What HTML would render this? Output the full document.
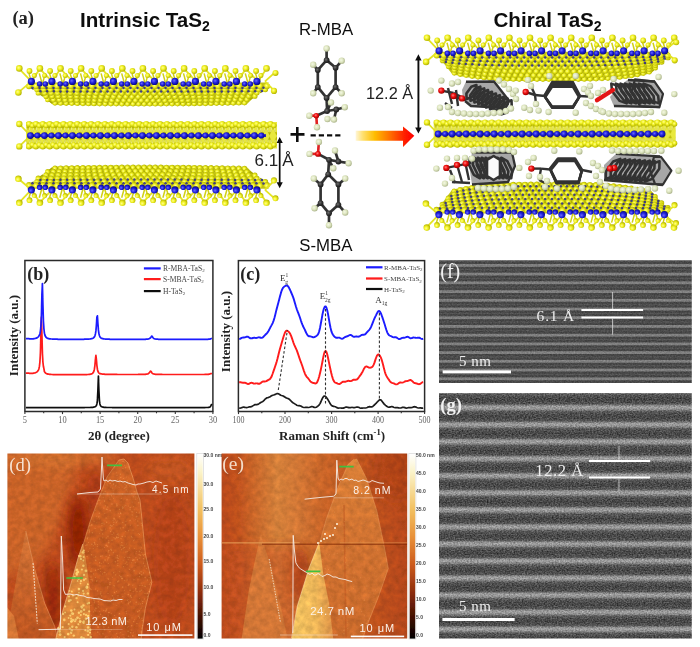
<!DOCTYPE html>
<html><head><meta charset="utf-8"><style>
html,body{margin:0;padding:0;background:#fff;width:700px;height:647px;overflow:hidden}
svg{display:block}
</style></head><body>
<svg width="700" height="647" viewBox="0 0 700 647">

<defs>
<radialGradient id="gy" cx="0.4" cy="0.4" r="0.6"><stop offset="0" stop-color="#ffff90"/><stop offset="0.45" stop-color="#f2f226"/><stop offset="1" stop-color="#b4b400"/></radialGradient>
<radialGradient id="gb" cx="0.4" cy="0.4" r="0.6"><stop offset="0" stop-color="#6a6aff"/><stop offset="0.5" stop-color="#2222dd"/><stop offset="1" stop-color="#0a0a8a"/></radialGradient>
<radialGradient id="gh" cx="0.4" cy="0.4" r="0.6"><stop offset="0" stop-color="#f4f8e4"/><stop offset="0.55" stop-color="#dde5bf"/><stop offset="1" stop-color="#b0b890"/></radialGradient>
<radialGradient id="gc" cx="0.4" cy="0.4" r="0.6"><stop offset="0" stop-color="#707070"/><stop offset="0.5" stop-color="#3a3a3a"/><stop offset="1" stop-color="#1a1a1a"/></radialGradient>
<radialGradient id="go" cx="0.4" cy="0.4" r="0.6"><stop offset="0" stop-color="#ff8080"/><stop offset="0.5" stop-color="#ee1010"/><stop offset="1" stop-color="#a00000"/></radialGradient>
<linearGradient id="arrowg" x1="0" y1="0" x2="1" y2="0">
 <stop offset="0" stop-color="#fff6d8"/><stop offset="0.12" stop-color="#ffe070"/><stop offset="0.32" stop-color="#ffbe00"/><stop offset="0.6" stop-color="#ff6a00"/><stop offset="0.85" stop-color="#ff1a00"/><stop offset="1" stop-color="#ff0000"/></linearGradient>
<linearGradient id="cbar" x1="0" y1="0" x2="0" y2="1">
 <stop offset="0" stop-color="#ffffff"/><stop offset="0.1" stop-color="#fbf3c8"/><stop offset="0.3" stop-color="#f2c060"/><stop offset="0.45" stop-color="#e89038"/><stop offset="0.6" stop-color="#cc5a1c"/><stop offset="0.75" stop-color="#8c2c0c"/><stop offset="0.9" stop-color="#3a0c02"/><stop offset="1" stop-color="#000000"/></linearGradient>

<pattern id="patUnder" patternUnits="userSpaceOnUse" width="4.3" height="3.6" patternTransform="skewX(28)">
 <rect width="4.3" height="3.6" fill="#bcbc08"/>
 <circle cx="2.15" cy="1.8" r="2.0" fill="url(#gy)"/>
</pattern>
<pattern id="patUpper" patternUnits="userSpaceOnUse" width="5.15" height="15">
 <rect width="5.15" height="15" fill="#e6e628"/>
 <path d="M0 0 L2.6 15 M5.15 0 L2.6 15" stroke="#c0c008" stroke-width="0.9"/>
</pattern>
<pattern id="patEdge" patternUnits="userSpaceOnUse" width="7" height="26.5">
 <rect width="7" height="26.5" fill="#e8e83c"/>
 <path d="M0 2.5 L3.5 10 L7 2.5 M0 21.5 L3.5 14 L7 21.5" stroke="#b8b800" stroke-width="1.2" fill="none"/>
 <path d="M1.2 4 L2.4 8 M4.6 8 L5.8 4 M1.2 20 L2.4 16 M4.6 16 L5.8 20" stroke="#f8f8a0" stroke-width="0.9" fill="none"/>
</pattern>

<filter id="afmNoise" x="0" y="0" width="1" height="1" color-interpolation-filters="sRGB">
 <feTurbulence type="fractalNoise" baseFrequency="0.16" numOctaves="3" seed="11" result="t"/>
 <feColorMatrix in="t" type="matrix" values="1 0 0 0 0  1 0 0 0 0  1 0 0 0 0  0 0 0 0 1" result="g"/>
 <feComposite in="SourceGraphic" in2="g" operator="arithmetic" k1="0.28" k2="0.86" k3="0" k4="0"/>
 <feGaussianBlur stdDeviation="0.45"/>
</filter>
<filter id="afmNoise2" x="0" y="0" width="1" height="1" color-interpolation-filters="sRGB">
 <feTurbulence type="fractalNoise" baseFrequency="0.16" numOctaves="3" seed="21" result="t"/>
 <feColorMatrix in="t" type="matrix" values="1 0 0 0 0  1 0 0 0 0  1 0 0 0 0  0 0 0 0 1" result="g"/>
 <feComposite in="SourceGraphic" in2="g" operator="arithmetic" k1="0.28" k2="0.86" k3="0" k4="0"/>
 <feGaussianBlur stdDeviation="0.45"/>
</filter>
<filter id="temgF" x="0" y="0" width="1" height="1" color-interpolation-filters="sRGB">
 <feTurbulence type="fractalNoise" baseFrequency="0.6 0.75" numOctaves="2" seed="5" result="t"/>
 <feColorMatrix in="t" type="matrix" values="1 0 0 0 0  1 0 0 0 0  1 0 0 0 0  0 0 0 0 1" result="g"/>
 <feComposite in="SourceGraphic" in2="g" operator="arithmetic" k1="0" k2="1" k3="0.42" k4="-0.21"/>
 <feGaussianBlur stdDeviation="0.6"/>
</filter>
<filter id="temfF" x="0" y="0" width="1" height="1" color-interpolation-filters="sRGB">
 <feTurbulence type="fractalNoise" baseFrequency="0.6 0.8" numOctaves="2" seed="3" result="t"/>
 <feColorMatrix in="t" type="matrix" values="1 0 0 0 0  1 0 0 0 0  1 0 0 0 0  0 0 0 0 1" result="g"/>
 <feComposite in="SourceGraphic" in2="g" operator="arithmetic" k1="0" k2="1" k3="0.2" k4="-0.1"/>
 <feGaussianBlur stdDeviation="0.75"/>
</filter>

<pattern id="bandG" patternUnits="userSpaceOnUse" x="0" y="0" width="20" height="17.05" patternTransform="translate(0,14.30)">
 <rect width="20" height="17.05" fill="url(#bandGrad)"/>
</pattern>
<linearGradient id="bandGrad" x1="0" y1="0" x2="0" y2="1">
 <stop offset="0" stop-color="#a2a2a2"/><stop offset="0.12" stop-color="#8e8e8e"/><stop offset="0.26" stop-color="#565656"/><stop offset="0.55" stop-color="#464646"/><stop offset="0.8" stop-color="#545454"/><stop offset="0.9" stop-color="#8c8c8c"/><stop offset="1" stop-color="#a2a2a2"/></linearGradient>
<filter id="noiseTEMf" x="0" y="0" width="1" height="1">
 <feTurbulence type="fractalNoise" baseFrequency="0.9 0.5" numOctaves="2" seed="3" result="n"/>
 <feColorMatrix type="matrix" values="0 0 0 0 0.5  0 0 0 0 0.5  0 0 0 0 0.5  0.6 0 0 0 -0.3" />
</filter>
<filter id="noiseTEMg" x="0" y="0" width="1" height="1">
 <feTurbulence type="fractalNoise" baseFrequency="0.7 0.45" numOctaves="2" seed="5" result="n"/>
 <feColorMatrix type="matrix" values="1.4 0 0 0 -0.2  1.4 0 0 0 -0.2  1.4 0 0 0 -0.2  0 0 0 0 0.55" />
</filter>
<filter id="noiseAFM" x="0" y="0" width="1" height="1">
 <feTurbulence type="fractalNoise" baseFrequency="0.06" numOctaves="3" seed="11"/>
 <feColorMatrix type="matrix" values="0 0 0 0 0.55  0 0 0 0 0.2  0 0 0 0 0.03  -2.2 0 0 0 1.35" />
</filter>
<filter id="noiseAFM2" x="0" y="0" width="1" height="1">
 <feTurbulence type="fractalNoise" baseFrequency="0.35" numOctaves="2" seed="2"/>
 <feColorMatrix type="matrix" values="0 0 0 0 1  0 0 0 0 0.75  0 0 0 0 0.45  2.5 0 0 0 -1.25" />
</filter>
<filter id="blur05"><feGaussianBlur stdDeviation="0.5"/></filter>
<filter id="blur03"><feGaussianBlur stdDeviation="0.35"/></filter>
<filter id="gblur" filterUnits="userSpaceOnUse" x="0" y="0" width="700" height="647"><feGaussianBlur stdDeviation="0.4"/></filter><filter id="blur6" x="-50%" y="-50%" width="200%" height="200%"><feGaussianBlur stdDeviation="6"/></filter><filter id="blurBig" x="-50%" y="-50%" width="200%" height="200%"><feGaussianBlur stdDeviation="10"/></filter></defs>
<rect width="700" height="647" fill="#fff"/>
<g filter="url(#gblur)">
<text x="12.4" y="24.2" font-family="Liberation Serif" font-weight="bold" font-size="18.5" fill="#222">(a)</text>
<text x="80" y="27.4" font-family="Liberation Sans" font-weight="bold" font-size="20.6" fill="#111">Intrinsic TaS<tspan font-size="14" dy="4">2</tspan></text>
<text x="493.5" y="27.2" font-family="Liberation Sans" font-weight="bold" font-size="20.6" fill="#111">Chiral TaS<tspan font-size="14" dy="4">2</tspan></text>
<text x="299" y="34.9" font-family="Liberation Sans" font-size="16.8" fill="#111">R-MBA</text>
<text x="299.3" y="250.7" font-family="Liberation Sans" font-size="16.8" fill="#111">S-MBA</text>
<g transform="translate(0,68.4)">
<polygon points="27,14 269,14 246.5,36.1 236.8,36.3 227.1,36.5 217.5,36.7 207.8,36.8 198.1,37 188.5,37.1 178.8,37.2 169.1,37.2 159.4,37.3 149.8,37.3 140.1,37.3 130.4,37.3 120.7,37.2 111.1,37.2 101.4,37.1 91.7,37 82.1,36.9 72.4,36.7 62.7,36.6 53,36.4" fill="#c4c418"/>
<path d="M29 17.8 L33.7 21.1 M36 17.8 L40.4 21.2 M43 17.8 L47.1 21.2 M50 17.8 L53.8 21.2 M57 17.8 L60.5 21.2 M64 17.8 L67.2 21.3 M71 17.8 L73.9 21.3 M78 17.8 L80.7 21.3 M85 17.8 L87.4 21.3 M92 17.8 L94.1 21.3 M99 17.8 L100.8 21.4 M106 17.8 L107.5 21.4 M113 17.8 L114.2 21.4 M120 17.8 L120.9 21.4 M127 17.8 L127.7 21.4 M134 17.8 L134.4 21.4 M141 17.8 L141.1 21.4 M148 17.8 L147.8 21.4 M155 17.8 L154.5 21.4 M162 17.8 L161.2 21.4 M169 17.8 L167.9 21.4 M176 17.8 L174.7 21.4 M183 17.8 L181.4 21.4 M190 17.8 L188.1 21.4 M197 17.8 L194.8 21.3 M204 17.8 L201.5 21.3 M211 17.8 L208.2 21.3 M218 17.8 L214.9 21.3 M225 17.8 L221.7 21.3 M232 17.8 L228.4 21.2 M239 17.8 L235.1 21.2 M246 17.8 L241.8 21.2 M253 17.8 L248.5 21.2 M260 17.8 L255.2 21.1 M267 17.8 L261.9 21.1 M37 21.1 L41.5 24.5 M43.7 21.2 L47.9 24.6 M50.4 21.2 L54.4 24.6 M57.2 21.2 L60.8 24.7 M63.9 21.3 L67.2 24.7 M70.6 21.3 L73.7 24.8 M77.3 21.3 L80.1 24.8 M84 21.3 L86.5 24.9 M90.7 21.3 L92.9 24.9 M97.4 21.4 L99.4 24.9 M104.2 21.4 L105.8 24.9 M110.9 21.4 L112.2 25 M117.6 21.4 L118.7 25 M124.3 21.4 L125.1 25 M131 21.4 L131.5 25 M137.7 21.4 L137.9 25 M144.4 21.4 L144.4 25 M151.2 21.4 L150.8 25 M157.9 21.4 L157.2 25 M164.6 21.4 L163.7 25 M171.3 21.4 L170.1 25 M178 21.4 L176.5 24.9 M184.7 21.4 L183 24.9 M191.4 21.3 L189.4 24.9 M198.2 21.3 L195.8 24.9 M204.9 21.3 L202.2 24.8 M211.6 21.3 L208.7 24.8 M218.3 21.3 L215.1 24.8 M225 21.2 L221.5 24.7 M231.7 21.2 L228 24.7 M238.4 21.2 L234.4 24.6 M245.2 21.2 L240.8 24.6 M251.9 21.1 L247.2 24.5 M258.6 21.1 L253.7 24.5 M265.3 21.1 L260.1 24.4 M38.3 24.5 L43 27.9 M44.7 24.6 L49.1 28 M51.2 24.6 L55.2 28.1 M57.6 24.7 L61.4 28.2 M64 24.7 L67.5 28.2 M70.4 24.8 L73.7 28.3 M76.9 24.8 L79.8 28.3 M83.3 24.8 L86 28.4 M89.7 24.9 L92.1 28.4 M96.2 24.9 L98.2 28.5 M102.6 24.9 L104.4 28.5 M109 24.9 L110.5 28.5 M115.4 25 L116.7 28.6 M121.9 25 L122.8 28.6 M128.3 25 L129 28.6 M134.7 25 L135.1 28.6 M141.2 25 L141.2 28.6 M147.6 25 L147.4 28.6 M154 25 L153.5 28.6 M160.4 25 L159.7 28.6 M166.9 25 L165.8 28.6 M173.3 25 L172 28.5 M179.7 24.9 L178.1 28.5 M186.2 24.9 L184.2 28.5 M192.6 24.9 L190.4 28.4 M199 24.9 L196.5 28.4 M205.5 24.8 L202.7 28.4 M211.9 24.8 L208.8 28.3 M218.3 24.7 L215 28.3 M224.7 24.7 L221.1 28.2 M231.2 24.7 L227.2 28.1 M237.6 24.6 L233.4 28.1 M244 24.5 L239.5 28 M250.5 24.5 L245.7 27.9 M256.9 24.4 L251.8 27.8 M46 28 L50.5 31.4 M52.2 28 L56.4 31.5 M58.3 28.1 L62.2 31.6 M64.5 28.2 L68.1 31.7 M70.6 28.2 L74 31.8 M76.7 28.3 L79.8 31.8 M82.9 28.4 L85.7 31.9 M89 28.4 L91.5 32 M95.2 28.4 L97.4 32 M101.3 28.5 L103.3 32.1 M107.5 28.5 L109.1 32.1 M113.6 28.5 L115 32.1 M119.7 28.6 L120.8 32.2 M125.9 28.6 L126.7 32.2 M132 28.6 L132.5 32.2 M138.2 28.6 L138.4 32.2 M144.3 28.6 L144.3 32.2 M150.5 28.6 L150.1 32.2 M156.6 28.6 L156 32.2 M162.7 28.6 L161.8 32.2 M168.9 28.6 L167.7 32.1 M175 28.5 L173.5 32.1 M181.2 28.5 L179.4 32.1 M187.3 28.5 L185.3 32 M193.5 28.4 L191.1 32 M199.6 28.4 L197 31.9 M205.7 28.3 L202.8 31.9 M211.9 28.3 L208.7 31.8 M218 28.2 L214.5 31.7 M224.2 28.2 L220.4 31.7 M230.3 28.1 L226.3 31.6 M236.5 28 L232.1 31.5 M242.6 27.9 L238 31.4 M248.8 27.9 L243.8 31.3 M254.9 27.8 L249.7 31.2 M47.6 31.4 L52.3 34.9 M53.5 31.5 L57.8 35 M59.3 31.6 L63.4 35.1 M65.2 31.7 L69 35.2 M71 31.7 L74.5 35.3 M76.9 31.8 L80.1 35.4 M82.8 31.9 L85.7 35.4 M88.6 31.9 L91.3 35.5 M94.5 32 L96.8 35.6 M100.3 32 L102.4 35.6 M106.2 32.1 L108 35.7 M112 32.1 L113.5 35.7 M117.9 32.1 L119.1 35.7 M123.8 32.2 L124.7 35.8 M129.6 32.2 L130.3 35.8 M135.5 32.2 L135.8 35.8 M141.3 32.2 L141.4 35.8 M147.2 32.2 L147 35.8 M153 32.2 L152.6 35.8 M158.9 32.2 L158.1 35.8 M164.8 32.2 L163.7 35.8 M170.6 32.1 L169.3 35.7 M176.5 32.1 L174.8 35.7 M182.3 32.1 L180.4 35.6 M188.2 32 L186 35.6 M194 32 L191.6 35.5 M199.9 31.9 L197.1 35.5 M205.8 31.8 L202.7 35.4 M211.6 31.8 L208.3 35.3 M217.5 31.7 L213.8 35.2 M223.3 31.6 L219.4 35.1 M229.2 31.5 L225 35 M235 31.4 L230.6 34.9 M240.9 31.3 L236.1 34.8 M246.8 31.2 L241.7 34.7" stroke="#a8a800" stroke-width="1.3" fill="none"/>
<circle cx="55" cy="34.9" r="2.4" fill="url(#gy)"/>
<circle cx="60.6" cy="35" r="2.4" fill="url(#gy)"/>
<circle cx="66.2" cy="35.1" r="2.4" fill="url(#gy)"/>
<circle cx="71.8" cy="35.2" r="2.4" fill="url(#gy)"/>
<circle cx="77.3" cy="35.3" r="2.4" fill="url(#gy)"/>
<circle cx="82.9" cy="35.4" r="2.4" fill="url(#gy)"/>
<circle cx="88.5" cy="35.5" r="2.4" fill="url(#gy)"/>
<circle cx="94" cy="35.5" r="2.4" fill="url(#gy)"/>
<circle cx="99.6" cy="35.6" r="2.4" fill="url(#gy)"/>
<circle cx="105.2" cy="35.6" r="2.4" fill="url(#gy)"/>
<circle cx="110.8" cy="35.7" r="2.4" fill="url(#gy)"/>
<circle cx="116.3" cy="35.7" r="2.4" fill="url(#gy)"/>
<circle cx="121.9" cy="35.8" r="2.4" fill="url(#gy)"/>
<circle cx="127.5" cy="35.8" r="2.4" fill="url(#gy)"/>
<circle cx="133.1" cy="35.8" r="2.4" fill="url(#gy)"/>
<circle cx="138.6" cy="35.8" r="2.4" fill="url(#gy)"/>
<circle cx="144.2" cy="35.8" r="2.4" fill="url(#gy)"/>
<circle cx="149.8" cy="35.8" r="2.4" fill="url(#gy)"/>
<circle cx="155.3" cy="35.8" r="2.4" fill="url(#gy)"/>
<circle cx="160.9" cy="35.8" r="2.4" fill="url(#gy)"/>
<circle cx="166.5" cy="35.7" r="2.4" fill="url(#gy)"/>
<circle cx="172.1" cy="35.7" r="2.4" fill="url(#gy)"/>
<circle cx="177.6" cy="35.7" r="2.4" fill="url(#gy)"/>
<circle cx="183.2" cy="35.6" r="2.4" fill="url(#gy)"/>
<circle cx="188.8" cy="35.6" r="2.4" fill="url(#gy)"/>
<circle cx="194.3" cy="35.5" r="2.4" fill="url(#gy)"/>
<circle cx="199.9" cy="35.4" r="2.4" fill="url(#gy)"/>
<circle cx="205.5" cy="35.4" r="2.4" fill="url(#gy)"/>
<circle cx="211.1" cy="35.3" r="2.4" fill="url(#gy)"/>
<circle cx="216.6" cy="35.2" r="2.4" fill="url(#gy)"/>
<circle cx="222.2" cy="35.1" r="2.4" fill="url(#gy)"/>
<circle cx="227.8" cy="35" r="2.4" fill="url(#gy)"/>
<circle cx="233.3" cy="34.9" r="2.4" fill="url(#gy)"/>
<circle cx="238.9" cy="34.8" r="2.4" fill="url(#gy)"/>
<circle cx="244.5" cy="34.7" r="2.4" fill="url(#gy)"/>
<circle cx="47.6" cy="31.4" r="2.5" fill="url(#gy)"/>
<circle cx="53.5" cy="31.5" r="2.5" fill="url(#gy)"/>
<circle cx="59.3" cy="31.6" r="2.5" fill="url(#gy)"/>
<circle cx="65.2" cy="31.7" r="2.5" fill="url(#gy)"/>
<circle cx="71" cy="31.7" r="2.5" fill="url(#gy)"/>
<circle cx="76.9" cy="31.8" r="2.5" fill="url(#gy)"/>
<circle cx="82.8" cy="31.9" r="2.5" fill="url(#gy)"/>
<circle cx="88.6" cy="31.9" r="2.5" fill="url(#gy)"/>
<circle cx="94.5" cy="32" r="2.5" fill="url(#gy)"/>
<circle cx="100.3" cy="32" r="2.5" fill="url(#gy)"/>
<circle cx="106.2" cy="32.1" r="2.5" fill="url(#gy)"/>
<circle cx="112" cy="32.1" r="2.5" fill="url(#gy)"/>
<circle cx="117.9" cy="32.1" r="2.5" fill="url(#gy)"/>
<circle cx="123.8" cy="32.2" r="2.5" fill="url(#gy)"/>
<circle cx="129.6" cy="32.2" r="2.5" fill="url(#gy)"/>
<circle cx="135.5" cy="32.2" r="2.5" fill="url(#gy)"/>
<circle cx="141.3" cy="32.2" r="2.5" fill="url(#gy)"/>
<circle cx="147.2" cy="32.2" r="2.5" fill="url(#gy)"/>
<circle cx="153" cy="32.2" r="2.5" fill="url(#gy)"/>
<circle cx="158.9" cy="32.2" r="2.5" fill="url(#gy)"/>
<circle cx="164.8" cy="32.2" r="2.5" fill="url(#gy)"/>
<circle cx="170.6" cy="32.1" r="2.5" fill="url(#gy)"/>
<circle cx="176.5" cy="32.1" r="2.5" fill="url(#gy)"/>
<circle cx="182.3" cy="32.1" r="2.5" fill="url(#gy)"/>
<circle cx="188.2" cy="32" r="2.5" fill="url(#gy)"/>
<circle cx="194" cy="32" r="2.5" fill="url(#gy)"/>
<circle cx="199.9" cy="31.9" r="2.5" fill="url(#gy)"/>
<circle cx="205.8" cy="31.8" r="2.5" fill="url(#gy)"/>
<circle cx="211.6" cy="31.8" r="2.5" fill="url(#gy)"/>
<circle cx="217.5" cy="31.7" r="2.5" fill="url(#gy)"/>
<circle cx="223.3" cy="31.6" r="2.5" fill="url(#gy)"/>
<circle cx="229.2" cy="31.5" r="2.5" fill="url(#gy)"/>
<circle cx="235" cy="31.4" r="2.5" fill="url(#gy)"/>
<circle cx="240.9" cy="31.3" r="2.5" fill="url(#gy)"/>
<circle cx="246.8" cy="31.2" r="2.5" fill="url(#gy)"/>
<circle cx="46" cy="28" r="2.6" fill="url(#gy)"/>
<circle cx="52.2" cy="28" r="2.6" fill="url(#gy)"/>
<circle cx="58.3" cy="28.1" r="2.6" fill="url(#gy)"/>
<circle cx="64.5" cy="28.2" r="2.6" fill="url(#gy)"/>
<circle cx="70.6" cy="28.2" r="2.6" fill="url(#gy)"/>
<circle cx="76.7" cy="28.3" r="2.6" fill="url(#gy)"/>
<circle cx="82.9" cy="28.4" r="2.6" fill="url(#gy)"/>
<circle cx="89" cy="28.4" r="2.6" fill="url(#gy)"/>
<circle cx="95.2" cy="28.4" r="2.6" fill="url(#gy)"/>
<circle cx="101.3" cy="28.5" r="2.6" fill="url(#gy)"/>
<circle cx="107.5" cy="28.5" r="2.6" fill="url(#gy)"/>
<circle cx="113.6" cy="28.5" r="2.6" fill="url(#gy)"/>
<circle cx="119.7" cy="28.6" r="2.6" fill="url(#gy)"/>
<circle cx="125.9" cy="28.6" r="2.6" fill="url(#gy)"/>
<circle cx="132" cy="28.6" r="2.6" fill="url(#gy)"/>
<circle cx="138.2" cy="28.6" r="2.6" fill="url(#gy)"/>
<circle cx="144.3" cy="28.6" r="2.6" fill="url(#gy)"/>
<circle cx="150.5" cy="28.6" r="2.6" fill="url(#gy)"/>
<circle cx="156.6" cy="28.6" r="2.6" fill="url(#gy)"/>
<circle cx="162.7" cy="28.6" r="2.6" fill="url(#gy)"/>
<circle cx="168.9" cy="28.6" r="2.6" fill="url(#gy)"/>
<circle cx="175" cy="28.5" r="2.6" fill="url(#gy)"/>
<circle cx="181.2" cy="28.5" r="2.6" fill="url(#gy)"/>
<circle cx="187.3" cy="28.5" r="2.6" fill="url(#gy)"/>
<circle cx="193.5" cy="28.4" r="2.6" fill="url(#gy)"/>
<circle cx="199.6" cy="28.4" r="2.6" fill="url(#gy)"/>
<circle cx="205.7" cy="28.3" r="2.6" fill="url(#gy)"/>
<circle cx="211.9" cy="28.3" r="2.6" fill="url(#gy)"/>
<circle cx="218" cy="28.2" r="2.6" fill="url(#gy)"/>
<circle cx="224.2" cy="28.2" r="2.6" fill="url(#gy)"/>
<circle cx="230.3" cy="28.1" r="2.6" fill="url(#gy)"/>
<circle cx="236.5" cy="28" r="2.6" fill="url(#gy)"/>
<circle cx="242.6" cy="27.9" r="2.6" fill="url(#gy)"/>
<circle cx="248.8" cy="27.9" r="2.6" fill="url(#gy)"/>
<circle cx="254.9" cy="27.8" r="2.6" fill="url(#gy)"/>
<circle cx="38.3" cy="24.5" r="2.7" fill="url(#gy)"/>
<circle cx="44.7" cy="24.6" r="2.7" fill="url(#gy)"/>
<circle cx="51.2" cy="24.6" r="2.7" fill="url(#gy)"/>
<circle cx="57.6" cy="24.7" r="2.7" fill="url(#gy)"/>
<circle cx="64" cy="24.7" r="2.7" fill="url(#gy)"/>
<circle cx="70.4" cy="24.8" r="2.7" fill="url(#gy)"/>
<circle cx="76.9" cy="24.8" r="2.7" fill="url(#gy)"/>
<circle cx="83.3" cy="24.8" r="2.7" fill="url(#gy)"/>
<circle cx="89.7" cy="24.9" r="2.7" fill="url(#gy)"/>
<circle cx="96.2" cy="24.9" r="2.7" fill="url(#gy)"/>
<circle cx="102.6" cy="24.9" r="2.7" fill="url(#gy)"/>
<circle cx="109" cy="24.9" r="2.7" fill="url(#gy)"/>
<circle cx="115.4" cy="25" r="2.7" fill="url(#gy)"/>
<circle cx="121.9" cy="25" r="2.7" fill="url(#gy)"/>
<circle cx="128.3" cy="25" r="2.7" fill="url(#gy)"/>
<circle cx="134.7" cy="25" r="2.7" fill="url(#gy)"/>
<circle cx="141.2" cy="25" r="2.7" fill="url(#gy)"/>
<circle cx="147.6" cy="25" r="2.7" fill="url(#gy)"/>
<circle cx="154" cy="25" r="2.7" fill="url(#gy)"/>
<circle cx="160.4" cy="25" r="2.7" fill="url(#gy)"/>
<circle cx="166.9" cy="25" r="2.7" fill="url(#gy)"/>
<circle cx="173.3" cy="25" r="2.7" fill="url(#gy)"/>
<circle cx="179.7" cy="24.9" r="2.7" fill="url(#gy)"/>
<circle cx="186.2" cy="24.9" r="2.7" fill="url(#gy)"/>
<circle cx="192.6" cy="24.9" r="2.7" fill="url(#gy)"/>
<circle cx="199" cy="24.9" r="2.7" fill="url(#gy)"/>
<circle cx="205.5" cy="24.8" r="2.7" fill="url(#gy)"/>
<circle cx="211.9" cy="24.8" r="2.7" fill="url(#gy)"/>
<circle cx="218.3" cy="24.7" r="2.7" fill="url(#gy)"/>
<circle cx="224.7" cy="24.7" r="2.7" fill="url(#gy)"/>
<circle cx="231.2" cy="24.7" r="2.7" fill="url(#gy)"/>
<circle cx="237.6" cy="24.6" r="2.7" fill="url(#gy)"/>
<circle cx="244" cy="24.5" r="2.7" fill="url(#gy)"/>
<circle cx="250.5" cy="24.5" r="2.7" fill="url(#gy)"/>
<circle cx="256.9" cy="24.4" r="2.7" fill="url(#gy)"/>
<circle cx="37" cy="21.1" r="2.8" fill="url(#gy)"/>
<circle cx="43.7" cy="21.2" r="2.8" fill="url(#gy)"/>
<circle cx="50.4" cy="21.2" r="2.8" fill="url(#gy)"/>
<circle cx="57.2" cy="21.2" r="2.8" fill="url(#gy)"/>
<circle cx="63.9" cy="21.3" r="2.8" fill="url(#gy)"/>
<circle cx="70.6" cy="21.3" r="2.8" fill="url(#gy)"/>
<circle cx="77.3" cy="21.3" r="2.8" fill="url(#gy)"/>
<circle cx="84" cy="21.3" r="2.8" fill="url(#gy)"/>
<circle cx="90.7" cy="21.3" r="2.8" fill="url(#gy)"/>
<circle cx="97.4" cy="21.4" r="2.8" fill="url(#gy)"/>
<circle cx="104.2" cy="21.4" r="2.8" fill="url(#gy)"/>
<circle cx="110.9" cy="21.4" r="2.8" fill="url(#gy)"/>
<circle cx="117.6" cy="21.4" r="2.8" fill="url(#gy)"/>
<circle cx="124.3" cy="21.4" r="2.8" fill="url(#gy)"/>
<circle cx="131" cy="21.4" r="2.8" fill="url(#gy)"/>
<circle cx="137.7" cy="21.4" r="2.8" fill="url(#gy)"/>
<circle cx="144.4" cy="21.4" r="2.8" fill="url(#gy)"/>
<circle cx="151.2" cy="21.4" r="2.8" fill="url(#gy)"/>
<circle cx="157.9" cy="21.4" r="2.8" fill="url(#gy)"/>
<circle cx="164.6" cy="21.4" r="2.8" fill="url(#gy)"/>
<circle cx="171.3" cy="21.4" r="2.8" fill="url(#gy)"/>
<circle cx="178" cy="21.4" r="2.8" fill="url(#gy)"/>
<circle cx="184.7" cy="21.4" r="2.8" fill="url(#gy)"/>
<circle cx="191.4" cy="21.3" r="2.8" fill="url(#gy)"/>
<circle cx="198.2" cy="21.3" r="2.8" fill="url(#gy)"/>
<circle cx="204.9" cy="21.3" r="2.8" fill="url(#gy)"/>
<circle cx="211.6" cy="21.3" r="2.8" fill="url(#gy)"/>
<circle cx="218.3" cy="21.3" r="2.8" fill="url(#gy)"/>
<circle cx="225" cy="21.2" r="2.8" fill="url(#gy)"/>
<circle cx="231.7" cy="21.2" r="2.8" fill="url(#gy)"/>
<circle cx="238.4" cy="21.2" r="2.8" fill="url(#gy)"/>
<circle cx="245.2" cy="21.2" r="2.8" fill="url(#gy)"/>
<circle cx="251.9" cy="21.1" r="2.8" fill="url(#gy)"/>
<circle cx="258.6" cy="21.1" r="2.8" fill="url(#gy)"/>
<circle cx="265.3" cy="21.1" r="2.8" fill="url(#gy)"/>
<circle cx="29" cy="17.8" r="3" fill="url(#gy)"/>
<circle cx="36" cy="17.8" r="3" fill="url(#gy)"/>
<circle cx="43" cy="17.8" r="3" fill="url(#gy)"/>
<circle cx="50" cy="17.8" r="3" fill="url(#gy)"/>
<circle cx="57" cy="17.8" r="3" fill="url(#gy)"/>
<circle cx="64" cy="17.8" r="3" fill="url(#gy)"/>
<circle cx="71" cy="17.8" r="3" fill="url(#gy)"/>
<circle cx="78" cy="17.8" r="3" fill="url(#gy)"/>
<circle cx="85" cy="17.8" r="3" fill="url(#gy)"/>
<circle cx="92" cy="17.8" r="3" fill="url(#gy)"/>
<circle cx="99" cy="17.8" r="3" fill="url(#gy)"/>
<circle cx="106" cy="17.8" r="3" fill="url(#gy)"/>
<circle cx="113" cy="17.8" r="3" fill="url(#gy)"/>
<circle cx="120" cy="17.8" r="3" fill="url(#gy)"/>
<circle cx="127" cy="17.8" r="3" fill="url(#gy)"/>
<circle cx="134" cy="17.8" r="3" fill="url(#gy)"/>
<circle cx="141" cy="17.8" r="3" fill="url(#gy)"/>
<circle cx="148" cy="17.8" r="3" fill="url(#gy)"/>
<circle cx="155" cy="17.8" r="3" fill="url(#gy)"/>
<circle cx="162" cy="17.8" r="3" fill="url(#gy)"/>
<circle cx="169" cy="17.8" r="3" fill="url(#gy)"/>
<circle cx="176" cy="17.8" r="3" fill="url(#gy)"/>
<circle cx="183" cy="17.8" r="3" fill="url(#gy)"/>
<circle cx="190" cy="17.8" r="3" fill="url(#gy)"/>
<circle cx="197" cy="17.8" r="3" fill="url(#gy)"/>
<circle cx="204" cy="17.8" r="3" fill="url(#gy)"/>
<circle cx="211" cy="17.8" r="3" fill="url(#gy)"/>
<circle cx="218" cy="17.8" r="3" fill="url(#gy)"/>
<circle cx="225" cy="17.8" r="3" fill="url(#gy)"/>
<circle cx="232" cy="17.8" r="3" fill="url(#gy)"/>
<circle cx="239" cy="17.8" r="3" fill="url(#gy)"/>
<circle cx="246" cy="17.8" r="3" fill="url(#gy)"/>
<circle cx="253" cy="17.8" r="3" fill="url(#gy)"/>
<circle cx="260" cy="17.8" r="3" fill="url(#gy)"/>
<circle cx="267" cy="17.8" r="3" fill="url(#gy)"/>
<g fill="#262690" opacity="0.85"><circle cx="32.5" cy="19.5" r="1.25"/><circle cx="39.5" cy="19.5" r="1.25"/><circle cx="46.5" cy="19.5" r="1.25"/><circle cx="53.5" cy="19.5" r="1.25"/><circle cx="60.5" cy="19.5" r="1.25"/><circle cx="67.5" cy="19.5" r="1.25"/><circle cx="74.5" cy="19.5" r="1.25"/><circle cx="81.5" cy="19.6" r="1.25"/><circle cx="88.5" cy="19.6" r="1.25"/><circle cx="95.5" cy="19.6" r="1.25"/><circle cx="102.5" cy="19.6" r="1.25"/><circle cx="109.5" cy="19.6" r="1.25"/><circle cx="116.5" cy="19.6" r="1.25"/><circle cx="123.5" cy="19.6" r="1.25"/><circle cx="130.5" cy="19.6" r="1.25"/><circle cx="137.5" cy="19.6" r="1.25"/><circle cx="144.5" cy="19.6" r="1.25"/><circle cx="151.5" cy="19.6" r="1.25"/><circle cx="158.5" cy="19.6" r="1.25"/><circle cx="165.5" cy="19.6" r="1.25"/><circle cx="172.5" cy="19.6" r="1.25"/><circle cx="179.5" cy="19.6" r="1.25"/><circle cx="186.5" cy="19.6" r="1.25"/><circle cx="193.5" cy="19.6" r="1.25"/><circle cx="200.5" cy="19.6" r="1.25"/><circle cx="207.5" cy="19.6" r="1.25"/><circle cx="214.5" cy="19.5" r="1.25"/><circle cx="221.5" cy="19.5" r="1.25"/><circle cx="228.5" cy="19.5" r="1.25"/><circle cx="235.5" cy="19.5" r="1.25"/><circle cx="242.5" cy="19.5" r="1.25"/><circle cx="249.5" cy="19.5" r="1.25"/><circle cx="256.5" cy="19.5" r="1.25"/><circle cx="263.5" cy="19.4" r="1.25"/><circle cx="40.4" cy="22.8" r="1.25"/><circle cx="47.1" cy="22.9" r="1.25"/><circle cx="53.8" cy="22.9" r="1.25"/><circle cx="60.5" cy="23" r="1.25"/><circle cx="67.2" cy="23" r="1.25"/><circle cx="73.9" cy="23" r="1.25"/><circle cx="80.7" cy="23.1" r="1.25"/><circle cx="87.4" cy="23.1" r="1.25"/><circle cx="94.1" cy="23.1" r="1.25"/><circle cx="100.8" cy="23.1" r="1.25"/><circle cx="107.5" cy="23.2" r="1.25"/><circle cx="114.2" cy="23.2" r="1.25"/><circle cx="120.9" cy="23.2" r="1.25"/><circle cx="127.7" cy="23.2" r="1.25"/><circle cx="134.4" cy="23.2" r="1.25"/><circle cx="141.1" cy="23.2" r="1.25"/><circle cx="147.8" cy="23.2" r="1.25"/><circle cx="154.5" cy="23.2" r="1.25"/><circle cx="161.2" cy="23.2" r="1.25"/><circle cx="167.9" cy="23.2" r="1.25"/><circle cx="174.7" cy="23.2" r="1.25"/><circle cx="181.4" cy="23.2" r="1.25"/><circle cx="188.1" cy="23.1" r="1.25"/><circle cx="194.8" cy="23.1" r="1.25"/><circle cx="201.5" cy="23.1" r="1.25"/><circle cx="208.2" cy="23.1" r="1.25"/><circle cx="214.9" cy="23" r="1.25"/><circle cx="221.7" cy="23" r="1.25"/><circle cx="228.4" cy="23" r="1.25"/><circle cx="235.1" cy="22.9" r="1.25"/><circle cx="241.8" cy="22.9" r="1.25"/><circle cx="248.5" cy="22.8" r="1.25"/><circle cx="255.2" cy="22.8" r="1.25"/><circle cx="261.9" cy="22.7" r="1.25"/></g>
<line x1="19.3" y1="0.4" x2="31.3" y2="13" stroke="#e4e424" stroke-width="1.8"/>
<line x1="39.9" y1="0.4" x2="51.9" y2="13" stroke="#e4e424" stroke-width="1.8"/>
<line x1="39.9" y1="0.4" x2="31.3" y2="13" stroke="#e4e424" stroke-width="1.8"/>
<line x1="60.5" y1="0.4" x2="72.5" y2="13" stroke="#e4e424" stroke-width="1.8"/>
<line x1="60.5" y1="0.4" x2="51.9" y2="13" stroke="#e4e424" stroke-width="1.8"/>
<line x1="81.1" y1="0.4" x2="93.1" y2="13" stroke="#e4e424" stroke-width="1.8"/>
<line x1="81.1" y1="0.4" x2="72.5" y2="13" stroke="#e4e424" stroke-width="1.8"/>
<line x1="101.7" y1="0.4" x2="113.7" y2="13" stroke="#e4e424" stroke-width="1.8"/>
<line x1="101.7" y1="0.4" x2="93.1" y2="13" stroke="#e4e424" stroke-width="1.8"/>
<line x1="122.3" y1="0.4" x2="134.3" y2="13" stroke="#e4e424" stroke-width="1.8"/>
<line x1="122.3" y1="0.4" x2="113.7" y2="13" stroke="#e4e424" stroke-width="1.8"/>
<line x1="142.9" y1="0.4" x2="154.9" y2="13" stroke="#e4e424" stroke-width="1.8"/>
<line x1="142.9" y1="0.4" x2="134.3" y2="13" stroke="#e4e424" stroke-width="1.8"/>
<line x1="163.5" y1="0.4" x2="175.5" y2="13" stroke="#e4e424" stroke-width="1.8"/>
<line x1="163.5" y1="0.4" x2="154.9" y2="13" stroke="#e4e424" stroke-width="1.8"/>
<line x1="184.1" y1="0.4" x2="196.1" y2="13" stroke="#e4e424" stroke-width="1.8"/>
<line x1="184.1" y1="0.4" x2="175.5" y2="13" stroke="#e4e424" stroke-width="1.8"/>
<line x1="204.7" y1="0.4" x2="216.7" y2="13" stroke="#e4e424" stroke-width="1.8"/>
<line x1="204.7" y1="0.4" x2="196.1" y2="13" stroke="#e4e424" stroke-width="1.8"/>
<line x1="225.3" y1="0.4" x2="237.3" y2="13" stroke="#e4e424" stroke-width="1.8"/>
<line x1="225.3" y1="0.4" x2="216.7" y2="13" stroke="#e4e424" stroke-width="1.8"/>
<line x1="245.9" y1="0.4" x2="257.9" y2="13" stroke="#e4e424" stroke-width="1.8"/>
<line x1="245.9" y1="0.4" x2="237.3" y2="13" stroke="#e4e424" stroke-width="1.8"/>
<line x1="266.5" y1="0.4" x2="257.9" y2="13" stroke="#e4e424" stroke-width="1.8"/>
<line x1="29" y1="5" x2="32" y2="16" stroke="#d0d014" stroke-width="1.5"/>
<line x1="35" y1="5" x2="32" y2="16" stroke="#d0d014" stroke-width="1.5"/>
<line x1="39.3" y1="5" x2="42.3" y2="16" stroke="#d0d014" stroke-width="1.5"/>
<line x1="45.3" y1="5" x2="42.3" y2="16" stroke="#d0d014" stroke-width="1.5"/>
<line x1="49.6" y1="5" x2="52.6" y2="16" stroke="#d0d014" stroke-width="1.5"/>
<line x1="55.6" y1="5" x2="52.6" y2="16" stroke="#d0d014" stroke-width="1.5"/>
<line x1="59.9" y1="5" x2="62.9" y2="16" stroke="#d0d014" stroke-width="1.5"/>
<line x1="65.9" y1="5" x2="62.9" y2="16" stroke="#d0d014" stroke-width="1.5"/>
<line x1="70.2" y1="5" x2="73.2" y2="16" stroke="#d0d014" stroke-width="1.5"/>
<line x1="76.2" y1="5" x2="73.2" y2="16" stroke="#d0d014" stroke-width="1.5"/>
<line x1="80.5" y1="5" x2="83.5" y2="16" stroke="#d0d014" stroke-width="1.5"/>
<line x1="86.5" y1="5" x2="83.5" y2="16" stroke="#d0d014" stroke-width="1.5"/>
<line x1="90.8" y1="5" x2="93.8" y2="16" stroke="#d0d014" stroke-width="1.5"/>
<line x1="96.8" y1="5" x2="93.8" y2="16" stroke="#d0d014" stroke-width="1.5"/>
<line x1="101.1" y1="5" x2="104.1" y2="16" stroke="#d0d014" stroke-width="1.5"/>
<line x1="107.1" y1="5" x2="104.1" y2="16" stroke="#d0d014" stroke-width="1.5"/>
<line x1="111.4" y1="5" x2="114.4" y2="16" stroke="#d0d014" stroke-width="1.5"/>
<line x1="117.4" y1="5" x2="114.4" y2="16" stroke="#d0d014" stroke-width="1.5"/>
<line x1="121.7" y1="5" x2="124.7" y2="16" stroke="#d0d014" stroke-width="1.5"/>
<line x1="127.7" y1="5" x2="124.7" y2="16" stroke="#d0d014" stroke-width="1.5"/>
<line x1="132" y1="5" x2="135" y2="16" stroke="#d0d014" stroke-width="1.5"/>
<line x1="138" y1="5" x2="135" y2="16" stroke="#d0d014" stroke-width="1.5"/>
<line x1="142.3" y1="5" x2="145.3" y2="16" stroke="#d0d014" stroke-width="1.5"/>
<line x1="148.3" y1="5" x2="145.3" y2="16" stroke="#d0d014" stroke-width="1.5"/>
<line x1="152.6" y1="5" x2="155.6" y2="16" stroke="#d0d014" stroke-width="1.5"/>
<line x1="158.6" y1="5" x2="155.6" y2="16" stroke="#d0d014" stroke-width="1.5"/>
<line x1="162.9" y1="5" x2="165.9" y2="16" stroke="#d0d014" stroke-width="1.5"/>
<line x1="168.9" y1="5" x2="165.9" y2="16" stroke="#d0d014" stroke-width="1.5"/>
<line x1="173.2" y1="5" x2="176.2" y2="16" stroke="#d0d014" stroke-width="1.5"/>
<line x1="179.2" y1="5" x2="176.2" y2="16" stroke="#d0d014" stroke-width="1.5"/>
<line x1="183.5" y1="5" x2="186.5" y2="16" stroke="#d0d014" stroke-width="1.5"/>
<line x1="189.5" y1="5" x2="186.5" y2="16" stroke="#d0d014" stroke-width="1.5"/>
<line x1="193.8" y1="5" x2="196.8" y2="16" stroke="#d0d014" stroke-width="1.5"/>
<line x1="199.8" y1="5" x2="196.8" y2="16" stroke="#d0d014" stroke-width="1.5"/>
<line x1="204.1" y1="5" x2="207.1" y2="16" stroke="#d0d014" stroke-width="1.5"/>
<line x1="210.1" y1="5" x2="207.1" y2="16" stroke="#d0d014" stroke-width="1.5"/>
<line x1="214.4" y1="5" x2="217.4" y2="16" stroke="#d0d014" stroke-width="1.5"/>
<line x1="220.4" y1="5" x2="217.4" y2="16" stroke="#d0d014" stroke-width="1.5"/>
<line x1="224.7" y1="5" x2="227.7" y2="16" stroke="#d0d014" stroke-width="1.5"/>
<line x1="230.7" y1="5" x2="227.7" y2="16" stroke="#d0d014" stroke-width="1.5"/>
<line x1="235" y1="5" x2="238" y2="16" stroke="#d0d014" stroke-width="1.5"/>
<line x1="241" y1="5" x2="238" y2="16" stroke="#d0d014" stroke-width="1.5"/>
<line x1="245.3" y1="5" x2="248.3" y2="16" stroke="#d0d014" stroke-width="1.5"/>
<line x1="251.3" y1="5" x2="248.3" y2="16" stroke="#d0d014" stroke-width="1.5"/>
<line x1="255.6" y1="5" x2="258.6" y2="16" stroke="#d0d014" stroke-width="1.5"/>
<line x1="261.6" y1="5" x2="258.6" y2="16" stroke="#d0d014" stroke-width="1.5"/>
<circle cx="29.5" cy="2.6" r="2.9" fill="url(#gy)"/>
<circle cx="50.1" cy="2.6" r="2.9" fill="url(#gy)"/>
<circle cx="70.7" cy="2.6" r="2.9" fill="url(#gy)"/>
<circle cx="91.3" cy="2.6" r="2.9" fill="url(#gy)"/>
<circle cx="111.9" cy="2.6" r="2.9" fill="url(#gy)"/>
<circle cx="132.5" cy="2.6" r="2.9" fill="url(#gy)"/>
<circle cx="153.1" cy="2.6" r="2.9" fill="url(#gy)"/>
<circle cx="173.7" cy="2.6" r="2.9" fill="url(#gy)"/>
<circle cx="194.3" cy="2.6" r="2.9" fill="url(#gy)"/>
<circle cx="214.9" cy="2.6" r="2.9" fill="url(#gy)"/>
<circle cx="235.5" cy="2.6" r="2.9" fill="url(#gy)"/>
<circle cx="256.1" cy="2.6" r="2.9" fill="url(#gy)"/>
<circle cx="34.3" cy="7.2" r="2.5" fill="url(#gy)"/>
<circle cx="44.6" cy="7.2" r="2.5" fill="url(#gy)"/>
<circle cx="54.9" cy="7.2" r="2.5" fill="url(#gy)"/>
<circle cx="65.2" cy="7.2" r="2.5" fill="url(#gy)"/>
<circle cx="75.5" cy="7.2" r="2.5" fill="url(#gy)"/>
<circle cx="85.8" cy="7.2" r="2.5" fill="url(#gy)"/>
<circle cx="96.1" cy="7.2" r="2.5" fill="url(#gy)"/>
<circle cx="106.4" cy="7.2" r="2.5" fill="url(#gy)"/>
<circle cx="116.7" cy="7.2" r="2.5" fill="url(#gy)"/>
<circle cx="127" cy="7.2" r="2.5" fill="url(#gy)"/>
<circle cx="137.3" cy="7.2" r="2.5" fill="url(#gy)"/>
<circle cx="147.6" cy="7.2" r="2.5" fill="url(#gy)"/>
<circle cx="157.9" cy="7.2" r="2.5" fill="url(#gy)"/>
<circle cx="168.2" cy="7.2" r="2.5" fill="url(#gy)"/>
<circle cx="178.5" cy="7.2" r="2.5" fill="url(#gy)"/>
<circle cx="188.8" cy="7.2" r="2.5" fill="url(#gy)"/>
<circle cx="199.1" cy="7.2" r="2.5" fill="url(#gy)"/>
<circle cx="209.4" cy="7.2" r="2.5" fill="url(#gy)"/>
<circle cx="219.7" cy="7.2" r="2.5" fill="url(#gy)"/>
<circle cx="230" cy="7.2" r="2.5" fill="url(#gy)"/>
<circle cx="240.3" cy="7.2" r="2.5" fill="url(#gy)"/>
<circle cx="250.6" cy="7.2" r="2.5" fill="url(#gy)"/>
<circle cx="260.9" cy="7.2" r="2.5" fill="url(#gy)"/>
<circle cx="19.3" cy="0" r="3.3" fill="url(#gy)"/>
<circle cx="39.9" cy="0" r="3.3" fill="url(#gy)"/>
<circle cx="60.5" cy="0" r="3.3" fill="url(#gy)"/>
<circle cx="81.1" cy="0" r="3.3" fill="url(#gy)"/>
<circle cx="101.7" cy="0" r="3.3" fill="url(#gy)"/>
<circle cx="122.3" cy="0" r="3.3" fill="url(#gy)"/>
<circle cx="142.9" cy="0" r="3.3" fill="url(#gy)"/>
<circle cx="163.5" cy="0" r="3.3" fill="url(#gy)"/>
<circle cx="184.1" cy="0" r="3.3" fill="url(#gy)"/>
<circle cx="204.7" cy="0" r="3.3" fill="url(#gy)"/>
<circle cx="225.3" cy="0" r="3.3" fill="url(#gy)"/>
<circle cx="245.9" cy="0" r="3.3" fill="url(#gy)"/>
<circle cx="266.5" cy="0" r="3.3" fill="url(#gy)"/>
<line x1="31.4" y1="13" x2="18.4" y2="24" stroke="#e4e424" stroke-width="1.8"/>
<circle cx="18.4" cy="24.1" r="3.3" fill="url(#gy)"/>
<line x1="265" y1="13" x2="274" y2="22" stroke="#e4e424" stroke-width="1.8"/>
<line x1="265" y1="13" x2="275" y2="4" stroke="#e4e424" stroke-width="1.8"/>
<circle cx="274" cy="22.5" r="3.1" fill="url(#gy)"/>
<circle cx="275.5" cy="4.5" r="3" fill="url(#gy)"/>
<circle cx="39.7" cy="15.6" r="2.8" fill="url(#gb)"/>
<circle cx="45.3" cy="15.6" r="2.8" fill="url(#gb)"/>
<circle cx="60.2" cy="15.6" r="2.8" fill="url(#gb)"/>
<circle cx="65.8" cy="15.6" r="2.8" fill="url(#gb)"/>
<circle cx="80.7" cy="15.6" r="2.8" fill="url(#gb)"/>
<circle cx="86.3" cy="15.6" r="2.8" fill="url(#gb)"/>
<circle cx="101.2" cy="15.6" r="2.8" fill="url(#gb)"/>
<circle cx="106.8" cy="15.6" r="2.8" fill="url(#gb)"/>
<circle cx="121.7" cy="15.6" r="2.8" fill="url(#gb)"/>
<circle cx="127.3" cy="15.6" r="2.8" fill="url(#gb)"/>
<circle cx="142.2" cy="15.6" r="2.8" fill="url(#gb)"/>
<circle cx="147.8" cy="15.6" r="2.8" fill="url(#gb)"/>
<circle cx="162.7" cy="15.6" r="2.8" fill="url(#gb)"/>
<circle cx="168.3" cy="15.6" r="2.8" fill="url(#gb)"/>
<circle cx="183.2" cy="15.6" r="2.8" fill="url(#gb)"/>
<circle cx="188.8" cy="15.6" r="2.8" fill="url(#gb)"/>
<circle cx="203.7" cy="15.6" r="2.8" fill="url(#gb)"/>
<circle cx="209.3" cy="15.6" r="2.8" fill="url(#gb)"/>
<circle cx="224.2" cy="15.6" r="2.8" fill="url(#gb)"/>
<circle cx="229.8" cy="15.6" r="2.8" fill="url(#gb)"/>
<circle cx="244.7" cy="15.6" r="2.8" fill="url(#gb)"/>
<circle cx="250.3" cy="15.6" r="2.8" fill="url(#gb)"/>
<circle cx="31.4" cy="13" r="3.6" fill="url(#gb)"/>
<circle cx="51.9" cy="13" r="3.6" fill="url(#gb)"/>
<circle cx="72.4" cy="13" r="3.6" fill="url(#gb)"/>
<circle cx="92.9" cy="13" r="3.6" fill="url(#gb)"/>
<circle cx="113.4" cy="13" r="3.6" fill="url(#gb)"/>
<circle cx="133.9" cy="13" r="3.6" fill="url(#gb)"/>
<circle cx="154.4" cy="13" r="3.6" fill="url(#gb)"/>
<circle cx="174.9" cy="13" r="3.6" fill="url(#gb)"/>
<circle cx="195.4" cy="13" r="3.6" fill="url(#gb)"/>
<circle cx="215.9" cy="13" r="3.6" fill="url(#gb)"/>
<circle cx="236.4" cy="13" r="3.6" fill="url(#gb)"/>
<circle cx="256.9" cy="13" r="3.6" fill="url(#gb)"/>
</g>
<g transform="translate(0,124)">
<rect x="26" y="-2" width="251" height="26.5" fill="url(#patEdge)"/>
<circle cx="29" cy="0" r="3" fill="url(#gy)"/>
<circle cx="29" cy="22.4" r="3" fill="url(#gy)"/>
<circle cx="32.4" cy="1.6" r="2.6" fill="url(#gy)"/>
<circle cx="32.4" cy="20.8" r="2.6" fill="url(#gy)"/>
<circle cx="35.9" cy="0" r="3" fill="url(#gy)"/>
<circle cx="35.9" cy="22.4" r="3" fill="url(#gy)"/>
<circle cx="39.3" cy="1.6" r="2.6" fill="url(#gy)"/>
<circle cx="39.3" cy="20.8" r="2.6" fill="url(#gy)"/>
<circle cx="42.8" cy="0" r="3" fill="url(#gy)"/>
<circle cx="42.8" cy="22.4" r="3" fill="url(#gy)"/>
<circle cx="46.2" cy="1.6" r="2.6" fill="url(#gy)"/>
<circle cx="46.2" cy="20.8" r="2.6" fill="url(#gy)"/>
<circle cx="49.7" cy="0" r="3" fill="url(#gy)"/>
<circle cx="49.7" cy="22.4" r="3" fill="url(#gy)"/>
<circle cx="53.1" cy="1.6" r="2.6" fill="url(#gy)"/>
<circle cx="53.1" cy="20.8" r="2.6" fill="url(#gy)"/>
<circle cx="56.6" cy="0" r="3" fill="url(#gy)"/>
<circle cx="56.6" cy="22.4" r="3" fill="url(#gy)"/>
<circle cx="60" cy="1.6" r="2.6" fill="url(#gy)"/>
<circle cx="60" cy="20.8" r="2.6" fill="url(#gy)"/>
<circle cx="63.5" cy="0" r="3" fill="url(#gy)"/>
<circle cx="63.5" cy="22.4" r="3" fill="url(#gy)"/>
<circle cx="66.9" cy="1.6" r="2.6" fill="url(#gy)"/>
<circle cx="66.9" cy="20.8" r="2.6" fill="url(#gy)"/>
<circle cx="70.4" cy="0" r="3" fill="url(#gy)"/>
<circle cx="70.4" cy="22.4" r="3" fill="url(#gy)"/>
<circle cx="73.8" cy="1.6" r="2.6" fill="url(#gy)"/>
<circle cx="73.8" cy="20.8" r="2.6" fill="url(#gy)"/>
<circle cx="77.3" cy="0" r="3" fill="url(#gy)"/>
<circle cx="77.3" cy="22.4" r="3" fill="url(#gy)"/>
<circle cx="80.7" cy="1.6" r="2.6" fill="url(#gy)"/>
<circle cx="80.7" cy="20.8" r="2.6" fill="url(#gy)"/>
<circle cx="84.2" cy="0" r="3" fill="url(#gy)"/>
<circle cx="84.2" cy="22.4" r="3" fill="url(#gy)"/>
<circle cx="87.6" cy="1.6" r="2.6" fill="url(#gy)"/>
<circle cx="87.6" cy="20.8" r="2.6" fill="url(#gy)"/>
<circle cx="91.1" cy="0" r="3" fill="url(#gy)"/>
<circle cx="91.1" cy="22.4" r="3" fill="url(#gy)"/>
<circle cx="94.5" cy="1.6" r="2.6" fill="url(#gy)"/>
<circle cx="94.5" cy="20.8" r="2.6" fill="url(#gy)"/>
<circle cx="98" cy="0" r="3" fill="url(#gy)"/>
<circle cx="98" cy="22.4" r="3" fill="url(#gy)"/>
<circle cx="101.4" cy="1.6" r="2.6" fill="url(#gy)"/>
<circle cx="101.4" cy="20.8" r="2.6" fill="url(#gy)"/>
<circle cx="104.9" cy="0" r="3" fill="url(#gy)"/>
<circle cx="104.9" cy="22.4" r="3" fill="url(#gy)"/>
<circle cx="108.3" cy="1.6" r="2.6" fill="url(#gy)"/>
<circle cx="108.3" cy="20.8" r="2.6" fill="url(#gy)"/>
<circle cx="111.8" cy="0" r="3" fill="url(#gy)"/>
<circle cx="111.8" cy="22.4" r="3" fill="url(#gy)"/>
<circle cx="115.2" cy="1.6" r="2.6" fill="url(#gy)"/>
<circle cx="115.2" cy="20.8" r="2.6" fill="url(#gy)"/>
<circle cx="118.7" cy="0" r="3" fill="url(#gy)"/>
<circle cx="118.7" cy="22.4" r="3" fill="url(#gy)"/>
<circle cx="122.1" cy="1.6" r="2.6" fill="url(#gy)"/>
<circle cx="122.1" cy="20.8" r="2.6" fill="url(#gy)"/>
<circle cx="125.6" cy="0" r="3" fill="url(#gy)"/>
<circle cx="125.6" cy="22.4" r="3" fill="url(#gy)"/>
<circle cx="129" cy="1.6" r="2.6" fill="url(#gy)"/>
<circle cx="129" cy="20.8" r="2.6" fill="url(#gy)"/>
<circle cx="132.5" cy="0" r="3" fill="url(#gy)"/>
<circle cx="132.5" cy="22.4" r="3" fill="url(#gy)"/>
<circle cx="135.9" cy="1.6" r="2.6" fill="url(#gy)"/>
<circle cx="135.9" cy="20.8" r="2.6" fill="url(#gy)"/>
<circle cx="139.4" cy="0" r="3" fill="url(#gy)"/>
<circle cx="139.4" cy="22.4" r="3" fill="url(#gy)"/>
<circle cx="142.8" cy="1.6" r="2.6" fill="url(#gy)"/>
<circle cx="142.8" cy="20.8" r="2.6" fill="url(#gy)"/>
<circle cx="146.3" cy="0" r="3" fill="url(#gy)"/>
<circle cx="146.3" cy="22.4" r="3" fill="url(#gy)"/>
<circle cx="149.7" cy="1.6" r="2.6" fill="url(#gy)"/>
<circle cx="149.7" cy="20.8" r="2.6" fill="url(#gy)"/>
<circle cx="153.2" cy="0" r="3" fill="url(#gy)"/>
<circle cx="153.2" cy="22.4" r="3" fill="url(#gy)"/>
<circle cx="156.6" cy="1.6" r="2.6" fill="url(#gy)"/>
<circle cx="156.6" cy="20.8" r="2.6" fill="url(#gy)"/>
<circle cx="160.1" cy="0" r="3" fill="url(#gy)"/>
<circle cx="160.1" cy="22.4" r="3" fill="url(#gy)"/>
<circle cx="163.5" cy="1.6" r="2.6" fill="url(#gy)"/>
<circle cx="163.5" cy="20.8" r="2.6" fill="url(#gy)"/>
<circle cx="167" cy="0" r="3" fill="url(#gy)"/>
<circle cx="167" cy="22.4" r="3" fill="url(#gy)"/>
<circle cx="170.4" cy="1.6" r="2.6" fill="url(#gy)"/>
<circle cx="170.4" cy="20.8" r="2.6" fill="url(#gy)"/>
<circle cx="173.9" cy="0" r="3" fill="url(#gy)"/>
<circle cx="173.9" cy="22.4" r="3" fill="url(#gy)"/>
<circle cx="177.3" cy="1.6" r="2.6" fill="url(#gy)"/>
<circle cx="177.3" cy="20.8" r="2.6" fill="url(#gy)"/>
<circle cx="180.8" cy="0" r="3" fill="url(#gy)"/>
<circle cx="180.8" cy="22.4" r="3" fill="url(#gy)"/>
<circle cx="184.2" cy="1.6" r="2.6" fill="url(#gy)"/>
<circle cx="184.2" cy="20.8" r="2.6" fill="url(#gy)"/>
<circle cx="187.7" cy="0" r="3" fill="url(#gy)"/>
<circle cx="187.7" cy="22.4" r="3" fill="url(#gy)"/>
<circle cx="191.1" cy="1.6" r="2.6" fill="url(#gy)"/>
<circle cx="191.1" cy="20.8" r="2.6" fill="url(#gy)"/>
<circle cx="194.6" cy="0" r="3" fill="url(#gy)"/>
<circle cx="194.6" cy="22.4" r="3" fill="url(#gy)"/>
<circle cx="198" cy="1.6" r="2.6" fill="url(#gy)"/>
<circle cx="198" cy="20.8" r="2.6" fill="url(#gy)"/>
<circle cx="201.5" cy="0" r="3" fill="url(#gy)"/>
<circle cx="201.5" cy="22.4" r="3" fill="url(#gy)"/>
<circle cx="204.9" cy="1.6" r="2.6" fill="url(#gy)"/>
<circle cx="204.9" cy="20.8" r="2.6" fill="url(#gy)"/>
<circle cx="208.4" cy="0" r="3" fill="url(#gy)"/>
<circle cx="208.4" cy="22.4" r="3" fill="url(#gy)"/>
<circle cx="211.8" cy="1.6" r="2.6" fill="url(#gy)"/>
<circle cx="211.8" cy="20.8" r="2.6" fill="url(#gy)"/>
<circle cx="215.3" cy="0" r="3" fill="url(#gy)"/>
<circle cx="215.3" cy="22.4" r="3" fill="url(#gy)"/>
<circle cx="218.7" cy="1.6" r="2.6" fill="url(#gy)"/>
<circle cx="218.7" cy="20.8" r="2.6" fill="url(#gy)"/>
<circle cx="222.2" cy="0" r="3" fill="url(#gy)"/>
<circle cx="222.2" cy="22.4" r="3" fill="url(#gy)"/>
<circle cx="225.6" cy="1.6" r="2.6" fill="url(#gy)"/>
<circle cx="225.6" cy="20.8" r="2.6" fill="url(#gy)"/>
<circle cx="229.1" cy="0" r="3" fill="url(#gy)"/>
<circle cx="229.1" cy="22.4" r="3" fill="url(#gy)"/>
<circle cx="232.5" cy="1.6" r="2.6" fill="url(#gy)"/>
<circle cx="232.5" cy="20.8" r="2.6" fill="url(#gy)"/>
<circle cx="236" cy="0" r="3" fill="url(#gy)"/>
<circle cx="236" cy="22.4" r="3" fill="url(#gy)"/>
<circle cx="239.4" cy="1.6" r="2.6" fill="url(#gy)"/>
<circle cx="239.4" cy="20.8" r="2.6" fill="url(#gy)"/>
<circle cx="242.9" cy="0" r="3" fill="url(#gy)"/>
<circle cx="242.9" cy="22.4" r="3" fill="url(#gy)"/>
<circle cx="246.3" cy="1.6" r="2.6" fill="url(#gy)"/>
<circle cx="246.3" cy="20.8" r="2.6" fill="url(#gy)"/>
<circle cx="249.8" cy="0" r="3" fill="url(#gy)"/>
<circle cx="249.8" cy="22.4" r="3" fill="url(#gy)"/>
<circle cx="253.2" cy="1.6" r="2.6" fill="url(#gy)"/>
<circle cx="253.2" cy="20.8" r="2.6" fill="url(#gy)"/>
<circle cx="256.7" cy="0" r="3" fill="url(#gy)"/>
<circle cx="256.7" cy="22.4" r="3" fill="url(#gy)"/>
<circle cx="260.1" cy="1.6" r="2.6" fill="url(#gy)"/>
<circle cx="260.1" cy="20.8" r="2.6" fill="url(#gy)"/>
<circle cx="263.6" cy="0" r="3" fill="url(#gy)"/>
<circle cx="263.6" cy="22.4" r="3" fill="url(#gy)"/>
<circle cx="267" cy="1.6" r="2.6" fill="url(#gy)"/>
<circle cx="267" cy="20.8" r="2.6" fill="url(#gy)"/>
<circle cx="270.5" cy="0" r="3" fill="url(#gy)"/>
<circle cx="270.5" cy="22.4" r="3" fill="url(#gy)"/>
<circle cx="273.9" cy="1.6" r="2.6" fill="url(#gy)"/>
<circle cx="273.9" cy="20.8" r="2.6" fill="url(#gy)"/>
<line x1="30.4" y1="11.6" x2="19.3" y2="0" stroke="#e0e020" stroke-width="1.7"/>
<line x1="30.4" y1="11.6" x2="19.3" y2="22.4" stroke="#e0e020" stroke-width="1.7"/>
<circle cx="19.3" cy="0" r="3.2" fill="url(#gy)"/>
<circle cx="19.3" cy="22.4" r="3.2" fill="url(#gy)"/>
<rect x="30" y="10.2" width="236" height="2.8" fill="#2020c8"/>
<circle cx="30.4" cy="11.6" r="3.4" fill="url(#gb)"/>
<circle cx="37.4" cy="11.6" r="3" fill="url(#gb)"/>
<circle cx="44.4" cy="11.6" r="3.4" fill="url(#gb)"/>
<circle cx="51.4" cy="11.6" r="3" fill="url(#gb)"/>
<circle cx="58.4" cy="11.6" r="3.4" fill="url(#gb)"/>
<circle cx="65.4" cy="11.6" r="3" fill="url(#gb)"/>
<circle cx="72.4" cy="11.6" r="3.4" fill="url(#gb)"/>
<circle cx="79.4" cy="11.6" r="3" fill="url(#gb)"/>
<circle cx="86.4" cy="11.6" r="3.4" fill="url(#gb)"/>
<circle cx="93.4" cy="11.6" r="3" fill="url(#gb)"/>
<circle cx="100.4" cy="11.6" r="3.4" fill="url(#gb)"/>
<circle cx="107.4" cy="11.6" r="3" fill="url(#gb)"/>
<circle cx="114.4" cy="11.6" r="3.4" fill="url(#gb)"/>
<circle cx="121.4" cy="11.6" r="3" fill="url(#gb)"/>
<circle cx="128.4" cy="11.6" r="3.4" fill="url(#gb)"/>
<circle cx="135.4" cy="11.6" r="3" fill="url(#gb)"/>
<circle cx="142.4" cy="11.6" r="3.4" fill="url(#gb)"/>
<circle cx="149.4" cy="11.6" r="3" fill="url(#gb)"/>
<circle cx="156.4" cy="11.6" r="3.4" fill="url(#gb)"/>
<circle cx="163.4" cy="11.6" r="3" fill="url(#gb)"/>
<circle cx="170.4" cy="11.6" r="3.4" fill="url(#gb)"/>
<circle cx="177.4" cy="11.6" r="3" fill="url(#gb)"/>
<circle cx="184.4" cy="11.6" r="3.4" fill="url(#gb)"/>
<circle cx="191.4" cy="11.6" r="3" fill="url(#gb)"/>
<circle cx="198.4" cy="11.6" r="3.4" fill="url(#gb)"/>
<circle cx="205.4" cy="11.6" r="3" fill="url(#gb)"/>
<circle cx="212.4" cy="11.6" r="3.4" fill="url(#gb)"/>
<circle cx="219.4" cy="11.6" r="3" fill="url(#gb)"/>
<circle cx="226.4" cy="11.6" r="3.4" fill="url(#gb)"/>
<circle cx="233.4" cy="11.6" r="3" fill="url(#gb)"/>
<circle cx="240.4" cy="11.6" r="3.4" fill="url(#gb)"/>
<circle cx="247.4" cy="11.6" r="3" fill="url(#gb)"/>
<circle cx="254.4" cy="11.6" r="3.4" fill="url(#gb)"/>
<circle cx="261.4" cy="11.6" r="3" fill="url(#gb)"/>
</g>
<g transform="translate(0,202.8) scale(1,-1)">
<polygon points="27,14 269,14 246.5,36.1 236.8,36.3 227.1,36.5 217.5,36.7 207.8,36.8 198.1,37 188.5,37.1 178.8,37.2 169.1,37.2 159.4,37.3 149.8,37.3 140.1,37.3 130.4,37.3 120.7,37.2 111.1,37.2 101.4,37.1 91.7,37 82.1,36.9 72.4,36.7 62.7,36.6 53,36.4" fill="#c4c418"/>
<path d="M29 17.8 L33.7 21.1 M36 17.8 L40.4 21.2 M43 17.8 L47.1 21.2 M50 17.8 L53.8 21.2 M57 17.8 L60.5 21.2 M64 17.8 L67.2 21.3 M71 17.8 L73.9 21.3 M78 17.8 L80.7 21.3 M85 17.8 L87.4 21.3 M92 17.8 L94.1 21.3 M99 17.8 L100.8 21.4 M106 17.8 L107.5 21.4 M113 17.8 L114.2 21.4 M120 17.8 L120.9 21.4 M127 17.8 L127.7 21.4 M134 17.8 L134.4 21.4 M141 17.8 L141.1 21.4 M148 17.8 L147.8 21.4 M155 17.8 L154.5 21.4 M162 17.8 L161.2 21.4 M169 17.8 L167.9 21.4 M176 17.8 L174.7 21.4 M183 17.8 L181.4 21.4 M190 17.8 L188.1 21.4 M197 17.8 L194.8 21.3 M204 17.8 L201.5 21.3 M211 17.8 L208.2 21.3 M218 17.8 L214.9 21.3 M225 17.8 L221.7 21.3 M232 17.8 L228.4 21.2 M239 17.8 L235.1 21.2 M246 17.8 L241.8 21.2 M253 17.8 L248.5 21.2 M260 17.8 L255.2 21.1 M267 17.8 L261.9 21.1 M37 21.1 L41.5 24.5 M43.7 21.2 L47.9 24.6 M50.4 21.2 L54.4 24.6 M57.2 21.2 L60.8 24.7 M63.9 21.3 L67.2 24.7 M70.6 21.3 L73.7 24.8 M77.3 21.3 L80.1 24.8 M84 21.3 L86.5 24.9 M90.7 21.3 L92.9 24.9 M97.4 21.4 L99.4 24.9 M104.2 21.4 L105.8 24.9 M110.9 21.4 L112.2 25 M117.6 21.4 L118.7 25 M124.3 21.4 L125.1 25 M131 21.4 L131.5 25 M137.7 21.4 L137.9 25 M144.4 21.4 L144.4 25 M151.2 21.4 L150.8 25 M157.9 21.4 L157.2 25 M164.6 21.4 L163.7 25 M171.3 21.4 L170.1 25 M178 21.4 L176.5 24.9 M184.7 21.4 L183 24.9 M191.4 21.3 L189.4 24.9 M198.2 21.3 L195.8 24.9 M204.9 21.3 L202.2 24.8 M211.6 21.3 L208.7 24.8 M218.3 21.3 L215.1 24.8 M225 21.2 L221.5 24.7 M231.7 21.2 L228 24.7 M238.4 21.2 L234.4 24.6 M245.2 21.2 L240.8 24.6 M251.9 21.1 L247.2 24.5 M258.6 21.1 L253.7 24.5 M265.3 21.1 L260.1 24.4 M38.3 24.5 L43 27.9 M44.7 24.6 L49.1 28 M51.2 24.6 L55.2 28.1 M57.6 24.7 L61.4 28.2 M64 24.7 L67.5 28.2 M70.4 24.8 L73.7 28.3 M76.9 24.8 L79.8 28.3 M83.3 24.8 L86 28.4 M89.7 24.9 L92.1 28.4 M96.2 24.9 L98.2 28.5 M102.6 24.9 L104.4 28.5 M109 24.9 L110.5 28.5 M115.4 25 L116.7 28.6 M121.9 25 L122.8 28.6 M128.3 25 L129 28.6 M134.7 25 L135.1 28.6 M141.2 25 L141.2 28.6 M147.6 25 L147.4 28.6 M154 25 L153.5 28.6 M160.4 25 L159.7 28.6 M166.9 25 L165.8 28.6 M173.3 25 L172 28.5 M179.7 24.9 L178.1 28.5 M186.2 24.9 L184.2 28.5 M192.6 24.9 L190.4 28.4 M199 24.9 L196.5 28.4 M205.5 24.8 L202.7 28.4 M211.9 24.8 L208.8 28.3 M218.3 24.7 L215 28.3 M224.7 24.7 L221.1 28.2 M231.2 24.7 L227.2 28.1 M237.6 24.6 L233.4 28.1 M244 24.5 L239.5 28 M250.5 24.5 L245.7 27.9 M256.9 24.4 L251.8 27.8 M46 28 L50.5 31.4 M52.2 28 L56.4 31.5 M58.3 28.1 L62.2 31.6 M64.5 28.2 L68.1 31.7 M70.6 28.2 L74 31.8 M76.7 28.3 L79.8 31.8 M82.9 28.4 L85.7 31.9 M89 28.4 L91.5 32 M95.2 28.4 L97.4 32 M101.3 28.5 L103.3 32.1 M107.5 28.5 L109.1 32.1 M113.6 28.5 L115 32.1 M119.7 28.6 L120.8 32.2 M125.9 28.6 L126.7 32.2 M132 28.6 L132.5 32.2 M138.2 28.6 L138.4 32.2 M144.3 28.6 L144.3 32.2 M150.5 28.6 L150.1 32.2 M156.6 28.6 L156 32.2 M162.7 28.6 L161.8 32.2 M168.9 28.6 L167.7 32.1 M175 28.5 L173.5 32.1 M181.2 28.5 L179.4 32.1 M187.3 28.5 L185.3 32 M193.5 28.4 L191.1 32 M199.6 28.4 L197 31.9 M205.7 28.3 L202.8 31.9 M211.9 28.3 L208.7 31.8 M218 28.2 L214.5 31.7 M224.2 28.2 L220.4 31.7 M230.3 28.1 L226.3 31.6 M236.5 28 L232.1 31.5 M242.6 27.9 L238 31.4 M248.8 27.9 L243.8 31.3 M254.9 27.8 L249.7 31.2 M47.6 31.4 L52.3 34.9 M53.5 31.5 L57.8 35 M59.3 31.6 L63.4 35.1 M65.2 31.7 L69 35.2 M71 31.7 L74.5 35.3 M76.9 31.8 L80.1 35.4 M82.8 31.9 L85.7 35.4 M88.6 31.9 L91.3 35.5 M94.5 32 L96.8 35.6 M100.3 32 L102.4 35.6 M106.2 32.1 L108 35.7 M112 32.1 L113.5 35.7 M117.9 32.1 L119.1 35.7 M123.8 32.2 L124.7 35.8 M129.6 32.2 L130.3 35.8 M135.5 32.2 L135.8 35.8 M141.3 32.2 L141.4 35.8 M147.2 32.2 L147 35.8 M153 32.2 L152.6 35.8 M158.9 32.2 L158.1 35.8 M164.8 32.2 L163.7 35.8 M170.6 32.1 L169.3 35.7 M176.5 32.1 L174.8 35.7 M182.3 32.1 L180.4 35.6 M188.2 32 L186 35.6 M194 32 L191.6 35.5 M199.9 31.9 L197.1 35.5 M205.8 31.8 L202.7 35.4 M211.6 31.8 L208.3 35.3 M217.5 31.7 L213.8 35.2 M223.3 31.6 L219.4 35.1 M229.2 31.5 L225 35 M235 31.4 L230.6 34.9 M240.9 31.3 L236.1 34.8 M246.8 31.2 L241.7 34.7" stroke="#a8a800" stroke-width="1.3" fill="none"/>
<circle cx="55" cy="34.9" r="2.4" fill="url(#gy)"/>
<circle cx="60.6" cy="35" r="2.4" fill="url(#gy)"/>
<circle cx="66.2" cy="35.1" r="2.4" fill="url(#gy)"/>
<circle cx="71.8" cy="35.2" r="2.4" fill="url(#gy)"/>
<circle cx="77.3" cy="35.3" r="2.4" fill="url(#gy)"/>
<circle cx="82.9" cy="35.4" r="2.4" fill="url(#gy)"/>
<circle cx="88.5" cy="35.5" r="2.4" fill="url(#gy)"/>
<circle cx="94" cy="35.5" r="2.4" fill="url(#gy)"/>
<circle cx="99.6" cy="35.6" r="2.4" fill="url(#gy)"/>
<circle cx="105.2" cy="35.6" r="2.4" fill="url(#gy)"/>
<circle cx="110.8" cy="35.7" r="2.4" fill="url(#gy)"/>
<circle cx="116.3" cy="35.7" r="2.4" fill="url(#gy)"/>
<circle cx="121.9" cy="35.8" r="2.4" fill="url(#gy)"/>
<circle cx="127.5" cy="35.8" r="2.4" fill="url(#gy)"/>
<circle cx="133.1" cy="35.8" r="2.4" fill="url(#gy)"/>
<circle cx="138.6" cy="35.8" r="2.4" fill="url(#gy)"/>
<circle cx="144.2" cy="35.8" r="2.4" fill="url(#gy)"/>
<circle cx="149.8" cy="35.8" r="2.4" fill="url(#gy)"/>
<circle cx="155.3" cy="35.8" r="2.4" fill="url(#gy)"/>
<circle cx="160.9" cy="35.8" r="2.4" fill="url(#gy)"/>
<circle cx="166.5" cy="35.7" r="2.4" fill="url(#gy)"/>
<circle cx="172.1" cy="35.7" r="2.4" fill="url(#gy)"/>
<circle cx="177.6" cy="35.7" r="2.4" fill="url(#gy)"/>
<circle cx="183.2" cy="35.6" r="2.4" fill="url(#gy)"/>
<circle cx="188.8" cy="35.6" r="2.4" fill="url(#gy)"/>
<circle cx="194.3" cy="35.5" r="2.4" fill="url(#gy)"/>
<circle cx="199.9" cy="35.4" r="2.4" fill="url(#gy)"/>
<circle cx="205.5" cy="35.4" r="2.4" fill="url(#gy)"/>
<circle cx="211.1" cy="35.3" r="2.4" fill="url(#gy)"/>
<circle cx="216.6" cy="35.2" r="2.4" fill="url(#gy)"/>
<circle cx="222.2" cy="35.1" r="2.4" fill="url(#gy)"/>
<circle cx="227.8" cy="35" r="2.4" fill="url(#gy)"/>
<circle cx="233.3" cy="34.9" r="2.4" fill="url(#gy)"/>
<circle cx="238.9" cy="34.8" r="2.4" fill="url(#gy)"/>
<circle cx="244.5" cy="34.7" r="2.4" fill="url(#gy)"/>
<circle cx="47.6" cy="31.4" r="2.5" fill="url(#gy)"/>
<circle cx="53.5" cy="31.5" r="2.5" fill="url(#gy)"/>
<circle cx="59.3" cy="31.6" r="2.5" fill="url(#gy)"/>
<circle cx="65.2" cy="31.7" r="2.5" fill="url(#gy)"/>
<circle cx="71" cy="31.7" r="2.5" fill="url(#gy)"/>
<circle cx="76.9" cy="31.8" r="2.5" fill="url(#gy)"/>
<circle cx="82.8" cy="31.9" r="2.5" fill="url(#gy)"/>
<circle cx="88.6" cy="31.9" r="2.5" fill="url(#gy)"/>
<circle cx="94.5" cy="32" r="2.5" fill="url(#gy)"/>
<circle cx="100.3" cy="32" r="2.5" fill="url(#gy)"/>
<circle cx="106.2" cy="32.1" r="2.5" fill="url(#gy)"/>
<circle cx="112" cy="32.1" r="2.5" fill="url(#gy)"/>
<circle cx="117.9" cy="32.1" r="2.5" fill="url(#gy)"/>
<circle cx="123.8" cy="32.2" r="2.5" fill="url(#gy)"/>
<circle cx="129.6" cy="32.2" r="2.5" fill="url(#gy)"/>
<circle cx="135.5" cy="32.2" r="2.5" fill="url(#gy)"/>
<circle cx="141.3" cy="32.2" r="2.5" fill="url(#gy)"/>
<circle cx="147.2" cy="32.2" r="2.5" fill="url(#gy)"/>
<circle cx="153" cy="32.2" r="2.5" fill="url(#gy)"/>
<circle cx="158.9" cy="32.2" r="2.5" fill="url(#gy)"/>
<circle cx="164.8" cy="32.2" r="2.5" fill="url(#gy)"/>
<circle cx="170.6" cy="32.1" r="2.5" fill="url(#gy)"/>
<circle cx="176.5" cy="32.1" r="2.5" fill="url(#gy)"/>
<circle cx="182.3" cy="32.1" r="2.5" fill="url(#gy)"/>
<circle cx="188.2" cy="32" r="2.5" fill="url(#gy)"/>
<circle cx="194" cy="32" r="2.5" fill="url(#gy)"/>
<circle cx="199.9" cy="31.9" r="2.5" fill="url(#gy)"/>
<circle cx="205.8" cy="31.8" r="2.5" fill="url(#gy)"/>
<circle cx="211.6" cy="31.8" r="2.5" fill="url(#gy)"/>
<circle cx="217.5" cy="31.7" r="2.5" fill="url(#gy)"/>
<circle cx="223.3" cy="31.6" r="2.5" fill="url(#gy)"/>
<circle cx="229.2" cy="31.5" r="2.5" fill="url(#gy)"/>
<circle cx="235" cy="31.4" r="2.5" fill="url(#gy)"/>
<circle cx="240.9" cy="31.3" r="2.5" fill="url(#gy)"/>
<circle cx="246.8" cy="31.2" r="2.5" fill="url(#gy)"/>
<circle cx="46" cy="28" r="2.6" fill="url(#gy)"/>
<circle cx="52.2" cy="28" r="2.6" fill="url(#gy)"/>
<circle cx="58.3" cy="28.1" r="2.6" fill="url(#gy)"/>
<circle cx="64.5" cy="28.2" r="2.6" fill="url(#gy)"/>
<circle cx="70.6" cy="28.2" r="2.6" fill="url(#gy)"/>
<circle cx="76.7" cy="28.3" r="2.6" fill="url(#gy)"/>
<circle cx="82.9" cy="28.4" r="2.6" fill="url(#gy)"/>
<circle cx="89" cy="28.4" r="2.6" fill="url(#gy)"/>
<circle cx="95.2" cy="28.4" r="2.6" fill="url(#gy)"/>
<circle cx="101.3" cy="28.5" r="2.6" fill="url(#gy)"/>
<circle cx="107.5" cy="28.5" r="2.6" fill="url(#gy)"/>
<circle cx="113.6" cy="28.5" r="2.6" fill="url(#gy)"/>
<circle cx="119.7" cy="28.6" r="2.6" fill="url(#gy)"/>
<circle cx="125.9" cy="28.6" r="2.6" fill="url(#gy)"/>
<circle cx="132" cy="28.6" r="2.6" fill="url(#gy)"/>
<circle cx="138.2" cy="28.6" r="2.6" fill="url(#gy)"/>
<circle cx="144.3" cy="28.6" r="2.6" fill="url(#gy)"/>
<circle cx="150.5" cy="28.6" r="2.6" fill="url(#gy)"/>
<circle cx="156.6" cy="28.6" r="2.6" fill="url(#gy)"/>
<circle cx="162.7" cy="28.6" r="2.6" fill="url(#gy)"/>
<circle cx="168.9" cy="28.6" r="2.6" fill="url(#gy)"/>
<circle cx="175" cy="28.5" r="2.6" fill="url(#gy)"/>
<circle cx="181.2" cy="28.5" r="2.6" fill="url(#gy)"/>
<circle cx="187.3" cy="28.5" r="2.6" fill="url(#gy)"/>
<circle cx="193.5" cy="28.4" r="2.6" fill="url(#gy)"/>
<circle cx="199.6" cy="28.4" r="2.6" fill="url(#gy)"/>
<circle cx="205.7" cy="28.3" r="2.6" fill="url(#gy)"/>
<circle cx="211.9" cy="28.3" r="2.6" fill="url(#gy)"/>
<circle cx="218" cy="28.2" r="2.6" fill="url(#gy)"/>
<circle cx="224.2" cy="28.2" r="2.6" fill="url(#gy)"/>
<circle cx="230.3" cy="28.1" r="2.6" fill="url(#gy)"/>
<circle cx="236.5" cy="28" r="2.6" fill="url(#gy)"/>
<circle cx="242.6" cy="27.9" r="2.6" fill="url(#gy)"/>
<circle cx="248.8" cy="27.9" r="2.6" fill="url(#gy)"/>
<circle cx="254.9" cy="27.8" r="2.6" fill="url(#gy)"/>
<circle cx="38.3" cy="24.5" r="2.7" fill="url(#gy)"/>
<circle cx="44.7" cy="24.6" r="2.7" fill="url(#gy)"/>
<circle cx="51.2" cy="24.6" r="2.7" fill="url(#gy)"/>
<circle cx="57.6" cy="24.7" r="2.7" fill="url(#gy)"/>
<circle cx="64" cy="24.7" r="2.7" fill="url(#gy)"/>
<circle cx="70.4" cy="24.8" r="2.7" fill="url(#gy)"/>
<circle cx="76.9" cy="24.8" r="2.7" fill="url(#gy)"/>
<circle cx="83.3" cy="24.8" r="2.7" fill="url(#gy)"/>
<circle cx="89.7" cy="24.9" r="2.7" fill="url(#gy)"/>
<circle cx="96.2" cy="24.9" r="2.7" fill="url(#gy)"/>
<circle cx="102.6" cy="24.9" r="2.7" fill="url(#gy)"/>
<circle cx="109" cy="24.9" r="2.7" fill="url(#gy)"/>
<circle cx="115.4" cy="25" r="2.7" fill="url(#gy)"/>
<circle cx="121.9" cy="25" r="2.7" fill="url(#gy)"/>
<circle cx="128.3" cy="25" r="2.7" fill="url(#gy)"/>
<circle cx="134.7" cy="25" r="2.7" fill="url(#gy)"/>
<circle cx="141.2" cy="25" r="2.7" fill="url(#gy)"/>
<circle cx="147.6" cy="25" r="2.7" fill="url(#gy)"/>
<circle cx="154" cy="25" r="2.7" fill="url(#gy)"/>
<circle cx="160.4" cy="25" r="2.7" fill="url(#gy)"/>
<circle cx="166.9" cy="25" r="2.7" fill="url(#gy)"/>
<circle cx="173.3" cy="25" r="2.7" fill="url(#gy)"/>
<circle cx="179.7" cy="24.9" r="2.7" fill="url(#gy)"/>
<circle cx="186.2" cy="24.9" r="2.7" fill="url(#gy)"/>
<circle cx="192.6" cy="24.9" r="2.7" fill="url(#gy)"/>
<circle cx="199" cy="24.9" r="2.7" fill="url(#gy)"/>
<circle cx="205.5" cy="24.8" r="2.7" fill="url(#gy)"/>
<circle cx="211.9" cy="24.8" r="2.7" fill="url(#gy)"/>
<circle cx="218.3" cy="24.7" r="2.7" fill="url(#gy)"/>
<circle cx="224.7" cy="24.7" r="2.7" fill="url(#gy)"/>
<circle cx="231.2" cy="24.7" r="2.7" fill="url(#gy)"/>
<circle cx="237.6" cy="24.6" r="2.7" fill="url(#gy)"/>
<circle cx="244" cy="24.5" r="2.7" fill="url(#gy)"/>
<circle cx="250.5" cy="24.5" r="2.7" fill="url(#gy)"/>
<circle cx="256.9" cy="24.4" r="2.7" fill="url(#gy)"/>
<circle cx="37" cy="21.1" r="2.8" fill="url(#gy)"/>
<circle cx="43.7" cy="21.2" r="2.8" fill="url(#gy)"/>
<circle cx="50.4" cy="21.2" r="2.8" fill="url(#gy)"/>
<circle cx="57.2" cy="21.2" r="2.8" fill="url(#gy)"/>
<circle cx="63.9" cy="21.3" r="2.8" fill="url(#gy)"/>
<circle cx="70.6" cy="21.3" r="2.8" fill="url(#gy)"/>
<circle cx="77.3" cy="21.3" r="2.8" fill="url(#gy)"/>
<circle cx="84" cy="21.3" r="2.8" fill="url(#gy)"/>
<circle cx="90.7" cy="21.3" r="2.8" fill="url(#gy)"/>
<circle cx="97.4" cy="21.4" r="2.8" fill="url(#gy)"/>
<circle cx="104.2" cy="21.4" r="2.8" fill="url(#gy)"/>
<circle cx="110.9" cy="21.4" r="2.8" fill="url(#gy)"/>
<circle cx="117.6" cy="21.4" r="2.8" fill="url(#gy)"/>
<circle cx="124.3" cy="21.4" r="2.8" fill="url(#gy)"/>
<circle cx="131" cy="21.4" r="2.8" fill="url(#gy)"/>
<circle cx="137.7" cy="21.4" r="2.8" fill="url(#gy)"/>
<circle cx="144.4" cy="21.4" r="2.8" fill="url(#gy)"/>
<circle cx="151.2" cy="21.4" r="2.8" fill="url(#gy)"/>
<circle cx="157.9" cy="21.4" r="2.8" fill="url(#gy)"/>
<circle cx="164.6" cy="21.4" r="2.8" fill="url(#gy)"/>
<circle cx="171.3" cy="21.4" r="2.8" fill="url(#gy)"/>
<circle cx="178" cy="21.4" r="2.8" fill="url(#gy)"/>
<circle cx="184.7" cy="21.4" r="2.8" fill="url(#gy)"/>
<circle cx="191.4" cy="21.3" r="2.8" fill="url(#gy)"/>
<circle cx="198.2" cy="21.3" r="2.8" fill="url(#gy)"/>
<circle cx="204.9" cy="21.3" r="2.8" fill="url(#gy)"/>
<circle cx="211.6" cy="21.3" r="2.8" fill="url(#gy)"/>
<circle cx="218.3" cy="21.3" r="2.8" fill="url(#gy)"/>
<circle cx="225" cy="21.2" r="2.8" fill="url(#gy)"/>
<circle cx="231.7" cy="21.2" r="2.8" fill="url(#gy)"/>
<circle cx="238.4" cy="21.2" r="2.8" fill="url(#gy)"/>
<circle cx="245.2" cy="21.2" r="2.8" fill="url(#gy)"/>
<circle cx="251.9" cy="21.1" r="2.8" fill="url(#gy)"/>
<circle cx="258.6" cy="21.1" r="2.8" fill="url(#gy)"/>
<circle cx="265.3" cy="21.1" r="2.8" fill="url(#gy)"/>
<circle cx="29" cy="17.8" r="3" fill="url(#gy)"/>
<circle cx="36" cy="17.8" r="3" fill="url(#gy)"/>
<circle cx="43" cy="17.8" r="3" fill="url(#gy)"/>
<circle cx="50" cy="17.8" r="3" fill="url(#gy)"/>
<circle cx="57" cy="17.8" r="3" fill="url(#gy)"/>
<circle cx="64" cy="17.8" r="3" fill="url(#gy)"/>
<circle cx="71" cy="17.8" r="3" fill="url(#gy)"/>
<circle cx="78" cy="17.8" r="3" fill="url(#gy)"/>
<circle cx="85" cy="17.8" r="3" fill="url(#gy)"/>
<circle cx="92" cy="17.8" r="3" fill="url(#gy)"/>
<circle cx="99" cy="17.8" r="3" fill="url(#gy)"/>
<circle cx="106" cy="17.8" r="3" fill="url(#gy)"/>
<circle cx="113" cy="17.8" r="3" fill="url(#gy)"/>
<circle cx="120" cy="17.8" r="3" fill="url(#gy)"/>
<circle cx="127" cy="17.8" r="3" fill="url(#gy)"/>
<circle cx="134" cy="17.8" r="3" fill="url(#gy)"/>
<circle cx="141" cy="17.8" r="3" fill="url(#gy)"/>
<circle cx="148" cy="17.8" r="3" fill="url(#gy)"/>
<circle cx="155" cy="17.8" r="3" fill="url(#gy)"/>
<circle cx="162" cy="17.8" r="3" fill="url(#gy)"/>
<circle cx="169" cy="17.8" r="3" fill="url(#gy)"/>
<circle cx="176" cy="17.8" r="3" fill="url(#gy)"/>
<circle cx="183" cy="17.8" r="3" fill="url(#gy)"/>
<circle cx="190" cy="17.8" r="3" fill="url(#gy)"/>
<circle cx="197" cy="17.8" r="3" fill="url(#gy)"/>
<circle cx="204" cy="17.8" r="3" fill="url(#gy)"/>
<circle cx="211" cy="17.8" r="3" fill="url(#gy)"/>
<circle cx="218" cy="17.8" r="3" fill="url(#gy)"/>
<circle cx="225" cy="17.8" r="3" fill="url(#gy)"/>
<circle cx="232" cy="17.8" r="3" fill="url(#gy)"/>
<circle cx="239" cy="17.8" r="3" fill="url(#gy)"/>
<circle cx="246" cy="17.8" r="3" fill="url(#gy)"/>
<circle cx="253" cy="17.8" r="3" fill="url(#gy)"/>
<circle cx="260" cy="17.8" r="3" fill="url(#gy)"/>
<circle cx="267" cy="17.8" r="3" fill="url(#gy)"/>
<g fill="#262690" opacity="0.85"><circle cx="32.5" cy="19.5" r="1.25"/><circle cx="39.5" cy="19.5" r="1.25"/><circle cx="46.5" cy="19.5" r="1.25"/><circle cx="53.5" cy="19.5" r="1.25"/><circle cx="60.5" cy="19.5" r="1.25"/><circle cx="67.5" cy="19.5" r="1.25"/><circle cx="74.5" cy="19.5" r="1.25"/><circle cx="81.5" cy="19.6" r="1.25"/><circle cx="88.5" cy="19.6" r="1.25"/><circle cx="95.5" cy="19.6" r="1.25"/><circle cx="102.5" cy="19.6" r="1.25"/><circle cx="109.5" cy="19.6" r="1.25"/><circle cx="116.5" cy="19.6" r="1.25"/><circle cx="123.5" cy="19.6" r="1.25"/><circle cx="130.5" cy="19.6" r="1.25"/><circle cx="137.5" cy="19.6" r="1.25"/><circle cx="144.5" cy="19.6" r="1.25"/><circle cx="151.5" cy="19.6" r="1.25"/><circle cx="158.5" cy="19.6" r="1.25"/><circle cx="165.5" cy="19.6" r="1.25"/><circle cx="172.5" cy="19.6" r="1.25"/><circle cx="179.5" cy="19.6" r="1.25"/><circle cx="186.5" cy="19.6" r="1.25"/><circle cx="193.5" cy="19.6" r="1.25"/><circle cx="200.5" cy="19.6" r="1.25"/><circle cx="207.5" cy="19.6" r="1.25"/><circle cx="214.5" cy="19.5" r="1.25"/><circle cx="221.5" cy="19.5" r="1.25"/><circle cx="228.5" cy="19.5" r="1.25"/><circle cx="235.5" cy="19.5" r="1.25"/><circle cx="242.5" cy="19.5" r="1.25"/><circle cx="249.5" cy="19.5" r="1.25"/><circle cx="256.5" cy="19.5" r="1.25"/><circle cx="263.5" cy="19.4" r="1.25"/><circle cx="40.4" cy="22.8" r="1.25"/><circle cx="47.1" cy="22.9" r="1.25"/><circle cx="53.8" cy="22.9" r="1.25"/><circle cx="60.5" cy="23" r="1.25"/><circle cx="67.2" cy="23" r="1.25"/><circle cx="73.9" cy="23" r="1.25"/><circle cx="80.7" cy="23.1" r="1.25"/><circle cx="87.4" cy="23.1" r="1.25"/><circle cx="94.1" cy="23.1" r="1.25"/><circle cx="100.8" cy="23.1" r="1.25"/><circle cx="107.5" cy="23.2" r="1.25"/><circle cx="114.2" cy="23.2" r="1.25"/><circle cx="120.9" cy="23.2" r="1.25"/><circle cx="127.7" cy="23.2" r="1.25"/><circle cx="134.4" cy="23.2" r="1.25"/><circle cx="141.1" cy="23.2" r="1.25"/><circle cx="147.8" cy="23.2" r="1.25"/><circle cx="154.5" cy="23.2" r="1.25"/><circle cx="161.2" cy="23.2" r="1.25"/><circle cx="167.9" cy="23.2" r="1.25"/><circle cx="174.7" cy="23.2" r="1.25"/><circle cx="181.4" cy="23.2" r="1.25"/><circle cx="188.1" cy="23.1" r="1.25"/><circle cx="194.8" cy="23.1" r="1.25"/><circle cx="201.5" cy="23.1" r="1.25"/><circle cx="208.2" cy="23.1" r="1.25"/><circle cx="214.9" cy="23" r="1.25"/><circle cx="221.7" cy="23" r="1.25"/><circle cx="228.4" cy="23" r="1.25"/><circle cx="235.1" cy="22.9" r="1.25"/><circle cx="241.8" cy="22.9" r="1.25"/><circle cx="248.5" cy="22.8" r="1.25"/><circle cx="255.2" cy="22.8" r="1.25"/><circle cx="261.9" cy="22.7" r="1.25"/></g>
<line x1="19.3" y1="0.4" x2="31.3" y2="13" stroke="#e4e424" stroke-width="1.8"/>
<line x1="39.9" y1="0.4" x2="51.9" y2="13" stroke="#e4e424" stroke-width="1.8"/>
<line x1="39.9" y1="0.4" x2="31.3" y2="13" stroke="#e4e424" stroke-width="1.8"/>
<line x1="60.5" y1="0.4" x2="72.5" y2="13" stroke="#e4e424" stroke-width="1.8"/>
<line x1="60.5" y1="0.4" x2="51.9" y2="13" stroke="#e4e424" stroke-width="1.8"/>
<line x1="81.1" y1="0.4" x2="93.1" y2="13" stroke="#e4e424" stroke-width="1.8"/>
<line x1="81.1" y1="0.4" x2="72.5" y2="13" stroke="#e4e424" stroke-width="1.8"/>
<line x1="101.7" y1="0.4" x2="113.7" y2="13" stroke="#e4e424" stroke-width="1.8"/>
<line x1="101.7" y1="0.4" x2="93.1" y2="13" stroke="#e4e424" stroke-width="1.8"/>
<line x1="122.3" y1="0.4" x2="134.3" y2="13" stroke="#e4e424" stroke-width="1.8"/>
<line x1="122.3" y1="0.4" x2="113.7" y2="13" stroke="#e4e424" stroke-width="1.8"/>
<line x1="142.9" y1="0.4" x2="154.9" y2="13" stroke="#e4e424" stroke-width="1.8"/>
<line x1="142.9" y1="0.4" x2="134.3" y2="13" stroke="#e4e424" stroke-width="1.8"/>
<line x1="163.5" y1="0.4" x2="175.5" y2="13" stroke="#e4e424" stroke-width="1.8"/>
<line x1="163.5" y1="0.4" x2="154.9" y2="13" stroke="#e4e424" stroke-width="1.8"/>
<line x1="184.1" y1="0.4" x2="196.1" y2="13" stroke="#e4e424" stroke-width="1.8"/>
<line x1="184.1" y1="0.4" x2="175.5" y2="13" stroke="#e4e424" stroke-width="1.8"/>
<line x1="204.7" y1="0.4" x2="216.7" y2="13" stroke="#e4e424" stroke-width="1.8"/>
<line x1="204.7" y1="0.4" x2="196.1" y2="13" stroke="#e4e424" stroke-width="1.8"/>
<line x1="225.3" y1="0.4" x2="237.3" y2="13" stroke="#e4e424" stroke-width="1.8"/>
<line x1="225.3" y1="0.4" x2="216.7" y2="13" stroke="#e4e424" stroke-width="1.8"/>
<line x1="245.9" y1="0.4" x2="257.9" y2="13" stroke="#e4e424" stroke-width="1.8"/>
<line x1="245.9" y1="0.4" x2="237.3" y2="13" stroke="#e4e424" stroke-width="1.8"/>
<line x1="266.5" y1="0.4" x2="257.9" y2="13" stroke="#e4e424" stroke-width="1.8"/>
<line x1="29" y1="5" x2="32" y2="16" stroke="#d0d014" stroke-width="1.5"/>
<line x1="35" y1="5" x2="32" y2="16" stroke="#d0d014" stroke-width="1.5"/>
<line x1="39.3" y1="5" x2="42.3" y2="16" stroke="#d0d014" stroke-width="1.5"/>
<line x1="45.3" y1="5" x2="42.3" y2="16" stroke="#d0d014" stroke-width="1.5"/>
<line x1="49.6" y1="5" x2="52.6" y2="16" stroke="#d0d014" stroke-width="1.5"/>
<line x1="55.6" y1="5" x2="52.6" y2="16" stroke="#d0d014" stroke-width="1.5"/>
<line x1="59.9" y1="5" x2="62.9" y2="16" stroke="#d0d014" stroke-width="1.5"/>
<line x1="65.9" y1="5" x2="62.9" y2="16" stroke="#d0d014" stroke-width="1.5"/>
<line x1="70.2" y1="5" x2="73.2" y2="16" stroke="#d0d014" stroke-width="1.5"/>
<line x1="76.2" y1="5" x2="73.2" y2="16" stroke="#d0d014" stroke-width="1.5"/>
<line x1="80.5" y1="5" x2="83.5" y2="16" stroke="#d0d014" stroke-width="1.5"/>
<line x1="86.5" y1="5" x2="83.5" y2="16" stroke="#d0d014" stroke-width="1.5"/>
<line x1="90.8" y1="5" x2="93.8" y2="16" stroke="#d0d014" stroke-width="1.5"/>
<line x1="96.8" y1="5" x2="93.8" y2="16" stroke="#d0d014" stroke-width="1.5"/>
<line x1="101.1" y1="5" x2="104.1" y2="16" stroke="#d0d014" stroke-width="1.5"/>
<line x1="107.1" y1="5" x2="104.1" y2="16" stroke="#d0d014" stroke-width="1.5"/>
<line x1="111.4" y1="5" x2="114.4" y2="16" stroke="#d0d014" stroke-width="1.5"/>
<line x1="117.4" y1="5" x2="114.4" y2="16" stroke="#d0d014" stroke-width="1.5"/>
<line x1="121.7" y1="5" x2="124.7" y2="16" stroke="#d0d014" stroke-width="1.5"/>
<line x1="127.7" y1="5" x2="124.7" y2="16" stroke="#d0d014" stroke-width="1.5"/>
<line x1="132" y1="5" x2="135" y2="16" stroke="#d0d014" stroke-width="1.5"/>
<line x1="138" y1="5" x2="135" y2="16" stroke="#d0d014" stroke-width="1.5"/>
<line x1="142.3" y1="5" x2="145.3" y2="16" stroke="#d0d014" stroke-width="1.5"/>
<line x1="148.3" y1="5" x2="145.3" y2="16" stroke="#d0d014" stroke-width="1.5"/>
<line x1="152.6" y1="5" x2="155.6" y2="16" stroke="#d0d014" stroke-width="1.5"/>
<line x1="158.6" y1="5" x2="155.6" y2="16" stroke="#d0d014" stroke-width="1.5"/>
<line x1="162.9" y1="5" x2="165.9" y2="16" stroke="#d0d014" stroke-width="1.5"/>
<line x1="168.9" y1="5" x2="165.9" y2="16" stroke="#d0d014" stroke-width="1.5"/>
<line x1="173.2" y1="5" x2="176.2" y2="16" stroke="#d0d014" stroke-width="1.5"/>
<line x1="179.2" y1="5" x2="176.2" y2="16" stroke="#d0d014" stroke-width="1.5"/>
<line x1="183.5" y1="5" x2="186.5" y2="16" stroke="#d0d014" stroke-width="1.5"/>
<line x1="189.5" y1="5" x2="186.5" y2="16" stroke="#d0d014" stroke-width="1.5"/>
<line x1="193.8" y1="5" x2="196.8" y2="16" stroke="#d0d014" stroke-width="1.5"/>
<line x1="199.8" y1="5" x2="196.8" y2="16" stroke="#d0d014" stroke-width="1.5"/>
<line x1="204.1" y1="5" x2="207.1" y2="16" stroke="#d0d014" stroke-width="1.5"/>
<line x1="210.1" y1="5" x2="207.1" y2="16" stroke="#d0d014" stroke-width="1.5"/>
<line x1="214.4" y1="5" x2="217.4" y2="16" stroke="#d0d014" stroke-width="1.5"/>
<line x1="220.4" y1="5" x2="217.4" y2="16" stroke="#d0d014" stroke-width="1.5"/>
<line x1="224.7" y1="5" x2="227.7" y2="16" stroke="#d0d014" stroke-width="1.5"/>
<line x1="230.7" y1="5" x2="227.7" y2="16" stroke="#d0d014" stroke-width="1.5"/>
<line x1="235" y1="5" x2="238" y2="16" stroke="#d0d014" stroke-width="1.5"/>
<line x1="241" y1="5" x2="238" y2="16" stroke="#d0d014" stroke-width="1.5"/>
<line x1="245.3" y1="5" x2="248.3" y2="16" stroke="#d0d014" stroke-width="1.5"/>
<line x1="251.3" y1="5" x2="248.3" y2="16" stroke="#d0d014" stroke-width="1.5"/>
<line x1="255.6" y1="5" x2="258.6" y2="16" stroke="#d0d014" stroke-width="1.5"/>
<line x1="261.6" y1="5" x2="258.6" y2="16" stroke="#d0d014" stroke-width="1.5"/>
<circle cx="29.5" cy="2.6" r="2.9" fill="url(#gy)"/>
<circle cx="50.1" cy="2.6" r="2.9" fill="url(#gy)"/>
<circle cx="70.7" cy="2.6" r="2.9" fill="url(#gy)"/>
<circle cx="91.3" cy="2.6" r="2.9" fill="url(#gy)"/>
<circle cx="111.9" cy="2.6" r="2.9" fill="url(#gy)"/>
<circle cx="132.5" cy="2.6" r="2.9" fill="url(#gy)"/>
<circle cx="153.1" cy="2.6" r="2.9" fill="url(#gy)"/>
<circle cx="173.7" cy="2.6" r="2.9" fill="url(#gy)"/>
<circle cx="194.3" cy="2.6" r="2.9" fill="url(#gy)"/>
<circle cx="214.9" cy="2.6" r="2.9" fill="url(#gy)"/>
<circle cx="235.5" cy="2.6" r="2.9" fill="url(#gy)"/>
<circle cx="256.1" cy="2.6" r="2.9" fill="url(#gy)"/>
<circle cx="34.3" cy="7.2" r="2.5" fill="url(#gy)"/>
<circle cx="44.6" cy="7.2" r="2.5" fill="url(#gy)"/>
<circle cx="54.9" cy="7.2" r="2.5" fill="url(#gy)"/>
<circle cx="65.2" cy="7.2" r="2.5" fill="url(#gy)"/>
<circle cx="75.5" cy="7.2" r="2.5" fill="url(#gy)"/>
<circle cx="85.8" cy="7.2" r="2.5" fill="url(#gy)"/>
<circle cx="96.1" cy="7.2" r="2.5" fill="url(#gy)"/>
<circle cx="106.4" cy="7.2" r="2.5" fill="url(#gy)"/>
<circle cx="116.7" cy="7.2" r="2.5" fill="url(#gy)"/>
<circle cx="127" cy="7.2" r="2.5" fill="url(#gy)"/>
<circle cx="137.3" cy="7.2" r="2.5" fill="url(#gy)"/>
<circle cx="147.6" cy="7.2" r="2.5" fill="url(#gy)"/>
<circle cx="157.9" cy="7.2" r="2.5" fill="url(#gy)"/>
<circle cx="168.2" cy="7.2" r="2.5" fill="url(#gy)"/>
<circle cx="178.5" cy="7.2" r="2.5" fill="url(#gy)"/>
<circle cx="188.8" cy="7.2" r="2.5" fill="url(#gy)"/>
<circle cx="199.1" cy="7.2" r="2.5" fill="url(#gy)"/>
<circle cx="209.4" cy="7.2" r="2.5" fill="url(#gy)"/>
<circle cx="219.7" cy="7.2" r="2.5" fill="url(#gy)"/>
<circle cx="230" cy="7.2" r="2.5" fill="url(#gy)"/>
<circle cx="240.3" cy="7.2" r="2.5" fill="url(#gy)"/>
<circle cx="250.6" cy="7.2" r="2.5" fill="url(#gy)"/>
<circle cx="260.9" cy="7.2" r="2.5" fill="url(#gy)"/>
<circle cx="19.3" cy="0" r="3.3" fill="url(#gy)"/>
<circle cx="39.9" cy="0" r="3.3" fill="url(#gy)"/>
<circle cx="60.5" cy="0" r="3.3" fill="url(#gy)"/>
<circle cx="81.1" cy="0" r="3.3" fill="url(#gy)"/>
<circle cx="101.7" cy="0" r="3.3" fill="url(#gy)"/>
<circle cx="122.3" cy="0" r="3.3" fill="url(#gy)"/>
<circle cx="142.9" cy="0" r="3.3" fill="url(#gy)"/>
<circle cx="163.5" cy="0" r="3.3" fill="url(#gy)"/>
<circle cx="184.1" cy="0" r="3.3" fill="url(#gy)"/>
<circle cx="204.7" cy="0" r="3.3" fill="url(#gy)"/>
<circle cx="225.3" cy="0" r="3.3" fill="url(#gy)"/>
<circle cx="245.9" cy="0" r="3.3" fill="url(#gy)"/>
<circle cx="266.5" cy="0" r="3.3" fill="url(#gy)"/>
<line x1="31.4" y1="13" x2="18.4" y2="24" stroke="#e4e424" stroke-width="1.8"/>
<circle cx="18.4" cy="24.1" r="3.3" fill="url(#gy)"/>
<line x1="265" y1="13" x2="274" y2="22" stroke="#e4e424" stroke-width="1.8"/>
<line x1="265" y1="13" x2="275" y2="4" stroke="#e4e424" stroke-width="1.8"/>
<circle cx="274" cy="22.5" r="3.1" fill="url(#gy)"/>
<circle cx="275.5" cy="4.5" r="3" fill="url(#gy)"/>
<circle cx="39.7" cy="15.6" r="2.8" fill="url(#gb)"/>
<circle cx="45.3" cy="15.6" r="2.8" fill="url(#gb)"/>
<circle cx="60.2" cy="15.6" r="2.8" fill="url(#gb)"/>
<circle cx="65.8" cy="15.6" r="2.8" fill="url(#gb)"/>
<circle cx="80.7" cy="15.6" r="2.8" fill="url(#gb)"/>
<circle cx="86.3" cy="15.6" r="2.8" fill="url(#gb)"/>
<circle cx="101.2" cy="15.6" r="2.8" fill="url(#gb)"/>
<circle cx="106.8" cy="15.6" r="2.8" fill="url(#gb)"/>
<circle cx="121.7" cy="15.6" r="2.8" fill="url(#gb)"/>
<circle cx="127.3" cy="15.6" r="2.8" fill="url(#gb)"/>
<circle cx="142.2" cy="15.6" r="2.8" fill="url(#gb)"/>
<circle cx="147.8" cy="15.6" r="2.8" fill="url(#gb)"/>
<circle cx="162.7" cy="15.6" r="2.8" fill="url(#gb)"/>
<circle cx="168.3" cy="15.6" r="2.8" fill="url(#gb)"/>
<circle cx="183.2" cy="15.6" r="2.8" fill="url(#gb)"/>
<circle cx="188.8" cy="15.6" r="2.8" fill="url(#gb)"/>
<circle cx="203.7" cy="15.6" r="2.8" fill="url(#gb)"/>
<circle cx="209.3" cy="15.6" r="2.8" fill="url(#gb)"/>
<circle cx="224.2" cy="15.6" r="2.8" fill="url(#gb)"/>
<circle cx="229.8" cy="15.6" r="2.8" fill="url(#gb)"/>
<circle cx="244.7" cy="15.6" r="2.8" fill="url(#gb)"/>
<circle cx="250.3" cy="15.6" r="2.8" fill="url(#gb)"/>
<circle cx="31.4" cy="13" r="3.6" fill="url(#gb)"/>
<circle cx="51.9" cy="13" r="3.6" fill="url(#gb)"/>
<circle cx="72.4" cy="13" r="3.6" fill="url(#gb)"/>
<circle cx="92.9" cy="13" r="3.6" fill="url(#gb)"/>
<circle cx="113.4" cy="13" r="3.6" fill="url(#gb)"/>
<circle cx="133.9" cy="13" r="3.6" fill="url(#gb)"/>
<circle cx="154.4" cy="13" r="3.6" fill="url(#gb)"/>
<circle cx="174.9" cy="13" r="3.6" fill="url(#gb)"/>
<circle cx="195.4" cy="13" r="3.6" fill="url(#gb)"/>
<circle cx="215.9" cy="13" r="3.6" fill="url(#gb)"/>
<circle cx="236.4" cy="13" r="3.6" fill="url(#gb)"/>
<circle cx="256.9" cy="13" r="3.6" fill="url(#gb)"/>
</g>
<g transform="translate(407.7,37.8)">
<polygon points="27,14 262,14 243.6,35.4 233.6,37.8 223.7,39.6 213.7,41 203.8,41.9 193.9,42.5 183.9,42.9 174,43.2 164,43.3 154.1,43.3 144.1,43.3 134.2,43.3 124.2,43.3 114.3,43.2 104.3,43.1 94.4,42.7 84.4,42.2 74.5,41.4 64.5,40.2 54.6,38.6 44.6,36.5" fill="#c4c418"/>
<path d="M29 17.8 L31.9 20.1 M36 17.8 L38.8 20.4 M43 17.8 L45.6 20.7 M50 17.8 L52.4 21 M57 17.8 L59.2 21.2 M64 17.8 L66 21.3 M71 17.8 L72.8 21.5 M78 17.8 L79.7 21.6 M85 17.8 L86.5 21.6 M92 17.8 L93.3 21.7 M99 17.8 L100.1 21.7 M106 17.8 L106.9 21.8 M113 17.8 L113.8 21.8 M120 17.8 L120.6 21.8 M127 17.8 L127.4 21.8 M134 17.8 L134.2 21.8 M141 17.8 L141 21.8 M148 17.8 L147.8 21.8 M155 17.8 L154.7 21.8 M162 17.8 L161.5 21.8 M169 17.8 L168.3 21.8 M176 17.8 L175.1 21.8 M183 17.8 L181.9 21.7 M190 17.8 L188.8 21.7 M197 17.8 L195.6 21.7 M204 17.8 L202.4 21.6 M211 17.8 L209.2 21.5 M218 17.8 L216 21.4 M225 17.8 L222.8 21.2 M232 17.8 L229.7 21 M239 17.8 L236.5 20.8 M246 17.8 L243.3 20.5 M253 17.8 L250.1 20.2 M260 17.8 L256.9 19.8 M35.3 20.2 L38.2 23 M42.2 20.6 L44.8 23.5 M49 20.8 L51.5 24 M55.8 21.1 L58.1 24.5 M62.6 21.2 L64.7 24.8 M69.4 21.4 L71.4 25.1 M76.3 21.5 L78 25.3 M83.1 21.6 L84.6 25.4 M89.9 21.7 L91.3 25.6 M96.7 21.7 L97.9 25.7 M103.5 21.8 L104.6 25.7 M110.3 21.8 L111.2 25.8 M117.2 21.8 L117.8 25.8 M124 21.8 L124.5 25.8 M130.8 21.8 L131.1 25.8 M137.6 21.8 L137.7 25.8 M144.4 21.8 L144.4 25.8 M151.3 21.8 L151 25.8 M158.1 21.8 L157.6 25.8 M164.9 21.8 L164.3 25.8 M171.7 21.8 L170.9 25.8 M178.5 21.8 L177.6 25.7 M185.3 21.7 L184.2 25.7 M192.2 21.7 L190.8 25.6 M199 21.6 L197.5 25.5 M205.8 21.5 L204.1 25.3 M212.6 21.4 L210.7 25.1 M219.4 21.3 L217.4 24.9 M226.3 21.1 L224 24.6 M233.1 20.9 L230.6 24.2 M239.9 20.6 L237.3 23.7 M246.7 20.3 L243.9 23.1 M253.5 20 L250.5 22.5 M260.3 19.6 L257.2 21.7 M34.9 22.6 L37.8 25.5 M41.5 23.3 L44.3 26.3 M48.1 23.8 L50.7 27.1 M54.8 24.3 L57.2 27.7 M61.4 24.6 L63.6 28.2 M68.1 24.9 L70.1 28.6 M74.7 25.2 L76.5 29 M81.3 25.4 L83 29.2 M88 25.5 L89.4 29.4 M94.6 25.6 L95.9 29.6 M101.2 25.7 L102.4 29.7 M107.9 25.7 L108.8 29.7 M114.5 25.8 L115.3 29.8 M121.1 25.8 L121.7 29.8 M127.8 25.8 L128.2 29.8 M134.4 25.8 L134.6 29.8 M141.1 25.8 L141.1 29.8 M147.7 25.8 L147.5 29.8 M154.3 25.8 L154 29.8 M161 25.8 L160.4 29.8 M167.6 25.8 L166.9 29.8 M174.2 25.8 L173.3 29.7 M180.9 25.7 L179.8 29.7 M187.5 25.6 L186.3 29.6 M194.1 25.5 L192.7 29.5 M200.8 25.4 L199.2 29.3 M207.4 25.2 L205.6 29 M214 25 L212.1 28.7 M220.7 24.7 L218.5 28.3 M227.3 24.4 L225 27.9 M234 23.9 L231.4 27.3 M240.6 23.4 L237.9 26.6 M247.2 22.8 L244.3 25.7 M253.9 22.1 L250.8 24.8 M41 25.9 L43.9 29.1 M47.5 26.7 L50.2 30.1 M53.9 27.4 L56.4 30.9 M60.4 28 L62.7 31.6 M66.9 28.4 L69 32.1 M73.3 28.8 L75.2 32.6 M79.8 29.1 L81.5 32.9 M86.2 29.3 L87.8 33.2 M92.7 29.5 L94.1 33.4 M99.1 29.6 L100.3 33.6 M105.6 29.7 L106.6 33.7 M112 29.7 L112.9 33.7 M118.5 29.8 L119.2 33.8 M124.9 29.8 L125.4 33.8 M131.4 29.8 L131.7 33.8 M137.9 29.8 L138 33.8 M144.3 29.8 L144.2 33.8 M150.8 29.8 L150.5 33.8 M157.2 29.8 L156.8 33.8 M163.7 29.8 L163.1 33.8 M170.1 29.8 L169.3 33.7 M176.6 29.7 L175.6 33.7 M183 29.6 L181.9 33.6 M189.5 29.5 L188.1 33.5 M195.9 29.4 L194.4 33.3 M202.4 29.2 L200.7 33 M208.8 28.9 L207 32.7 M215.3 28.5 L213.2 32.3 M221.8 28.1 L219.5 31.8 M228.2 27.6 L225.8 31.1 M234.7 26.9 L232 30.3 M241.1 26.2 L238.3 29.4 M247.6 25.3 L244.6 28.3 M254 24.2 L250.9 27.1 M40.8 28.6 L43.7 31.9 M47 29.6 L49.8 33.1 M53.3 30.5 L55.9 34.1 M59.6 31.3 L62 34.9 M65.8 31.9 L68 35.6 M72.1 32.4 L74.1 36.2 M78.4 32.8 L80.2 36.6 M84.7 33.1 L86.3 37 M90.9 33.3 L92.4 37.3 M97.2 33.5 L98.5 37.5 M103.5 33.6 L104.6 37.6 M109.7 33.7 L110.7 37.7 M116 33.8 L116.8 37.7 M122.3 33.8 L122.9 37.8 M128.6 33.8 L129 37.8 M134.8 33.8 L135 37.8 M141.1 33.8 L141.1 37.8 M147.4 33.8 L147.2 37.8 M153.6 33.8 L153.3 37.8 M159.9 33.8 L159.4 37.8 M166.2 33.8 L165.5 37.8 M172.5 33.7 L171.6 37.7 M178.7 33.7 L177.7 37.6 M185 33.5 L183.8 37.5 M191.3 33.4 L189.9 37.3 M197.6 33.2 L195.9 37.1 M203.8 32.9 L202 36.8 M210.1 32.5 L208.1 36.3 M216.4 32 L214.2 35.8 M222.6 31.5 L220.3 35.2 M228.9 30.7 L226.4 34.4 M235.2 29.9 L232.5 33.4 M241.5 28.9 L238.6 32.3 M247.7 27.7 L244.7 31 M46.7 32.5 L49.6 36.1 M52.8 33.6 L55.5 37.3 M58.9 34.5 L61.4 38.3 M65 35.3 L67.3 39.1 M71.1 35.9 L73.2 39.8 M77.2 36.4 L79.1 40.3 M83.3 36.8 L85 40.8 M89.4 37.1 L90.9 41.1 M95.5 37.4 L96.8 41.3 M101.5 37.5 L102.8 41.5 M107.6 37.7 L108.7 41.6 M113.7 37.7 L114.6 41.7 M119.8 37.8 L120.5 41.8 M125.9 37.8 L126.4 41.8 M132 37.8 L132.3 41.8 M138.1 37.8 L138.2 41.8 M144.2 37.8 L144.1 41.8 M150.3 37.8 L150 41.8 M156.4 37.8 L155.9 41.8 M162.4 37.8 L161.8 41.8 M168.5 37.7 L167.7 41.7 M174.6 37.7 L173.7 41.7 M180.7 37.6 L179.6 41.6 M186.8 37.4 L185.5 41.4 M192.9 37.2 L191.4 41.2 M199 36.9 L197.3 40.9 M205.1 36.6 L203.2 40.5 M211.2 36.1 L209.1 39.9 M217.3 35.5 L215 39.3 M223.3 34.8 L220.9 38.5 M229.4 33.9 L226.8 37.6 M235.5 32.9 L232.7 36.5 M241.6 31.6 L238.6 35.2 M247.7 30.2 L244.5 33.6" stroke="#a8a800" stroke-width="1.3" fill="none"/>
<circle cx="46.6" cy="35.5" r="2.4" fill="url(#gy)"/>
<circle cx="52.5" cy="36.7" r="2.4" fill="url(#gy)"/>
<circle cx="58.4" cy="37.8" r="2.4" fill="url(#gy)"/>
<circle cx="64.4" cy="38.7" r="2.4" fill="url(#gy)"/>
<circle cx="70.3" cy="39.5" r="2.4" fill="url(#gy)"/>
<circle cx="76.2" cy="40.1" r="2.4" fill="url(#gy)"/>
<circle cx="82.1" cy="40.6" r="2.4" fill="url(#gy)"/>
<circle cx="88" cy="40.9" r="2.4" fill="url(#gy)"/>
<circle cx="93.9" cy="41.2" r="2.4" fill="url(#gy)"/>
<circle cx="99.8" cy="41.4" r="2.4" fill="url(#gy)"/>
<circle cx="105.7" cy="41.6" r="2.4" fill="url(#gy)"/>
<circle cx="111.6" cy="41.7" r="2.4" fill="url(#gy)"/>
<circle cx="117.5" cy="41.7" r="2.4" fill="url(#gy)"/>
<circle cx="123.4" cy="41.8" r="2.4" fill="url(#gy)"/>
<circle cx="129.3" cy="41.8" r="2.4" fill="url(#gy)"/>
<circle cx="135.2" cy="41.8" r="2.4" fill="url(#gy)"/>
<circle cx="141.2" cy="41.8" r="2.4" fill="url(#gy)"/>
<circle cx="147.1" cy="41.8" r="2.4" fill="url(#gy)"/>
<circle cx="153" cy="41.8" r="2.4" fill="url(#gy)"/>
<circle cx="158.9" cy="41.8" r="2.4" fill="url(#gy)"/>
<circle cx="164.8" cy="41.8" r="2.4" fill="url(#gy)"/>
<circle cx="170.7" cy="41.7" r="2.4" fill="url(#gy)"/>
<circle cx="176.6" cy="41.6" r="2.4" fill="url(#gy)"/>
<circle cx="182.5" cy="41.5" r="2.4" fill="url(#gy)"/>
<circle cx="188.4" cy="41.3" r="2.4" fill="url(#gy)"/>
<circle cx="194.3" cy="41" r="2.4" fill="url(#gy)"/>
<circle cx="200.2" cy="40.7" r="2.4" fill="url(#gy)"/>
<circle cx="206.1" cy="40.2" r="2.4" fill="url(#gy)"/>
<circle cx="212.1" cy="39.6" r="2.4" fill="url(#gy)"/>
<circle cx="218" cy="38.9" r="2.4" fill="url(#gy)"/>
<circle cx="223.9" cy="38.1" r="2.4" fill="url(#gy)"/>
<circle cx="229.8" cy="37.1" r="2.4" fill="url(#gy)"/>
<circle cx="235.7" cy="35.8" r="2.4" fill="url(#gy)"/>
<circle cx="241.6" cy="34.4" r="2.4" fill="url(#gy)"/>
<circle cx="46.7" cy="32.5" r="2.5" fill="url(#gy)"/>
<circle cx="52.8" cy="33.6" r="2.5" fill="url(#gy)"/>
<circle cx="58.9" cy="34.5" r="2.5" fill="url(#gy)"/>
<circle cx="65" cy="35.3" r="2.5" fill="url(#gy)"/>
<circle cx="71.1" cy="35.9" r="2.5" fill="url(#gy)"/>
<circle cx="77.2" cy="36.4" r="2.5" fill="url(#gy)"/>
<circle cx="83.3" cy="36.8" r="2.5" fill="url(#gy)"/>
<circle cx="89.4" cy="37.1" r="2.5" fill="url(#gy)"/>
<circle cx="95.5" cy="37.4" r="2.5" fill="url(#gy)"/>
<circle cx="101.5" cy="37.5" r="2.5" fill="url(#gy)"/>
<circle cx="107.6" cy="37.7" r="2.5" fill="url(#gy)"/>
<circle cx="113.7" cy="37.7" r="2.5" fill="url(#gy)"/>
<circle cx="119.8" cy="37.8" r="2.5" fill="url(#gy)"/>
<circle cx="125.9" cy="37.8" r="2.5" fill="url(#gy)"/>
<circle cx="132" cy="37.8" r="2.5" fill="url(#gy)"/>
<circle cx="138.1" cy="37.8" r="2.5" fill="url(#gy)"/>
<circle cx="144.2" cy="37.8" r="2.5" fill="url(#gy)"/>
<circle cx="150.3" cy="37.8" r="2.5" fill="url(#gy)"/>
<circle cx="156.4" cy="37.8" r="2.5" fill="url(#gy)"/>
<circle cx="162.4" cy="37.8" r="2.5" fill="url(#gy)"/>
<circle cx="168.5" cy="37.7" r="2.5" fill="url(#gy)"/>
<circle cx="174.6" cy="37.7" r="2.5" fill="url(#gy)"/>
<circle cx="180.7" cy="37.6" r="2.5" fill="url(#gy)"/>
<circle cx="186.8" cy="37.4" r="2.5" fill="url(#gy)"/>
<circle cx="192.9" cy="37.2" r="2.5" fill="url(#gy)"/>
<circle cx="199" cy="36.9" r="2.5" fill="url(#gy)"/>
<circle cx="205.1" cy="36.6" r="2.5" fill="url(#gy)"/>
<circle cx="211.2" cy="36.1" r="2.5" fill="url(#gy)"/>
<circle cx="217.3" cy="35.5" r="2.5" fill="url(#gy)"/>
<circle cx="223.3" cy="34.8" r="2.5" fill="url(#gy)"/>
<circle cx="229.4" cy="33.9" r="2.5" fill="url(#gy)"/>
<circle cx="235.5" cy="32.9" r="2.5" fill="url(#gy)"/>
<circle cx="241.6" cy="31.6" r="2.5" fill="url(#gy)"/>
<circle cx="247.7" cy="30.2" r="2.5" fill="url(#gy)"/>
<circle cx="40.8" cy="28.6" r="2.6" fill="url(#gy)"/>
<circle cx="47" cy="29.6" r="2.6" fill="url(#gy)"/>
<circle cx="53.3" cy="30.5" r="2.6" fill="url(#gy)"/>
<circle cx="59.6" cy="31.3" r="2.6" fill="url(#gy)"/>
<circle cx="65.8" cy="31.9" r="2.6" fill="url(#gy)"/>
<circle cx="72.1" cy="32.4" r="2.6" fill="url(#gy)"/>
<circle cx="78.4" cy="32.8" r="2.6" fill="url(#gy)"/>
<circle cx="84.7" cy="33.1" r="2.6" fill="url(#gy)"/>
<circle cx="90.9" cy="33.3" r="2.6" fill="url(#gy)"/>
<circle cx="97.2" cy="33.5" r="2.6" fill="url(#gy)"/>
<circle cx="103.5" cy="33.6" r="2.6" fill="url(#gy)"/>
<circle cx="109.7" cy="33.7" r="2.6" fill="url(#gy)"/>
<circle cx="116" cy="33.8" r="2.6" fill="url(#gy)"/>
<circle cx="122.3" cy="33.8" r="2.6" fill="url(#gy)"/>
<circle cx="128.6" cy="33.8" r="2.6" fill="url(#gy)"/>
<circle cx="134.8" cy="33.8" r="2.6" fill="url(#gy)"/>
<circle cx="141.1" cy="33.8" r="2.6" fill="url(#gy)"/>
<circle cx="147.4" cy="33.8" r="2.6" fill="url(#gy)"/>
<circle cx="153.6" cy="33.8" r="2.6" fill="url(#gy)"/>
<circle cx="159.9" cy="33.8" r="2.6" fill="url(#gy)"/>
<circle cx="166.2" cy="33.8" r="2.6" fill="url(#gy)"/>
<circle cx="172.5" cy="33.7" r="2.6" fill="url(#gy)"/>
<circle cx="178.7" cy="33.7" r="2.6" fill="url(#gy)"/>
<circle cx="185" cy="33.5" r="2.6" fill="url(#gy)"/>
<circle cx="191.3" cy="33.4" r="2.6" fill="url(#gy)"/>
<circle cx="197.6" cy="33.2" r="2.6" fill="url(#gy)"/>
<circle cx="203.8" cy="32.9" r="2.6" fill="url(#gy)"/>
<circle cx="210.1" cy="32.5" r="2.6" fill="url(#gy)"/>
<circle cx="216.4" cy="32" r="2.6" fill="url(#gy)"/>
<circle cx="222.6" cy="31.5" r="2.6" fill="url(#gy)"/>
<circle cx="228.9" cy="30.7" r="2.6" fill="url(#gy)"/>
<circle cx="235.2" cy="29.9" r="2.6" fill="url(#gy)"/>
<circle cx="241.5" cy="28.9" r="2.6" fill="url(#gy)"/>
<circle cx="247.7" cy="27.7" r="2.6" fill="url(#gy)"/>
<circle cx="41" cy="25.9" r="2.7" fill="url(#gy)"/>
<circle cx="47.5" cy="26.7" r="2.7" fill="url(#gy)"/>
<circle cx="53.9" cy="27.4" r="2.7" fill="url(#gy)"/>
<circle cx="60.4" cy="28" r="2.7" fill="url(#gy)"/>
<circle cx="66.9" cy="28.4" r="2.7" fill="url(#gy)"/>
<circle cx="73.3" cy="28.8" r="2.7" fill="url(#gy)"/>
<circle cx="79.8" cy="29.1" r="2.7" fill="url(#gy)"/>
<circle cx="86.2" cy="29.3" r="2.7" fill="url(#gy)"/>
<circle cx="92.7" cy="29.5" r="2.7" fill="url(#gy)"/>
<circle cx="99.1" cy="29.6" r="2.7" fill="url(#gy)"/>
<circle cx="105.6" cy="29.7" r="2.7" fill="url(#gy)"/>
<circle cx="112" cy="29.7" r="2.7" fill="url(#gy)"/>
<circle cx="118.5" cy="29.8" r="2.7" fill="url(#gy)"/>
<circle cx="124.9" cy="29.8" r="2.7" fill="url(#gy)"/>
<circle cx="131.4" cy="29.8" r="2.7" fill="url(#gy)"/>
<circle cx="137.9" cy="29.8" r="2.7" fill="url(#gy)"/>
<circle cx="144.3" cy="29.8" r="2.7" fill="url(#gy)"/>
<circle cx="150.8" cy="29.8" r="2.7" fill="url(#gy)"/>
<circle cx="157.2" cy="29.8" r="2.7" fill="url(#gy)"/>
<circle cx="163.7" cy="29.8" r="2.7" fill="url(#gy)"/>
<circle cx="170.1" cy="29.8" r="2.7" fill="url(#gy)"/>
<circle cx="176.6" cy="29.7" r="2.7" fill="url(#gy)"/>
<circle cx="183" cy="29.6" r="2.7" fill="url(#gy)"/>
<circle cx="189.5" cy="29.5" r="2.7" fill="url(#gy)"/>
<circle cx="195.9" cy="29.4" r="2.7" fill="url(#gy)"/>
<circle cx="202.4" cy="29.2" r="2.7" fill="url(#gy)"/>
<circle cx="208.8" cy="28.9" r="2.7" fill="url(#gy)"/>
<circle cx="215.3" cy="28.5" r="2.7" fill="url(#gy)"/>
<circle cx="221.8" cy="28.1" r="2.7" fill="url(#gy)"/>
<circle cx="228.2" cy="27.6" r="2.7" fill="url(#gy)"/>
<circle cx="234.7" cy="26.9" r="2.7" fill="url(#gy)"/>
<circle cx="241.1" cy="26.2" r="2.7" fill="url(#gy)"/>
<circle cx="247.6" cy="25.3" r="2.7" fill="url(#gy)"/>
<circle cx="254" cy="24.2" r="2.7" fill="url(#gy)"/>
<circle cx="34.9" cy="22.6" r="2.8" fill="url(#gy)"/>
<circle cx="41.5" cy="23.3" r="2.8" fill="url(#gy)"/>
<circle cx="48.1" cy="23.8" r="2.8" fill="url(#gy)"/>
<circle cx="54.8" cy="24.3" r="2.8" fill="url(#gy)"/>
<circle cx="61.4" cy="24.6" r="2.8" fill="url(#gy)"/>
<circle cx="68.1" cy="24.9" r="2.8" fill="url(#gy)"/>
<circle cx="74.7" cy="25.2" r="2.8" fill="url(#gy)"/>
<circle cx="81.3" cy="25.4" r="2.8" fill="url(#gy)"/>
<circle cx="88" cy="25.5" r="2.8" fill="url(#gy)"/>
<circle cx="94.6" cy="25.6" r="2.8" fill="url(#gy)"/>
<circle cx="101.2" cy="25.7" r="2.8" fill="url(#gy)"/>
<circle cx="107.9" cy="25.7" r="2.8" fill="url(#gy)"/>
<circle cx="114.5" cy="25.8" r="2.8" fill="url(#gy)"/>
<circle cx="121.1" cy="25.8" r="2.8" fill="url(#gy)"/>
<circle cx="127.8" cy="25.8" r="2.8" fill="url(#gy)"/>
<circle cx="134.4" cy="25.8" r="2.8" fill="url(#gy)"/>
<circle cx="141.1" cy="25.8" r="2.8" fill="url(#gy)"/>
<circle cx="147.7" cy="25.8" r="2.8" fill="url(#gy)"/>
<circle cx="154.3" cy="25.8" r="2.8" fill="url(#gy)"/>
<circle cx="161" cy="25.8" r="2.8" fill="url(#gy)"/>
<circle cx="167.6" cy="25.8" r="2.8" fill="url(#gy)"/>
<circle cx="174.2" cy="25.8" r="2.8" fill="url(#gy)"/>
<circle cx="180.9" cy="25.7" r="2.8" fill="url(#gy)"/>
<circle cx="187.5" cy="25.6" r="2.8" fill="url(#gy)"/>
<circle cx="194.1" cy="25.5" r="2.8" fill="url(#gy)"/>
<circle cx="200.8" cy="25.4" r="2.8" fill="url(#gy)"/>
<circle cx="207.4" cy="25.2" r="2.8" fill="url(#gy)"/>
<circle cx="214" cy="25" r="2.8" fill="url(#gy)"/>
<circle cx="220.7" cy="24.7" r="2.8" fill="url(#gy)"/>
<circle cx="227.3" cy="24.4" r="2.8" fill="url(#gy)"/>
<circle cx="234" cy="23.9" r="2.8" fill="url(#gy)"/>
<circle cx="240.6" cy="23.4" r="2.8" fill="url(#gy)"/>
<circle cx="247.2" cy="22.8" r="2.8" fill="url(#gy)"/>
<circle cx="253.9" cy="22.1" r="2.8" fill="url(#gy)"/>
<circle cx="35.3" cy="20.2" r="2.9" fill="url(#gy)"/>
<circle cx="42.2" cy="20.6" r="2.9" fill="url(#gy)"/>
<circle cx="49" cy="20.8" r="2.9" fill="url(#gy)"/>
<circle cx="55.8" cy="21.1" r="2.9" fill="url(#gy)"/>
<circle cx="62.6" cy="21.2" r="2.9" fill="url(#gy)"/>
<circle cx="69.4" cy="21.4" r="2.9" fill="url(#gy)"/>
<circle cx="76.3" cy="21.5" r="2.9" fill="url(#gy)"/>
<circle cx="83.1" cy="21.6" r="2.9" fill="url(#gy)"/>
<circle cx="89.9" cy="21.7" r="2.9" fill="url(#gy)"/>
<circle cx="96.7" cy="21.7" r="2.9" fill="url(#gy)"/>
<circle cx="103.5" cy="21.8" r="2.9" fill="url(#gy)"/>
<circle cx="110.3" cy="21.8" r="2.9" fill="url(#gy)"/>
<circle cx="117.2" cy="21.8" r="2.9" fill="url(#gy)"/>
<circle cx="124" cy="21.8" r="2.9" fill="url(#gy)"/>
<circle cx="130.8" cy="21.8" r="2.9" fill="url(#gy)"/>
<circle cx="137.6" cy="21.8" r="2.9" fill="url(#gy)"/>
<circle cx="144.4" cy="21.8" r="2.9" fill="url(#gy)"/>
<circle cx="151.3" cy="21.8" r="2.9" fill="url(#gy)"/>
<circle cx="158.1" cy="21.8" r="2.9" fill="url(#gy)"/>
<circle cx="164.9" cy="21.8" r="2.9" fill="url(#gy)"/>
<circle cx="171.7" cy="21.8" r="2.9" fill="url(#gy)"/>
<circle cx="178.5" cy="21.8" r="2.9" fill="url(#gy)"/>
<circle cx="185.3" cy="21.7" r="2.9" fill="url(#gy)"/>
<circle cx="192.2" cy="21.7" r="2.9" fill="url(#gy)"/>
<circle cx="199" cy="21.6" r="2.9" fill="url(#gy)"/>
<circle cx="205.8" cy="21.5" r="2.9" fill="url(#gy)"/>
<circle cx="212.6" cy="21.4" r="2.9" fill="url(#gy)"/>
<circle cx="219.4" cy="21.3" r="2.9" fill="url(#gy)"/>
<circle cx="226.3" cy="21.1" r="2.9" fill="url(#gy)"/>
<circle cx="233.1" cy="20.9" r="2.9" fill="url(#gy)"/>
<circle cx="239.9" cy="20.6" r="2.9" fill="url(#gy)"/>
<circle cx="246.7" cy="20.3" r="2.9" fill="url(#gy)"/>
<circle cx="253.5" cy="20" r="2.9" fill="url(#gy)"/>
<circle cx="260.3" cy="19.6" r="2.9" fill="url(#gy)"/>
<circle cx="29" cy="17.8" r="3" fill="url(#gy)"/>
<circle cx="36" cy="17.8" r="3" fill="url(#gy)"/>
<circle cx="43" cy="17.8" r="3" fill="url(#gy)"/>
<circle cx="50" cy="17.8" r="3" fill="url(#gy)"/>
<circle cx="57" cy="17.8" r="3" fill="url(#gy)"/>
<circle cx="64" cy="17.8" r="3" fill="url(#gy)"/>
<circle cx="71" cy="17.8" r="3" fill="url(#gy)"/>
<circle cx="78" cy="17.8" r="3" fill="url(#gy)"/>
<circle cx="85" cy="17.8" r="3" fill="url(#gy)"/>
<circle cx="92" cy="17.8" r="3" fill="url(#gy)"/>
<circle cx="99" cy="17.8" r="3" fill="url(#gy)"/>
<circle cx="106" cy="17.8" r="3" fill="url(#gy)"/>
<circle cx="113" cy="17.8" r="3" fill="url(#gy)"/>
<circle cx="120" cy="17.8" r="3" fill="url(#gy)"/>
<circle cx="127" cy="17.8" r="3" fill="url(#gy)"/>
<circle cx="134" cy="17.8" r="3" fill="url(#gy)"/>
<circle cx="141" cy="17.8" r="3" fill="url(#gy)"/>
<circle cx="148" cy="17.8" r="3" fill="url(#gy)"/>
<circle cx="155" cy="17.8" r="3" fill="url(#gy)"/>
<circle cx="162" cy="17.8" r="3" fill="url(#gy)"/>
<circle cx="169" cy="17.8" r="3" fill="url(#gy)"/>
<circle cx="176" cy="17.8" r="3" fill="url(#gy)"/>
<circle cx="183" cy="17.8" r="3" fill="url(#gy)"/>
<circle cx="190" cy="17.8" r="3" fill="url(#gy)"/>
<circle cx="197" cy="17.8" r="3" fill="url(#gy)"/>
<circle cx="204" cy="17.8" r="3" fill="url(#gy)"/>
<circle cx="211" cy="17.8" r="3" fill="url(#gy)"/>
<circle cx="218" cy="17.8" r="3" fill="url(#gy)"/>
<circle cx="225" cy="17.8" r="3" fill="url(#gy)"/>
<circle cx="232" cy="17.8" r="3" fill="url(#gy)"/>
<circle cx="239" cy="17.8" r="3" fill="url(#gy)"/>
<circle cx="246" cy="17.8" r="3" fill="url(#gy)"/>
<circle cx="253" cy="17.8" r="3" fill="url(#gy)"/>
<circle cx="260" cy="17.8" r="3" fill="url(#gy)"/>
<g fill="#262690" opacity="0.85"><circle cx="32.5" cy="18.9" r="1.25"/><circle cx="39.5" cy="19.1" r="1.25"/><circle cx="46.5" cy="19.3" r="1.25"/><circle cx="53.5" cy="19.4" r="1.25"/><circle cx="60.5" cy="19.5" r="1.25"/><circle cx="67.5" cy="19.6" r="1.25"/><circle cx="74.5" cy="19.6" r="1.25"/><circle cx="81.5" cy="19.7" r="1.25"/><circle cx="88.5" cy="19.7" r="1.25"/><circle cx="95.5" cy="19.8" r="1.25"/><circle cx="102.5" cy="19.8" r="1.25"/><circle cx="109.5" cy="19.8" r="1.25"/><circle cx="116.5" cy="19.8" r="1.25"/><circle cx="123.5" cy="19.8" r="1.25"/><circle cx="130.5" cy="19.8" r="1.25"/><circle cx="137.5" cy="19.8" r="1.25"/><circle cx="144.5" cy="19.8" r="1.25"/><circle cx="151.5" cy="19.8" r="1.25"/><circle cx="158.5" cy="19.8" r="1.25"/><circle cx="165.5" cy="19.8" r="1.25"/><circle cx="172.5" cy="19.8" r="1.25"/><circle cx="179.5" cy="19.8" r="1.25"/><circle cx="186.5" cy="19.8" r="1.25"/><circle cx="193.5" cy="19.7" r="1.25"/><circle cx="200.5" cy="19.7" r="1.25"/><circle cx="207.5" cy="19.7" r="1.25"/><circle cx="214.5" cy="19.6" r="1.25"/><circle cx="221.5" cy="19.5" r="1.25"/><circle cx="228.5" cy="19.4" r="1.25"/><circle cx="235.5" cy="19.3" r="1.25"/><circle cx="242.5" cy="19.2" r="1.25"/><circle cx="249.5" cy="19" r="1.25"/><circle cx="256.5" cy="18.8" r="1.25"/><circle cx="38.8" cy="21.7" r="1.25"/><circle cx="45.6" cy="22.2" r="1.25"/><circle cx="52.4" cy="22.5" r="1.25"/><circle cx="59.2" cy="22.8" r="1.25"/><circle cx="66" cy="23.1" r="1.25"/><circle cx="72.8" cy="23.3" r="1.25"/><circle cx="79.7" cy="23.4" r="1.25"/><circle cx="86.5" cy="23.6" r="1.25"/><circle cx="93.3" cy="23.6" r="1.25"/><circle cx="100.1" cy="23.7" r="1.25"/><circle cx="106.9" cy="23.8" r="1.25"/><circle cx="113.8" cy="23.8" r="1.25"/><circle cx="120.6" cy="23.8" r="1.25"/><circle cx="127.4" cy="23.8" r="1.25"/><circle cx="134.2" cy="23.8" r="1.25"/><circle cx="141" cy="23.8" r="1.25"/><circle cx="147.8" cy="23.8" r="1.25"/><circle cx="154.7" cy="23.8" r="1.25"/><circle cx="161.5" cy="23.8" r="1.25"/><circle cx="168.3" cy="23.8" r="1.25"/><circle cx="175.1" cy="23.8" r="1.25"/><circle cx="181.9" cy="23.7" r="1.25"/><circle cx="188.8" cy="23.7" r="1.25"/><circle cx="195.6" cy="23.6" r="1.25"/><circle cx="202.4" cy="23.5" r="1.25"/><circle cx="209.2" cy="23.3" r="1.25"/><circle cx="216" cy="23.1" r="1.25"/><circle cx="222.8" cy="22.9" r="1.25"/><circle cx="229.7" cy="22.6" r="1.25"/><circle cx="236.5" cy="22.3" r="1.25"/><circle cx="243.3" cy="21.8" r="1.25"/><circle cx="250.1" cy="21.3" r="1.25"/><circle cx="256.9" cy="20.8" r="1.25"/><circle cx="38.2" cy="24.2" r="1.25"/><circle cx="44.8" cy="25" r="1.25"/><circle cx="51.5" cy="25.6" r="1.25"/><circle cx="58.1" cy="26.1" r="1.25"/><circle cx="64.7" cy="26.5" r="1.25"/><circle cx="71.4" cy="26.9" r="1.25"/><circle cx="78" cy="27.1" r="1.25"/><circle cx="84.6" cy="27.4" r="1.25"/><circle cx="91.3" cy="27.5" r="1.25"/><circle cx="97.9" cy="27.6" r="1.25"/><circle cx="104.6" cy="27.7" r="1.25"/><circle cx="111.2" cy="27.7" r="1.25"/><circle cx="117.8" cy="27.8" r="1.25"/><circle cx="124.5" cy="27.8" r="1.25"/><circle cx="131.1" cy="27.8" r="1.25"/><circle cx="137.7" cy="27.8" r="1.25"/><circle cx="144.4" cy="27.8" r="1.25"/><circle cx="151" cy="27.8" r="1.25"/><circle cx="157.6" cy="27.8" r="1.25"/><circle cx="164.3" cy="27.8" r="1.25"/><circle cx="170.9" cy="27.8" r="1.25"/><circle cx="177.6" cy="27.7" r="1.25"/><circle cx="184.2" cy="27.6" r="1.25"/><circle cx="190.8" cy="27.5" r="1.25"/><circle cx="197.5" cy="27.4" r="1.25"/><circle cx="204.1" cy="27.2" r="1.25"/><circle cx="210.7" cy="27" r="1.25"/><circle cx="217.4" cy="26.6" r="1.25"/><circle cx="224" cy="26.2" r="1.25"/><circle cx="230.6" cy="25.8" r="1.25"/><circle cx="237.3" cy="25.2" r="1.25"/><circle cx="243.9" cy="24.5" r="1.25"/><circle cx="250.5" cy="23.6" r="1.25"/></g>
<line x1="19.3" y1="0.4" x2="31.3" y2="13" stroke="#e4e424" stroke-width="1.8"/>
<line x1="39.9" y1="0.4" x2="51.9" y2="13" stroke="#e4e424" stroke-width="1.8"/>
<line x1="39.9" y1="0.4" x2="31.3" y2="13" stroke="#e4e424" stroke-width="1.8"/>
<line x1="60.5" y1="0.4" x2="72.5" y2="13" stroke="#e4e424" stroke-width="1.8"/>
<line x1="60.5" y1="0.4" x2="51.9" y2="13" stroke="#e4e424" stroke-width="1.8"/>
<line x1="81.1" y1="0.4" x2="93.1" y2="13" stroke="#e4e424" stroke-width="1.8"/>
<line x1="81.1" y1="0.4" x2="72.5" y2="13" stroke="#e4e424" stroke-width="1.8"/>
<line x1="101.7" y1="0.4" x2="113.7" y2="13" stroke="#e4e424" stroke-width="1.8"/>
<line x1="101.7" y1="0.4" x2="93.1" y2="13" stroke="#e4e424" stroke-width="1.8"/>
<line x1="122.3" y1="0.4" x2="134.3" y2="13" stroke="#e4e424" stroke-width="1.8"/>
<line x1="122.3" y1="0.4" x2="113.7" y2="13" stroke="#e4e424" stroke-width="1.8"/>
<line x1="142.9" y1="0.4" x2="154.9" y2="13" stroke="#e4e424" stroke-width="1.8"/>
<line x1="142.9" y1="0.4" x2="134.3" y2="13" stroke="#e4e424" stroke-width="1.8"/>
<line x1="163.5" y1="0.4" x2="175.5" y2="13" stroke="#e4e424" stroke-width="1.8"/>
<line x1="163.5" y1="0.4" x2="154.9" y2="13" stroke="#e4e424" stroke-width="1.8"/>
<line x1="184.1" y1="0.4" x2="196.1" y2="13" stroke="#e4e424" stroke-width="1.8"/>
<line x1="184.1" y1="0.4" x2="175.5" y2="13" stroke="#e4e424" stroke-width="1.8"/>
<line x1="204.7" y1="0.4" x2="216.7" y2="13" stroke="#e4e424" stroke-width="1.8"/>
<line x1="204.7" y1="0.4" x2="196.1" y2="13" stroke="#e4e424" stroke-width="1.8"/>
<line x1="225.3" y1="0.4" x2="237.3" y2="13" stroke="#e4e424" stroke-width="1.8"/>
<line x1="225.3" y1="0.4" x2="216.7" y2="13" stroke="#e4e424" stroke-width="1.8"/>
<line x1="245.9" y1="0.4" x2="257.9" y2="13" stroke="#e4e424" stroke-width="1.8"/>
<line x1="245.9" y1="0.4" x2="237.3" y2="13" stroke="#e4e424" stroke-width="1.8"/>
<line x1="266.5" y1="0.4" x2="257.9" y2="13" stroke="#e4e424" stroke-width="1.8"/>
<line x1="29" y1="5" x2="32" y2="16" stroke="#d0d014" stroke-width="1.5"/>
<line x1="35" y1="5" x2="32" y2="16" stroke="#d0d014" stroke-width="1.5"/>
<line x1="39.3" y1="5" x2="42.3" y2="16" stroke="#d0d014" stroke-width="1.5"/>
<line x1="45.3" y1="5" x2="42.3" y2="16" stroke="#d0d014" stroke-width="1.5"/>
<line x1="49.6" y1="5" x2="52.6" y2="16" stroke="#d0d014" stroke-width="1.5"/>
<line x1="55.6" y1="5" x2="52.6" y2="16" stroke="#d0d014" stroke-width="1.5"/>
<line x1="59.9" y1="5" x2="62.9" y2="16" stroke="#d0d014" stroke-width="1.5"/>
<line x1="65.9" y1="5" x2="62.9" y2="16" stroke="#d0d014" stroke-width="1.5"/>
<line x1="70.2" y1="5" x2="73.2" y2="16" stroke="#d0d014" stroke-width="1.5"/>
<line x1="76.2" y1="5" x2="73.2" y2="16" stroke="#d0d014" stroke-width="1.5"/>
<line x1="80.5" y1="5" x2="83.5" y2="16" stroke="#d0d014" stroke-width="1.5"/>
<line x1="86.5" y1="5" x2="83.5" y2="16" stroke="#d0d014" stroke-width="1.5"/>
<line x1="90.8" y1="5" x2="93.8" y2="16" stroke="#d0d014" stroke-width="1.5"/>
<line x1="96.8" y1="5" x2="93.8" y2="16" stroke="#d0d014" stroke-width="1.5"/>
<line x1="101.1" y1="5" x2="104.1" y2="16" stroke="#d0d014" stroke-width="1.5"/>
<line x1="107.1" y1="5" x2="104.1" y2="16" stroke="#d0d014" stroke-width="1.5"/>
<line x1="111.4" y1="5" x2="114.4" y2="16" stroke="#d0d014" stroke-width="1.5"/>
<line x1="117.4" y1="5" x2="114.4" y2="16" stroke="#d0d014" stroke-width="1.5"/>
<line x1="121.7" y1="5" x2="124.7" y2="16" stroke="#d0d014" stroke-width="1.5"/>
<line x1="127.7" y1="5" x2="124.7" y2="16" stroke="#d0d014" stroke-width="1.5"/>
<line x1="132" y1="5" x2="135" y2="16" stroke="#d0d014" stroke-width="1.5"/>
<line x1="138" y1="5" x2="135" y2="16" stroke="#d0d014" stroke-width="1.5"/>
<line x1="142.3" y1="5" x2="145.3" y2="16" stroke="#d0d014" stroke-width="1.5"/>
<line x1="148.3" y1="5" x2="145.3" y2="16" stroke="#d0d014" stroke-width="1.5"/>
<line x1="152.6" y1="5" x2="155.6" y2="16" stroke="#d0d014" stroke-width="1.5"/>
<line x1="158.6" y1="5" x2="155.6" y2="16" stroke="#d0d014" stroke-width="1.5"/>
<line x1="162.9" y1="5" x2="165.9" y2="16" stroke="#d0d014" stroke-width="1.5"/>
<line x1="168.9" y1="5" x2="165.9" y2="16" stroke="#d0d014" stroke-width="1.5"/>
<line x1="173.2" y1="5" x2="176.2" y2="16" stroke="#d0d014" stroke-width="1.5"/>
<line x1="179.2" y1="5" x2="176.2" y2="16" stroke="#d0d014" stroke-width="1.5"/>
<line x1="183.5" y1="5" x2="186.5" y2="16" stroke="#d0d014" stroke-width="1.5"/>
<line x1="189.5" y1="5" x2="186.5" y2="16" stroke="#d0d014" stroke-width="1.5"/>
<line x1="193.8" y1="5" x2="196.8" y2="16" stroke="#d0d014" stroke-width="1.5"/>
<line x1="199.8" y1="5" x2="196.8" y2="16" stroke="#d0d014" stroke-width="1.5"/>
<line x1="204.1" y1="5" x2="207.1" y2="16" stroke="#d0d014" stroke-width="1.5"/>
<line x1="210.1" y1="5" x2="207.1" y2="16" stroke="#d0d014" stroke-width="1.5"/>
<line x1="214.4" y1="5" x2="217.4" y2="16" stroke="#d0d014" stroke-width="1.5"/>
<line x1="220.4" y1="5" x2="217.4" y2="16" stroke="#d0d014" stroke-width="1.5"/>
<line x1="224.7" y1="5" x2="227.7" y2="16" stroke="#d0d014" stroke-width="1.5"/>
<line x1="230.7" y1="5" x2="227.7" y2="16" stroke="#d0d014" stroke-width="1.5"/>
<line x1="235" y1="5" x2="238" y2="16" stroke="#d0d014" stroke-width="1.5"/>
<line x1="241" y1="5" x2="238" y2="16" stroke="#d0d014" stroke-width="1.5"/>
<line x1="245.3" y1="5" x2="248.3" y2="16" stroke="#d0d014" stroke-width="1.5"/>
<line x1="251.3" y1="5" x2="248.3" y2="16" stroke="#d0d014" stroke-width="1.5"/>
<line x1="255.6" y1="5" x2="258.6" y2="16" stroke="#d0d014" stroke-width="1.5"/>
<line x1="261.6" y1="5" x2="258.6" y2="16" stroke="#d0d014" stroke-width="1.5"/>
<circle cx="29.5" cy="2.6" r="2.9" fill="url(#gy)"/>
<circle cx="50.1" cy="2.6" r="2.9" fill="url(#gy)"/>
<circle cx="70.7" cy="2.6" r="2.9" fill="url(#gy)"/>
<circle cx="91.3" cy="2.6" r="2.9" fill="url(#gy)"/>
<circle cx="111.9" cy="2.6" r="2.9" fill="url(#gy)"/>
<circle cx="132.5" cy="2.6" r="2.9" fill="url(#gy)"/>
<circle cx="153.1" cy="2.6" r="2.9" fill="url(#gy)"/>
<circle cx="173.7" cy="2.6" r="2.9" fill="url(#gy)"/>
<circle cx="194.3" cy="2.6" r="2.9" fill="url(#gy)"/>
<circle cx="214.9" cy="2.6" r="2.9" fill="url(#gy)"/>
<circle cx="235.5" cy="2.6" r="2.9" fill="url(#gy)"/>
<circle cx="256.1" cy="2.6" r="2.9" fill="url(#gy)"/>
<circle cx="34.3" cy="7.2" r="2.5" fill="url(#gy)"/>
<circle cx="44.6" cy="7.2" r="2.5" fill="url(#gy)"/>
<circle cx="54.9" cy="7.2" r="2.5" fill="url(#gy)"/>
<circle cx="65.2" cy="7.2" r="2.5" fill="url(#gy)"/>
<circle cx="75.5" cy="7.2" r="2.5" fill="url(#gy)"/>
<circle cx="85.8" cy="7.2" r="2.5" fill="url(#gy)"/>
<circle cx="96.1" cy="7.2" r="2.5" fill="url(#gy)"/>
<circle cx="106.4" cy="7.2" r="2.5" fill="url(#gy)"/>
<circle cx="116.7" cy="7.2" r="2.5" fill="url(#gy)"/>
<circle cx="127" cy="7.2" r="2.5" fill="url(#gy)"/>
<circle cx="137.3" cy="7.2" r="2.5" fill="url(#gy)"/>
<circle cx="147.6" cy="7.2" r="2.5" fill="url(#gy)"/>
<circle cx="157.9" cy="7.2" r="2.5" fill="url(#gy)"/>
<circle cx="168.2" cy="7.2" r="2.5" fill="url(#gy)"/>
<circle cx="178.5" cy="7.2" r="2.5" fill="url(#gy)"/>
<circle cx="188.8" cy="7.2" r="2.5" fill="url(#gy)"/>
<circle cx="199.1" cy="7.2" r="2.5" fill="url(#gy)"/>
<circle cx="209.4" cy="7.2" r="2.5" fill="url(#gy)"/>
<circle cx="219.7" cy="7.2" r="2.5" fill="url(#gy)"/>
<circle cx="230" cy="7.2" r="2.5" fill="url(#gy)"/>
<circle cx="240.3" cy="7.2" r="2.5" fill="url(#gy)"/>
<circle cx="250.6" cy="7.2" r="2.5" fill="url(#gy)"/>
<circle cx="260.9" cy="7.2" r="2.5" fill="url(#gy)"/>
<circle cx="19.3" cy="0" r="3.3" fill="url(#gy)"/>
<circle cx="39.9" cy="0" r="3.3" fill="url(#gy)"/>
<circle cx="60.5" cy="0" r="3.3" fill="url(#gy)"/>
<circle cx="81.1" cy="0" r="3.3" fill="url(#gy)"/>
<circle cx="101.7" cy="0" r="3.3" fill="url(#gy)"/>
<circle cx="122.3" cy="0" r="3.3" fill="url(#gy)"/>
<circle cx="142.9" cy="0" r="3.3" fill="url(#gy)"/>
<circle cx="163.5" cy="0" r="3.3" fill="url(#gy)"/>
<circle cx="184.1" cy="0" r="3.3" fill="url(#gy)"/>
<circle cx="204.7" cy="0" r="3.3" fill="url(#gy)"/>
<circle cx="225.3" cy="0" r="3.3" fill="url(#gy)"/>
<circle cx="245.9" cy="0" r="3.3" fill="url(#gy)"/>
<circle cx="266.5" cy="0" r="3.3" fill="url(#gy)"/>
<line x1="31.4" y1="13" x2="18.4" y2="24" stroke="#e4e424" stroke-width="1.8"/>
<circle cx="18.4" cy="24.1" r="3.3" fill="url(#gy)"/>
<line x1="256" y1="13" x2="267" y2="22" stroke="#e4e424" stroke-width="1.8"/>
<line x1="256" y1="13" x2="268" y2="4" stroke="#e4e424" stroke-width="1.8"/>
<circle cx="267" cy="22.5" r="3.1" fill="url(#gy)"/>
<circle cx="268.5" cy="4.5" r="3" fill="url(#gy)"/>
<circle cx="39.7" cy="15.6" r="2.8" fill="url(#gb)"/>
<circle cx="45.3" cy="15.6" r="2.8" fill="url(#gb)"/>
<circle cx="60.2" cy="15.6" r="2.8" fill="url(#gb)"/>
<circle cx="65.8" cy="15.6" r="2.8" fill="url(#gb)"/>
<circle cx="80.7" cy="15.6" r="2.8" fill="url(#gb)"/>
<circle cx="86.3" cy="15.6" r="2.8" fill="url(#gb)"/>
<circle cx="101.2" cy="15.6" r="2.8" fill="url(#gb)"/>
<circle cx="106.8" cy="15.6" r="2.8" fill="url(#gb)"/>
<circle cx="121.7" cy="15.6" r="2.8" fill="url(#gb)"/>
<circle cx="127.3" cy="15.6" r="2.8" fill="url(#gb)"/>
<circle cx="142.2" cy="15.6" r="2.8" fill="url(#gb)"/>
<circle cx="147.8" cy="15.6" r="2.8" fill="url(#gb)"/>
<circle cx="162.7" cy="15.6" r="2.8" fill="url(#gb)"/>
<circle cx="168.3" cy="15.6" r="2.8" fill="url(#gb)"/>
<circle cx="183.2" cy="15.6" r="2.8" fill="url(#gb)"/>
<circle cx="188.8" cy="15.6" r="2.8" fill="url(#gb)"/>
<circle cx="203.7" cy="15.6" r="2.8" fill="url(#gb)"/>
<circle cx="209.3" cy="15.6" r="2.8" fill="url(#gb)"/>
<circle cx="224.2" cy="15.6" r="2.8" fill="url(#gb)"/>
<circle cx="229.8" cy="15.6" r="2.8" fill="url(#gb)"/>
<circle cx="244.7" cy="15.6" r="2.8" fill="url(#gb)"/>
<circle cx="250.3" cy="15.6" r="2.8" fill="url(#gb)"/>
<circle cx="31.4" cy="13" r="3.6" fill="url(#gb)"/>
<circle cx="51.9" cy="13" r="3.6" fill="url(#gb)"/>
<circle cx="72.4" cy="13" r="3.6" fill="url(#gb)"/>
<circle cx="92.9" cy="13" r="3.6" fill="url(#gb)"/>
<circle cx="113.4" cy="13" r="3.6" fill="url(#gb)"/>
<circle cx="133.9" cy="13" r="3.6" fill="url(#gb)"/>
<circle cx="154.4" cy="13" r="3.6" fill="url(#gb)"/>
<circle cx="174.9" cy="13" r="3.6" fill="url(#gb)"/>
<circle cx="195.4" cy="13" r="3.6" fill="url(#gb)"/>
<circle cx="215.9" cy="13" r="3.6" fill="url(#gb)"/>
<circle cx="236.4" cy="13" r="3.6" fill="url(#gb)"/>
<circle cx="256.9" cy="13" r="3.6" fill="url(#gb)"/>
</g>
<g transform="translate(407.7,122.4)">
<rect x="26" y="-2" width="242" height="26.5" fill="url(#patEdge)"/>
<circle cx="29" cy="0" r="3" fill="url(#gy)"/>
<circle cx="29" cy="22.4" r="3" fill="url(#gy)"/>
<circle cx="32.4" cy="1.6" r="2.6" fill="url(#gy)"/>
<circle cx="32.4" cy="20.8" r="2.6" fill="url(#gy)"/>
<circle cx="35.9" cy="0" r="3" fill="url(#gy)"/>
<circle cx="35.9" cy="22.4" r="3" fill="url(#gy)"/>
<circle cx="39.3" cy="1.6" r="2.6" fill="url(#gy)"/>
<circle cx="39.3" cy="20.8" r="2.6" fill="url(#gy)"/>
<circle cx="42.8" cy="0" r="3" fill="url(#gy)"/>
<circle cx="42.8" cy="22.4" r="3" fill="url(#gy)"/>
<circle cx="46.2" cy="1.6" r="2.6" fill="url(#gy)"/>
<circle cx="46.2" cy="20.8" r="2.6" fill="url(#gy)"/>
<circle cx="49.7" cy="0" r="3" fill="url(#gy)"/>
<circle cx="49.7" cy="22.4" r="3" fill="url(#gy)"/>
<circle cx="53.1" cy="1.6" r="2.6" fill="url(#gy)"/>
<circle cx="53.1" cy="20.8" r="2.6" fill="url(#gy)"/>
<circle cx="56.6" cy="0" r="3" fill="url(#gy)"/>
<circle cx="56.6" cy="22.4" r="3" fill="url(#gy)"/>
<circle cx="60" cy="1.6" r="2.6" fill="url(#gy)"/>
<circle cx="60" cy="20.8" r="2.6" fill="url(#gy)"/>
<circle cx="63.5" cy="0" r="3" fill="url(#gy)"/>
<circle cx="63.5" cy="22.4" r="3" fill="url(#gy)"/>
<circle cx="66.9" cy="1.6" r="2.6" fill="url(#gy)"/>
<circle cx="66.9" cy="20.8" r="2.6" fill="url(#gy)"/>
<circle cx="70.4" cy="0" r="3" fill="url(#gy)"/>
<circle cx="70.4" cy="22.4" r="3" fill="url(#gy)"/>
<circle cx="73.8" cy="1.6" r="2.6" fill="url(#gy)"/>
<circle cx="73.8" cy="20.8" r="2.6" fill="url(#gy)"/>
<circle cx="77.3" cy="0" r="3" fill="url(#gy)"/>
<circle cx="77.3" cy="22.4" r="3" fill="url(#gy)"/>
<circle cx="80.7" cy="1.6" r="2.6" fill="url(#gy)"/>
<circle cx="80.7" cy="20.8" r="2.6" fill="url(#gy)"/>
<circle cx="84.2" cy="0" r="3" fill="url(#gy)"/>
<circle cx="84.2" cy="22.4" r="3" fill="url(#gy)"/>
<circle cx="87.6" cy="1.6" r="2.6" fill="url(#gy)"/>
<circle cx="87.6" cy="20.8" r="2.6" fill="url(#gy)"/>
<circle cx="91.1" cy="0" r="3" fill="url(#gy)"/>
<circle cx="91.1" cy="22.4" r="3" fill="url(#gy)"/>
<circle cx="94.5" cy="1.6" r="2.6" fill="url(#gy)"/>
<circle cx="94.5" cy="20.8" r="2.6" fill="url(#gy)"/>
<circle cx="98" cy="0" r="3" fill="url(#gy)"/>
<circle cx="98" cy="22.4" r="3" fill="url(#gy)"/>
<circle cx="101.4" cy="1.6" r="2.6" fill="url(#gy)"/>
<circle cx="101.4" cy="20.8" r="2.6" fill="url(#gy)"/>
<circle cx="104.9" cy="0" r="3" fill="url(#gy)"/>
<circle cx="104.9" cy="22.4" r="3" fill="url(#gy)"/>
<circle cx="108.3" cy="1.6" r="2.6" fill="url(#gy)"/>
<circle cx="108.3" cy="20.8" r="2.6" fill="url(#gy)"/>
<circle cx="111.8" cy="0" r="3" fill="url(#gy)"/>
<circle cx="111.8" cy="22.4" r="3" fill="url(#gy)"/>
<circle cx="115.2" cy="1.6" r="2.6" fill="url(#gy)"/>
<circle cx="115.2" cy="20.8" r="2.6" fill="url(#gy)"/>
<circle cx="118.7" cy="0" r="3" fill="url(#gy)"/>
<circle cx="118.7" cy="22.4" r="3" fill="url(#gy)"/>
<circle cx="122.1" cy="1.6" r="2.6" fill="url(#gy)"/>
<circle cx="122.1" cy="20.8" r="2.6" fill="url(#gy)"/>
<circle cx="125.6" cy="0" r="3" fill="url(#gy)"/>
<circle cx="125.6" cy="22.4" r="3" fill="url(#gy)"/>
<circle cx="129" cy="1.6" r="2.6" fill="url(#gy)"/>
<circle cx="129" cy="20.8" r="2.6" fill="url(#gy)"/>
<circle cx="132.5" cy="0" r="3" fill="url(#gy)"/>
<circle cx="132.5" cy="22.4" r="3" fill="url(#gy)"/>
<circle cx="135.9" cy="1.6" r="2.6" fill="url(#gy)"/>
<circle cx="135.9" cy="20.8" r="2.6" fill="url(#gy)"/>
<circle cx="139.4" cy="0" r="3" fill="url(#gy)"/>
<circle cx="139.4" cy="22.4" r="3" fill="url(#gy)"/>
<circle cx="142.8" cy="1.6" r="2.6" fill="url(#gy)"/>
<circle cx="142.8" cy="20.8" r="2.6" fill="url(#gy)"/>
<circle cx="146.3" cy="0" r="3" fill="url(#gy)"/>
<circle cx="146.3" cy="22.4" r="3" fill="url(#gy)"/>
<circle cx="149.7" cy="1.6" r="2.6" fill="url(#gy)"/>
<circle cx="149.7" cy="20.8" r="2.6" fill="url(#gy)"/>
<circle cx="153.2" cy="0" r="3" fill="url(#gy)"/>
<circle cx="153.2" cy="22.4" r="3" fill="url(#gy)"/>
<circle cx="156.6" cy="1.6" r="2.6" fill="url(#gy)"/>
<circle cx="156.6" cy="20.8" r="2.6" fill="url(#gy)"/>
<circle cx="160.1" cy="0" r="3" fill="url(#gy)"/>
<circle cx="160.1" cy="22.4" r="3" fill="url(#gy)"/>
<circle cx="163.5" cy="1.6" r="2.6" fill="url(#gy)"/>
<circle cx="163.5" cy="20.8" r="2.6" fill="url(#gy)"/>
<circle cx="167" cy="0" r="3" fill="url(#gy)"/>
<circle cx="167" cy="22.4" r="3" fill="url(#gy)"/>
<circle cx="170.4" cy="1.6" r="2.6" fill="url(#gy)"/>
<circle cx="170.4" cy="20.8" r="2.6" fill="url(#gy)"/>
<circle cx="173.9" cy="0" r="3" fill="url(#gy)"/>
<circle cx="173.9" cy="22.4" r="3" fill="url(#gy)"/>
<circle cx="177.3" cy="1.6" r="2.6" fill="url(#gy)"/>
<circle cx="177.3" cy="20.8" r="2.6" fill="url(#gy)"/>
<circle cx="180.8" cy="0" r="3" fill="url(#gy)"/>
<circle cx="180.8" cy="22.4" r="3" fill="url(#gy)"/>
<circle cx="184.2" cy="1.6" r="2.6" fill="url(#gy)"/>
<circle cx="184.2" cy="20.8" r="2.6" fill="url(#gy)"/>
<circle cx="187.7" cy="0" r="3" fill="url(#gy)"/>
<circle cx="187.7" cy="22.4" r="3" fill="url(#gy)"/>
<circle cx="191.1" cy="1.6" r="2.6" fill="url(#gy)"/>
<circle cx="191.1" cy="20.8" r="2.6" fill="url(#gy)"/>
<circle cx="194.6" cy="0" r="3" fill="url(#gy)"/>
<circle cx="194.6" cy="22.4" r="3" fill="url(#gy)"/>
<circle cx="198" cy="1.6" r="2.6" fill="url(#gy)"/>
<circle cx="198" cy="20.8" r="2.6" fill="url(#gy)"/>
<circle cx="201.5" cy="0" r="3" fill="url(#gy)"/>
<circle cx="201.5" cy="22.4" r="3" fill="url(#gy)"/>
<circle cx="204.9" cy="1.6" r="2.6" fill="url(#gy)"/>
<circle cx="204.9" cy="20.8" r="2.6" fill="url(#gy)"/>
<circle cx="208.4" cy="0" r="3" fill="url(#gy)"/>
<circle cx="208.4" cy="22.4" r="3" fill="url(#gy)"/>
<circle cx="211.8" cy="1.6" r="2.6" fill="url(#gy)"/>
<circle cx="211.8" cy="20.8" r="2.6" fill="url(#gy)"/>
<circle cx="215.3" cy="0" r="3" fill="url(#gy)"/>
<circle cx="215.3" cy="22.4" r="3" fill="url(#gy)"/>
<circle cx="218.7" cy="1.6" r="2.6" fill="url(#gy)"/>
<circle cx="218.7" cy="20.8" r="2.6" fill="url(#gy)"/>
<circle cx="222.2" cy="0" r="3" fill="url(#gy)"/>
<circle cx="222.2" cy="22.4" r="3" fill="url(#gy)"/>
<circle cx="225.6" cy="1.6" r="2.6" fill="url(#gy)"/>
<circle cx="225.6" cy="20.8" r="2.6" fill="url(#gy)"/>
<circle cx="229.1" cy="0" r="3" fill="url(#gy)"/>
<circle cx="229.1" cy="22.4" r="3" fill="url(#gy)"/>
<circle cx="232.5" cy="1.6" r="2.6" fill="url(#gy)"/>
<circle cx="232.5" cy="20.8" r="2.6" fill="url(#gy)"/>
<circle cx="236" cy="0" r="3" fill="url(#gy)"/>
<circle cx="236" cy="22.4" r="3" fill="url(#gy)"/>
<circle cx="239.4" cy="1.6" r="2.6" fill="url(#gy)"/>
<circle cx="239.4" cy="20.8" r="2.6" fill="url(#gy)"/>
<circle cx="242.9" cy="0" r="3" fill="url(#gy)"/>
<circle cx="242.9" cy="22.4" r="3" fill="url(#gy)"/>
<circle cx="246.3" cy="1.6" r="2.6" fill="url(#gy)"/>
<circle cx="246.3" cy="20.8" r="2.6" fill="url(#gy)"/>
<circle cx="249.8" cy="0" r="3" fill="url(#gy)"/>
<circle cx="249.8" cy="22.4" r="3" fill="url(#gy)"/>
<circle cx="253.2" cy="1.6" r="2.6" fill="url(#gy)"/>
<circle cx="253.2" cy="20.8" r="2.6" fill="url(#gy)"/>
<circle cx="256.7" cy="0" r="3" fill="url(#gy)"/>
<circle cx="256.7" cy="22.4" r="3" fill="url(#gy)"/>
<circle cx="260.1" cy="1.6" r="2.6" fill="url(#gy)"/>
<circle cx="260.1" cy="20.8" r="2.6" fill="url(#gy)"/>
<circle cx="263.6" cy="0" r="3" fill="url(#gy)"/>
<circle cx="263.6" cy="22.4" r="3" fill="url(#gy)"/>
<circle cx="267" cy="1.6" r="2.6" fill="url(#gy)"/>
<circle cx="267" cy="20.8" r="2.6" fill="url(#gy)"/>
<line x1="30.4" y1="11.6" x2="19.3" y2="0" stroke="#e0e020" stroke-width="1.7"/>
<line x1="30.4" y1="11.6" x2="19.3" y2="22.4" stroke="#e0e020" stroke-width="1.7"/>
<circle cx="19.3" cy="0" r="3.2" fill="url(#gy)"/>
<circle cx="19.3" cy="22.4" r="3.2" fill="url(#gy)"/>
<rect x="30" y="10.2" width="227" height="2.8" fill="#2020c8"/>
<circle cx="30.4" cy="11.6" r="3.4" fill="url(#gb)"/>
<circle cx="37.4" cy="11.6" r="3" fill="url(#gb)"/>
<circle cx="44.4" cy="11.6" r="3.4" fill="url(#gb)"/>
<circle cx="51.4" cy="11.6" r="3" fill="url(#gb)"/>
<circle cx="58.4" cy="11.6" r="3.4" fill="url(#gb)"/>
<circle cx="65.4" cy="11.6" r="3" fill="url(#gb)"/>
<circle cx="72.4" cy="11.6" r="3.4" fill="url(#gb)"/>
<circle cx="79.4" cy="11.6" r="3" fill="url(#gb)"/>
<circle cx="86.4" cy="11.6" r="3.4" fill="url(#gb)"/>
<circle cx="93.4" cy="11.6" r="3" fill="url(#gb)"/>
<circle cx="100.4" cy="11.6" r="3.4" fill="url(#gb)"/>
<circle cx="107.4" cy="11.6" r="3" fill="url(#gb)"/>
<circle cx="114.4" cy="11.6" r="3.4" fill="url(#gb)"/>
<circle cx="121.4" cy="11.6" r="3" fill="url(#gb)"/>
<circle cx="128.4" cy="11.6" r="3.4" fill="url(#gb)"/>
<circle cx="135.4" cy="11.6" r="3" fill="url(#gb)"/>
<circle cx="142.4" cy="11.6" r="3.4" fill="url(#gb)"/>
<circle cx="149.4" cy="11.6" r="3" fill="url(#gb)"/>
<circle cx="156.4" cy="11.6" r="3.4" fill="url(#gb)"/>
<circle cx="163.4" cy="11.6" r="3" fill="url(#gb)"/>
<circle cx="170.4" cy="11.6" r="3.4" fill="url(#gb)"/>
<circle cx="177.4" cy="11.6" r="3" fill="url(#gb)"/>
<circle cx="184.4" cy="11.6" r="3.4" fill="url(#gb)"/>
<circle cx="191.4" cy="11.6" r="3" fill="url(#gb)"/>
<circle cx="198.4" cy="11.6" r="3.4" fill="url(#gb)"/>
<circle cx="205.4" cy="11.6" r="3" fill="url(#gb)"/>
<circle cx="212.4" cy="11.6" r="3.4" fill="url(#gb)"/>
<circle cx="219.4" cy="11.6" r="3" fill="url(#gb)"/>
<circle cx="226.4" cy="11.6" r="3.4" fill="url(#gb)"/>
<circle cx="233.4" cy="11.6" r="3" fill="url(#gb)"/>
<circle cx="240.4" cy="11.6" r="3.4" fill="url(#gb)"/>
<circle cx="247.4" cy="11.6" r="3" fill="url(#gb)"/>
<circle cx="254.4" cy="11.6" r="3.4" fill="url(#gb)"/>
</g>
<g transform="translate(407.5,227.6) scale(1,-1)">
<polygon points="27,14 262,14 243.6,36.6 233.6,39.2 223.7,41.1 213.7,42.6 203.8,43.6 193.9,44.3 183.9,44.7 174,45 164,45.1 154.1,45.1 144.1,45.1 134.2,45.1 124.2,45.1 114.3,45 104.3,44.8 94.4,44.5 84.4,43.9 74.5,43.1 64.5,41.8 54.6,40.1 44.6,37.8" fill="#c4c418"/>
<path d="M29 17.8 L31.9 20.2 M36 17.8 L38.8 20.6 M43 17.8 L45.6 20.9 M50 17.8 L52.4 21.2 M57 17.8 L59.2 21.4 M64 17.8 L66 21.6 M71 17.8 L72.8 21.7 M78 17.8 L79.7 21.8 M85 17.8 L86.5 21.9 M92 17.8 L93.3 22 M99 17.8 L100.1 22 M106 17.8 L106.9 22.1 M113 17.8 L113.8 22.1 M120 17.8 L120.6 22.1 M127 17.8 L127.4 22.1 M134 17.8 L134.2 22.1 M141 17.8 L141 22.1 M148 17.8 L147.8 22.1 M155 17.8 L154.7 22.1 M162 17.8 L161.5 22.1 M169 17.8 L168.3 22.1 M176 17.8 L175.1 22.1 M183 17.8 L181.9 22 M190 17.8 L188.8 22 M197 17.8 L195.6 21.9 M204 17.8 L202.4 21.9 M211 17.8 L209.2 21.8 M218 17.8 L216 21.6 M225 17.8 L222.8 21.5 M232 17.8 L229.7 21.3 M239 17.8 L236.5 21 M246 17.8 L243.3 20.7 M253 17.8 L250.1 20.3 M260 17.8 L256.9 19.9 M35.3 20.4 L38.2 23.3 M42.2 20.8 L44.8 24 M49 21.1 L51.5 24.5 M55.8 21.3 L58.1 24.9 M62.6 21.5 L64.7 25.3 M69.4 21.7 L71.4 25.6 M76.3 21.8 L78 25.8 M83.1 21.9 L84.6 26 M89.9 22 L91.3 26.2 M96.7 22 L97.9 26.2 M103.5 22.1 L104.6 26.3 M110.3 22.1 L111.2 26.4 M117.2 22.1 L117.8 26.4 M124 22.1 L124.5 26.4 M130.8 22.1 L131.1 26.4 M137.6 22.1 L137.7 26.4 M144.4 22.1 L144.4 26.4 M151.3 22.1 L151 26.4 M158.1 22.1 L157.6 26.4 M164.9 22.1 L164.3 26.4 M171.7 22.1 L170.9 26.4 M178.5 22.1 L177.6 26.3 M185.3 22 L184.2 26.3 M192.2 22 L190.8 26.2 M199 21.9 L197.5 26.1 M205.8 21.8 L204.1 25.9 M212.6 21.7 L210.7 25.7 M219.4 21.6 L217.4 25.4 M226.3 21.4 L224 25.1 M233.1 21.1 L230.6 24.6 M239.9 20.9 L237.3 24.1 M246.7 20.5 L243.9 23.5 M253.5 20.1 L250.5 22.8 M260.3 19.7 L257.2 22 M34.9 23 L37.8 26.1 M41.5 23.7 L44.3 27 M48.1 24.3 L50.7 27.8 M54.8 24.7 L57.2 28.4 M61.4 25.1 L63.6 29 M68.1 25.5 L70.1 29.4 M74.7 25.7 L76.5 29.8 M81.3 25.9 L83 30.1 M88 26.1 L89.4 30.3 M94.6 26.2 L95.9 30.4 M101.2 26.3 L102.4 30.5 M107.9 26.3 L108.8 30.6 M114.5 26.4 L115.3 30.7 M121.1 26.4 L121.7 30.7 M127.8 26.4 L128.2 30.7 M134.4 26.4 L134.6 30.7 M141.1 26.4 L141.1 30.7 M147.7 26.4 L147.5 30.7 M154.3 26.4 L154 30.7 M161 26.4 L160.4 30.7 M167.6 26.4 L166.9 30.7 M174.2 26.3 L173.3 30.6 M180.9 26.3 L179.8 30.6 M187.5 26.2 L186.3 30.5 M194.1 26.1 L192.7 30.3 M200.8 26 L199.2 30.1 M207.4 25.8 L205.6 29.9 M214 25.5 L212.1 29.5 M220.7 25.2 L218.5 29.1 M227.3 24.9 L225 28.6 M234 24.4 L231.4 28 M240.6 23.8 L237.9 27.2 M247.2 23.2 L244.3 26.3 M253.9 22.4 L250.8 25.3 M41 26.5 L43.9 30 M47.5 27.4 L50.2 31 M53.9 28.1 L56.4 31.9 M60.4 28.7 L62.7 32.6 M66.9 29.2 L69 33.2 M73.3 29.6 L75.2 33.7 M79.8 29.9 L81.5 34.1 M86.2 30.2 L87.8 34.4 M92.7 30.4 L94.1 34.6 M99.1 30.5 L100.3 34.7 M105.6 30.6 L106.6 34.9 M112 30.6 L112.9 34.9 M118.5 30.7 L119.2 35 M124.9 30.7 L125.4 35 M131.4 30.7 L131.7 35 M137.9 30.7 L138 35 M144.3 30.7 L144.2 35 M150.8 30.7 L150.5 35 M157.2 30.7 L156.8 35 M163.7 30.7 L163.1 35 M170.1 30.7 L169.3 34.9 M176.6 30.6 L175.6 34.9 M183 30.5 L181.9 34.8 M189.5 30.4 L188.1 34.6 M195.9 30.2 L194.4 34.4 M202.4 30 L200.7 34.2 M208.8 29.7 L207 33.8 M215.3 29.3 L213.2 33.4 M221.8 28.9 L219.5 32.8 M228.2 28.3 L225.8 32.1 M234.7 27.6 L232 31.3 M241.1 26.8 L238.3 30.3 M247.6 25.8 L244.6 29.1 M254 24.7 L250.9 27.8 M40.8 29.4 L43.7 33 M47 30.5 L49.8 34.3 M53.3 31.5 L55.9 35.3 M59.6 32.3 L62 36.2 M65.8 32.9 L68 37 M72.1 33.5 L74.1 37.6 M78.4 33.9 L80.2 38.1 M84.7 34.2 L86.3 38.4 M90.9 34.5 L92.4 38.7 M97.2 34.7 L98.5 38.9 M103.5 34.8 L104.6 39.1 M109.7 34.9 L110.7 39.2 M116 35 L116.8 39.2 M122.3 35 L122.9 39.3 M128.6 35 L129 39.3 M134.8 35 L135 39.3 M141.1 35 L141.1 39.3 M147.4 35 L147.2 39.3 M153.6 35 L153.3 39.3 M159.9 35 L159.4 39.3 M166.2 35 L165.5 39.3 M172.5 34.9 L171.6 39.2 M178.7 34.8 L177.7 39.1 M185 34.7 L183.8 39 M191.3 34.5 L189.9 38.8 M197.6 34.3 L195.9 38.5 M203.8 34 L202 38.2 M210.1 33.6 L208.1 37.7 M216.4 33.1 L214.2 37.2 M222.6 32.5 L220.3 36.5 M228.9 31.7 L226.4 35.6 M235.2 30.8 L232.5 34.6 M241.5 29.7 L238.6 33.4 M247.7 28.5 L244.7 32 M46.7 33.6 L49.6 37.5 M52.8 34.8 L55.5 38.8 M58.9 35.8 L61.4 39.8 M65 36.6 L67.3 40.7 M71.1 37.3 L73.2 41.4 M77.2 37.8 L79.1 42 M83.3 38.3 L85 42.5 M89.4 38.6 L90.9 42.8 M95.5 38.8 L96.8 43.1 M101.5 39 L102.8 43.3 M107.6 39.1 L108.7 43.4 M113.7 39.2 L114.6 43.5 M119.8 39.3 L120.5 43.6 M125.9 39.3 L126.4 43.6 M132 39.3 L132.3 43.6 M138.1 39.3 L138.2 43.6 M144.2 39.3 L144.1 43.6 M150.3 39.3 L150 43.6 M156.4 39.3 L155.9 43.6 M162.4 39.3 L161.8 43.6 M168.5 39.2 L167.7 43.5 M174.6 39.2 L173.7 43.5 M180.7 39.1 L179.6 43.3 M186.8 38.9 L185.5 43.2 M192.9 38.7 L191.4 42.9 M199 38.4 L197.3 42.6 M205.1 38 L203.2 42.2 M211.2 37.5 L209.1 41.6 M217.3 36.8 L215 40.9 M223.3 36 L220.9 40.1 M229.4 35.1 L226.8 39.1 M235.5 34 L232.7 37.9 M241.6 32.7 L238.6 36.5 M247.7 31.2 L244.5 34.8" stroke="#a8a800" stroke-width="1.3" fill="none"/>
<circle cx="46.6" cy="36.8" r="2.4" fill="url(#gy)"/>
<circle cx="52.5" cy="38.2" r="2.4" fill="url(#gy)"/>
<circle cx="58.4" cy="39.3" r="2.4" fill="url(#gy)"/>
<circle cx="64.4" cy="40.3" r="2.4" fill="url(#gy)"/>
<circle cx="70.3" cy="41.1" r="2.4" fill="url(#gy)"/>
<circle cx="76.2" cy="41.7" r="2.4" fill="url(#gy)"/>
<circle cx="82.1" cy="42.3" r="2.4" fill="url(#gy)"/>
<circle cx="88" cy="42.7" r="2.4" fill="url(#gy)"/>
<circle cx="93.9" cy="43" r="2.4" fill="url(#gy)"/>
<circle cx="99.8" cy="43.2" r="2.4" fill="url(#gy)"/>
<circle cx="105.7" cy="43.4" r="2.4" fill="url(#gy)"/>
<circle cx="111.6" cy="43.5" r="2.4" fill="url(#gy)"/>
<circle cx="117.5" cy="43.5" r="2.4" fill="url(#gy)"/>
<circle cx="123.4" cy="43.6" r="2.4" fill="url(#gy)"/>
<circle cx="129.3" cy="43.6" r="2.4" fill="url(#gy)"/>
<circle cx="135.2" cy="43.6" r="2.4" fill="url(#gy)"/>
<circle cx="141.2" cy="43.6" r="2.4" fill="url(#gy)"/>
<circle cx="147.1" cy="43.6" r="2.4" fill="url(#gy)"/>
<circle cx="153" cy="43.6" r="2.4" fill="url(#gy)"/>
<circle cx="158.9" cy="43.6" r="2.4" fill="url(#gy)"/>
<circle cx="164.8" cy="43.6" r="2.4" fill="url(#gy)"/>
<circle cx="170.7" cy="43.5" r="2.4" fill="url(#gy)"/>
<circle cx="176.6" cy="43.4" r="2.4" fill="url(#gy)"/>
<circle cx="182.5" cy="43.3" r="2.4" fill="url(#gy)"/>
<circle cx="188.4" cy="43.1" r="2.4" fill="url(#gy)"/>
<circle cx="194.3" cy="42.8" r="2.4" fill="url(#gy)"/>
<circle cx="200.2" cy="42.4" r="2.4" fill="url(#gy)"/>
<circle cx="206.1" cy="41.9" r="2.4" fill="url(#gy)"/>
<circle cx="212.1" cy="41.3" r="2.4" fill="url(#gy)"/>
<circle cx="218" cy="40.5" r="2.4" fill="url(#gy)"/>
<circle cx="223.9" cy="39.6" r="2.4" fill="url(#gy)"/>
<circle cx="229.8" cy="38.5" r="2.4" fill="url(#gy)"/>
<circle cx="235.7" cy="37.2" r="2.4" fill="url(#gy)"/>
<circle cx="241.6" cy="35.7" r="2.4" fill="url(#gy)"/>
<circle cx="46.7" cy="33.6" r="2.5" fill="url(#gy)"/>
<circle cx="52.8" cy="34.8" r="2.5" fill="url(#gy)"/>
<circle cx="58.9" cy="35.8" r="2.5" fill="url(#gy)"/>
<circle cx="65" cy="36.6" r="2.5" fill="url(#gy)"/>
<circle cx="71.1" cy="37.3" r="2.5" fill="url(#gy)"/>
<circle cx="77.2" cy="37.8" r="2.5" fill="url(#gy)"/>
<circle cx="83.3" cy="38.3" r="2.5" fill="url(#gy)"/>
<circle cx="89.4" cy="38.6" r="2.5" fill="url(#gy)"/>
<circle cx="95.5" cy="38.8" r="2.5" fill="url(#gy)"/>
<circle cx="101.5" cy="39" r="2.5" fill="url(#gy)"/>
<circle cx="107.6" cy="39.1" r="2.5" fill="url(#gy)"/>
<circle cx="113.7" cy="39.2" r="2.5" fill="url(#gy)"/>
<circle cx="119.8" cy="39.3" r="2.5" fill="url(#gy)"/>
<circle cx="125.9" cy="39.3" r="2.5" fill="url(#gy)"/>
<circle cx="132" cy="39.3" r="2.5" fill="url(#gy)"/>
<circle cx="138.1" cy="39.3" r="2.5" fill="url(#gy)"/>
<circle cx="144.2" cy="39.3" r="2.5" fill="url(#gy)"/>
<circle cx="150.3" cy="39.3" r="2.5" fill="url(#gy)"/>
<circle cx="156.4" cy="39.3" r="2.5" fill="url(#gy)"/>
<circle cx="162.4" cy="39.3" r="2.5" fill="url(#gy)"/>
<circle cx="168.5" cy="39.2" r="2.5" fill="url(#gy)"/>
<circle cx="174.6" cy="39.2" r="2.5" fill="url(#gy)"/>
<circle cx="180.7" cy="39.1" r="2.5" fill="url(#gy)"/>
<circle cx="186.8" cy="38.9" r="2.5" fill="url(#gy)"/>
<circle cx="192.9" cy="38.7" r="2.5" fill="url(#gy)"/>
<circle cx="199" cy="38.4" r="2.5" fill="url(#gy)"/>
<circle cx="205.1" cy="38" r="2.5" fill="url(#gy)"/>
<circle cx="211.2" cy="37.5" r="2.5" fill="url(#gy)"/>
<circle cx="217.3" cy="36.8" r="2.5" fill="url(#gy)"/>
<circle cx="223.3" cy="36" r="2.5" fill="url(#gy)"/>
<circle cx="229.4" cy="35.1" r="2.5" fill="url(#gy)"/>
<circle cx="235.5" cy="34" r="2.5" fill="url(#gy)"/>
<circle cx="241.6" cy="32.7" r="2.5" fill="url(#gy)"/>
<circle cx="247.7" cy="31.2" r="2.5" fill="url(#gy)"/>
<circle cx="40.8" cy="29.4" r="2.6" fill="url(#gy)"/>
<circle cx="47" cy="30.5" r="2.6" fill="url(#gy)"/>
<circle cx="53.3" cy="31.5" r="2.6" fill="url(#gy)"/>
<circle cx="59.6" cy="32.3" r="2.6" fill="url(#gy)"/>
<circle cx="65.8" cy="32.9" r="2.6" fill="url(#gy)"/>
<circle cx="72.1" cy="33.5" r="2.6" fill="url(#gy)"/>
<circle cx="78.4" cy="33.9" r="2.6" fill="url(#gy)"/>
<circle cx="84.7" cy="34.2" r="2.6" fill="url(#gy)"/>
<circle cx="90.9" cy="34.5" r="2.6" fill="url(#gy)"/>
<circle cx="97.2" cy="34.7" r="2.6" fill="url(#gy)"/>
<circle cx="103.5" cy="34.8" r="2.6" fill="url(#gy)"/>
<circle cx="109.7" cy="34.9" r="2.6" fill="url(#gy)"/>
<circle cx="116" cy="35" r="2.6" fill="url(#gy)"/>
<circle cx="122.3" cy="35" r="2.6" fill="url(#gy)"/>
<circle cx="128.6" cy="35" r="2.6" fill="url(#gy)"/>
<circle cx="134.8" cy="35" r="2.6" fill="url(#gy)"/>
<circle cx="141.1" cy="35" r="2.6" fill="url(#gy)"/>
<circle cx="147.4" cy="35" r="2.6" fill="url(#gy)"/>
<circle cx="153.6" cy="35" r="2.6" fill="url(#gy)"/>
<circle cx="159.9" cy="35" r="2.6" fill="url(#gy)"/>
<circle cx="166.2" cy="35" r="2.6" fill="url(#gy)"/>
<circle cx="172.5" cy="34.9" r="2.6" fill="url(#gy)"/>
<circle cx="178.7" cy="34.8" r="2.6" fill="url(#gy)"/>
<circle cx="185" cy="34.7" r="2.6" fill="url(#gy)"/>
<circle cx="191.3" cy="34.5" r="2.6" fill="url(#gy)"/>
<circle cx="197.6" cy="34.3" r="2.6" fill="url(#gy)"/>
<circle cx="203.8" cy="34" r="2.6" fill="url(#gy)"/>
<circle cx="210.1" cy="33.6" r="2.6" fill="url(#gy)"/>
<circle cx="216.4" cy="33.1" r="2.6" fill="url(#gy)"/>
<circle cx="222.6" cy="32.5" r="2.6" fill="url(#gy)"/>
<circle cx="228.9" cy="31.7" r="2.6" fill="url(#gy)"/>
<circle cx="235.2" cy="30.8" r="2.6" fill="url(#gy)"/>
<circle cx="241.5" cy="29.7" r="2.6" fill="url(#gy)"/>
<circle cx="247.7" cy="28.5" r="2.6" fill="url(#gy)"/>
<circle cx="41" cy="26.5" r="2.7" fill="url(#gy)"/>
<circle cx="47.5" cy="27.4" r="2.7" fill="url(#gy)"/>
<circle cx="53.9" cy="28.1" r="2.7" fill="url(#gy)"/>
<circle cx="60.4" cy="28.7" r="2.7" fill="url(#gy)"/>
<circle cx="66.9" cy="29.2" r="2.7" fill="url(#gy)"/>
<circle cx="73.3" cy="29.6" r="2.7" fill="url(#gy)"/>
<circle cx="79.8" cy="29.9" r="2.7" fill="url(#gy)"/>
<circle cx="86.2" cy="30.2" r="2.7" fill="url(#gy)"/>
<circle cx="92.7" cy="30.4" r="2.7" fill="url(#gy)"/>
<circle cx="99.1" cy="30.5" r="2.7" fill="url(#gy)"/>
<circle cx="105.6" cy="30.6" r="2.7" fill="url(#gy)"/>
<circle cx="112" cy="30.6" r="2.7" fill="url(#gy)"/>
<circle cx="118.5" cy="30.7" r="2.7" fill="url(#gy)"/>
<circle cx="124.9" cy="30.7" r="2.7" fill="url(#gy)"/>
<circle cx="131.4" cy="30.7" r="2.7" fill="url(#gy)"/>
<circle cx="137.9" cy="30.7" r="2.7" fill="url(#gy)"/>
<circle cx="144.3" cy="30.7" r="2.7" fill="url(#gy)"/>
<circle cx="150.8" cy="30.7" r="2.7" fill="url(#gy)"/>
<circle cx="157.2" cy="30.7" r="2.7" fill="url(#gy)"/>
<circle cx="163.7" cy="30.7" r="2.7" fill="url(#gy)"/>
<circle cx="170.1" cy="30.7" r="2.7" fill="url(#gy)"/>
<circle cx="176.6" cy="30.6" r="2.7" fill="url(#gy)"/>
<circle cx="183" cy="30.5" r="2.7" fill="url(#gy)"/>
<circle cx="189.5" cy="30.4" r="2.7" fill="url(#gy)"/>
<circle cx="195.9" cy="30.2" r="2.7" fill="url(#gy)"/>
<circle cx="202.4" cy="30" r="2.7" fill="url(#gy)"/>
<circle cx="208.8" cy="29.7" r="2.7" fill="url(#gy)"/>
<circle cx="215.3" cy="29.3" r="2.7" fill="url(#gy)"/>
<circle cx="221.8" cy="28.9" r="2.7" fill="url(#gy)"/>
<circle cx="228.2" cy="28.3" r="2.7" fill="url(#gy)"/>
<circle cx="234.7" cy="27.6" r="2.7" fill="url(#gy)"/>
<circle cx="241.1" cy="26.8" r="2.7" fill="url(#gy)"/>
<circle cx="247.6" cy="25.8" r="2.7" fill="url(#gy)"/>
<circle cx="254" cy="24.7" r="2.7" fill="url(#gy)"/>
<circle cx="34.9" cy="23" r="2.8" fill="url(#gy)"/>
<circle cx="41.5" cy="23.7" r="2.8" fill="url(#gy)"/>
<circle cx="48.1" cy="24.3" r="2.8" fill="url(#gy)"/>
<circle cx="54.8" cy="24.7" r="2.8" fill="url(#gy)"/>
<circle cx="61.4" cy="25.1" r="2.8" fill="url(#gy)"/>
<circle cx="68.1" cy="25.5" r="2.8" fill="url(#gy)"/>
<circle cx="74.7" cy="25.7" r="2.8" fill="url(#gy)"/>
<circle cx="81.3" cy="25.9" r="2.8" fill="url(#gy)"/>
<circle cx="88" cy="26.1" r="2.8" fill="url(#gy)"/>
<circle cx="94.6" cy="26.2" r="2.8" fill="url(#gy)"/>
<circle cx="101.2" cy="26.3" r="2.8" fill="url(#gy)"/>
<circle cx="107.9" cy="26.3" r="2.8" fill="url(#gy)"/>
<circle cx="114.5" cy="26.4" r="2.8" fill="url(#gy)"/>
<circle cx="121.1" cy="26.4" r="2.8" fill="url(#gy)"/>
<circle cx="127.8" cy="26.4" r="2.8" fill="url(#gy)"/>
<circle cx="134.4" cy="26.4" r="2.8" fill="url(#gy)"/>
<circle cx="141.1" cy="26.4" r="2.8" fill="url(#gy)"/>
<circle cx="147.7" cy="26.4" r="2.8" fill="url(#gy)"/>
<circle cx="154.3" cy="26.4" r="2.8" fill="url(#gy)"/>
<circle cx="161" cy="26.4" r="2.8" fill="url(#gy)"/>
<circle cx="167.6" cy="26.4" r="2.8" fill="url(#gy)"/>
<circle cx="174.2" cy="26.3" r="2.8" fill="url(#gy)"/>
<circle cx="180.9" cy="26.3" r="2.8" fill="url(#gy)"/>
<circle cx="187.5" cy="26.2" r="2.8" fill="url(#gy)"/>
<circle cx="194.1" cy="26.1" r="2.8" fill="url(#gy)"/>
<circle cx="200.8" cy="26" r="2.8" fill="url(#gy)"/>
<circle cx="207.4" cy="25.8" r="2.8" fill="url(#gy)"/>
<circle cx="214" cy="25.5" r="2.8" fill="url(#gy)"/>
<circle cx="220.7" cy="25.2" r="2.8" fill="url(#gy)"/>
<circle cx="227.3" cy="24.9" r="2.8" fill="url(#gy)"/>
<circle cx="234" cy="24.4" r="2.8" fill="url(#gy)"/>
<circle cx="240.6" cy="23.8" r="2.8" fill="url(#gy)"/>
<circle cx="247.2" cy="23.2" r="2.8" fill="url(#gy)"/>
<circle cx="253.9" cy="22.4" r="2.8" fill="url(#gy)"/>
<circle cx="35.3" cy="20.4" r="2.9" fill="url(#gy)"/>
<circle cx="42.2" cy="20.8" r="2.9" fill="url(#gy)"/>
<circle cx="49" cy="21.1" r="2.9" fill="url(#gy)"/>
<circle cx="55.8" cy="21.3" r="2.9" fill="url(#gy)"/>
<circle cx="62.6" cy="21.5" r="2.9" fill="url(#gy)"/>
<circle cx="69.4" cy="21.7" r="2.9" fill="url(#gy)"/>
<circle cx="76.3" cy="21.8" r="2.9" fill="url(#gy)"/>
<circle cx="83.1" cy="21.9" r="2.9" fill="url(#gy)"/>
<circle cx="89.9" cy="22" r="2.9" fill="url(#gy)"/>
<circle cx="96.7" cy="22" r="2.9" fill="url(#gy)"/>
<circle cx="103.5" cy="22.1" r="2.9" fill="url(#gy)"/>
<circle cx="110.3" cy="22.1" r="2.9" fill="url(#gy)"/>
<circle cx="117.2" cy="22.1" r="2.9" fill="url(#gy)"/>
<circle cx="124" cy="22.1" r="2.9" fill="url(#gy)"/>
<circle cx="130.8" cy="22.1" r="2.9" fill="url(#gy)"/>
<circle cx="137.6" cy="22.1" r="2.9" fill="url(#gy)"/>
<circle cx="144.4" cy="22.1" r="2.9" fill="url(#gy)"/>
<circle cx="151.3" cy="22.1" r="2.9" fill="url(#gy)"/>
<circle cx="158.1" cy="22.1" r="2.9" fill="url(#gy)"/>
<circle cx="164.9" cy="22.1" r="2.9" fill="url(#gy)"/>
<circle cx="171.7" cy="22.1" r="2.9" fill="url(#gy)"/>
<circle cx="178.5" cy="22.1" r="2.9" fill="url(#gy)"/>
<circle cx="185.3" cy="22" r="2.9" fill="url(#gy)"/>
<circle cx="192.2" cy="22" r="2.9" fill="url(#gy)"/>
<circle cx="199" cy="21.9" r="2.9" fill="url(#gy)"/>
<circle cx="205.8" cy="21.8" r="2.9" fill="url(#gy)"/>
<circle cx="212.6" cy="21.7" r="2.9" fill="url(#gy)"/>
<circle cx="219.4" cy="21.6" r="2.9" fill="url(#gy)"/>
<circle cx="226.3" cy="21.4" r="2.9" fill="url(#gy)"/>
<circle cx="233.1" cy="21.1" r="2.9" fill="url(#gy)"/>
<circle cx="239.9" cy="20.9" r="2.9" fill="url(#gy)"/>
<circle cx="246.7" cy="20.5" r="2.9" fill="url(#gy)"/>
<circle cx="253.5" cy="20.1" r="2.9" fill="url(#gy)"/>
<circle cx="260.3" cy="19.7" r="2.9" fill="url(#gy)"/>
<circle cx="29" cy="17.8" r="3" fill="url(#gy)"/>
<circle cx="36" cy="17.8" r="3" fill="url(#gy)"/>
<circle cx="43" cy="17.8" r="3" fill="url(#gy)"/>
<circle cx="50" cy="17.8" r="3" fill="url(#gy)"/>
<circle cx="57" cy="17.8" r="3" fill="url(#gy)"/>
<circle cx="64" cy="17.8" r="3" fill="url(#gy)"/>
<circle cx="71" cy="17.8" r="3" fill="url(#gy)"/>
<circle cx="78" cy="17.8" r="3" fill="url(#gy)"/>
<circle cx="85" cy="17.8" r="3" fill="url(#gy)"/>
<circle cx="92" cy="17.8" r="3" fill="url(#gy)"/>
<circle cx="99" cy="17.8" r="3" fill="url(#gy)"/>
<circle cx="106" cy="17.8" r="3" fill="url(#gy)"/>
<circle cx="113" cy="17.8" r="3" fill="url(#gy)"/>
<circle cx="120" cy="17.8" r="3" fill="url(#gy)"/>
<circle cx="127" cy="17.8" r="3" fill="url(#gy)"/>
<circle cx="134" cy="17.8" r="3" fill="url(#gy)"/>
<circle cx="141" cy="17.8" r="3" fill="url(#gy)"/>
<circle cx="148" cy="17.8" r="3" fill="url(#gy)"/>
<circle cx="155" cy="17.8" r="3" fill="url(#gy)"/>
<circle cx="162" cy="17.8" r="3" fill="url(#gy)"/>
<circle cx="169" cy="17.8" r="3" fill="url(#gy)"/>
<circle cx="176" cy="17.8" r="3" fill="url(#gy)"/>
<circle cx="183" cy="17.8" r="3" fill="url(#gy)"/>
<circle cx="190" cy="17.8" r="3" fill="url(#gy)"/>
<circle cx="197" cy="17.8" r="3" fill="url(#gy)"/>
<circle cx="204" cy="17.8" r="3" fill="url(#gy)"/>
<circle cx="211" cy="17.8" r="3" fill="url(#gy)"/>
<circle cx="218" cy="17.8" r="3" fill="url(#gy)"/>
<circle cx="225" cy="17.8" r="3" fill="url(#gy)"/>
<circle cx="232" cy="17.8" r="3" fill="url(#gy)"/>
<circle cx="239" cy="17.8" r="3" fill="url(#gy)"/>
<circle cx="246" cy="17.8" r="3" fill="url(#gy)"/>
<circle cx="253" cy="17.8" r="3" fill="url(#gy)"/>
<circle cx="260" cy="17.8" r="3" fill="url(#gy)"/>
<g fill="#262690" opacity="0.85"><circle cx="32.5" cy="19" r="1.25"/><circle cx="39.5" cy="19.2" r="1.25"/><circle cx="46.5" cy="19.4" r="1.25"/><circle cx="53.5" cy="19.5" r="1.25"/><circle cx="60.5" cy="19.6" r="1.25"/><circle cx="67.5" cy="19.7" r="1.25"/><circle cx="74.5" cy="19.8" r="1.25"/><circle cx="81.5" cy="19.8" r="1.25"/><circle cx="88.5" cy="19.9" r="1.25"/><circle cx="95.5" cy="19.9" r="1.25"/><circle cx="102.5" cy="19.9" r="1.25"/><circle cx="109.5" cy="19.9" r="1.25"/><circle cx="116.5" cy="19.9" r="1.25"/><circle cx="123.5" cy="19.9" r="1.25"/><circle cx="130.5" cy="19.9" r="1.25"/><circle cx="137.5" cy="19.9" r="1.25"/><circle cx="144.5" cy="19.9" r="1.25"/><circle cx="151.5" cy="19.9" r="1.25"/><circle cx="158.5" cy="19.9" r="1.25"/><circle cx="165.5" cy="19.9" r="1.25"/><circle cx="172.5" cy="19.9" r="1.25"/><circle cx="179.5" cy="19.9" r="1.25"/><circle cx="186.5" cy="19.9" r="1.25"/><circle cx="193.5" cy="19.9" r="1.25"/><circle cx="200.5" cy="19.8" r="1.25"/><circle cx="207.5" cy="19.8" r="1.25"/><circle cx="214.5" cy="19.7" r="1.25"/><circle cx="221.5" cy="19.6" r="1.25"/><circle cx="228.5" cy="19.5" r="1.25"/><circle cx="235.5" cy="19.4" r="1.25"/><circle cx="242.5" cy="19.3" r="1.25"/><circle cx="249.5" cy="19.1" r="1.25"/><circle cx="256.5" cy="18.9" r="1.25"/><circle cx="38.8" cy="22" r="1.25"/><circle cx="45.6" cy="22.5" r="1.25"/><circle cx="52.4" cy="22.9" r="1.25"/><circle cx="59.2" cy="23.2" r="1.25"/><circle cx="66" cy="23.5" r="1.25"/><circle cx="72.8" cy="23.7" r="1.25"/><circle cx="79.7" cy="23.9" r="1.25"/><circle cx="86.5" cy="24" r="1.25"/><circle cx="93.3" cy="24.1" r="1.25"/><circle cx="100.1" cy="24.2" r="1.25"/><circle cx="106.9" cy="24.2" r="1.25"/><circle cx="113.8" cy="24.2" r="1.25"/><circle cx="120.6" cy="24.2" r="1.25"/><circle cx="127.4" cy="24.2" r="1.25"/><circle cx="134.2" cy="24.2" r="1.25"/><circle cx="141" cy="24.2" r="1.25"/><circle cx="147.8" cy="24.2" r="1.25"/><circle cx="154.7" cy="24.2" r="1.25"/><circle cx="161.5" cy="24.2" r="1.25"/><circle cx="168.3" cy="24.2" r="1.25"/><circle cx="175.1" cy="24.2" r="1.25"/><circle cx="181.9" cy="24.2" r="1.25"/><circle cx="188.8" cy="24.1" r="1.25"/><circle cx="195.6" cy="24" r="1.25"/><circle cx="202.4" cy="23.9" r="1.25"/><circle cx="209.2" cy="23.7" r="1.25"/><circle cx="216" cy="23.5" r="1.25"/><circle cx="222.8" cy="23.3" r="1.25"/><circle cx="229.7" cy="23" r="1.25"/><circle cx="236.5" cy="22.6" r="1.25"/><circle cx="243.3" cy="22.1" r="1.25"/><circle cx="250.1" cy="21.6" r="1.25"/><circle cx="256.9" cy="21" r="1.25"/><circle cx="38.2" cy="24.7" r="1.25"/><circle cx="44.8" cy="25.5" r="1.25"/><circle cx="51.5" cy="26.2" r="1.25"/><circle cx="58.1" cy="26.7" r="1.25"/><circle cx="64.7" cy="27.2" r="1.25"/><circle cx="71.4" cy="27.6" r="1.25"/><circle cx="78" cy="27.8" r="1.25"/><circle cx="84.6" cy="28.1" r="1.25"/><circle cx="91.3" cy="28.2" r="1.25"/><circle cx="97.9" cy="28.4" r="1.25"/><circle cx="104.6" cy="28.4" r="1.25"/><circle cx="111.2" cy="28.5" r="1.25"/><circle cx="117.8" cy="28.5" r="1.25"/><circle cx="124.5" cy="28.5" r="1.25"/><circle cx="131.1" cy="28.5" r="1.25"/><circle cx="137.7" cy="28.5" r="1.25"/><circle cx="144.4" cy="28.5" r="1.25"/><circle cx="151" cy="28.5" r="1.25"/><circle cx="157.6" cy="28.5" r="1.25"/><circle cx="164.3" cy="28.5" r="1.25"/><circle cx="170.9" cy="28.5" r="1.25"/><circle cx="177.6" cy="28.5" r="1.25"/><circle cx="184.2" cy="28.4" r="1.25"/><circle cx="190.8" cy="28.3" r="1.25"/><circle cx="197.5" cy="28.1" r="1.25"/><circle cx="204.1" cy="27.9" r="1.25"/><circle cx="210.7" cy="27.6" r="1.25"/><circle cx="217.4" cy="27.3" r="1.25"/><circle cx="224" cy="26.9" r="1.25"/><circle cx="230.6" cy="26.4" r="1.25"/><circle cx="237.3" cy="25.7" r="1.25"/><circle cx="243.9" cy="25" r="1.25"/><circle cx="250.5" cy="24.1" r="1.25"/><circle cx="44.3" cy="28.5" r="1.25"/><circle cx="50.7" cy="29.4" r="1.25"/><circle cx="57.2" cy="30.2" r="1.25"/><circle cx="63.6" cy="30.9" r="1.25"/><circle cx="70.1" cy="31.4" r="1.25"/><circle cx="76.5" cy="31.8" r="1.25"/><circle cx="83" cy="32.1" r="1.25"/><circle cx="89.4" cy="32.4" r="1.25"/><circle cx="95.9" cy="32.5" r="1.25"/><circle cx="102.4" cy="32.7" r="1.25"/><circle cx="108.8" cy="32.8" r="1.25"/><circle cx="115.3" cy="32.8" r="1.25"/><circle cx="121.7" cy="32.8" r="1.25"/><circle cx="128.2" cy="32.8" r="1.25"/><circle cx="134.6" cy="32.8" r="1.25"/><circle cx="141.1" cy="32.8" r="1.25"/><circle cx="147.5" cy="32.8" r="1.25"/><circle cx="154" cy="32.8" r="1.25"/><circle cx="160.4" cy="32.8" r="1.25"/><circle cx="166.9" cy="32.8" r="1.25"/><circle cx="173.3" cy="32.8" r="1.25"/><circle cx="179.8" cy="32.7" r="1.25"/><circle cx="186.3" cy="32.6" r="1.25"/><circle cx="192.7" cy="32.4" r="1.25"/><circle cx="199.2" cy="32.2" r="1.25"/><circle cx="205.6" cy="31.9" r="1.25"/><circle cx="212.1" cy="31.5" r="1.25"/><circle cx="218.5" cy="31" r="1.25"/><circle cx="225" cy="30.4" r="1.25"/><circle cx="231.4" cy="29.7" r="1.25"/><circle cx="237.9" cy="28.8" r="1.25"/><circle cx="244.3" cy="27.8" r="1.25"/><circle cx="250.8" cy="26.5" r="1.25"/><circle cx="43.9" cy="31.5" r="1.25"/><circle cx="50.2" cy="32.7" r="1.25"/><circle cx="56.4" cy="33.7" r="1.25"/><circle cx="62.7" cy="34.5" r="1.25"/><circle cx="69" cy="35.1" r="1.25"/><circle cx="75.2" cy="35.7" r="1.25"/><circle cx="81.5" cy="36.1" r="1.25"/><circle cx="87.8" cy="36.4" r="1.25"/><circle cx="94.1" cy="36.7" r="1.25"/><circle cx="100.3" cy="36.9" r="1.25"/><circle cx="106.6" cy="37" r="1.25"/><circle cx="112.9" cy="37.1" r="1.25"/><circle cx="119.2" cy="37.1" r="1.25"/><circle cx="125.4" cy="37.1" r="1.25"/><circle cx="131.7" cy="37.1" r="1.25"/><circle cx="138" cy="37.1" r="1.25"/><circle cx="144.2" cy="37.1" r="1.25"/><circle cx="150.5" cy="37.1" r="1.25"/><circle cx="156.8" cy="37.1" r="1.25"/><circle cx="163.1" cy="37.1" r="1.25"/><circle cx="169.3" cy="37.1" r="1.25"/><circle cx="175.6" cy="37" r="1.25"/><circle cx="181.9" cy="36.9" r="1.25"/><circle cx="188.1" cy="36.7" r="1.25"/><circle cx="194.4" cy="36.5" r="1.25"/><circle cx="200.7" cy="36.2" r="1.25"/><circle cx="207" cy="35.8" r="1.25"/><circle cx="213.2" cy="35.3" r="1.25"/><circle cx="219.5" cy="34.7" r="1.25"/><circle cx="225.8" cy="33.9" r="1.25"/><circle cx="232" cy="33" r="1.25"/><circle cx="238.3" cy="31.9" r="1.25"/><circle cx="244.6" cy="30.6" r="1.25"/><circle cx="49.8" cy="35.9" r="1.25"/><circle cx="55.9" cy="37.1" r="1.25"/><circle cx="62" cy="38.1" r="1.25"/><circle cx="68" cy="38.9" r="1.25"/><circle cx="74.1" cy="39.6" r="1.25"/><circle cx="80.2" cy="40.1" r="1.25"/><circle cx="86.3" cy="40.5" r="1.25"/><circle cx="92.4" cy="40.8" r="1.25"/><circle cx="98.5" cy="41" r="1.25"/><circle cx="104.6" cy="41.2" r="1.25"/><circle cx="110.7" cy="41.3" r="1.25"/><circle cx="116.8" cy="41.4" r="1.25"/><circle cx="122.9" cy="41.4" r="1.25"/><circle cx="128.9" cy="41.4" r="1.25"/><circle cx="135" cy="41.4" r="1.25"/><circle cx="141.1" cy="41.4" r="1.25"/><circle cx="147.2" cy="41.4" r="1.25"/><circle cx="153.3" cy="41.4" r="1.25"/><circle cx="159.4" cy="41.4" r="1.25"/><circle cx="165.5" cy="41.4" r="1.25"/><circle cx="171.6" cy="41.3" r="1.25"/><circle cx="177.7" cy="41.3" r="1.25"/><circle cx="183.8" cy="41.1" r="1.25"/><circle cx="189.8" cy="40.9" r="1.25"/><circle cx="195.9" cy="40.6" r="1.25"/><circle cx="202" cy="40.2" r="1.25"/><circle cx="208.1" cy="39.7" r="1.25"/><circle cx="214.2" cy="39.1" r="1.25"/><circle cx="220.3" cy="38.3" r="1.25"/><circle cx="226.4" cy="37.4" r="1.25"/><circle cx="232.5" cy="36.3" r="1.25"/><circle cx="238.6" cy="34.9" r="1.25"/><circle cx="244.7" cy="33.4" r="1.25"/></g>
<line x1="19.3" y1="0.4" x2="31.3" y2="13" stroke="#e4e424" stroke-width="1.8"/>
<line x1="39.9" y1="0.4" x2="51.9" y2="13" stroke="#e4e424" stroke-width="1.8"/>
<line x1="39.9" y1="0.4" x2="31.3" y2="13" stroke="#e4e424" stroke-width="1.8"/>
<line x1="60.5" y1="0.4" x2="72.5" y2="13" stroke="#e4e424" stroke-width="1.8"/>
<line x1="60.5" y1="0.4" x2="51.9" y2="13" stroke="#e4e424" stroke-width="1.8"/>
<line x1="81.1" y1="0.4" x2="93.1" y2="13" stroke="#e4e424" stroke-width="1.8"/>
<line x1="81.1" y1="0.4" x2="72.5" y2="13" stroke="#e4e424" stroke-width="1.8"/>
<line x1="101.7" y1="0.4" x2="113.7" y2="13" stroke="#e4e424" stroke-width="1.8"/>
<line x1="101.7" y1="0.4" x2="93.1" y2="13" stroke="#e4e424" stroke-width="1.8"/>
<line x1="122.3" y1="0.4" x2="134.3" y2="13" stroke="#e4e424" stroke-width="1.8"/>
<line x1="122.3" y1="0.4" x2="113.7" y2="13" stroke="#e4e424" stroke-width="1.8"/>
<line x1="142.9" y1="0.4" x2="154.9" y2="13" stroke="#e4e424" stroke-width="1.8"/>
<line x1="142.9" y1="0.4" x2="134.3" y2="13" stroke="#e4e424" stroke-width="1.8"/>
<line x1="163.5" y1="0.4" x2="175.5" y2="13" stroke="#e4e424" stroke-width="1.8"/>
<line x1="163.5" y1="0.4" x2="154.9" y2="13" stroke="#e4e424" stroke-width="1.8"/>
<line x1="184.1" y1="0.4" x2="196.1" y2="13" stroke="#e4e424" stroke-width="1.8"/>
<line x1="184.1" y1="0.4" x2="175.5" y2="13" stroke="#e4e424" stroke-width="1.8"/>
<line x1="204.7" y1="0.4" x2="216.7" y2="13" stroke="#e4e424" stroke-width="1.8"/>
<line x1="204.7" y1="0.4" x2="196.1" y2="13" stroke="#e4e424" stroke-width="1.8"/>
<line x1="225.3" y1="0.4" x2="237.3" y2="13" stroke="#e4e424" stroke-width="1.8"/>
<line x1="225.3" y1="0.4" x2="216.7" y2="13" stroke="#e4e424" stroke-width="1.8"/>
<line x1="245.9" y1="0.4" x2="257.9" y2="13" stroke="#e4e424" stroke-width="1.8"/>
<line x1="245.9" y1="0.4" x2="237.3" y2="13" stroke="#e4e424" stroke-width="1.8"/>
<line x1="266.5" y1="0.4" x2="257.9" y2="13" stroke="#e4e424" stroke-width="1.8"/>
<line x1="29" y1="5" x2="32" y2="16" stroke="#d0d014" stroke-width="1.5"/>
<line x1="35" y1="5" x2="32" y2="16" stroke="#d0d014" stroke-width="1.5"/>
<line x1="39.3" y1="5" x2="42.3" y2="16" stroke="#d0d014" stroke-width="1.5"/>
<line x1="45.3" y1="5" x2="42.3" y2="16" stroke="#d0d014" stroke-width="1.5"/>
<line x1="49.6" y1="5" x2="52.6" y2="16" stroke="#d0d014" stroke-width="1.5"/>
<line x1="55.6" y1="5" x2="52.6" y2="16" stroke="#d0d014" stroke-width="1.5"/>
<line x1="59.9" y1="5" x2="62.9" y2="16" stroke="#d0d014" stroke-width="1.5"/>
<line x1="65.9" y1="5" x2="62.9" y2="16" stroke="#d0d014" stroke-width="1.5"/>
<line x1="70.2" y1="5" x2="73.2" y2="16" stroke="#d0d014" stroke-width="1.5"/>
<line x1="76.2" y1="5" x2="73.2" y2="16" stroke="#d0d014" stroke-width="1.5"/>
<line x1="80.5" y1="5" x2="83.5" y2="16" stroke="#d0d014" stroke-width="1.5"/>
<line x1="86.5" y1="5" x2="83.5" y2="16" stroke="#d0d014" stroke-width="1.5"/>
<line x1="90.8" y1="5" x2="93.8" y2="16" stroke="#d0d014" stroke-width="1.5"/>
<line x1="96.8" y1="5" x2="93.8" y2="16" stroke="#d0d014" stroke-width="1.5"/>
<line x1="101.1" y1="5" x2="104.1" y2="16" stroke="#d0d014" stroke-width="1.5"/>
<line x1="107.1" y1="5" x2="104.1" y2="16" stroke="#d0d014" stroke-width="1.5"/>
<line x1="111.4" y1="5" x2="114.4" y2="16" stroke="#d0d014" stroke-width="1.5"/>
<line x1="117.4" y1="5" x2="114.4" y2="16" stroke="#d0d014" stroke-width="1.5"/>
<line x1="121.7" y1="5" x2="124.7" y2="16" stroke="#d0d014" stroke-width="1.5"/>
<line x1="127.7" y1="5" x2="124.7" y2="16" stroke="#d0d014" stroke-width="1.5"/>
<line x1="132" y1="5" x2="135" y2="16" stroke="#d0d014" stroke-width="1.5"/>
<line x1="138" y1="5" x2="135" y2="16" stroke="#d0d014" stroke-width="1.5"/>
<line x1="142.3" y1="5" x2="145.3" y2="16" stroke="#d0d014" stroke-width="1.5"/>
<line x1="148.3" y1="5" x2="145.3" y2="16" stroke="#d0d014" stroke-width="1.5"/>
<line x1="152.6" y1="5" x2="155.6" y2="16" stroke="#d0d014" stroke-width="1.5"/>
<line x1="158.6" y1="5" x2="155.6" y2="16" stroke="#d0d014" stroke-width="1.5"/>
<line x1="162.9" y1="5" x2="165.9" y2="16" stroke="#d0d014" stroke-width="1.5"/>
<line x1="168.9" y1="5" x2="165.9" y2="16" stroke="#d0d014" stroke-width="1.5"/>
<line x1="173.2" y1="5" x2="176.2" y2="16" stroke="#d0d014" stroke-width="1.5"/>
<line x1="179.2" y1="5" x2="176.2" y2="16" stroke="#d0d014" stroke-width="1.5"/>
<line x1="183.5" y1="5" x2="186.5" y2="16" stroke="#d0d014" stroke-width="1.5"/>
<line x1="189.5" y1="5" x2="186.5" y2="16" stroke="#d0d014" stroke-width="1.5"/>
<line x1="193.8" y1="5" x2="196.8" y2="16" stroke="#d0d014" stroke-width="1.5"/>
<line x1="199.8" y1="5" x2="196.8" y2="16" stroke="#d0d014" stroke-width="1.5"/>
<line x1="204.1" y1="5" x2="207.1" y2="16" stroke="#d0d014" stroke-width="1.5"/>
<line x1="210.1" y1="5" x2="207.1" y2="16" stroke="#d0d014" stroke-width="1.5"/>
<line x1="214.4" y1="5" x2="217.4" y2="16" stroke="#d0d014" stroke-width="1.5"/>
<line x1="220.4" y1="5" x2="217.4" y2="16" stroke="#d0d014" stroke-width="1.5"/>
<line x1="224.7" y1="5" x2="227.7" y2="16" stroke="#d0d014" stroke-width="1.5"/>
<line x1="230.7" y1="5" x2="227.7" y2="16" stroke="#d0d014" stroke-width="1.5"/>
<line x1="235" y1="5" x2="238" y2="16" stroke="#d0d014" stroke-width="1.5"/>
<line x1="241" y1="5" x2="238" y2="16" stroke="#d0d014" stroke-width="1.5"/>
<line x1="245.3" y1="5" x2="248.3" y2="16" stroke="#d0d014" stroke-width="1.5"/>
<line x1="251.3" y1="5" x2="248.3" y2="16" stroke="#d0d014" stroke-width="1.5"/>
<line x1="255.6" y1="5" x2="258.6" y2="16" stroke="#d0d014" stroke-width="1.5"/>
<line x1="261.6" y1="5" x2="258.6" y2="16" stroke="#d0d014" stroke-width="1.5"/>
<circle cx="29.5" cy="2.6" r="2.9" fill="url(#gy)"/>
<circle cx="50.1" cy="2.6" r="2.9" fill="url(#gy)"/>
<circle cx="70.7" cy="2.6" r="2.9" fill="url(#gy)"/>
<circle cx="91.3" cy="2.6" r="2.9" fill="url(#gy)"/>
<circle cx="111.9" cy="2.6" r="2.9" fill="url(#gy)"/>
<circle cx="132.5" cy="2.6" r="2.9" fill="url(#gy)"/>
<circle cx="153.1" cy="2.6" r="2.9" fill="url(#gy)"/>
<circle cx="173.7" cy="2.6" r="2.9" fill="url(#gy)"/>
<circle cx="194.3" cy="2.6" r="2.9" fill="url(#gy)"/>
<circle cx="214.9" cy="2.6" r="2.9" fill="url(#gy)"/>
<circle cx="235.5" cy="2.6" r="2.9" fill="url(#gy)"/>
<circle cx="256.1" cy="2.6" r="2.9" fill="url(#gy)"/>
<circle cx="34.3" cy="7.2" r="2.5" fill="url(#gy)"/>
<circle cx="44.6" cy="7.2" r="2.5" fill="url(#gy)"/>
<circle cx="54.9" cy="7.2" r="2.5" fill="url(#gy)"/>
<circle cx="65.2" cy="7.2" r="2.5" fill="url(#gy)"/>
<circle cx="75.5" cy="7.2" r="2.5" fill="url(#gy)"/>
<circle cx="85.8" cy="7.2" r="2.5" fill="url(#gy)"/>
<circle cx="96.1" cy="7.2" r="2.5" fill="url(#gy)"/>
<circle cx="106.4" cy="7.2" r="2.5" fill="url(#gy)"/>
<circle cx="116.7" cy="7.2" r="2.5" fill="url(#gy)"/>
<circle cx="127" cy="7.2" r="2.5" fill="url(#gy)"/>
<circle cx="137.3" cy="7.2" r="2.5" fill="url(#gy)"/>
<circle cx="147.6" cy="7.2" r="2.5" fill="url(#gy)"/>
<circle cx="157.9" cy="7.2" r="2.5" fill="url(#gy)"/>
<circle cx="168.2" cy="7.2" r="2.5" fill="url(#gy)"/>
<circle cx="178.5" cy="7.2" r="2.5" fill="url(#gy)"/>
<circle cx="188.8" cy="7.2" r="2.5" fill="url(#gy)"/>
<circle cx="199.1" cy="7.2" r="2.5" fill="url(#gy)"/>
<circle cx="209.4" cy="7.2" r="2.5" fill="url(#gy)"/>
<circle cx="219.7" cy="7.2" r="2.5" fill="url(#gy)"/>
<circle cx="230" cy="7.2" r="2.5" fill="url(#gy)"/>
<circle cx="240.3" cy="7.2" r="2.5" fill="url(#gy)"/>
<circle cx="250.6" cy="7.2" r="2.5" fill="url(#gy)"/>
<circle cx="260.9" cy="7.2" r="2.5" fill="url(#gy)"/>
<circle cx="19.3" cy="0" r="3.3" fill="url(#gy)"/>
<circle cx="39.9" cy="0" r="3.3" fill="url(#gy)"/>
<circle cx="60.5" cy="0" r="3.3" fill="url(#gy)"/>
<circle cx="81.1" cy="0" r="3.3" fill="url(#gy)"/>
<circle cx="101.7" cy="0" r="3.3" fill="url(#gy)"/>
<circle cx="122.3" cy="0" r="3.3" fill="url(#gy)"/>
<circle cx="142.9" cy="0" r="3.3" fill="url(#gy)"/>
<circle cx="163.5" cy="0" r="3.3" fill="url(#gy)"/>
<circle cx="184.1" cy="0" r="3.3" fill="url(#gy)"/>
<circle cx="204.7" cy="0" r="3.3" fill="url(#gy)"/>
<circle cx="225.3" cy="0" r="3.3" fill="url(#gy)"/>
<circle cx="245.9" cy="0" r="3.3" fill="url(#gy)"/>
<circle cx="266.5" cy="0" r="3.3" fill="url(#gy)"/>
<line x1="31.4" y1="13" x2="18.4" y2="24" stroke="#e4e424" stroke-width="1.8"/>
<circle cx="18.4" cy="24.1" r="3.3" fill="url(#gy)"/>
<line x1="256" y1="13" x2="267" y2="22" stroke="#e4e424" stroke-width="1.8"/>
<line x1="256" y1="13" x2="268" y2="4" stroke="#e4e424" stroke-width="1.8"/>
<circle cx="267" cy="22.5" r="3.1" fill="url(#gy)"/>
<circle cx="268.5" cy="4.5" r="3" fill="url(#gy)"/>
<circle cx="39.7" cy="15.6" r="2.8" fill="url(#gb)"/>
<circle cx="45.3" cy="15.6" r="2.8" fill="url(#gb)"/>
<circle cx="60.2" cy="15.6" r="2.8" fill="url(#gb)"/>
<circle cx="65.8" cy="15.6" r="2.8" fill="url(#gb)"/>
<circle cx="80.7" cy="15.6" r="2.8" fill="url(#gb)"/>
<circle cx="86.3" cy="15.6" r="2.8" fill="url(#gb)"/>
<circle cx="101.2" cy="15.6" r="2.8" fill="url(#gb)"/>
<circle cx="106.8" cy="15.6" r="2.8" fill="url(#gb)"/>
<circle cx="121.7" cy="15.6" r="2.8" fill="url(#gb)"/>
<circle cx="127.3" cy="15.6" r="2.8" fill="url(#gb)"/>
<circle cx="142.2" cy="15.6" r="2.8" fill="url(#gb)"/>
<circle cx="147.8" cy="15.6" r="2.8" fill="url(#gb)"/>
<circle cx="162.7" cy="15.6" r="2.8" fill="url(#gb)"/>
<circle cx="168.3" cy="15.6" r="2.8" fill="url(#gb)"/>
<circle cx="183.2" cy="15.6" r="2.8" fill="url(#gb)"/>
<circle cx="188.8" cy="15.6" r="2.8" fill="url(#gb)"/>
<circle cx="203.7" cy="15.6" r="2.8" fill="url(#gb)"/>
<circle cx="209.3" cy="15.6" r="2.8" fill="url(#gb)"/>
<circle cx="224.2" cy="15.6" r="2.8" fill="url(#gb)"/>
<circle cx="229.8" cy="15.6" r="2.8" fill="url(#gb)"/>
<circle cx="244.7" cy="15.6" r="2.8" fill="url(#gb)"/>
<circle cx="250.3" cy="15.6" r="2.8" fill="url(#gb)"/>
<circle cx="31.4" cy="13" r="3.6" fill="url(#gb)"/>
<circle cx="51.9" cy="13" r="3.6" fill="url(#gb)"/>
<circle cx="72.4" cy="13" r="3.6" fill="url(#gb)"/>
<circle cx="92.9" cy="13" r="3.6" fill="url(#gb)"/>
<circle cx="113.4" cy="13" r="3.6" fill="url(#gb)"/>
<circle cx="133.9" cy="13" r="3.6" fill="url(#gb)"/>
<circle cx="154.4" cy="13" r="3.6" fill="url(#gb)"/>
<circle cx="174.9" cy="13" r="3.6" fill="url(#gb)"/>
<circle cx="195.4" cy="13" r="3.6" fill="url(#gb)"/>
<circle cx="215.9" cy="13" r="3.6" fill="url(#gb)"/>
<circle cx="236.4" cy="13" r="3.6" fill="url(#gb)"/>
<circle cx="256.9" cy="13" r="3.6" fill="url(#gb)"/>
</g>
<line x1="326.6" y1="60.1" x2="335.6" y2="67.8" stroke="#333" stroke-width="2.7"/>
<line x1="335.6" y1="67.8" x2="335.6" y2="87.1" stroke="#333" stroke-width="2.7"/>
<line x1="335.6" y1="87.1" x2="326.6" y2="97.9" stroke="#333" stroke-width="2.7"/>
<line x1="326.6" y1="97.9" x2="317.8" y2="87.1" stroke="#333" stroke-width="2.7"/>
<line x1="317.8" y1="87.1" x2="317.8" y2="70.1" stroke="#333" stroke-width="2.7"/>
<line x1="317.8" y1="70.1" x2="326.6" y2="60.1" stroke="#333" stroke-width="2.7"/>
<line x1="326.6" y1="60.1" x2="326.6" y2="48.5" stroke="#333" stroke-width="2.7"/>
<line x1="335.6" y1="67.8" x2="341.7" y2="60.8" stroke="#333" stroke-width="2.7"/>
<line x1="317.8" y1="70.1" x2="313.2" y2="64.7" stroke="#333" stroke-width="2.7"/>
<line x1="335.6" y1="87.1" x2="341.7" y2="93.3" stroke="#333" stroke-width="2.7"/>
<line x1="317.8" y1="87.1" x2="313.2" y2="93.3" stroke="#333" stroke-width="2.7"/>
<line x1="326.6" y1="97.9" x2="327.1" y2="111" stroke="#333" stroke-width="2.7"/>
<line x1="327.1" y1="111" x2="336.3" y2="109.5" stroke="#333" stroke-width="2.7"/>
<line x1="327.1" y1="111" x2="316.3" y2="115.7" stroke="#333" stroke-width="2.7"/>
<line x1="336.3" y1="109.5" x2="344.8" y2="107.2" stroke="#333" stroke-width="2.7"/>
<line x1="336.3" y1="109.5" x2="334" y2="119.5" stroke="#333" stroke-width="2.7"/>
<line x1="327.1" y1="111" x2="331" y2="102.5" stroke="#333" stroke-width="2.7"/>
<line x1="316.3" y1="115.7" x2="309.3" y2="115.7" stroke="#e02020" stroke-width="2.6"/>
<line x1="316.3" y1="115.7" x2="317" y2="127.3" stroke="#e02020" stroke-width="2.6"/>
<circle cx="326.6" cy="48.5" r="3.2" fill="url(#gh)"/>
<circle cx="341.7" cy="60.8" r="3.2" fill="url(#gh)"/>
<circle cx="313.2" cy="64.7" r="3.2" fill="url(#gh)"/>
<circle cx="341.7" cy="93.3" r="3.2" fill="url(#gh)"/>
<circle cx="313.2" cy="93.3" r="3.2" fill="url(#gh)"/>
<circle cx="331" cy="102.5" r="3.2" fill="url(#gh)"/>
<circle cx="344.8" cy="107.2" r="3.2" fill="url(#gh)"/>
<circle cx="334" cy="119.5" r="3.2" fill="url(#gh)"/>
<circle cx="309.3" cy="115.7" r="3.2" fill="url(#gh)"/>
<circle cx="317" cy="127.3" r="3.2" fill="url(#gh)"/>
<circle cx="327.5" cy="119" r="3.2" fill="url(#gh)"/>
<circle cx="326.6" cy="60.1" r="2.9" fill="url(#gc)"/>
<circle cx="335.6" cy="67.8" r="2.9" fill="url(#gc)"/>
<circle cx="335.6" cy="87.1" r="2.9" fill="url(#gc)"/>
<circle cx="326.6" cy="97.9" r="2.9" fill="url(#gc)"/>
<circle cx="317.8" cy="87.1" r="2.9" fill="url(#gc)"/>
<circle cx="317.8" cy="70.1" r="2.9" fill="url(#gc)"/>
<circle cx="327.1" cy="111" r="2.9" fill="url(#gc)"/>
<circle cx="336.3" cy="109.5" r="2.9" fill="url(#gc)"/>
<circle cx="316.3" cy="115.7" r="2.8" fill="url(#go)"/>
<line x1="328.2" y1="174.3" x2="338.4" y2="184.4" stroke="#333" stroke-width="2.7"/>
<line x1="338.4" y1="184.4" x2="338.4" y2="204.8" stroke="#333" stroke-width="2.7"/>
<line x1="338.4" y1="204.8" x2="329" y2="213.3" stroke="#333" stroke-width="2.7"/>
<line x1="329" y1="213.3" x2="320.6" y2="203.1" stroke="#333" stroke-width="2.7"/>
<line x1="320.6" y1="203.1" x2="320.6" y2="184.4" stroke="#333" stroke-width="2.7"/>
<line x1="320.6" y1="184.4" x2="328.2" y2="174.3" stroke="#333" stroke-width="2.7"/>
<line x1="328.2" y1="174.3" x2="329" y2="159.8" stroke="#333" stroke-width="2.7"/>
<line x1="329" y1="159.8" x2="338.4" y2="161.5" stroke="#333" stroke-width="2.7"/>
<line x1="329" y1="159.8" x2="318" y2="153.9" stroke="#333" stroke-width="2.7"/>
<line x1="338.4" y1="161.5" x2="348.6" y2="163.2" stroke="#333" stroke-width="2.7"/>
<line x1="338.4" y1="161.5" x2="335" y2="150.5" stroke="#333" stroke-width="2.7"/>
<line x1="329" y1="159.8" x2="333.3" y2="168.3" stroke="#333" stroke-width="2.7"/>
<line x1="320.6" y1="184.4" x2="313.8" y2="178.5" stroke="#333" stroke-width="2.7"/>
<line x1="338.4" y1="184.4" x2="345.2" y2="178.5" stroke="#333" stroke-width="2.7"/>
<line x1="320.6" y1="203.1" x2="314.6" y2="208.2" stroke="#333" stroke-width="2.7"/>
<line x1="338.4" y1="204.8" x2="345.2" y2="212.5" stroke="#333" stroke-width="2.7"/>
<line x1="329" y1="213.3" x2="329" y2="225.2" stroke="#333" stroke-width="2.7"/>
<line x1="318" y1="153.9" x2="318.9" y2="142" stroke="#e02020" stroke-width="2.6"/>
<line x1="318" y1="153.9" x2="309.5" y2="153.9" stroke="#e02020" stroke-width="2.6"/>
<circle cx="318.9" cy="142" r="3.2" fill="url(#gh)"/>
<circle cx="309.5" cy="153.9" r="3.2" fill="url(#gh)"/>
<circle cx="335" cy="150.5" r="3.2" fill="url(#gh)"/>
<circle cx="348.6" cy="163.2" r="3.2" fill="url(#gh)"/>
<circle cx="333.3" cy="168.3" r="3.2" fill="url(#gh)"/>
<circle cx="313.8" cy="178.5" r="3.2" fill="url(#gh)"/>
<circle cx="345.2" cy="178.5" r="3.2" fill="url(#gh)"/>
<circle cx="314.6" cy="208.2" r="3.2" fill="url(#gh)"/>
<circle cx="345.2" cy="212.5" r="3.2" fill="url(#gh)"/>
<circle cx="329" cy="225.2" r="3.2" fill="url(#gh)"/>
<circle cx="328.2" cy="174.3" r="2.9" fill="url(#gc)"/>
<circle cx="338.4" cy="184.4" r="2.9" fill="url(#gc)"/>
<circle cx="338.4" cy="204.8" r="2.9" fill="url(#gc)"/>
<circle cx="329" cy="213.3" r="2.9" fill="url(#gc)"/>
<circle cx="320.6" cy="203.1" r="2.9" fill="url(#gc)"/>
<circle cx="320.6" cy="184.4" r="2.9" fill="url(#gc)"/>
<circle cx="329" cy="159.8" r="2.9" fill="url(#gc)"/>
<circle cx="338.4" cy="161.5" r="2.9" fill="url(#gc)"/>
<circle cx="318" cy="153.9" r="2.9" fill="url(#go)"/>
<line x1="441.4" y1="90.6" x2="453.6" y2="93" stroke="#333" stroke-width="2.4"/>
<line x1="453.6" y1="93" x2="464" y2="98.4" stroke="#333" stroke-width="2.4"/>
<line x1="448" y1="88" x2="452" y2="104" stroke="#333" stroke-width="2.4"/>
<line x1="456" y1="90" x2="458" y2="106" stroke="#333" stroke-width="2.4"/>
<line x1="450" y1="96" x2="466" y2="100" stroke="#333" stroke-width="2.4"/>
<line x1="445" y1="103" x2="452" y2="108" stroke="#333" stroke-width="2.4"/>
<polygon points="466,81.5 494,81.5 510,102 507,108 471,106.5 463,99 462,90" fill="#3a3a3a" opacity="0.45"/>
<polygon points="476.4,85 476.6,90.4 471.7,97.3 466.6,99 466.4,93.6 471.3,86.7" fill="none" stroke="#333" stroke-width="2.6" stroke-linejoin="round"/><polygon points="480.3,86.7 480.5,92.1 475.6,99 470.5,100.7 470.3,95.3 475.2,88.4" fill="none" stroke="#333" stroke-width="2.6" stroke-linejoin="round"/><polygon points="484.2,88.4 484.4,93.8 479.5,100.7 474.4,102.4 474.2,97 479.1,90.1" fill="none" stroke="#333" stroke-width="2.6" stroke-linejoin="round"/><polygon points="488.1,90.1 488.3,95.5 483.4,102.4 478.3,104.1 478.1,98.7 483,91.8" fill="none" stroke="#333" stroke-width="2.6" stroke-linejoin="round"/><polygon points="492,91.8 492.2,97.2 487.3,104.1 482.2,105.8 482,100.4 486.9,93.5" fill="none" stroke="#333" stroke-width="2.6" stroke-linejoin="round"/><polygon points="495.9,93.5 496.1,98.9 491.2,105.8 486.1,107.5 485.9,102.1 490.8,95.2" fill="none" stroke="#333" stroke-width="2.6" stroke-linejoin="round"/><polygon points="499.8,95.2 500,100.6 495.1,107.5 490,109.2 489.8,103.8 494.7,96.9" fill="none" stroke="#333" stroke-width="2.6" stroke-linejoin="round"/><polygon points="503.7,96.9 503.9,102.3 499,109.2 493.9,110.9 493.7,105.5 498.6,98.6" fill="none" stroke="#333" stroke-width="2.6" stroke-linejoin="round"/><polygon points="507.6,98.6 507.8,104 502.9,110.9 497.8,112.6 497.6,107.2 502.5,100.3" fill="none" stroke="#333" stroke-width="2.6" stroke-linejoin="round"/><polygon points="511.5,100.3 511.7,105.7 506.8,112.6 501.7,114.3 501.5,108.9 506.4,102" fill="none" stroke="#333" stroke-width="2.6" stroke-linejoin="round"/>
<path d="M466 81.8 L494 81.5 L510 102 M465 101 L471 106 L507 108" fill="none" stroke="#333" stroke-width="2.4" stroke-linejoin="round"/>
<polygon points="544.3,95.6 552.1,82 572.9,82 580,95.6 572.9,106.4 552.1,106.4" fill="none" stroke="#333" stroke-width="2.3" stroke-linejoin="round"/>
<polygon points="544.6,96.2 552.1,83.6 572.9,83.6 579.7,96.2 572.9,106.9 552.1,106.9" fill="none" stroke="#333" stroke-width="2.3" stroke-linejoin="round"/>
<polygon points="544.9,96.8 552.1,85.2 572.9,85.2 579.4,96.8 572.9,107.4 552.1,107.4" fill="none" stroke="#333" stroke-width="2.3" stroke-linejoin="round"/>
<polygon points="545.2,97.4 552.1,86.8 572.9,86.8 579.1,97.4 572.9,107.9 552.1,107.9" fill="none" stroke="#333" stroke-width="2.3" stroke-linejoin="round"/>
<line x1="525.7" y1="92" x2="535" y2="95" stroke="#333" stroke-width="2.4"/>
<line x1="535" y1="95" x2="545" y2="96" stroke="#333" stroke-width="2.4"/>
<line x1="535" y1="95" x2="536" y2="104" stroke="#333" stroke-width="2.4"/>
<line x1="535" y1="95" x2="531" y2="86" stroke="#333" stroke-width="2.4"/>
<line x1="579.5" y1="96" x2="588" y2="96.5" stroke="#333" stroke-width="2.4"/>
<polygon points="628,79.5 655,81 663,94 659.4,107.2 614,106.5 610,97 617,88" fill="#3a3a3a" opacity="0.45"/>
<polygon points="626.7,103.4 619.7,100.9 612,91 611.3,83.6 618.3,86.1 626,96" fill="none" stroke="#333" stroke-width="2.6" stroke-linejoin="round"/><polygon points="631.3,103.4 624.3,100.9 616.6,91 615.9,83.6 622.9,86.1 630.6,96" fill="none" stroke="#333" stroke-width="2.6" stroke-linejoin="round"/><polygon points="635.9,103.4 628.9,100.9 621.2,91 620.5,83.6 627.5,86.1 635.2,96" fill="none" stroke="#333" stroke-width="2.6" stroke-linejoin="round"/><polygon points="640.5,103.4 633.5,100.9 625.8,91 625.1,83.6 632.1,86.1 639.8,96" fill="none" stroke="#333" stroke-width="2.6" stroke-linejoin="round"/><polygon points="645.1,103.4 638.1,100.9 630.4,91 629.7,83.6 636.7,86.1 644.4,96" fill="none" stroke="#333" stroke-width="2.6" stroke-linejoin="round"/><polygon points="649.7,103.4 642.7,100.9 635,91 634.3,83.6 641.3,86.1 649,96" fill="none" stroke="#333" stroke-width="2.6" stroke-linejoin="round"/><polygon points="654.3,103.4 647.3,100.9 639.6,91 638.9,83.6 645.9,86.1 653.6,96" fill="none" stroke="#333" stroke-width="2.6" stroke-linejoin="round"/><polygon points="658.9,103.4 651.9,100.9 644.2,91 643.5,83.6 650.5,86.1 658.2,96" fill="none" stroke="#333" stroke-width="2.6" stroke-linejoin="round"/>
<polygon points="631.4,92.6 635,79.3 654.5,81.7 663,93.9 659.4,107.2 640,106" fill="none" stroke="#333" stroke-width="2.2" stroke-linejoin="round"/>
<path d="M628 80 L655 81.5 M614 106 L660 107.2" fill="none" stroke="#333" stroke-width="2.3"/>
<line x1="597" y1="100.2" x2="613" y2="90" stroke="#e41414" stroke-width="4.4" stroke-linecap="round"/>
<line x1="446.4" y1="167.9" x2="471.4" y2="162.9" stroke="#333" stroke-width="2.4"/>
<line x1="450" y1="170" x2="455" y2="183" stroke="#333" stroke-width="2.4"/>
<line x1="458" y1="168" x2="462" y2="182" stroke="#333" stroke-width="2.4"/>
<line x1="466" y1="166" x2="469" y2="180" stroke="#333" stroke-width="2.4"/>
<line x1="452" y1="182" x2="470" y2="183" stroke="#333" stroke-width="2.4"/>
<polygon points="472,152.5 512,152.5 515,166 508,182 472,184.5 469.5,168" fill="#3a3a3a" opacity="0.45"/>
<polygon points="480,178.3 473.9,174.9 468.9,164.6 470,157.7 476.1,161.1 481.1,171.4" fill="none" stroke="#333" stroke-width="2.6" stroke-linejoin="round"/><polygon points="483.9,178.3 477.8,174.9 472.8,164.6 473.9,157.7 480,161.1 485,171.4" fill="none" stroke="#333" stroke-width="2.6" stroke-linejoin="round"/><polygon points="487.8,178.3 481.7,174.9 476.7,164.6 477.8,157.7 483.9,161.1 488.9,171.4" fill="none" stroke="#333" stroke-width="2.6" stroke-linejoin="round"/><polygon points="491.7,178.3 485.6,174.9 480.6,164.6 481.7,157.7 487.8,161.1 492.8,171.4" fill="none" stroke="#333" stroke-width="2.6" stroke-linejoin="round"/><polygon points="495.6,178.3 489.5,174.9 484.5,164.6 485.6,157.7 491.7,161.1 496.7,171.4" fill="none" stroke="#333" stroke-width="2.6" stroke-linejoin="round"/><polygon points="499.5,178.3 493.4,174.9 488.4,164.6 489.5,157.7 495.6,161.1 500.6,171.4" fill="none" stroke="#333" stroke-width="2.6" stroke-linejoin="round"/><polygon points="503.4,178.3 497.3,174.9 492.3,164.6 493.4,157.7 499.5,161.1 504.5,171.4" fill="none" stroke="#333" stroke-width="2.6" stroke-linejoin="round"/><polygon points="507.3,178.3 501.2,174.9 496.2,164.6 497.3,157.7 503.4,161.1 508.4,171.4" fill="none" stroke="#333" stroke-width="2.6" stroke-linejoin="round"/><polygon points="511.2,178.3 505.1,174.9 500.1,164.6 501.2,157.7 507.3,161.1 512.3,171.4" fill="none" stroke="#333" stroke-width="2.6" stroke-linejoin="round"/>
<polygon points="487,160 493.6,156 500,160 500,176 493.6,180 487,176" fill="#fafafa" stroke="#333" stroke-width="2.6" stroke-linejoin="round"/>
<path d="M472 152.5 L512 152.5 L515 166 L508 182 L472 184.5" fill="none" stroke="#333" stroke-width="2.3" stroke-linejoin="round"/>
<polygon points="550,168.6 557.9,158.5 575,158.5 582.1,170 578.6,181.6 556.4,181.6" fill="none" stroke="#333" stroke-width="2.5" stroke-linejoin="round"/>
<polygon points="550.3,169.4 557.9,159.8 575,159.8 581.8,170.8 578.6,182.4 556.4,182.4" fill="none" stroke="#333" stroke-width="2.5" stroke-linejoin="round"/>
<polygon points="550.6,170.2 557.9,161.1 575,161.1 581.5,171.6 578.6,183.2 556.4,183.2" fill="none" stroke="#333" stroke-width="2.5" stroke-linejoin="round"/>
<line x1="531.4" y1="168.6" x2="541" y2="168.6" stroke="#333" stroke-width="2.4"/>
<line x1="541" y1="168.6" x2="550" y2="169.5" stroke="#333" stroke-width="2.4"/>
<line x1="541" y1="168.6" x2="539" y2="180" stroke="#333" stroke-width="2.4"/>
<line x1="539" y1="180" x2="545" y2="183" stroke="#333" stroke-width="2.4"/>
<line x1="582" y1="170" x2="592" y2="172" stroke="#333" stroke-width="2.4"/>
<polygon points="616,153.8 660,156.4 671.4,170.7 663,185 604,180 604,165" fill="#3a3a3a" opacity="0.45"/>
<polygon points="620.3,158.9 620.1,166.4 612.8,176.6 605.7,179.1 605.9,171.6 613.2,161.4" fill="none" stroke="#333" stroke-width="2.6" stroke-linejoin="round"/><polygon points="625.2,159.2 625,166.7 617.7,176.9 610.6,179.4 610.8,171.9 618.1,161.7" fill="none" stroke="#333" stroke-width="2.6" stroke-linejoin="round"/><polygon points="630.1,159.5 629.9,167 622.6,177.2 615.5,179.7 615.7,172.2 623,162" fill="none" stroke="#333" stroke-width="2.6" stroke-linejoin="round"/><polygon points="635,159.8 634.8,167.3 627.5,177.5 620.4,180 620.6,172.5 627.9,162.3" fill="none" stroke="#333" stroke-width="2.6" stroke-linejoin="round"/><polygon points="639.9,160.1 639.7,167.6 632.4,177.8 625.3,180.3 625.5,172.8 632.8,162.6" fill="none" stroke="#333" stroke-width="2.6" stroke-linejoin="round"/><polygon points="644.8,160.4 644.6,167.9 637.3,178.1 630.2,180.6 630.4,173.1 637.7,162.9" fill="none" stroke="#333" stroke-width="2.6" stroke-linejoin="round"/><polygon points="649.7,160.7 649.5,168.2 642.2,178.4 635.1,180.9 635.3,173.4 642.6,163.2" fill="none" stroke="#333" stroke-width="2.6" stroke-linejoin="round"/><polygon points="654.6,161 654.4,168.5 647.1,178.7 640,181.2 640.2,173.7 647.5,163.5" fill="none" stroke="#333" stroke-width="2.6" stroke-linejoin="round"/><polygon points="659.5,161.3 659.3,168.8 652,179 644.9,181.5 645.1,174 652.4,163.8" fill="none" stroke="#333" stroke-width="2.6" stroke-linejoin="round"/>
<polygon points="650,170.5 654,157 661,156.8 671.4,170.7 663,184.5 655,184" fill="none" stroke="#333" stroke-width="2.2" stroke-linejoin="round"/>
<path d="M616 153.8 L660 156.4 M604 180 L663 185" fill="none" stroke="#333" stroke-width="2.3"/>
<circle cx="441.4" cy="80.6" r="3.2" fill="url(#gh)"/>
<circle cx="430.7" cy="90.6" r="3.2" fill="url(#gh)"/>
<circle cx="440" cy="107.7" r="3.2" fill="url(#gh)"/>
<circle cx="452" cy="83.5" r="3.2" fill="url(#gh)"/>
<circle cx="458" cy="82" r="3.2" fill="url(#gh)"/>
<circle cx="448" cy="107" r="3.2" fill="url(#gh)"/>
<circle cx="452" cy="112" r="3.2" fill="url(#gh)"/>
<circle cx="458" cy="113" r="3.2" fill="url(#gh)"/>
<circle cx="464" cy="113.5" r="3.2" fill="url(#gh)"/>
<circle cx="470" cy="114" r="3.2" fill="url(#gh)"/>
<circle cx="476" cy="114" r="3.2" fill="url(#gh)"/>
<circle cx="482" cy="114" r="3.2" fill="url(#gh)"/>
<circle cx="488" cy="113.5" r="3.2" fill="url(#gh)"/>
<circle cx="494" cy="113" r="3.2" fill="url(#gh)"/>
<circle cx="500" cy="112.5" r="3.2" fill="url(#gh)"/>
<circle cx="506" cy="111" r="3.2" fill="url(#gh)"/>
<circle cx="511" cy="108.5" r="3.2" fill="url(#gh)"/>
<circle cx="499" cy="80.5" r="3.2" fill="url(#gh)"/>
<circle cx="504" cy="84.5" r="3.2" fill="url(#gh)"/>
<circle cx="509" cy="89" r="3.2" fill="url(#gh)"/>
<circle cx="513" cy="94" r="3.2" fill="url(#gh)"/>
<circle cx="516" cy="99" r="3.2" fill="url(#gh)"/>
<circle cx="527.9" cy="79.9" r="3.2" fill="url(#gh)"/>
<circle cx="549.3" cy="76" r="3.2" fill="url(#gh)"/>
<circle cx="575.7" cy="76" r="3.2" fill="url(#gh)"/>
<circle cx="515.7" cy="90.6" r="3.2" fill="url(#gh)"/>
<circle cx="524.3" cy="107.7" r="3.2" fill="url(#gh)"/>
<circle cx="530" cy="110" r="3.2" fill="url(#gh)"/>
<circle cx="538.6" cy="110.6" r="3.2" fill="url(#gh)"/>
<circle cx="548.6" cy="112" r="3.2" fill="url(#gh)"/>
<circle cx="575.7" cy="112.7" r="3.2" fill="url(#gh)"/>
<circle cx="536" cy="104" r="3.2" fill="url(#gh)"/>
<circle cx="531" cy="86" r="3.2" fill="url(#gh)"/>
<circle cx="584" cy="89" r="3.2" fill="url(#gh)"/>
<circle cx="588" cy="92.5" r="3.2" fill="url(#gh)"/>
<circle cx="591" cy="96" r="3.2" fill="url(#gh)"/>
<circle cx="586" cy="103" r="3.2" fill="url(#gh)"/>
<circle cx="591" cy="106" r="3.2" fill="url(#gh)"/>
<circle cx="596" cy="109" r="3.2" fill="url(#gh)"/>
<circle cx="601" cy="111" r="3.2" fill="url(#gh)"/>
<circle cx="590" cy="86" r="3.2" fill="url(#gh)"/>
<circle cx="613.6" cy="79" r="3.2" fill="url(#gh)"/>
<circle cx="658.6" cy="77" r="3.2" fill="url(#gh)"/>
<circle cx="674.3" cy="94.1" r="3.2" fill="url(#gh)"/>
<circle cx="664.3" cy="112.7" r="3.2" fill="url(#gh)"/>
<circle cx="603" cy="112" r="3.2" fill="url(#gh)"/>
<circle cx="609" cy="113.5" r="3.2" fill="url(#gh)"/>
<circle cx="615" cy="114" r="3.2" fill="url(#gh)"/>
<circle cx="621" cy="114" r="3.2" fill="url(#gh)"/>
<circle cx="627" cy="114" r="3.2" fill="url(#gh)"/>
<circle cx="633" cy="114" r="3.2" fill="url(#gh)"/>
<circle cx="639" cy="113.5" r="3.2" fill="url(#gh)"/>
<circle cx="645" cy="113" r="3.2" fill="url(#gh)"/>
<circle cx="651" cy="112" r="3.2" fill="url(#gh)"/>
<circle cx="603" cy="90" r="3.2" fill="url(#gh)"/>
<circle cx="598" cy="93" r="3.2" fill="url(#gh)"/>
<circle cx="447" cy="158.6" r="3.2" fill="url(#gh)"/>
<circle cx="457" cy="157.9" r="3.2" fill="url(#gh)"/>
<circle cx="465" cy="157.9" r="3.2" fill="url(#gh)"/>
<circle cx="472" cy="158.6" r="3.2" fill="url(#gh)"/>
<circle cx="473.6" cy="150.7" r="3.2" fill="url(#gh)"/>
<circle cx="436.4" cy="168.6" r="3.2" fill="url(#gh)"/>
<circle cx="445" cy="183.6" r="3.2" fill="url(#gh)"/>
<circle cx="452" cy="178" r="3.2" fill="url(#gh)"/>
<circle cx="479" cy="149.5" r="3.2" fill="url(#gh)"/>
<circle cx="485" cy="149.5" r="3.2" fill="url(#gh)"/>
<circle cx="491" cy="149.5" r="3.2" fill="url(#gh)"/>
<circle cx="497" cy="149.5" r="3.2" fill="url(#gh)"/>
<circle cx="503" cy="149.5" r="3.2" fill="url(#gh)"/>
<circle cx="509" cy="150" r="3.2" fill="url(#gh)"/>
<circle cx="514" cy="152" r="3.2" fill="url(#gh)"/>
<circle cx="519.3" cy="167.9" r="3.2" fill="url(#gh)"/>
<circle cx="478" cy="188" r="3.2" fill="url(#gh)"/>
<circle cx="484" cy="188.5" r="3.2" fill="url(#gh)"/>
<circle cx="490" cy="189" r="3.2" fill="url(#gh)"/>
<circle cx="496" cy="189" r="3.2" fill="url(#gh)"/>
<circle cx="502" cy="189" r="3.2" fill="url(#gh)"/>
<circle cx="508" cy="188.5" r="3.2" fill="url(#gh)"/>
<circle cx="514" cy="187" r="3.2" fill="url(#gh)"/>
<circle cx="554.3" cy="150.7" r="3.2" fill="url(#gh)"/>
<circle cx="579.3" cy="151.4" r="3.2" fill="url(#gh)"/>
<circle cx="533.6" cy="157.9" r="3.2" fill="url(#gh)"/>
<circle cx="528" cy="162" r="3.2" fill="url(#gh)"/>
<circle cx="540" cy="177" r="3.2" fill="url(#gh)"/>
<circle cx="529" cy="176" r="3.2" fill="url(#gh)"/>
<circle cx="547" cy="181" r="3.2" fill="url(#gh)"/>
<circle cx="545" cy="187" r="3.2" fill="url(#gh)"/>
<circle cx="557" cy="188.5" r="3.2" fill="url(#gh)"/>
<circle cx="582" cy="188" r="3.2" fill="url(#gh)"/>
<circle cx="593" cy="163" r="3.2" fill="url(#gh)"/>
<circle cx="598" cy="166" r="3.2" fill="url(#gh)"/>
<circle cx="602" cy="170" r="3.2" fill="url(#gh)"/>
<circle cx="596" cy="176" r="3.2" fill="url(#gh)"/>
<circle cx="600" cy="182" r="3.2" fill="url(#gh)"/>
<circle cx="606" cy="186" r="3.2" fill="url(#gh)"/>
<circle cx="612" cy="150.5" r="3.2" fill="url(#gh)"/>
<circle cx="618" cy="151" r="3.2" fill="url(#gh)"/>
<circle cx="624" cy="151" r="3.2" fill="url(#gh)"/>
<circle cx="630" cy="151" r="3.2" fill="url(#gh)"/>
<circle cx="636" cy="151" r="3.2" fill="url(#gh)"/>
<circle cx="642" cy="151" r="3.2" fill="url(#gh)"/>
<circle cx="648" cy="151" r="3.2" fill="url(#gh)"/>
<circle cx="654" cy="151" r="3.2" fill="url(#gh)"/>
<circle cx="661.4" cy="150.7" r="3.2" fill="url(#gh)"/>
<circle cx="678.6" cy="170.7" r="3.2" fill="url(#gh)"/>
<circle cx="669.3" cy="190.7" r="3.2" fill="url(#gh)"/>
<circle cx="611" cy="188.5" r="3.2" fill="url(#gh)"/>
<circle cx="617" cy="189.5" r="3.2" fill="url(#gh)"/>
<circle cx="623" cy="190" r="3.2" fill="url(#gh)"/>
<circle cx="629" cy="190" r="3.2" fill="url(#gh)"/>
<circle cx="635" cy="190" r="3.2" fill="url(#gh)"/>
<circle cx="641" cy="189.5" r="3.2" fill="url(#gh)"/>
<circle cx="648" cy="189" r="3.2" fill="url(#gh)"/>
<circle cx="655" cy="188.5" r="3.2" fill="url(#gh)"/>
<circle cx="441.4" cy="90.6" r="3.2" fill="url(#go)"/>
<circle cx="453.6" cy="96" r="3.2" fill="url(#go)"/>
<circle cx="462" cy="98.4" r="3.2" fill="url(#go)"/>
<circle cx="525.7" cy="92" r="3.2" fill="url(#go)"/>
<circle cx="446.4" cy="167.9" r="3.2" fill="url(#go)"/>
<circle cx="457" cy="165" r="3.2" fill="url(#go)"/>
<circle cx="465.7" cy="163.6" r="3.2" fill="url(#go)"/>
<circle cx="531.4" cy="168.6" r="3.2" fill="url(#go)"/>
<circle cx="614.3" cy="167.9" r="3.2" fill="url(#go)"/>
<circle cx="610" cy="168.5" r="3.2" fill="url(#go)"/>
<path d="M290.5 134.4 H304.5 M297.3 127 V142" stroke="#111" stroke-width="2.6"/>
<path d="M310.6 135.3 H342" stroke="#111" stroke-width="2.2" stroke-dasharray="5.2 3"/>
<line x1="279.7" y1="140" x2="279.7" y2="185" stroke="#111" stroke-width="1.7"/>
<path d="M279.7 137 L276.6 143 L282.8 143Z M279.7 188.2 L276.6 182.2 L282.8 182.2Z" fill="#111"/>
<text x="254.5" y="165.8" font-family="Liberation Sans" font-size="17" fill="#222">6.1</text>
<text x="282.3" y="165.8" font-family="Liberation Sans" font-size="17" fill="#222">Å</text>
<line x1="418.4" y1="57" x2="418.4" y2="131" stroke="#111" stroke-width="1.9"/>
<path d="M418.4 54.2 L415.2 60.4 L421.6 60.4Z M418.4 133.6 L415.2 127.4 L421.6 127.4Z" fill="#111"/>
<text x="366" y="99.4" font-family="Liberation Sans" font-size="16.3" fill="#222">12.2 Å</text>
<path d="M355.7 130.7 H403 V126.4 L414.3 135.7 L403 147.1 V140.7 H355.7Z" fill="url(#arrowg)"/>
<rect x="24.9" y="260.5" width="188" height="151" fill="none" stroke="#2a2a2a" stroke-width="1.5"/>
<line x1="24.9" y1="411.5" x2="24.9" y2="414.1" stroke="#333" stroke-width="1.1"/>
<line x1="43.7" y1="411.5" x2="43.7" y2="413.3" stroke="#333" stroke-width="1.1"/>
<line x1="62.5" y1="411.5" x2="62.5" y2="414.1" stroke="#333" stroke-width="1.1"/>
<line x1="81.3" y1="411.5" x2="81.3" y2="413.3" stroke="#333" stroke-width="1.1"/>
<line x1="100.1" y1="411.5" x2="100.1" y2="414.1" stroke="#333" stroke-width="1.1"/>
<line x1="118.9" y1="411.5" x2="118.9" y2="413.3" stroke="#333" stroke-width="1.1"/>
<line x1="137.7" y1="411.5" x2="137.7" y2="414.1" stroke="#333" stroke-width="1.1"/>
<line x1="156.5" y1="411.5" x2="156.5" y2="413.3" stroke="#333" stroke-width="1.1"/>
<line x1="175.3" y1="411.5" x2="175.3" y2="414.1" stroke="#333" stroke-width="1.1"/>
<line x1="194.1" y1="411.5" x2="194.1" y2="413.3" stroke="#333" stroke-width="1.1"/>
<line x1="212.9" y1="411.5" x2="212.9" y2="414.1" stroke="#333" stroke-width="1.1"/>
<text x="24.9" y="423.4" text-anchor="middle" font-family="Liberation Serif" font-size="9.6" fill="#666" textLength="4.2" lengthAdjust="spacingAndGlyphs">5</text>
<text x="62.5" y="423.4" text-anchor="middle" font-family="Liberation Serif" font-size="9.6" fill="#666" textLength="8.4" lengthAdjust="spacingAndGlyphs">10</text>
<text x="100.1" y="423.4" text-anchor="middle" font-family="Liberation Serif" font-size="9.6" fill="#666" textLength="8.4" lengthAdjust="spacingAndGlyphs">15</text>
<text x="137.7" y="423.4" text-anchor="middle" font-family="Liberation Serif" font-size="9.6" fill="#666" textLength="8.4" lengthAdjust="spacingAndGlyphs">20</text>
<text x="175.3" y="423.4" text-anchor="middle" font-family="Liberation Serif" font-size="9.6" fill="#666" textLength="8.4" lengthAdjust="spacingAndGlyphs">25</text>
<text x="212.9" y="423.4" text-anchor="middle" font-family="Liberation Serif" font-size="9.6" fill="#666" textLength="8.4" lengthAdjust="spacingAndGlyphs">30</text>
<text x="88" y="440" font-family="Liberation Serif" font-weight="bold" font-size="13" fill="#222">2θ (degree)</text>
<text transform="translate(17.8,335.5) rotate(-90)" text-anchor="middle" font-family="Liberation Serif" font-weight="bold" font-size="13" fill="#222">Intensity (a.u.)</text>
<text x="27.2" y="280" font-family="Liberation Serif" font-weight="bold" font-size="18" fill="#222">(b)</text>
<polyline points="25.9,407.6 26.4,407.6 26.9,407.6 27.4,407.6 27.9,407.6 28.4,407.6 28.9,407.6 29.4,407.6 29.9,407.6 30.4,407.6 30.9,407.6 31.4,407.6 31.9,407.6 32.4,407.6 32.9,407.6 33.4,407.6 33.9,407.6 34.4,407.6 34.9,407.6 35.4,407.6 35.9,407.6 36.4,407.6 36.9,407.6 37.4,407.6 37.9,407.6 38.4,407.6 38.9,407.6 39.4,407.6 39.9,407.6 40.4,407.6 40.9,407.6 41.4,407.6 41.9,407.6 42.4,407.6 42.9,407.6 43.4,407.6 43.9,407.6 44.4,407.6 44.9,407.6 45.4,407.6 45.9,407.6 46.4,407.6 46.9,407.6 47.4,407.6 47.9,407.6 48.4,407.6 48.9,407.6 49.4,407.6 49.9,407.6 50.4,407.6 50.9,407.6 51.4,407.6 51.9,407.6 52.4,407.6 52.9,407.6 53.4,407.6 53.9,407.6 54.4,407.6 54.9,407.6 55.4,407.6 55.9,407.6 56.4,407.6 56.9,407.6 57.4,407.6 57.9,407.6 58.4,407.6 58.9,407.6 59.4,407.6 59.9,407.6 60.4,407.6 60.9,407.6 61.4,407.6 61.9,407.6 62.4,407.6 62.9,407.6 63.4,407.6 63.9,407.6 64.4,407.6 64.9,407.6 65.4,407.6 65.9,407.6 66.4,407.6 66.9,407.6 67.4,407.6 67.9,407.6 68.4,407.6 68.9,407.6 69.4,407.6 69.9,407.6 70.4,407.6 70.9,407.6 71.4,407.6 71.9,407.6 72.4,407.6 72.9,407.6 73.4,407.6 73.9,407.6 74.4,407.6 74.9,407.6 75.4,407.6 75.9,407.6 76.4,407.6 76.9,407.6 77.4,407.6 77.9,407.6 78.4,407.6 78.9,407.6 79.4,407.6 79.9,407.6 80.4,407.6 80.9,407.6 81.4,407.6 81.9,407.6 82.4,407.6 82.9,407.6 83.4,407.6 83.9,407.6 84.4,407.6 84.9,407.5 85.4,407.5 85.9,407.5 86.4,407.5 86.9,407.5 87.4,407.5 87.9,407.5 88.4,407.5 88.9,407.5 89.4,407.5 89.9,407.5 90.4,407.5 90.9,407.4 91.4,407.4 91.9,407.4 92.4,407.3 92.9,407.3 93.4,407.2 93.9,407.1 94.4,407 94.9,406.8 95.4,406.6 95.9,406.1 96.4,405.4 96.9,403.9 97.4,400.3 97.9,390.4 98.4,376.1 98.9,390.4 99.4,400.3 99.9,403.9 100.4,405.4 100.9,406.1 101.4,406.6 101.9,406.8 102.4,407 102.9,407.1 103.4,407.2 103.9,407.3 104.4,407.3 104.9,407.4 105.4,407.4 105.9,407.4 106.4,407.5 106.9,407.5 107.4,407.5 107.9,407.5 108.4,407.5 108.9,407.5 109.4,407.5 109.9,407.5 110.4,407.5 110.9,407.5 111.4,407.5 111.9,407.5 112.4,407.6 112.9,407.6 113.4,407.6 113.9,407.6 114.4,407.6 114.9,407.6 115.4,407.6 115.9,407.6 116.4,407.6 116.9,407.6 117.4,407.6 117.9,407.6 118.4,407.6 118.9,407.6 119.4,407.6 119.9,407.6 120.4,407.6 120.9,407.6 121.4,407.6 121.9,407.6 122.4,407.6 122.9,407.6 123.4,407.6 123.9,407.6 124.4,407.6 124.9,407.6 125.4,407.6 125.9,407.6 126.4,407.6 126.9,407.6 127.4,407.6 127.9,407.6 128.4,407.6 128.9,407.6 129.4,407.6 129.9,407.6 130.4,407.6 130.9,407.6 131.4,407.6 131.9,407.6 132.4,407.6 132.9,407.6 133.4,407.6 133.9,407.6 134.4,407.6 134.9,407.6 135.4,407.6 135.9,407.6 136.4,407.6 136.9,407.6 137.4,407.6 137.9,407.6 138.4,407.6 138.9,407.6 139.4,407.6 139.9,407.6 140.4,407.6 140.9,407.6 141.4,407.6 141.9,407.6 142.4,407.6 142.9,407.6 143.4,407.6 143.9,407.6 144.4,407.6 144.9,407.6 145.4,407.6 145.9,407.6 146.4,407.6 146.9,407.6 147.4,407.6 147.9,407.6 148.4,407.6 148.9,407.6 149.4,407.6 149.9,407.6 150.4,407.6 150.9,407.6 151.4,407.6 151.9,407.6 152.4,407.6 152.9,407.6 153.4,407.6 153.9,407.6 154.4,407.6 154.9,407.6 155.4,407.6 155.9,407.6 156.4,407.6 156.9,407.6 157.4,407.6 157.9,407.6 158.4,407.6 158.9,407.6 159.4,407.6 159.9,407.6 160.4,407.6 160.9,407.6 161.4,407.6 161.9,407.6 162.4,407.6 162.9,407.6 163.4,407.6 163.9,407.6 164.4,407.6 164.9,407.6 165.4,407.6 165.9,407.6 166.4,407.6 166.9,407.6 167.4,407.6 167.9,407.6 168.4,407.6 168.9,407.6 169.4,407.6 169.9,407.6 170.4,407.6 170.9,407.6 171.4,407.6 171.9,407.6 172.4,407.6 172.9,407.6 173.4,407.6 173.9,407.6 174.4,407.6 174.9,407.6 175.4,407.6 175.9,407.6 176.4,407.6 176.9,407.6 177.4,407.6 177.9,407.6 178.4,407.6 178.9,407.6 179.4,407.6 179.9,407.6 180.4,407.6 180.9,407.6 181.4,407.6 181.9,407.6 182.4,407.6 182.9,407.6 183.4,407.6 183.9,407.6 184.4,407.6 184.9,407.6 185.4,407.6 185.9,407.6 186.4,407.6 186.9,407.6 187.4,407.6 187.9,407.6 188.4,407.6 188.9,407.6 189.4,407.6 189.9,407.6 190.4,407.6 190.9,407.6 191.4,407.6 191.9,407.6 192.4,407.6 192.9,407.6 193.4,407.6 193.9,407.6 194.4,407.6 194.9,407.6 195.4,407.6 195.9,407.6 196.4,407.6 196.9,407.6 197.4,407.6 197.9,407.6 198.4,407.6 198.9,407.6 199.4,407.6 199.9,407.6 200.4,407.6 200.9,407.6 201.4,407.6 201.9,407.6 202.4,407.6 202.9,407.6 203.4,407.6 203.9,407.6 204.4,407.6 204.9,407.6 205.4,407.5 205.9,407.5 206.4,407.5 206.9,407.5 207.4,407.5 207.9,407.5 208.4,407.4 208.9,407.3 209.4,407.2 209.9,407 210.4,406.6 210.9,405.7 211.4,404.6 211.9,405.2" fill="none" stroke="#111" stroke-width="1.7" stroke-linejoin="round" />
<polyline points="25.9,373.1 26.4,373.1 26.9,373.2 27.4,373.2 27.9,373.2 28.4,373.2 28.9,373.2 29.4,373.3 29.9,373.3 30.4,373.3 30.9,373.3 31.4,373.3 31.9,373.3 32.4,373.3 32.9,373.3 33.4,373.2 33.9,373.1 34.4,373 34.9,372.9 35.4,372.7 35.9,372.5 36.4,372.3 36.9,372 37.4,371.5 37.9,370.9 38.4,370.1 38.9,368.7 39.4,366.4 39.9,362.1 40.4,353.1 40.9,334.5 41.4,317.2 41.9,334.4 42.4,353 42.9,362 43.4,366.3 43.9,368.6 44.4,371.5 44.9,372.3 45.4,372.9 45.9,373.3 46.4,373.6 46.9,373.8 47.4,373.9 47.9,374.1 48.4,374.2 48.9,374.2 49.4,374.3 49.9,374.4 50.4,374.4 50.9,374.4 51.4,374.5 51.9,374.5 52.4,374.5 52.9,374.6 53.4,374.6 53.9,374.6 54.4,374.6 54.9,374.6 55.4,374.6 55.9,374.6 56.4,374.6 56.9,374.7 57.4,374.7 57.9,374.7 58.4,374.7 58.9,374.7 59.4,374.7 59.9,374.7 60.4,374.7 60.9,374.7 61.4,374.7 61.9,374.7 62.4,374.7 62.9,374.7 63.4,374.7 63.9,374.7 64.4,374.7 64.9,374.7 65.4,374.7 65.9,374.7 66.4,374.7 66.9,374.7 67.4,374.7 67.9,374.7 68.4,374.7 68.9,374.7 69.4,374.7 69.9,374.7 70.4,374.7 70.9,374.7 71.4,374.7 71.9,374.7 72.4,374.7 72.9,374.7 73.4,374.7 73.9,374.7 74.4,374.7 74.9,374.7 75.4,374.7 75.9,374.7 76.4,374.7 76.9,374.7 77.4,374.7 77.9,374.7 78.4,374.7 78.9,374.7 79.4,374.7 79.9,374.7 80.4,374.7 80.9,374.7 81.4,374.7 81.9,374.7 82.4,374.7 82.9,374.7 83.4,374.7 83.9,374.7 84.4,374.6 84.9,374.6 85.4,374.6 85.9,374.6 86.4,374.6 86.9,374.6 87.4,374.5 87.9,374.5 88.4,374.5 88.9,374.4 89.4,374.4 89.9,374.3 90.4,374.2 90.9,374.1 91.4,374 91.9,373.7 92.4,373.4 92.9,373 93.4,372.3 93.9,371.2 94.4,369.2 94.9,365.5 95.4,359.5 95.9,355.3 96.4,359.5 96.9,365.5 97.4,369.2 97.9,371.2 98.4,372.3 98.9,373 99.4,373.5 99.9,373.7 100.4,373.7 100.9,373.8 101.4,373.9 101.9,374 102.4,374.1 102.9,374.1 103.4,374.2 103.9,374.2 104.4,374.2 104.9,374.3 105.4,374.3 105.9,374.3 106.4,374.3 106.9,374.3 107.4,374.4 107.9,374.4 108.4,374.4 108.9,374.4 109.4,374.4 109.9,374.4 110.4,374.4 110.9,374.4 111.4,374.4 111.9,374.4 112.4,374.4 112.9,374.4 113.4,374.4 113.9,374.4 114.4,374.4 114.9,374.4 115.4,374.4 115.9,374.4 116.4,374.4 116.9,374.4 117.4,374.5 117.9,374.5 118.4,374.5 118.9,374.5 119.4,374.5 119.9,374.5 120.4,374.5 120.9,374.5 121.4,374.5 121.9,374.5 122.4,374.5 122.9,374.5 123.4,374.5 123.9,374.5 124.4,374.5 124.9,374.5 125.4,374.5 125.9,374.5 126.4,374.5 126.9,374.5 127.4,374.5 127.9,374.5 128.4,374.5 128.9,374.5 129.4,374.5 129.9,374.5 130.4,374.5 130.9,374.5 131.4,374.5 131.9,374.5 132.4,374.5 132.9,374.5 133.4,374.5 133.9,374.5 134.4,374.5 134.9,374.5 135.4,374.5 135.9,374.5 136.4,374.5 136.9,374.5 137.4,374.5 137.9,374.5 138.4,374.4 138.9,374.4 139.4,374.4 139.9,374.4 140.4,374.4 140.9,374.4 141.4,374.4 141.9,374.4 142.4,374.4 142.9,374.4 143.4,374.4 143.9,374.4 144.4,374.3 144.9,374.3 145.4,374.3 145.9,374.2 146.4,374.2 146.9,374.1 147.4,374 147.9,373.9 148.4,373.6 148.9,373.2 149.4,372.7 149.9,371.9 150.4,371.2 150.9,371.3 151.4,372 151.9,372.8 152.4,373.3 152.9,373.7 153.4,373.9 153.9,374 154.4,374.1 154.9,374.2 155.4,374.3 155.9,374.3 156.4,374.3 156.9,374.4 157.4,374.4 157.9,374.4 158.4,374.4 158.9,374.4 159.4,374.4 159.9,374.4 160.4,374.4 160.9,374.4 161.4,374.4 161.9,374.4 162.4,374.5 162.9,374.5 163.4,374.5 163.9,374.5 164.4,374.5 164.9,374.5 165.4,374.5 165.9,374.5 166.4,374.5 166.9,374.5 167.4,374.5 167.9,374.5 168.4,374.5 168.9,374.5 169.4,374.5 169.9,374.5 170.4,374.5 170.9,374.5 171.4,374.5 171.9,374.5 172.4,374.5 172.9,374.5 173.4,374.5 173.9,374.5 174.4,374.5 174.9,374.5 175.4,374.5 175.9,374.5 176.4,374.5 176.9,374.5 177.4,374.5 177.9,374.5 178.4,374.5 178.9,374.5 179.4,374.5 179.9,374.5 180.4,374.5 180.9,374.5 181.4,374.5 181.9,374.5 182.4,374.5 182.9,374.5 183.4,374.5 183.9,374.5 184.4,374.5 184.9,374.5 185.4,374.5 185.9,374.5 186.4,374.5 186.9,374.5 187.4,374.5 187.9,374.5 188.4,374.5 188.9,374.5 189.4,374.5 189.9,374.5 190.4,374.5 190.9,374.5 191.4,374.5 191.9,374.5 192.4,374.5 192.9,374.5 193.4,374.5 193.9,374.5 194.4,374.5 194.9,374.5 195.4,374.5 195.9,374.5 196.4,374.5 196.9,374.5 197.4,374.5 197.9,374.5 198.4,374.5 198.9,374.5 199.4,374.5 199.9,374.5 200.4,374.5 200.9,374.5 201.4,374.5 201.9,374.5 202.4,374.5 202.9,374.5 203.4,374.5 203.9,374.5 204.4,374.5 204.9,374.4 205.4,374.4 205.9,374.4 206.4,374.4 206.9,374.4 207.4,374.4 207.9,374.3 208.4,374.3 208.9,374.2 209.4,374.2 209.9,374 210.4,373.8 210.9,373.6 211.4,373.5 211.9,373.6" fill="none" stroke="#ff1a1a" stroke-width="1.7" stroke-linejoin="round" />
<polyline points="25.9,338.6 26.4,338.6 26.9,338.6 27.4,338.6 27.9,338.7 28.4,338.7 28.9,338.7 29.4,338.8 29.9,338.8 30.4,338.8 30.9,338.9 31.4,338.9 31.9,338.9 32.4,338.9 32.9,338.8 33.4,338.8 33.9,338.7 34.4,338.6 34.9,338.5 35.4,338.4 35.9,338.3 36.4,338.1 36.9,337.9 37.4,337.6 37.9,337.2 38.4,336.8 38.9,336.1 39.4,335.2 39.9,333.7 40.4,331.1 40.9,326.2 41.4,315.7 41.9,295 42.4,283.6 42.9,304.5 43.4,320.8 43.9,328.5 44.4,333.1 44.9,335.1 45.4,336.3 45.9,337.1 46.4,337.6 46.9,337.9 47.4,338.2 47.9,338.4 48.4,338.6 48.9,338.7 49.4,338.8 49.9,338.8 50.4,338.9 50.9,339 51.4,339 51.9,339 52.4,339.1 52.9,339.1 53.4,339.1 53.9,339.2 54.4,339.2 54.9,339.2 55.4,339.2 55.9,339.2 56.4,339.2 56.9,339.2 57.4,339.2 57.9,339.3 58.4,339.3 58.9,339.3 59.4,339.3 59.9,339.3 60.4,339.3 60.9,339.3 61.4,339.3 61.9,339.3 62.4,339.3 62.9,339.3 63.4,339.3 63.9,339.3 64.4,339.3 64.9,339.3 65.4,339.3 65.9,339.3 66.4,339.3 66.9,339.3 67.4,339.3 67.9,339.3 68.4,339.3 68.9,339.3 69.4,339.3 69.9,339.3 70.4,339.3 70.9,339.3 71.4,339.3 71.9,339.3 72.4,339.3 72.9,339.3 73.4,339.3 73.9,339.3 74.4,339.3 74.9,339.3 75.4,339.3 75.9,339.3 76.4,339.3 76.9,339.3 77.4,339.3 77.9,339.3 78.4,339.3 78.9,339.3 79.4,339.3 79.9,339.3 80.4,339.3 80.9,339.3 81.4,339.3 81.9,339.3 82.4,339.3 82.9,339.3 83.4,339.3 83.9,339.3 84.4,339.2 84.9,339.2 85.4,339.2 85.9,339.2 86.4,339.2 86.9,339.2 87.4,339.2 87.9,339.1 88.4,339.1 88.9,339.1 89.4,339 89.9,339 90.4,338.9 90.9,338.8 91.4,338.7 91.9,338.6 92.4,338.5 92.9,338.2 93.4,337.9 93.9,337.5 94.4,336.9 94.9,335.8 95.4,334 95.9,330.9 96.4,325.1 96.9,317.1 97.4,315.9 97.9,323.5 98.4,329.9 98.9,333.6 99.4,335.5 99.9,336.7 100.4,337.4 100.9,337.9 101.4,338.2 101.9,338.4 102.4,338.6 102.9,338.7 103.4,338.8 103.9,338.9 104.4,339 104.9,339 105.4,339.1 105.9,339.1 106.4,339.1 106.9,339.2 107.4,339.2 107.9,339.2 108.4,339.2 108.9,339.2 109.4,339.2 109.9,339.3 110.4,339.3 110.9,339.3 111.4,339.3 111.9,339.3 112.4,339.3 112.9,339.3 113.4,339.3 113.9,339.3 114.4,339.3 114.9,339.3 115.4,339.3 115.9,339.3 116.4,339.3 116.9,339.3 117.4,339.3 117.9,339.3 118.4,339.3 118.9,339.3 119.4,339.3 119.9,339.3 120.4,339.3 120.9,339.3 121.4,339.4 121.9,339.4 122.4,339.4 122.9,339.4 123.4,339.4 123.9,339.4 124.4,339.4 124.9,339.4 125.4,339.4 125.9,339.4 126.4,339.4 126.9,339.4 127.4,339.4 127.9,339.4 128.4,339.4 128.9,339.4 129.4,339.4 129.9,339.4 130.4,339.4 130.9,339.4 131.4,339.4 131.9,339.4 132.4,339.4 132.9,339.4 133.4,339.4 133.9,339.4 134.4,339.4 134.9,339.4 135.4,339.4 135.9,339.4 136.4,339.4 136.9,339.4 137.4,339.4 137.9,339.4 138.4,339.4 138.9,339.4 139.4,339.3 139.9,339.3 140.4,339.3 140.9,339.3 141.4,339.3 141.9,339.3 142.4,339.3 142.9,339.3 143.4,339.3 143.9,339.3 144.4,339.3 144.9,339.3 145.4,339.3 145.9,339.2 146.4,339.2 146.9,339.2 147.4,339.1 147.9,339.1 148.4,339 148.9,338.8 149.4,338.6 149.9,338.3 150.4,337.9 150.9,337.2 151.4,336.4 151.9,336.1 152.4,336.7 152.9,337.5 153.4,338.1 153.9,338.5 154.4,338.7 154.9,338.9 155.4,339 155.9,339.1 156.4,339.1 156.9,339.2 157.4,339.2 157.9,339.2 158.4,339.3 158.9,339.3 159.4,339.3 159.9,339.3 160.4,339.3 160.9,339.3 161.4,339.3 161.9,339.3 162.4,339.3 162.9,339.3 163.4,339.4 163.9,339.4 164.4,339.4 164.9,339.4 165.4,339.4 165.9,339.4 166.4,339.4 166.9,339.4 167.4,339.4 167.9,339.4 168.4,339.4 168.9,339.4 169.4,339.4 169.9,339.4 170.4,339.4 170.9,339.4 171.4,339.4 171.9,339.4 172.4,339.4 172.9,339.4 173.4,339.4 173.9,339.4 174.4,339.4 174.9,339.4 175.4,339.4 175.9,339.4 176.4,339.4 176.9,339.4 177.4,339.4 177.9,339.4 178.4,339.4 178.9,339.4 179.4,339.4 179.9,339.4 180.4,339.4 180.9,339.4 181.4,339.4 181.9,339.4 182.4,339.4 182.9,339.4 183.4,339.4 183.9,339.4 184.4,339.4 184.9,339.4 185.4,339.4 185.9,339.4 186.4,339.4 186.9,339.4 187.4,339.4 187.9,339.4 188.4,339.4 188.9,339.4 189.4,339.4 189.9,339.4 190.4,339.4 190.9,339.4 191.4,339.4 191.9,339.4 192.4,339.4 192.9,339.4 193.4,339.4 193.9,339.4 194.4,339.4 194.9,339.4 195.4,339.4 195.9,339.4 196.4,339.4 196.9,339.4 197.4,339.4 197.9,339.4 198.4,339.4 198.9,339.4 199.4,339.4 199.9,339.4 200.4,339.4 200.9,339.4 201.4,339.4 201.9,339.4 202.4,339.4 202.9,339.4 203.4,339.4 203.9,339.4 204.4,339.4 204.9,339.4 205.4,339.3 205.9,339.3 206.4,339.3 206.9,339.3 207.4,339.3 207.9,339.3 208.4,339.2 208.9,339.2 209.4,339.1 209.9,339.1 210.4,338.9 210.9,338.7 211.4,338.5 211.9,338.4" fill="none" stroke="#1a1aff" stroke-width="1.7" stroke-linejoin="round" />
<line x1="143.9" y1="268.4" x2="160.7" y2="268.4" stroke="#1a1aff" stroke-width="2.2"/>
<text x="163" y="270.9" font-family="Liberation Serif" font-size="7.6" fill="#444">R-MBA-TaS<tspan font-size="5" dy="1.5">2</tspan></text>
<line x1="143.9" y1="279.1" x2="160.7" y2="279.1" stroke="#ff1a1a" stroke-width="2.2"/>
<text x="163" y="281.6" font-family="Liberation Serif" font-size="7.6" fill="#444">S-MBA-TaS<tspan font-size="5" dy="1.5">2</tspan></text>
<line x1="143.9" y1="291.1" x2="160.7" y2="291.1" stroke="#111" stroke-width="2.2"/>
<text x="163" y="293.6" font-family="Liberation Serif" font-size="7.6" fill="#444">H-TaS<tspan font-size="5" dy="1.5">2</tspan></text>
<rect x="238.4" y="260.6" width="186.2" height="150.9" fill="none" stroke="#2a2a2a" stroke-width="1.5"/>
<line x1="238.5" y1="411.5" x2="238.5" y2="414.1" stroke="#333" stroke-width="1.1"/>
<line x1="261.8" y1="411.5" x2="261.8" y2="413.3" stroke="#333" stroke-width="1.1"/>
<line x1="285" y1="411.5" x2="285" y2="414.1" stroke="#333" stroke-width="1.1"/>
<line x1="308.3" y1="411.5" x2="308.3" y2="413.3" stroke="#333" stroke-width="1.1"/>
<line x1="331.6" y1="411.5" x2="331.6" y2="414.1" stroke="#333" stroke-width="1.1"/>
<line x1="354.8" y1="411.5" x2="354.8" y2="413.3" stroke="#333" stroke-width="1.1"/>
<line x1="378.1" y1="411.5" x2="378.1" y2="414.1" stroke="#333" stroke-width="1.1"/>
<line x1="401.3" y1="411.5" x2="401.3" y2="413.3" stroke="#333" stroke-width="1.1"/>
<line x1="424.6" y1="411.5" x2="424.6" y2="414.1" stroke="#333" stroke-width="1.1"/>
<text x="238.5" y="423.4" text-anchor="middle" font-family="Liberation Serif" font-size="9.6" fill="#666" textLength="12" lengthAdjust="spacingAndGlyphs">100</text>
<text x="285" y="423.4" text-anchor="middle" font-family="Liberation Serif" font-size="9.6" fill="#666" textLength="12" lengthAdjust="spacingAndGlyphs">200</text>
<text x="331.6" y="423.4" text-anchor="middle" font-family="Liberation Serif" font-size="9.6" fill="#666" textLength="12" lengthAdjust="spacingAndGlyphs">300</text>
<text x="378.1" y="423.4" text-anchor="middle" font-family="Liberation Serif" font-size="9.6" fill="#666" textLength="12" lengthAdjust="spacingAndGlyphs">400</text>
<text x="424.6" y="423.4" text-anchor="middle" font-family="Liberation Serif" font-size="9.6" fill="#666" textLength="12" lengthAdjust="spacingAndGlyphs">500</text>
<text x="279" y="440" font-family="Liberation Serif" font-weight="bold" font-size="13" fill="#222">Raman Shift (cm<tspan font-size="8.5" dy="-5">-1</tspan><tspan dy="5">)</tspan></text>
<text transform="translate(230.2,331.5) rotate(-90)" text-anchor="middle" font-family="Liberation Serif" font-weight="bold" font-size="13" fill="#222">Intensity (a.u.)</text>
<text x="240.3" y="280" font-family="Liberation Serif" font-weight="bold" font-size="18" fill="#222">(c)</text>
<polyline points="239.2,408.1 240,408.1 240.8,408 241.6,407.7 242.4,407.4 243.2,407.2 244,407.2 244.8,407.3 245.6,407.5 246.4,407.6 247.2,407.5 248,407.3 248.8,407 249.6,406.9 250.4,406.8 251.2,406.7 252,406.4 252.8,405.9 253.6,405.4 254.4,404.9 255.2,404.6 256,404.6 256.8,404.6 257.6,404.4 258.4,404.1 259.2,403.6 260,403 260.8,402.5 261.6,402.1 262.4,401.7 263.2,401.1 264,400.4 264.8,399.5 265.6,398.7 266.4,398.1 267.2,397.8 268,397.6 268.8,397.3 269.6,397 270.4,396.5 271.2,395.9 272,395.5 272.8,395.2 273.6,395 274.4,394.7 275.2,394.4 276,394 276.8,393.7 277.6,393.6 278.4,393.8 279.2,394.2 280,394.7 280.8,395.2 281.6,395.5 282.4,395.7 283.2,396 284,396.5 284.8,397 285.6,397.5 286.4,398 287.2,398.2 288,398.5 288.8,398.9 289.6,399.5 290.4,400.3 291.2,401.2 292,402 292.8,402.7 293.6,403.1 294.4,403.6 295.2,404.1 296,404.6 296.8,405.2 297.6,405.5 298.4,405.7 299.2,405.7 300,405.8 300.8,406 301.6,406.5 302.4,407 303.2,407.3 304,407.5 304.8,407.5 305.6,407.4 306.4,407.4 307.2,407.4 308,407.5 308.8,407.5 309.6,407.3 310.4,407 311.2,406.7 312,406.6 312.8,406.8 313.6,407.1 314.4,407.4 315.2,407.5 316,407.3 316.8,406.9 317.6,406.3 318.4,405.6 319.2,404.8 320,403.6 320.8,402 321.6,400.2 322.4,398.4 323.2,397 324,396.2 324.8,396.1 325.6,396.5 326.4,397.4 327.2,398.5 328,399.8 328.8,401.2 329.6,402.6 330.4,404 331.2,405.1 332,405.8 332.8,406.2 333.6,406.3 334.4,406.5 335.2,406.7 336,407.1 336.8,407.6 337.6,407.9 338.4,408.1 339.2,408 340,408 340.8,408 341.6,408.1 342.4,408.2 343.2,408.1 344,407.9 344.8,407.5 345.6,407.2 346.4,407.1 347.2,407.2 348,407.4 348.8,407.7 349.6,407.7 350.4,407.6 351.2,407.5 352,407.4 352.8,407.5 353.6,407.6 354.4,407.6 355.2,407.5 356,407.3 356.8,407.1 357.6,407 358.4,407.2 359.2,407.6 360,408 360.8,408.2 361.6,408.2 362.4,408.1 363.2,408 364,408 364.8,408 365.6,408 366.4,407.8 367.2,407.5 368,407.1 368.8,406.8 369.6,406.7 370.4,406.8 371.2,406.9 372,406.8 372.8,406.4 373.6,405.7 374.4,405 375.2,404.1 376,403.4 376.8,402.5 377.6,401.7 378.4,400.8 379.2,400.1 380,399.7 380.8,399.9 381.6,400.7 382.4,401.7 383.2,402.9 384,403.9 384.8,404.7 385.6,405.4 386.4,406 387.2,406.6 388,407 388.8,407.2 389.6,407.2 390.4,406.9 391.2,406.7 392,406.7 392.8,406.8 393.6,407.2 394.4,407.5 395.2,407.7 396,407.7 396.8,407.7 397.6,407.7 398.4,407.8 399.2,408 400,408 400.8,408 401.6,407.7 402.4,407.4 403.2,407.3 404,407.4 404.8,407.6 405.6,407.9 406.4,408.1 407.2,408 408,407.8 408.8,407.6 409.6,407.6 410.4,407.6 411.2,407.6 412,407.5 412.8,407.2 413.6,406.9 414.4,406.7 415.2,406.8 416,407.1 416.8,407.5 417.6,407.8 418.4,408 419.2,408 420,407.9 420.8,407.9 421.6,408.1 422.4,408.2 423.2,408.1" fill="none" stroke="#1a1a1a" stroke-width="1.7" stroke-linejoin="round" />
<polyline points="239.2,382.6 240,382.2 240.8,382.3 241.6,382.5 242.4,382.7 243.2,382.7 244,382.7 244.8,382.7 245.6,382.9 246.4,383.3 247.2,383.7 248,384 248.8,383.8 249.6,383.5 250.4,383 251.2,382.8 252,382.9 252.8,383.2 253.6,383.5 254.4,383.6 255.2,383.5 256,383.4 256.8,383.4 257.6,383.5 258.4,383.8 259.2,383.8 260,383.5 260.8,383 261.6,382.3 262.4,381.7 263.2,381.5 264,381.5 264.8,381.5 265.6,381.4 266.4,381.1 267.2,380.6 268,380.1 268.8,379.7 269.6,379.3 270.4,378.5 271.2,377.3 272,375.5 272.8,373.3 273.6,370.9 274.4,368.6 275.2,366.3 276,363.9 276.8,361.3 277.6,358.3 278.4,355 279.2,351.8 280,348.8 280.8,346 281.6,343.3 282.4,340.6 283.2,337.8 284,335.2 284.8,333 285.6,331.5 286.4,330.8 287.2,330.7 288,331.2 288.8,331.9 289.6,332.9 290.4,334.3 291.2,336.1 292,338.4 292.8,340.8 293.6,343.1 294.4,345.1 295.2,346.9 296,348.6 296.8,350.4 297.6,352.6 298.4,355 299.2,357.4 300,359.7 300.8,361.9 301.6,364 302.4,366.3 303.2,368.7 304,371.1 304.8,373.3 305.6,375.1 306.4,376.3 307.2,377.3 308,378.1 308.8,379.2 309.6,380.3 310.4,381.3 311.2,382.1 312,382.5 312.8,382.8 313.6,383 314.4,383.2 315.2,383.5 316,383.4 316.8,382.7 317.6,381.3 318.4,379.1 319.2,376.4 320,373.2 320.8,369.7 321.6,365.9 322.4,361.7 323.2,357.6 324,354 324.8,351.6 325.6,350.8 326.4,351.8 327.2,354.3 328,357.7 328.8,361.6 329.6,365.5 330.4,369.2 331.2,372.8 332,375.9 332.8,378.6 333.6,380.6 334.4,381.9 335.2,382.6 336,382.9 336.8,383.2 337.6,383.6 338.4,383.9 339.2,384 340,383.8 340.8,383.2 341.6,382.5 342.4,382 343.2,381.7 344,381.7 344.8,381.8 345.6,381.7 346.4,381.4 347.2,381.1 348,380.8 348.8,380.8 349.6,381 350.4,381.1 351.2,381 352,380.6 352.8,380.1 353.6,379.7 354.4,379.6 355.2,379.7 356,379.7 356.8,379.5 357.6,378.9 358.4,377.9 359.2,376.8 360,375.6 360.8,374.6 361.6,373.4 362.4,372 363.2,370.4 364,368.7 364.8,367.4 365.6,366.6 366.4,366.5 367.2,366.7 368,367.2 368.8,367.5 369.6,367.7 370.4,367.7 371.2,367.5 372,367.1 372.8,366.3 373.6,364.9 374.4,362.9 375.2,360.4 376,358 376.8,356 377.6,354.8 378.4,354.4 379.2,354.8 380,355.8 380.8,357.4 381.6,359.5 382.4,362.2 383.2,365.3 384,368.6 384.8,371.6 385.6,374.1 386.4,375.9 387.2,377.3 388,378.5 388.8,379.6 389.6,380.8 390.4,381.8 391.2,382.5 392,382.9 392.8,383.1 393.6,383.3 394.4,383.7 395.2,384.1 396,384.4 396.8,384.4 397.6,384 398.4,383.4 399.2,382.8 400,382.5 400.8,382.5 401.6,382.6 402.4,382.6 403.2,382.4 404,382 404.8,381.5 405.6,381.2 406.4,381.1 407.2,381 408,380.9 408.8,380.5 409.6,380.2 410.4,380 411.2,380.3 412,380.9 412.8,381.7 413.6,382.5 414.4,383 415.2,383.2 416,383.3 416.8,383.5 417.6,383.8 418.4,384.1 419.2,384.2 420,384 420.8,383.4 421.6,382.8 422.4,382.3 423.2,382.2" fill="none" stroke="#ff1a1a" stroke-width="1.9" stroke-linejoin="round" />
<polyline points="239.2,339 240,338.9 240.8,338.4 241.6,337.9 242.4,337.6 243.2,337.5 244,337.5 244.8,337.4 245.6,337.1 246.4,336.8 247.2,336.7 248,336.8 248.8,337.3 249.6,337.9 250.4,338.3 251.2,338.4 252,338.3 252.8,338 253.6,337.8 254.4,337.8 255.2,337.9 256,338 256.8,337.9 257.6,337.6 258.4,337.4 259.2,337.3 260,337.5 260.8,337.8 261.6,337.9 262.4,337.7 263.2,337.1 264,336.2 264.8,335.3 265.6,334.5 266.4,333.8 267.2,332.9 268,331.9 268.8,330.5 269.6,328.9 270.4,327.3 271.2,325.9 272,324.4 272.8,322.8 273.6,320.6 274.4,318 275.2,314.9 276,311.6 276.8,308.4 277.6,305.4 278.4,302.4 279.2,299.4 280,296.3 280.8,293.4 281.6,290.8 282.4,288.9 283.2,287.6 284,286.8 284.8,286.3 285.6,285.8 286.4,285.5 287.2,285.6 288,286.2 288.8,287.4 289.6,289 290.4,290.7 291.2,292.5 292,294.3 292.8,296.3 293.6,298.6 294.4,301.3 295.2,304.1 296,306.8 296.8,309.2 297.6,311.4 298.4,313.4 299.2,315.5 300,317.8 300.8,320.3 301.6,322.6 302.4,324.7 303.2,326.5 304,328.1 304.8,329.7 305.6,331.5 306.4,333.2 307.2,334.6 308,335.7 308.8,336.2 309.6,336.3 310.4,336.4 311.2,336.6 312,336.9 312.8,337.2 313.6,337.3 314.4,337.1 315.2,336.7 316,336.2 316.8,335.7 317.6,334.9 318.4,333.6 319.2,331.3 320,328 320.8,323.8 321.6,319.3 322.4,314.8 323.2,311.1 324,308.3 324.8,306.7 325.6,306.4 326.4,307.6 327.2,310.2 328,313.9 328.8,318.5 329.6,323.1 330.4,327.3 331.2,330.6 332,332.9 332.8,334.5 333.6,335.6 334.4,336.5 335.2,337.2 336,337.7 336.8,337.8 337.6,337.7 338.4,337.6 339.2,337.6 340,338 340.8,338.4 341.6,338.7 342.4,338.7 343.2,338.3 344,337.7 344.8,337.2 345.6,336.8 346.4,336.5 347.2,336.3 348,336 348.8,335.5 349.6,335.1 350.4,334.9 351.2,335.1 352,335.7 352.8,336.3 353.6,336.7 354.4,336.8 355.2,336.6 356,336.5 356.8,336.5 357.6,336.6 358.4,336.7 359.2,336.5 360,336.1 360.8,335.5 361.6,335 362.4,334.8 363.2,334.7 364,334.7 364.8,334.5 365.6,333.9 366.4,333 367.2,332 368,331.1 368.8,330.3 369.6,329.4 370.4,328.3 371.2,326.7 372,324.7 372.8,322.6 373.6,320.5 374.4,318.6 375.2,316.9 376,315.3 376.8,313.6 377.6,312.2 378.4,311.2 379.2,311 380,311.7 380.8,313.2 381.6,315.2 382.4,317.4 383.2,319.7 384,322.2 384.8,324.7 385.6,327.4 386.4,330 387.2,332.3 388,333.9 388.8,334.9 389.6,335.5 390.4,335.9 391.2,336.2 392,336.7 392.8,337.1 393.6,337.3 394.4,337.3 395.2,337.2 396,337.3 396.8,337.7 397.6,338.3 398.4,338.8 399.2,339.1 400,339 400.8,338.6 401.6,338.2 402.4,337.9 403.2,337.8 404,337.8 404.8,337.6 405.6,337.4 406.4,337 407.2,336.8 408,336.9 408.8,337.3 409.6,337.8 410.4,338.2 411.2,338.2 412,338 412.8,337.7 413.6,337.5 414.4,337.6 415.2,337.7 416,337.9 416.8,337.9 417.6,337.7 418.4,337.6 419.2,337.7 420,338 420.8,338.5 421.6,338.9 422.4,339 423.2,338.6" fill="none" stroke="#1a1aff" stroke-width="1.9" stroke-linejoin="round" />
<path d="M278.3 390 L287.4 330 M325.5 309 V404 M379.4 313 V401" stroke="#333" stroke-width="1.1" stroke-dasharray="2.6 2"/>
<text x="280" y="280.5" font-family="Liberation Serif" font-size="9" fill="#333">E<tspan font-size="5.5" dx="0" dy="-4">1</tspan><tspan font-size="5.5" dx="-3" dy="7">g</tspan></text>
<text x="319.8" y="299" font-family="Liberation Serif" font-size="9" fill="#333">E<tspan font-size="5.5" dy="-4">1</tspan><tspan font-size="5.5" dx="-3" dy="7">2g</tspan></text>
<text x="375.3" y="303" font-family="Liberation Serif" font-size="9" fill="#333">A<tspan font-size="5.5" dy="2">1g</tspan></text>
<line x1="366" y1="267.3" x2="382.5" y2="267.3" stroke="#1a1aff" stroke-width="2.2"/>
<text x="384" y="269.8" font-family="Liberation Serif" font-size="7" fill="#444">R-MBA-TaS<tspan font-size="5" dy="1.5">2</tspan></text>
<line x1="366" y1="278.5" x2="382.5" y2="278.5" stroke="#ff1a1a" stroke-width="2.2"/>
<text x="384" y="281" font-family="Liberation Serif" font-size="7" fill="#444">S-MBA-TaS<tspan font-size="5" dy="1.5">2</tspan></text>
<line x1="366" y1="289" x2="382.5" y2="289" stroke="#111" stroke-width="2.2"/>
<text x="384" y="291.5" font-family="Liberation Serif" font-size="7" fill="#444">H-TaS<tspan font-size="5" dy="1.5">2</tspan></text>
<svg x="439" y="260.3" width="252.8" height="122.7" overflow="hidden"><g filter="url(#temfF)">
<rect x="-2" y="-2" width="256.8" height="126.7" fill="#474747"/>
<rect x="-2" y="-5" width="256.8" height="2.8" fill="#808080"/>
<rect x="-2" y="0.2" width="256.8" height="1.2" fill="#545454"/>
<rect x="-2" y="3.7" width="256.8" height="2.8" fill="#808080"/>
<rect x="-2" y="8.9" width="256.8" height="1.2" fill="#545454"/>
<rect x="-2" y="12.4" width="256.8" height="2.8" fill="#808080"/>
<rect x="-2" y="17.6" width="256.8" height="1.2" fill="#545454"/>
<rect x="-2" y="21.1" width="256.8" height="2.8" fill="#808080"/>
<rect x="-2" y="26.3" width="256.8" height="1.2" fill="#545454"/>
<rect x="-2" y="29.9" width="256.8" height="2.8" fill="#808080"/>
<rect x="-2" y="35.1" width="256.8" height="1.2" fill="#545454"/>
<rect x="-2" y="38.6" width="256.8" height="2.8" fill="#808080"/>
<rect x="-2" y="43.8" width="256.8" height="1.2" fill="#545454"/>
<rect x="-2" y="47.3" width="256.8" height="2.8" fill="#808080"/>
<rect x="-2" y="52.5" width="256.8" height="1.2" fill="#545454"/>
<rect x="-2" y="56" width="256.8" height="2.8" fill="#808080"/>
<rect x="-2" y="61.2" width="256.8" height="1.2" fill="#545454"/>
<rect x="-2" y="64.7" width="256.8" height="2.8" fill="#808080"/>
<rect x="-2" y="69.9" width="256.8" height="1.2" fill="#545454"/>
<rect x="-2" y="73.5" width="256.8" height="2.8" fill="#808080"/>
<rect x="-2" y="78.7" width="256.8" height="1.2" fill="#545454"/>
<rect x="-2" y="82.2" width="256.8" height="2.8" fill="#808080"/>
<rect x="-2" y="87.4" width="256.8" height="1.2" fill="#545454"/>
<rect x="-2" y="90.9" width="256.8" height="2.8" fill="#808080"/>
<rect x="-2" y="96.1" width="256.8" height="1.2" fill="#545454"/>
<rect x="-2" y="99.6" width="256.8" height="2.8" fill="#808080"/>
<rect x="-2" y="104.8" width="256.8" height="1.2" fill="#545454"/>
<rect x="-2" y="108.3" width="256.8" height="2.8" fill="#808080"/>
<rect x="-2" y="113.5" width="256.8" height="1.2" fill="#545454"/>
<rect x="-2" y="117.1" width="256.8" height="2.8" fill="#808080"/>
<rect x="-2" y="122.3" width="256.8" height="1.2" fill="#545454"/>
<rect x="-2" y="125.8" width="256.8" height="2.8" fill="#808080"/>
<rect x="-2" y="131" width="256.8" height="1.2" fill="#545454"/>
</g></svg>
<text x="440.3" y="278.2" font-family="Liberation Serif" font-size="20" fill="#f2f2f2">(f)</text>
<text x="536.6" y="321.2" font-family="Liberation Serif" font-size="15.5" letter-spacing="0.8" fill="#eee">6.1 Å</text>
<path d="M581.4 309.9 H643.1 M581.4 317.6 H643.1" stroke="#fff" stroke-width="2"/>
<path d="M612.6 291.9 V309 M612.6 318.5 V334.7" stroke="#ddd" stroke-width="0.8"/>
<text x="459" y="365.5" font-family="Liberation Serif" font-size="15" letter-spacing="0.5" fill="#eee">5 nm</text>
<rect x="442.7" y="370.4" width="68.3" height="3" fill="#fff"/>
<svg x="439" y="393" width="252.8" height="245.6" overflow="hidden"><g filter="url(#temgF)">
<rect x="-2" y="-2" width="256.8" height="249.6" fill="url(#bandG)"/>
</g></svg>
<text x="440.3" y="410.8" font-family="Liberation Serif" font-weight="bold" font-size="18.5" fill="#f2f2f2">(g)</text>
<text x="535.3" y="475.5" font-family="Liberation Serif" font-size="16.5" letter-spacing="0.6" fill="#eee">12.2 Å</text>
<path d="M589 460.9 H650 M589 477.4 H650" stroke="#fff" stroke-width="2"/>
<path d="M619 446 V460 M619 478 V491.5" stroke="#ddd" stroke-width="0.8"/>
<text x="459" y="611" font-family="Liberation Serif" font-size="15" letter-spacing="0.5" fill="#eee">5 nm</text>
<rect x="442.4" y="618" width="72.2" height="3" fill="#fff"/>
<clipPath id="clipd"><rect x="7.4" y="453.4" width="187" height="185.2"/></clipPath>
<g clip-path="url(#clipd)"><g filter="url(#afmNoise)">
<rect x="5.4" y="451.4" width="191" height="189.2" fill="#bc4c1e"/>
<polygon points="0,450 80,450 62,520 40,560 0,580" fill="#cc682c" opacity="0.85" filter="url(#blur6)"/>
<ellipse cx="60" cy="458" rx="60" ry="8" fill="#d27432" opacity="0.7" filter="url(#blur6)"/>
<ellipse cx="78" cy="532" rx="11" ry="36" fill="#8a1c06" opacity="0.9" filter="url(#blur6)"/>
<ellipse cx="95" cy="490" rx="8" ry="18" fill="#9a2808" opacity="0.6" filter="url(#blur6)"/>
<ellipse cx="53" cy="598" rx="7" ry="36" fill="#8a1e06" opacity="0.9" filter="url(#blur6)"/>
<ellipse cx="172" cy="560" rx="22" ry="70" fill="#b03c14" opacity="0.6" filter="url(#blur6)"/>
<ellipse cx="170" cy="470" rx="25" ry="14" fill="#c65a24" opacity="0.6" filter="url(#blur6)"/>
<linearGradient id="dlf" x1="0" y1="0" x2="0" y2="1"><stop offset="0" stop-color="#d27436"/><stop offset="1" stop-color="#bc5420"/></linearGradient>
<polygon points="25.8,531 30,549 34.5,568.6 44.6,603 54.7,626.4 58,640 6,640 9.9,615 17,575" fill="url(#dlf)"/>
<polyline points="25.8,531 30,549 34.5,568.6 44.6,603 54.7,626.4 58,640" fill="none" stroke="#e89a60" stroke-width="0.9" opacity="0.6"/>
<polygon points="6,606 14,616 19,640 6,640" fill="#d27434"/>
<linearGradient id="dbf" x1="0" y1="0" x2="0" y2="1"><stop offset="0" stop-color="#cc6428"/><stop offset="0.4" stop-color="#c65c22"/><stop offset="1" stop-color="#c25820"/></linearGradient>
<polygon points="119,460 124,459 128,463 133,478 137,492 140,500 142.2,521.6 145.4,554 151.9,582.2 149.7,590.8 145.4,608 142.2,629.7 141,640 91,640 89.7,589 83,545 90,522 98,500 107,477" fill="url(#dbf)"/>
<circle cx="110.3" cy="487" r="0.5" fill="#dc7e3c" fill-opacity="0.8"/><circle cx="110.7" cy="625.1" r="0.7" fill="#dc7e3c" fill-opacity="0.8"/><circle cx="135.7" cy="499.2" r="0.6" fill="#dc7e3c" fill-opacity="0.8"/><circle cx="102.1" cy="490.3" r="0.5" fill="#dc7e3c" fill-opacity="0.8"/><circle cx="97.8" cy="626.9" r="0.7" fill="#dc7e3c" fill-opacity="0.8"/><circle cx="138.6" cy="603.9" r="0.5" fill="#dc7e3c" fill-opacity="0.8"/><circle cx="104.3" cy="572.5" r="0.7" fill="#dc7e3c" fill-opacity="0.8"/><circle cx="141.9" cy="618.3" r="0.5" fill="#dc7e3c" fill-opacity="0.8"/><circle cx="124.7" cy="580.6" r="0.6" fill="#dc7e3c" fill-opacity="0.8"/><circle cx="95.2" cy="544.7" r="0.5" fill="#dc7e3c" fill-opacity="0.8"/><circle cx="120.7" cy="513.3" r="0.8" fill="#dc7e3c" fill-opacity="0.8"/><circle cx="122.4" cy="618.7" r="0.7" fill="#dc7e3c" fill-opacity="0.8"/><circle cx="118" cy="533.9" r="0.7" fill="#dc7e3c" fill-opacity="0.8"/><circle cx="112.7" cy="488.2" r="0.6" fill="#dc7e3c" fill-opacity="0.8"/><circle cx="102.3" cy="555.8" r="0.6" fill="#dc7e3c" fill-opacity="0.8"/><circle cx="106.6" cy="639.5" r="0.5" fill="#dc7e3c" fill-opacity="0.8"/><circle cx="111.4" cy="495.7" r="0.7" fill="#dc7e3c" fill-opacity="0.8"/><circle cx="102" cy="523.4" r="0.7" fill="#dc7e3c" fill-opacity="0.8"/><circle cx="105.1" cy="560.1" r="0.8" fill="#dc7e3c" fill-opacity="0.8"/><circle cx="98.8" cy="597.5" r="0.7" fill="#dc7e3c" fill-opacity="0.8"/><circle cx="99.4" cy="518.9" r="0.5" fill="#dc7e3c" fill-opacity="0.8"/><circle cx="114.6" cy="466.7" r="0.7" fill="#dc7e3c" fill-opacity="0.8"/><circle cx="133.6" cy="632.7" r="0.5" fill="#dc7e3c" fill-opacity="0.8"/><circle cx="102.9" cy="633.8" r="0.7" fill="#dc7e3c" fill-opacity="0.8"/><circle cx="111.3" cy="629.7" r="0.7" fill="#dc7e3c" fill-opacity="0.8"/><circle cx="139.4" cy="512.1" r="0.5" fill="#dc7e3c" fill-opacity="0.8"/><circle cx="113.6" cy="483.7" r="0.6" fill="#dc7e3c" fill-opacity="0.8"/><circle cx="94.7" cy="600.9" r="0.6" fill="#dc7e3c" fill-opacity="0.8"/><circle cx="129.6" cy="486.1" r="0.5" fill="#dc7e3c" fill-opacity="0.8"/><circle cx="116.8" cy="504.1" r="0.8" fill="#dc7e3c" fill-opacity="0.8"/><circle cx="91.4" cy="554.8" r="0.7" fill="#dc7e3c" fill-opacity="0.8"/><circle cx="111.2" cy="637.8" r="0.6" fill="#dc7e3c" fill-opacity="0.8"/><circle cx="99.7" cy="533.3" r="0.5" fill="#dc7e3c" fill-opacity="0.8"/><circle cx="112" cy="504" r="0.8" fill="#dc7e3c" fill-opacity="0.8"/><circle cx="140.3" cy="549.2" r="0.5" fill="#dc7e3c" fill-opacity="0.8"/><circle cx="100.5" cy="502.9" r="0.5" fill="#dc7e3c" fill-opacity="0.8"/><circle cx="98.9" cy="616.4" r="0.5" fill="#dc7e3c" fill-opacity="0.8"/><circle cx="122" cy="638.3" r="0.6" fill="#dc7e3c" fill-opacity="0.8"/><circle cx="145.1" cy="577.4" r="0.7" fill="#dc7e3c" fill-opacity="0.8"/><circle cx="134.3" cy="548.5" r="0.5" fill="#dc7e3c" fill-opacity="0.8"/><circle cx="97.5" cy="617.2" r="0.8" fill="#dc7e3c" fill-opacity="0.8"/><circle cx="128.3" cy="603.7" r="0.7" fill="#dc7e3c" fill-opacity="0.8"/><circle cx="139.1" cy="554.6" r="0.7" fill="#dc7e3c" fill-opacity="0.8"/><circle cx="130.3" cy="507.6" r="0.8" fill="#dc7e3c" fill-opacity="0.8"/><circle cx="129" cy="467.1" r="0.8" fill="#dc7e3c" fill-opacity="0.8"/><circle cx="91.8" cy="634.3" r="0.7" fill="#dc7e3c" fill-opacity="0.8"/><circle cx="126.8" cy="562" r="0.7" fill="#dc7e3c" fill-opacity="0.8"/><circle cx="91" cy="605.6" r="0.7" fill="#dc7e3c" fill-opacity="0.8"/><circle cx="143.5" cy="558.7" r="0.8" fill="#dc7e3c" fill-opacity="0.8"/><circle cx="96.9" cy="580.5" r="0.6" fill="#dc7e3c" fill-opacity="0.8"/><circle cx="144.4" cy="599" r="0.6" fill="#dc7e3c" fill-opacity="0.8"/><circle cx="119.3" cy="463.8" r="0.5" fill="#dc7e3c" fill-opacity="0.8"/><circle cx="124" cy="547.5" r="0.8" fill="#dc7e3c" fill-opacity="0.8"/><circle cx="124.9" cy="484.1" r="0.6" fill="#dc7e3c" fill-opacity="0.8"/><circle cx="135.9" cy="553.7" r="0.5" fill="#dc7e3c" fill-opacity="0.8"/><circle cx="140.7" cy="608.8" r="0.5" fill="#dc7e3c" fill-opacity="0.8"/><circle cx="120.4" cy="528" r="0.7" fill="#dc7e3c" fill-opacity="0.8"/><circle cx="104.4" cy="501.3" r="0.6" fill="#dc7e3c" fill-opacity="0.8"/><circle cx="90.9" cy="571.4" r="0.8" fill="#dc7e3c" fill-opacity="0.8"/><circle cx="118.3" cy="537.5" r="0.8" fill="#dc7e3c" fill-opacity="0.8"/><circle cx="103.8" cy="610.4" r="0.6" fill="#dc7e3c" fill-opacity="0.8"/><circle cx="93.3" cy="548.5" r="0.6" fill="#dc7e3c" fill-opacity="0.8"/><circle cx="120.3" cy="622.6" r="0.7" fill="#dc7e3c" fill-opacity="0.8"/><circle cx="120.5" cy="547.1" r="0.7" fill="#dc7e3c" fill-opacity="0.8"/><circle cx="116.4" cy="472.7" r="0.5" fill="#dc7e3c" fill-opacity="0.8"/><circle cx="141.4" cy="523.6" r="0.7" fill="#dc7e3c" fill-opacity="0.8"/><circle cx="129.6" cy="569.3" r="0.6" fill="#dc7e3c" fill-opacity="0.8"/><circle cx="142.8" cy="601.4" r="0.7" fill="#dc7e3c" fill-opacity="0.8"/><circle cx="113.5" cy="484.5" r="0.7" fill="#dc7e3c" fill-opacity="0.8"/><circle cx="108" cy="578.8" r="0.5" fill="#dc7e3c" fill-opacity="0.8"/><circle cx="122.7" cy="522.4" r="0.7" fill="#dc7e3c" fill-opacity="0.8"/><circle cx="89.4" cy="531.9" r="0.8" fill="#dc7e3c" fill-opacity="0.8"/><circle cx="95.4" cy="577.4" r="0.6" fill="#dc7e3c" fill-opacity="0.8"/><circle cx="140.2" cy="604" r="0.7" fill="#dc7e3c" fill-opacity="0.8"/><circle cx="123.2" cy="548.6" r="0.7" fill="#dc7e3c" fill-opacity="0.8"/><circle cx="147.6" cy="596.6" r="0.8" fill="#dc7e3c" fill-opacity="0.8"/><circle cx="91" cy="576.9" r="0.7" fill="#dc7e3c" fill-opacity="0.8"/><circle cx="134.3" cy="570.8" r="0.7" fill="#dc7e3c" fill-opacity="0.8"/><circle cx="103.9" cy="626.9" r="0.6" fill="#dc7e3c" fill-opacity="0.8"/><circle cx="124.3" cy="621.3" r="0.7" fill="#dc7e3c" fill-opacity="0.8"/><circle cx="104.3" cy="500.7" r="0.6" fill="#dc7e3c" fill-opacity="0.8"/><circle cx="126.2" cy="639.4" r="0.8" fill="#dc7e3c" fill-opacity="0.8"/><circle cx="110.6" cy="531.5" r="0.7" fill="#dc7e3c" fill-opacity="0.8"/><circle cx="102.6" cy="533.5" r="0.5" fill="#dc7e3c" fill-opacity="0.8"/><circle cx="95.7" cy="556.8" r="0.7" fill="#dc7e3c" fill-opacity="0.8"/><circle cx="125.4" cy="524.9" r="0.8" fill="#dc7e3c" fill-opacity="0.8"/><circle cx="125.9" cy="487.2" r="0.5" fill="#dc7e3c" fill-opacity="0.8"/><circle cx="146.4" cy="568.3" r="0.6" fill="#dc7e3c" fill-opacity="0.8"/><circle cx="98.3" cy="627" r="0.8" fill="#dc7e3c" fill-opacity="0.8"/><circle cx="99.4" cy="513.2" r="0.8" fill="#dc7e3c" fill-opacity="0.8"/><circle cx="94.3" cy="602.1" r="0.7" fill="#dc7e3c" fill-opacity="0.8"/><circle cx="120.7" cy="632.6" r="0.5" fill="#dc7e3c" fill-opacity="0.8"/><circle cx="119.1" cy="487.5" r="0.5" fill="#dc7e3c" fill-opacity="0.8"/><circle cx="144.3" cy="586.1" r="0.7" fill="#dc7e3c" fill-opacity="0.8"/><circle cx="128.1" cy="631.4" r="0.8" fill="#dc7e3c" fill-opacity="0.8"/><circle cx="132.6" cy="560.4" r="0.7" fill="#dc7e3c" fill-opacity="0.8"/><circle cx="132.9" cy="559" r="0.6" fill="#dc7e3c" fill-opacity="0.8"/><circle cx="93.6" cy="611.8" r="0.6" fill="#dc7e3c" fill-opacity="0.8"/><circle cx="110" cy="582.5" r="0.8" fill="#dc7e3c" fill-opacity="0.8"/><circle cx="105.6" cy="529" r="0.6" fill="#dc7e3c" fill-opacity="0.8"/><circle cx="141.5" cy="608" r="0.5" fill="#dc7e3c" fill-opacity="0.8"/><circle cx="121.1" cy="545.3" r="0.7" fill="#dc7e3c" fill-opacity="0.8"/><circle cx="95.8" cy="608.4" r="0.8" fill="#dc7e3c" fill-opacity="0.8"/><circle cx="131.7" cy="625.7" r="0.8" fill="#dc7e3c" fill-opacity="0.8"/><circle cx="109.1" cy="612.4" r="0.7" fill="#dc7e3c" fill-opacity="0.8"/><circle cx="123.5" cy="478.4" r="0.7" fill="#dc7e3c" fill-opacity="0.8"/><circle cx="127.6" cy="621.4" r="0.7" fill="#dc7e3c" fill-opacity="0.8"/><circle cx="100.6" cy="614.3" r="0.7" fill="#dc7e3c" fill-opacity="0.8"/><circle cx="104.2" cy="621.1" r="0.7" fill="#dc7e3c" fill-opacity="0.8"/><circle cx="106.4" cy="610" r="0.8" fill="#dc7e3c" fill-opacity="0.8"/><circle cx="128.4" cy="585.5" r="0.7" fill="#dc7e3c" fill-opacity="0.8"/><circle cx="119.3" cy="637.7" r="0.6" fill="#dc7e3c" fill-opacity="0.8"/><circle cx="117.3" cy="557.8" r="0.7" fill="#dc7e3c" fill-opacity="0.8"/><circle cx="100.2" cy="495.4" r="0.5" fill="#dc7e3c" fill-opacity="0.8"/><circle cx="136.9" cy="623.4" r="0.7" fill="#dc7e3c" fill-opacity="0.8"/><circle cx="91" cy="636.1" r="0.7" fill="#dc7e3c" fill-opacity="0.8"/><circle cx="141.1" cy="571.8" r="0.7" fill="#dc7e3c" fill-opacity="0.8"/><circle cx="85.4" cy="545.5" r="0.5" fill="#dc7e3c" fill-opacity="0.8"/><circle cx="107.8" cy="620.1" r="0.7" fill="#dc7e3c" fill-opacity="0.8"/><circle cx="139.2" cy="513" r="0.6" fill="#dc7e3c" fill-opacity="0.8"/><circle cx="124.7" cy="465.2" r="0.6" fill="#dc7e3c" fill-opacity="0.8"/><circle cx="130.6" cy="601.8" r="0.7" fill="#dc7e3c" fill-opacity="0.8"/><circle cx="113.1" cy="490.7" r="0.5" fill="#dc7e3c" fill-opacity="0.8"/><circle cx="102" cy="595.8" r="0.6" fill="#dc7e3c" fill-opacity="0.8"/><circle cx="126.2" cy="611.4" r="0.6" fill="#dc7e3c" fill-opacity="0.8"/><circle cx="125.7" cy="505.3" r="0.6" fill="#dc7e3c" fill-opacity="0.8"/><circle cx="102.8" cy="624.5" r="0.5" fill="#dc7e3c" fill-opacity="0.8"/><circle cx="147.3" cy="580" r="0.8" fill="#dc7e3c" fill-opacity="0.8"/><circle cx="117.4" cy="479.6" r="0.6" fill="#dc7e3c" fill-opacity="0.8"/><circle cx="114.4" cy="638.2" r="0.5" fill="#dc7e3c" fill-opacity="0.8"/><circle cx="99.8" cy="611.6" r="0.5" fill="#dc7e3c" fill-opacity="0.8"/><circle cx="122.1" cy="578.6" r="0.8" fill="#dc7e3c" fill-opacity="0.8"/><circle cx="95.4" cy="589" r="0.5" fill="#dc7e3c" fill-opacity="0.8"/><circle cx="135.8" cy="491.8" r="0.5" fill="#dc7e3c" fill-opacity="0.8"/><circle cx="105.6" cy="636.9" r="0.7" fill="#dc7e3c" fill-opacity="0.8"/><circle cx="108.1" cy="638.2" r="0.5" fill="#dc7e3c" fill-opacity="0.8"/><circle cx="97.8" cy="632.1" r="0.8" fill="#dc7e3c" fill-opacity="0.8"/><circle cx="130.1" cy="636.1" r="0.5" fill="#dc7e3c" fill-opacity="0.8"/><circle cx="145.3" cy="586.5" r="0.7" fill="#dc7e3c" fill-opacity="0.8"/><circle cx="116" cy="557.9" r="0.6" fill="#dc7e3c" fill-opacity="0.8"/><circle cx="108" cy="593.6" r="0.7" fill="#dc7e3c" fill-opacity="0.8"/><circle cx="99.4" cy="562.9" r="0.5" fill="#dc7e3c" fill-opacity="0.8"/><circle cx="126" cy="521.3" r="0.6" fill="#dc7e3c" fill-opacity="0.8"/><circle cx="131.8" cy="629.9" r="0.5" fill="#dc7e3c" fill-opacity="0.8"/><circle cx="107" cy="636.7" r="0.5" fill="#dc7e3c" fill-opacity="0.8"/><circle cx="139.9" cy="591.4" r="0.8" fill="#dc7e3c" fill-opacity="0.8"/><circle cx="117.3" cy="466.5" r="0.6" fill="#dc7e3c" fill-opacity="0.8"/><circle cx="132.6" cy="530.1" r="0.5" fill="#dc7e3c" fill-opacity="0.8"/><circle cx="108.9" cy="542.9" r="0.6" fill="#dc7e3c" fill-opacity="0.8"/><circle cx="113.8" cy="483.7" r="0.5" fill="#dc7e3c" fill-opacity="0.8"/><circle cx="137" cy="591.5" r="0.6" fill="#dc7e3c" fill-opacity="0.8"/><circle cx="121.5" cy="620.9" r="0.6" fill="#dc7e3c" fill-opacity="0.8"/><circle cx="95.5" cy="570.3" r="0.7" fill="#dc7e3c" fill-opacity="0.8"/><circle cx="124.3" cy="590.2" r="0.5" fill="#dc7e3c" fill-opacity="0.8"/><circle cx="113.1" cy="603.9" r="0.5" fill="#dc7e3c" fill-opacity="0.8"/><circle cx="102.7" cy="537.8" r="0.6" fill="#dc7e3c" fill-opacity="0.8"/><circle cx="126.7" cy="489.8" r="0.6" fill="#dc7e3c" fill-opacity="0.8"/><circle cx="129.6" cy="557.5" r="0.8" fill="#dc7e3c" fill-opacity="0.8"/><circle cx="106.1" cy="556.3" r="0.6" fill="#dc7e3c" fill-opacity="0.8"/><circle cx="108.2" cy="615.1" r="0.5" fill="#dc7e3c" fill-opacity="0.8"/><circle cx="115.5" cy="480.6" r="0.8" fill="#dc7e3c" fill-opacity="0.8"/><circle cx="124" cy="637.8" r="0.5" fill="#dc7e3c" fill-opacity="0.8"/><circle cx="132" cy="567" r="0.5" fill="#dc7e3c" fill-opacity="0.8"/><circle cx="139.5" cy="617.2" r="0.5" fill="#dc7e3c" fill-opacity="0.8"/><circle cx="124.7" cy="557.4" r="0.5" fill="#dc7e3c" fill-opacity="0.8"/><circle cx="86.9" cy="545.1" r="0.8" fill="#dc7e3c" fill-opacity="0.8"/><circle cx="97.4" cy="544.5" r="0.5" fill="#dc7e3c" fill-opacity="0.8"/><circle cx="130.6" cy="632.7" r="0.8" fill="#dc7e3c" fill-opacity="0.8"/><circle cx="102.8" cy="534.5" r="0.5" fill="#dc7e3c" fill-opacity="0.8"/><circle cx="119.5" cy="613.5" r="0.7" fill="#dc7e3c" fill-opacity="0.8"/><circle cx="88" cy="537.4" r="0.5" fill="#dc7e3c" fill-opacity="0.8"/><circle cx="112.2" cy="624.2" r="0.5" fill="#dc7e3c" fill-opacity="0.8"/><circle cx="141.3" cy="631.9" r="0.7" fill="#dc7e3c" fill-opacity="0.8"/><circle cx="96.9" cy="625.2" r="0.8" fill="#dc7e3c" fill-opacity="0.8"/><circle cx="118.7" cy="535.8" r="0.5" fill="#dc7e3c" fill-opacity="0.8"/><circle cx="127.1" cy="579.9" r="0.7" fill="#dc7e3c" fill-opacity="0.8"/><circle cx="118.2" cy="558.4" r="0.7" fill="#dc7e3c" fill-opacity="0.8"/><circle cx="87.4" cy="538" r="0.5" fill="#dc7e3c" fill-opacity="0.8"/><circle cx="90.2" cy="596.9" r="0.6" fill="#dc7e3c" fill-opacity="0.8"/><circle cx="106.4" cy="509.2" r="0.7" fill="#dc7e3c" fill-opacity="0.8"/><circle cx="91.1" cy="575" r="0.5" fill="#dc7e3c" fill-opacity="0.8"/><circle cx="135.9" cy="557.7" r="0.6" fill="#dc7e3c" fill-opacity="0.8"/><circle cx="104" cy="524" r="0.7" fill="#dc7e3c" fill-opacity="0.8"/><circle cx="119.2" cy="556.1" r="0.5" fill="#dc7e3c" fill-opacity="0.8"/><circle cx="126.1" cy="489.9" r="0.6" fill="#dc7e3c" fill-opacity="0.8"/><circle cx="127.9" cy="557.5" r="0.7" fill="#dc7e3c" fill-opacity="0.8"/><circle cx="122.3" cy="494.1" r="0.8" fill="#dc7e3c" fill-opacity="0.8"/><circle cx="130.1" cy="590.3" r="0.8" fill="#dc7e3c" fill-opacity="0.8"/><circle cx="114.1" cy="519.2" r="0.6" fill="#dc7e3c" fill-opacity="0.8"/><circle cx="104.8" cy="513.3" r="0.6" fill="#dc7e3c" fill-opacity="0.8"/><circle cx="97.4" cy="546.6" r="0.6" fill="#dc7e3c" fill-opacity="0.8"/><circle cx="108.4" cy="579.1" r="0.6" fill="#dc7e3c" fill-opacity="0.8"/><circle cx="142.5" cy="603.3" r="0.6" fill="#dc7e3c" fill-opacity="0.8"/><circle cx="128.1" cy="559.6" r="0.5" fill="#dc7e3c" fill-opacity="0.8"/><circle cx="99.9" cy="634.1" r="0.6" fill="#dc7e3c" fill-opacity="0.8"/><circle cx="99.7" cy="538.9" r="0.7" fill="#dc7e3c" fill-opacity="0.8"/><circle cx="133.8" cy="559.9" r="0.8" fill="#dc7e3c" fill-opacity="0.8"/><circle cx="106.6" cy="522.2" r="0.7" fill="#dc7e3c" fill-opacity="0.8"/><circle cx="135.3" cy="562.7" r="0.6" fill="#dc7e3c" fill-opacity="0.8"/><circle cx="133.4" cy="530" r="0.5" fill="#dc7e3c" fill-opacity="0.8"/><circle cx="109.7" cy="497.1" r="0.5" fill="#dc7e3c" fill-opacity="0.8"/><circle cx="114.5" cy="592.5" r="0.7" fill="#dc7e3c" fill-opacity="0.8"/><circle cx="129.1" cy="619.9" r="0.6" fill="#dc7e3c" fill-opacity="0.8"/><circle cx="132" cy="537.8" r="0.7" fill="#dc7e3c" fill-opacity="0.8"/><circle cx="143.5" cy="563.2" r="0.7" fill="#dc7e3c" fill-opacity="0.8"/><circle cx="143.5" cy="572.9" r="0.7" fill="#dc7e3c" fill-opacity="0.8"/><circle cx="116" cy="617.7" r="0.6" fill="#dc7e3c" fill-opacity="0.8"/><circle cx="112.1" cy="534.6" r="0.7" fill="#dc7e3c" fill-opacity="0.8"/><circle cx="91.5" cy="615.7" r="0.5" fill="#dc7e3c" fill-opacity="0.8"/><circle cx="131.2" cy="597.2" r="0.6" fill="#dc7e3c" fill-opacity="0.8"/><circle cx="134.1" cy="509.8" r="0.5" fill="#dc7e3c" fill-opacity="0.8"/><circle cx="107.8" cy="507" r="0.7" fill="#dc7e3c" fill-opacity="0.8"/><circle cx="121.9" cy="578.6" r="0.8" fill="#dc7e3c" fill-opacity="0.8"/><circle cx="136.3" cy="602.3" r="0.8" fill="#dc7e3c" fill-opacity="0.8"/><circle cx="147" cy="593.2" r="0.6" fill="#dc7e3c" fill-opacity="0.8"/><circle cx="118" cy="595.8" r="0.7" fill="#dc7e3c" fill-opacity="0.8"/><circle cx="145" cy="593.4" r="0.7" fill="#dc7e3c" fill-opacity="0.8"/><circle cx="100.5" cy="571.5" r="0.5" fill="#dc7e3c" fill-opacity="0.8"/><circle cx="127.6" cy="490.9" r="0.5" fill="#dc7e3c" fill-opacity="0.8"/><circle cx="139.4" cy="598.6" r="0.5" fill="#dc7e3c" fill-opacity="0.8"/><circle cx="139.3" cy="610.8" r="0.7" fill="#dc7e3c" fill-opacity="0.8"/><circle cx="87.4" cy="538.8" r="0.7" fill="#dc7e3c" fill-opacity="0.8"/><circle cx="127" cy="499.7" r="0.7" fill="#dc7e3c" fill-opacity="0.8"/><circle cx="87.3" cy="570.1" r="0.5" fill="#dc7e3c" fill-opacity="0.8"/><circle cx="137.8" cy="498.8" r="0.5" fill="#dc7e3c" fill-opacity="0.8"/><circle cx="116.3" cy="522.2" r="0.7" fill="#dc7e3c" fill-opacity="0.8"/><circle cx="122.8" cy="587.1" r="0.8" fill="#dc7e3c" fill-opacity="0.8"/><circle cx="106.3" cy="573.9" r="0.5" fill="#dc7e3c" fill-opacity="0.8"/><circle cx="132" cy="617.8" r="0.6" fill="#dc7e3c" fill-opacity="0.8"/><circle cx="97.3" cy="503.9" r="0.6" fill="#dc7e3c" fill-opacity="0.8"/><circle cx="141.6" cy="574.7" r="0.8" fill="#dc7e3c" fill-opacity="0.8"/><circle cx="141.2" cy="590.3" r="0.7" fill="#dc7e3c" fill-opacity="0.8"/><circle cx="131.5" cy="536.5" r="0.7" fill="#dc7e3c" fill-opacity="0.8"/><circle cx="114.4" cy="615.4" r="0.6" fill="#dc7e3c" fill-opacity="0.8"/><circle cx="141.9" cy="525.3" r="0.6" fill="#dc7e3c" fill-opacity="0.8"/><circle cx="100" cy="574.9" r="0.5" fill="#dc7e3c" fill-opacity="0.8"/><circle cx="121.8" cy="618.5" r="0.6" fill="#dc7e3c" fill-opacity="0.8"/><circle cx="93.9" cy="599.9" r="0.8" fill="#dc7e3c" fill-opacity="0.8"/><circle cx="149.3" cy="584.2" r="0.6" fill="#dc7e3c" fill-opacity="0.8"/><circle cx="120.5" cy="576.8" r="0.7" fill="#dc7e3c" fill-opacity="0.8"/><circle cx="96" cy="619.1" r="0.6" fill="#dc7e3c" fill-opacity="0.8"/><circle cx="88.6" cy="542.4" r="0.5" fill="#dc7e3c" fill-opacity="0.8"/><circle cx="119.5" cy="509.4" r="0.7" fill="#dc7e3c" fill-opacity="0.8"/><circle cx="136" cy="493" r="0.7" fill="#dc7e3c" fill-opacity="0.8"/><circle cx="123.1" cy="507.8" r="0.8" fill="#dc7e3c" fill-opacity="0.8"/><circle cx="124.3" cy="488.4" r="0.6" fill="#dc7e3c" fill-opacity="0.8"/><circle cx="131.8" cy="493.5" r="0.8" fill="#dc7e3c" fill-opacity="0.8"/><circle cx="135.7" cy="519.4" r="0.5" fill="#dc7e3c" fill-opacity="0.8"/><circle cx="97.5" cy="590.9" r="0.6" fill="#dc7e3c" fill-opacity="0.8"/><circle cx="119.5" cy="482.1" r="0.5" fill="#dc7e3c" fill-opacity="0.8"/><circle cx="108.2" cy="552" r="0.7" fill="#dc7e3c" fill-opacity="0.8"/><circle cx="114" cy="518.4" r="0.8" fill="#dc7e3c" fill-opacity="0.8"/><circle cx="130.6" cy="595.8" r="0.7" fill="#dc7e3c" fill-opacity="0.8"/><circle cx="116.4" cy="506.1" r="0.5" fill="#dc7e3c" fill-opacity="0.8"/><circle cx="128.3" cy="594.5" r="0.8" fill="#dc7e3c" fill-opacity="0.8"/><circle cx="116.7" cy="633.6" r="0.5" fill="#dc7e3c" fill-opacity="0.8"/><circle cx="108.8" cy="557.7" r="0.7" fill="#dc7e3c" fill-opacity="0.8"/><circle cx="125.1" cy="487.7" r="0.6" fill="#dc7e3c" fill-opacity="0.8"/><circle cx="95.1" cy="528.5" r="0.5" fill="#dc7e3c" fill-opacity="0.8"/><circle cx="105" cy="572.5" r="0.6" fill="#dc7e3c" fill-opacity="0.8"/><circle cx="94.6" cy="543.9" r="0.7" fill="#dc7e3c" fill-opacity="0.8"/><circle cx="103.8" cy="508.2" r="0.6" fill="#dc7e3c" fill-opacity="0.8"/><circle cx="129.4" cy="469" r="0.8" fill="#dc7e3c" fill-opacity="0.8"/><circle cx="96.2" cy="608.2" r="0.5" fill="#dc7e3c" fill-opacity="0.8"/><circle cx="117" cy="505.5" r="0.7" fill="#dc7e3c" fill-opacity="0.8"/><circle cx="111.9" cy="526.5" r="0.6" fill="#dc7e3c" fill-opacity="0.8"/><circle cx="108.3" cy="563.4" r="0.6" fill="#dc7e3c" fill-opacity="0.8"/><circle cx="91.9" cy="544.3" r="0.8" fill="#dc7e3c" fill-opacity="0.8"/><circle cx="135.8" cy="589" r="0.8" fill="#dc7e3c" fill-opacity="0.8"/><circle cx="113.6" cy="524.6" r="0.7" fill="#dc7e3c" fill-opacity="0.8"/><circle cx="90.1" cy="597.7" r="0.5" fill="#dc7e3c" fill-opacity="0.8"/><circle cx="125.9" cy="552" r="0.7" fill="#dc7e3c" fill-opacity="0.8"/><circle cx="130.1" cy="509.7" r="0.7" fill="#dc7e3c" fill-opacity="0.8"/><circle cx="111" cy="549.4" r="0.8" fill="#dc7e3c" fill-opacity="0.8"/><circle cx="92.4" cy="532.8" r="0.7" fill="#dc7e3c" fill-opacity="0.8"/><circle cx="137.4" cy="559.6" r="0.8" fill="#dc7e3c" fill-opacity="0.8"/><circle cx="139.5" cy="617.9" r="0.7" fill="#dc7e3c" fill-opacity="0.8"/><circle cx="100.9" cy="591.9" r="0.7" fill="#dc7e3c" fill-opacity="0.8"/><circle cx="100.6" cy="529.1" r="0.5" fill="#dc7e3c" fill-opacity="0.8"/><circle cx="125.1" cy="536.4" r="0.5" fill="#dc7e3c" fill-opacity="0.8"/><circle cx="90" cy="562.9" r="0.5" fill="#dc7e3c" fill-opacity="0.8"/><circle cx="109.8" cy="599.9" r="0.6" fill="#dc7e3c" fill-opacity="0.8"/><circle cx="113.9" cy="618.5" r="0.5" fill="#dc7e3c" fill-opacity="0.8"/><circle cx="141.6" cy="552.2" r="0.5" fill="#dc7e3c" fill-opacity="0.8"/><circle cx="107.1" cy="509.4" r="0.7" fill="#dc7e3c" fill-opacity="0.8"/><circle cx="113.4" cy="552.8" r="0.7" fill="#dc7e3c" fill-opacity="0.8"/><circle cx="142.2" cy="585.4" r="0.6" fill="#dc7e3c" fill-opacity="0.8"/><circle cx="128.9" cy="584.3" r="0.8" fill="#dc7e3c" fill-opacity="0.8"/><circle cx="109.6" cy="555.3" r="0.7" fill="#dc7e3c" fill-opacity="0.8"/><circle cx="106.1" cy="518" r="0.7" fill="#dc7e3c" fill-opacity="0.8"/><circle cx="108.7" cy="612.4" r="0.6" fill="#dc7e3c" fill-opacity="0.8"/><circle cx="98.2" cy="569.4" r="0.7" fill="#dc7e3c" fill-opacity="0.8"/><circle cx="112" cy="540.2" r="0.7" fill="#dc7e3c" fill-opacity="0.8"/><circle cx="117.8" cy="565.4" r="0.6" fill="#dc7e3c" fill-opacity="0.8"/><circle cx="142.3" cy="620.5" r="0.7" fill="#dc7e3c" fill-opacity="0.8"/><circle cx="134.6" cy="619.7" r="0.5" fill="#dc7e3c" fill-opacity="0.8"/><circle cx="90" cy="548.6" r="0.5" fill="#dc7e3c" fill-opacity="0.8"/><circle cx="100.6" cy="568.7" r="0.5" fill="#dc7e3c" fill-opacity="0.8"/><circle cx="110.4" cy="525.4" r="0.8" fill="#dc7e3c" fill-opacity="0.8"/><circle cx="88.4" cy="551.3" r="0.6" fill="#dc7e3c" fill-opacity="0.8"/><circle cx="94.2" cy="521.7" r="0.6" fill="#dc7e3c" fill-opacity="0.8"/><circle cx="107.7" cy="559.8" r="0.6" fill="#dc7e3c" fill-opacity="0.8"/><circle cx="115.1" cy="538.7" r="0.7" fill="#dc7e3c" fill-opacity="0.8"/><circle cx="116.4" cy="481.7" r="0.7" fill="#dc7e3c" fill-opacity="0.8"/><circle cx="111.2" cy="613.4" r="0.5" fill="#dc7e3c" fill-opacity="0.8"/><circle cx="120.6" cy="513.2" r="0.7" fill="#dc7e3c" fill-opacity="0.8"/><circle cx="139.4" cy="576.6" r="0.7" fill="#dc7e3c" fill-opacity="0.8"/><circle cx="126.6" cy="482.5" r="0.5" fill="#dc7e3c" fill-opacity="0.8"/><circle cx="94" cy="557.3" r="0.5" fill="#dc7e3c" fill-opacity="0.8"/><circle cx="128.7" cy="621.9" r="0.7" fill="#dc7e3c" fill-opacity="0.8"/><circle cx="118.2" cy="513.1" r="0.6" fill="#dc7e3c" fill-opacity="0.8"/><circle cx="133.2" cy="591.3" r="0.5" fill="#dc7e3c" fill-opacity="0.8"/><circle cx="134" cy="607.9" r="0.5" fill="#dc7e3c" fill-opacity="0.8"/><circle cx="122.7" cy="617.6" r="0.5" fill="#dc7e3c" fill-opacity="0.8"/><circle cx="130.1" cy="520.4" r="0.7" fill="#dc7e3c" fill-opacity="0.8"/><circle cx="115.3" cy="486" r="0.8" fill="#dc7e3c" fill-opacity="0.8"/><circle cx="117.5" cy="636.7" r="0.7" fill="#dc7e3c" fill-opacity="0.8"/><circle cx="149.1" cy="577.5" r="0.5" fill="#dc7e3c" fill-opacity="0.8"/><circle cx="128.9" cy="602.2" r="0.7" fill="#dc7e3c" fill-opacity="0.8"/><circle cx="107.9" cy="586.7" r="0.7" fill="#dc7e3c" fill-opacity="0.8"/><circle cx="87.1" cy="556.5" r="0.8" fill="#dc7e3c" fill-opacity="0.8"/><circle cx="121.3" cy="601.4" r="0.5" fill="#dc7e3c" fill-opacity="0.8"/><circle cx="111.6" cy="550.6" r="0.6" fill="#dc7e3c" fill-opacity="0.8"/><circle cx="141.3" cy="547.8" r="0.6" fill="#dc7e3c" fill-opacity="0.8"/><circle cx="118.7" cy="581" r="0.7" fill="#dc7e3c" fill-opacity="0.8"/><circle cx="110.2" cy="510.7" r="0.8" fill="#dc7e3c" fill-opacity="0.8"/><circle cx="107.4" cy="588" r="0.5" fill="#dc7e3c" fill-opacity="0.8"/><circle cx="111.9" cy="525.7" r="0.8" fill="#dc7e3c" fill-opacity="0.8"/><circle cx="133.4" cy="506.5" r="0.5" fill="#dc7e3c" fill-opacity="0.8"/><circle cx="134.2" cy="539.8" r="0.5" fill="#dc7e3c" fill-opacity="0.8"/><circle cx="91" cy="589.5" r="0.7" fill="#dc7e3c" fill-opacity="0.8"/><circle cx="116.1" cy="485.2" r="0.6" fill="#dc7e3c" fill-opacity="0.8"/><circle cx="98.8" cy="500.6" r="0.6" fill="#dc7e3c" fill-opacity="0.8"/><circle cx="94.3" cy="602.8" r="0.5" fill="#dc7e3c" fill-opacity="0.8"/><circle cx="101.4" cy="595.7" r="0.5" fill="#dc7e3c" fill-opacity="0.8"/><circle cx="103.6" cy="600.8" r="0.6" fill="#dc7e3c" fill-opacity="0.8"/><circle cx="138.8" cy="616.2" r="0.8" fill="#dc7e3c" fill-opacity="0.8"/><circle cx="89" cy="530.1" r="0.6" fill="#dc7e3c" fill-opacity="0.8"/><circle cx="102.7" cy="616" r="0.6" fill="#dc7e3c" fill-opacity="0.8"/><circle cx="113.6" cy="572.7" r="0.7" fill="#dc7e3c" fill-opacity="0.8"/><circle cx="116.3" cy="621.8" r="0.6" fill="#dc7e3c" fill-opacity="0.8"/><circle cx="107.5" cy="493.9" r="0.5" fill="#dc7e3c" fill-opacity="0.8"/><circle cx="116.5" cy="591.4" r="0.5" fill="#dc7e3c" fill-opacity="0.8"/><circle cx="116.6" cy="537.4" r="0.8" fill="#dc7e3c" fill-opacity="0.8"/><circle cx="116.9" cy="605.4" r="0.5" fill="#dc7e3c" fill-opacity="0.8"/><circle cx="93.4" cy="573.9" r="0.6" fill="#dc7e3c" fill-opacity="0.8"/><circle cx="119.3" cy="571.7" r="0.6" fill="#dc7e3c" fill-opacity="0.8"/><circle cx="128.6" cy="530.8" r="0.7" fill="#dc7e3c" fill-opacity="0.8"/><circle cx="132.2" cy="515" r="0.7" fill="#dc7e3c" fill-opacity="0.8"/><circle cx="139.8" cy="638" r="0.5" fill="#dc7e3c" fill-opacity="0.8"/><circle cx="112.4" cy="488.7" r="0.5" fill="#dc7e3c" fill-opacity="0.8"/><circle cx="115.6" cy="599.8" r="0.5" fill="#dc7e3c" fill-opacity="0.8"/><circle cx="137.8" cy="611.7" r="0.8" fill="#dc7e3c" fill-opacity="0.8"/><circle cx="135.1" cy="496.9" r="0.7" fill="#dc7e3c" fill-opacity="0.8"/><circle cx="122.6" cy="508.5" r="0.7" fill="#dc7e3c" fill-opacity="0.8"/><circle cx="105.8" cy="611.1" r="0.8" fill="#dc7e3c" fill-opacity="0.8"/><circle cx="110.3" cy="483.4" r="0.7" fill="#dc7e3c" fill-opacity="0.8"/><circle cx="101" cy="529.9" r="0.7" fill="#dc7e3c" fill-opacity="0.8"/><circle cx="96.4" cy="516.2" r="0.5" fill="#dc7e3c" fill-opacity="0.8"/><circle cx="100.7" cy="594.1" r="0.7" fill="#dc7e3c" fill-opacity="0.8"/><circle cx="124.3" cy="621.6" r="0.5" fill="#dc7e3c" fill-opacity="0.8"/><circle cx="102.4" cy="573.9" r="0.6" fill="#dc7e3c" fill-opacity="0.8"/><circle cx="149.1" cy="591.6" r="0.7" fill="#dc7e3c" fill-opacity="0.8"/><circle cx="106.2" cy="538" r="0.7" fill="#dc7e3c" fill-opacity="0.8"/><circle cx="139.6" cy="573.2" r="0.7" fill="#dc7e3c" fill-opacity="0.8"/><circle cx="128.9" cy="599.8" r="0.5" fill="#dc7e3c" fill-opacity="0.8"/><circle cx="140.2" cy="555.6" r="0.6" fill="#dc7e3c" fill-opacity="0.8"/><circle cx="91.9" cy="568.8" r="0.5" fill="#dc7e3c" fill-opacity="0.8"/><circle cx="107.9" cy="557.9" r="0.5" fill="#dc7e3c" fill-opacity="0.8"/><circle cx="107" cy="608.8" r="0.5" fill="#dc7e3c" fill-opacity="0.8"/><circle cx="124.8" cy="593.1" r="0.5" fill="#dc7e3c" fill-opacity="0.8"/><circle cx="133.4" cy="496.8" r="0.6" fill="#dc7e3c" fill-opacity="0.8"/><circle cx="108.5" cy="627.3" r="0.7" fill="#dc7e3c" fill-opacity="0.8"/><circle cx="121.8" cy="542.4" r="0.6" fill="#dc7e3c" fill-opacity="0.8"/><circle cx="123" cy="634.5" r="0.5" fill="#dc7e3c" fill-opacity="0.8"/><circle cx="95.3" cy="639.7" r="0.7" fill="#dc7e3c" fill-opacity="0.8"/><circle cx="126.5" cy="543.9" r="0.5" fill="#dc7e3c" fill-opacity="0.8"/><circle cx="98.4" cy="604.2" r="0.5" fill="#dc7e3c" fill-opacity="0.8"/><circle cx="124.7" cy="547.4" r="0.5" fill="#dc7e3c" fill-opacity="0.8"/><circle cx="132.1" cy="502.1" r="0.6" fill="#dc7e3c" fill-opacity="0.8"/><circle cx="122.8" cy="596.6" r="0.5" fill="#dc7e3c" fill-opacity="0.8"/><circle cx="112.4" cy="595.7" r="0.7" fill="#dc7e3c" fill-opacity="0.8"/><circle cx="115.7" cy="574.9" r="0.7" fill="#dc7e3c" fill-opacity="0.8"/><circle cx="143.4" cy="554.9" r="0.5" fill="#dc7e3c" fill-opacity="0.8"/><circle cx="91.9" cy="579.5" r="0.7" fill="#dc7e3c" fill-opacity="0.8"/><circle cx="113.7" cy="585.2" r="0.5" fill="#dc7e3c" fill-opacity="0.8"/><circle cx="110.1" cy="527.9" r="0.7" fill="#dc7e3c" fill-opacity="0.8"/><circle cx="89.9" cy="525.8" r="0.8" fill="#dc7e3c" fill-opacity="0.8"/><circle cx="106.2" cy="545.2" r="0.8" fill="#dc7e3c" fill-opacity="0.8"/><circle cx="122.2" cy="536.5" r="0.8" fill="#dc7e3c" fill-opacity="0.8"/><circle cx="133.6" cy="621.5" r="0.7" fill="#dc7e3c" fill-opacity="0.8"/><circle cx="150.7" cy="582.7" r="0.7" fill="#dc7e3c" fill-opacity="0.8"/><circle cx="117.7" cy="581.8" r="0.8" fill="#dc7e3c" fill-opacity="0.8"/><circle cx="129.6" cy="548.1" r="0.6" fill="#dc7e3c" fill-opacity="0.8"/><circle cx="110" cy="631.4" r="0.7" fill="#dc7e3c" fill-opacity="0.8"/><circle cx="138" cy="579.7" r="0.5" fill="#dc7e3c" fill-opacity="0.8"/><circle cx="113.9" cy="522.3" r="0.8" fill="#dc7e3c" fill-opacity="0.8"/><circle cx="130.4" cy="525.2" r="0.6" fill="#dc7e3c" fill-opacity="0.8"/><circle cx="144.5" cy="554.6" r="0.7" fill="#dc7e3c" fill-opacity="0.8"/><circle cx="108" cy="536.2" r="0.7" fill="#dc7e3c" fill-opacity="0.8"/><circle cx="96.7" cy="581.3" r="0.7" fill="#dc7e3c" fill-opacity="0.8"/><circle cx="125.3" cy="638.9" r="0.7" fill="#dc7e3c" fill-opacity="0.8"/><circle cx="142.9" cy="554.2" r="0.5" fill="#dc7e3c" fill-opacity="0.8"/><circle cx="132.1" cy="511.8" r="0.7" fill="#dc7e3c" fill-opacity="0.8"/><circle cx="127.2" cy="551.5" r="0.6" fill="#dc7e3c" fill-opacity="0.8"/><circle cx="103.6" cy="639.8" r="0.6" fill="#dc7e3c" fill-opacity="0.8"/><circle cx="105" cy="637.4" r="0.5" fill="#dc7e3c" fill-opacity="0.8"/><circle cx="118.9" cy="614" r="0.6" fill="#dc7e3c" fill-opacity="0.8"/><circle cx="103.1" cy="497.5" r="0.5" fill="#dc7e3c" fill-opacity="0.8"/><circle cx="123.1" cy="560.7" r="0.5" fill="#dc7e3c" fill-opacity="0.8"/><circle cx="121.7" cy="549.8" r="0.7" fill="#dc7e3c" fill-opacity="0.8"/><circle cx="99.8" cy="500.1" r="0.8" fill="#dc7e3c" fill-opacity="0.8"/><circle cx="130.3" cy="596.1" r="0.6" fill="#dc7e3c" fill-opacity="0.8"/><circle cx="123.2" cy="527.7" r="0.7" fill="#dc7e3c" fill-opacity="0.8"/><circle cx="114.4" cy="585.9" r="0.6" fill="#dc7e3c" fill-opacity="0.8"/><circle cx="139.4" cy="551.2" r="0.7" fill="#dc7e3c" fill-opacity="0.8"/><circle cx="106.7" cy="619" r="0.7" fill="#dc7e3c" fill-opacity="0.8"/><circle cx="99.1" cy="599.9" r="0.5" fill="#dc7e3c" fill-opacity="0.8"/><circle cx="127.4" cy="600.2" r="0.7" fill="#dc7e3c" fill-opacity="0.8"/><circle cx="103" cy="522.7" r="0.5" fill="#dc7e3c" fill-opacity="0.8"/><circle cx="144.8" cy="566" r="0.7" fill="#dc7e3c" fill-opacity="0.8"/><circle cx="116.8" cy="537.3" r="0.8" fill="#dc7e3c" fill-opacity="0.8"/><circle cx="147.5" cy="593.3" r="0.7" fill="#dc7e3c" fill-opacity="0.8"/><circle cx="105" cy="601.5" r="0.7" fill="#dc7e3c" fill-opacity="0.8"/><circle cx="135.7" cy="588.4" r="0.6" fill="#dc7e3c" fill-opacity="0.8"/><circle cx="91.1" cy="599" r="0.8" fill="#dc7e3c" fill-opacity="0.8"/><circle cx="119.6" cy="516.6" r="0.7" fill="#dc7e3c" fill-opacity="0.8"/><circle cx="122.8" cy="545.7" r="0.7" fill="#dc7e3c" fill-opacity="0.8"/><circle cx="102.3" cy="549.1" r="0.5" fill="#dc7e3c" fill-opacity="0.8"/><circle cx="108.8" cy="550.6" r="0.8" fill="#dc7e3c" fill-opacity="0.8"/><circle cx="142.6" cy="625.7" r="0.6" fill="#dc7e3c" fill-opacity="0.8"/><circle cx="118.6" cy="618.4" r="0.6" fill="#dc7e3c" fill-opacity="0.8"/><circle cx="114" cy="537.4" r="0.5" fill="#dc7e3c" fill-opacity="0.8"/><circle cx="101.9" cy="525.4" r="0.5" fill="#dc7e3c" fill-opacity="0.8"/><circle cx="114.9" cy="600.1" r="0.8" fill="#dc7e3c" fill-opacity="0.8"/><circle cx="91.7" cy="524.9" r="0.8" fill="#dc7e3c" fill-opacity="0.8"/><circle cx="95.3" cy="611" r="0.6" fill="#dc7e3c" fill-opacity="0.8"/><circle cx="128.3" cy="626.4" r="0.5" fill="#dc7e3c" fill-opacity="0.8"/><circle cx="103.4" cy="562.1" r="0.5" fill="#dc7e3c" fill-opacity="0.8"/><circle cx="117.9" cy="563.3" r="0.6" fill="#dc7e3c" fill-opacity="0.8"/><circle cx="134" cy="579.7" r="0.7" fill="#dc7e3c" fill-opacity="0.8"/><circle cx="95.3" cy="510.3" r="0.5" fill="#dc7e3c" fill-opacity="0.8"/><circle cx="141.6" cy="628.1" r="0.7" fill="#dc7e3c" fill-opacity="0.8"/><circle cx="141.2" cy="583" r="0.5" fill="#dc7e3c" fill-opacity="0.8"/><circle cx="105.6" cy="505.8" r="0.6" fill="#dc7e3c" fill-opacity="0.8"/><circle cx="121.8" cy="625.1" r="0.5" fill="#dc7e3c" fill-opacity="0.8"/><circle cx="137.1" cy="516.2" r="0.6" fill="#dc7e3c" fill-opacity="0.8"/><circle cx="125.5" cy="467.8" r="0.7" fill="#dc7e3c" fill-opacity="0.8"/><circle cx="128.5" cy="506.1" r="0.5" fill="#dc7e3c" fill-opacity="0.8"/><circle cx="124.7" cy="506.1" r="0.5" fill="#dc7e3c" fill-opacity="0.8"/><circle cx="99.6" cy="562.4" r="0.6" fill="#dc7e3c" fill-opacity="0.8"/><circle cx="109.4" cy="480.3" r="0.5" fill="#dc7e3c" fill-opacity="0.8"/><circle cx="125.3" cy="531.4" r="0.5" fill="#dc7e3c" fill-opacity="0.8"/><circle cx="139.3" cy="558" r="0.6" fill="#dc7e3c" fill-opacity="0.8"/><circle cx="93.5" cy="545.7" r="0.5" fill="#dc7e3c" fill-opacity="0.8"/><circle cx="141.3" cy="600.1" r="0.5" fill="#dc7e3c" fill-opacity="0.8"/><circle cx="92.5" cy="580.9" r="0.6" fill="#dc7e3c" fill-opacity="0.8"/><circle cx="104.5" cy="547.4" r="0.5" fill="#dc7e3c" fill-opacity="0.8"/><circle cx="115.3" cy="561.7" r="0.8" fill="#dc7e3c" fill-opacity="0.8"/><circle cx="125.2" cy="563.3" r="0.5" fill="#dc7e3c" fill-opacity="0.8"/><circle cx="117.8" cy="560.8" r="0.7" fill="#dc7e3c" fill-opacity="0.8"/><circle cx="104.6" cy="629.7" r="0.7" fill="#dc7e3c" fill-opacity="0.8"/><circle cx="132.7" cy="635.9" r="0.8" fill="#dc7e3c" fill-opacity="0.8"/><circle cx="91.9" cy="621.6" r="0.6" fill="#dc7e3c" fill-opacity="0.8"/><circle cx="124.6" cy="462.8" r="0.5" fill="#dc7e3c" fill-opacity="0.8"/><circle cx="137.9" cy="525.4" r="0.8" fill="#dc7e3c" fill-opacity="0.8"/><circle cx="123.6" cy="566.7" r="0.6" fill="#dc7e3c" fill-opacity="0.8"/><circle cx="138.9" cy="637.5" r="0.6" fill="#dc7e3c" fill-opacity="0.8"/><circle cx="111.6" cy="530" r="0.5" fill="#dc7e3c" fill-opacity="0.8"/><circle cx="134.3" cy="491.7" r="0.7" fill="#dc7e3c" fill-opacity="0.8"/><circle cx="107.5" cy="484.9" r="0.5" fill="#dc7e3c" fill-opacity="0.8"/><circle cx="111" cy="599.2" r="0.7" fill="#dc7e3c" fill-opacity="0.8"/><circle cx="90.2" cy="579.6" r="0.5" fill="#dc7e3c" fill-opacity="0.8"/><circle cx="115.6" cy="520.1" r="0.5" fill="#dc7e3c" fill-opacity="0.8"/><circle cx="139.5" cy="534.4" r="0.6" fill="#dc7e3c" fill-opacity="0.8"/><circle cx="105.1" cy="491.5" r="0.6" fill="#dc7e3c" fill-opacity="0.8"/><circle cx="100.7" cy="593.2" r="0.7" fill="#dc7e3c" fill-opacity="0.8"/><circle cx="136.4" cy="512.4" r="0.6" fill="#dc7e3c" fill-opacity="0.8"/><circle cx="122.9" cy="468.4" r="0.7" fill="#dc7e3c" fill-opacity="0.8"/><circle cx="113.5" cy="498.3" r="0.6" fill="#dc7e3c" fill-opacity="0.8"/><circle cx="96.8" cy="522.8" r="0.6" fill="#dc7e3c" fill-opacity="0.8"/><circle cx="113" cy="520.4" r="0.5" fill="#dc7e3c" fill-opacity="0.8"/><circle cx="140.4" cy="555" r="0.6" fill="#dc7e3c" fill-opacity="0.8"/><circle cx="126.3" cy="477" r="0.6" fill="#dc7e3c" fill-opacity="0.8"/><circle cx="107.5" cy="546.3" r="0.8" fill="#dc7e3c" fill-opacity="0.8"/><circle cx="113.7" cy="532.9" r="0.7" fill="#dc7e3c" fill-opacity="0.8"/><circle cx="136.3" cy="516.8" r="0.7" fill="#dc7e3c" fill-opacity="0.8"/><circle cx="110" cy="499.2" r="0.6" fill="#dc7e3c" fill-opacity="0.8"/><circle cx="133.7" cy="540.6" r="0.7" fill="#dc7e3c" fill-opacity="0.8"/><circle cx="103.9" cy="493.2" r="0.7" fill="#dc7e3c" fill-opacity="0.8"/><circle cx="121.3" cy="498.4" r="0.6" fill="#dc7e3c" fill-opacity="0.8"/><circle cx="143.5" cy="555.7" r="0.5" fill="#dc7e3c" fill-opacity="0.8"/><circle cx="102" cy="530.3" r="0.7" fill="#dc7e3c" fill-opacity="0.8"/><circle cx="137.4" cy="611.7" r="0.5" fill="#dc7e3c" fill-opacity="0.8"/><circle cx="123" cy="599" r="0.5" fill="#dc7e3c" fill-opacity="0.8"/><circle cx="138.7" cy="502.8" r="0.7" fill="#dc7e3c" fill-opacity="0.8"/><circle cx="117.4" cy="555.8" r="0.7" fill="#dc7e3c" fill-opacity="0.8"/><circle cx="149.5" cy="572.8" r="0.8" fill="#dc7e3c" fill-opacity="0.8"/><circle cx="98.8" cy="517" r="0.7" fill="#dc7e3c" fill-opacity="0.8"/><circle cx="136.6" cy="551.5" r="0.5" fill="#dc7e3c" fill-opacity="0.8"/><circle cx="113.6" cy="598.2" r="0.8" fill="#dc7e3c" fill-opacity="0.8"/><circle cx="89.2" cy="530" r="0.8" fill="#dc7e3c" fill-opacity="0.8"/><circle cx="133.6" cy="570.7" r="0.5" fill="#dc7e3c" fill-opacity="0.8"/><circle cx="117.1" cy="534.7" r="0.6" fill="#dc7e3c" fill-opacity="0.8"/><circle cx="117" cy="475.4" r="0.7" fill="#dc7e3c" fill-opacity="0.8"/><circle cx="113.3" cy="493.3" r="0.7" fill="#dc7e3c" fill-opacity="0.8"/><circle cx="105.3" cy="482" r="0.7" fill="#dc7e3c" fill-opacity="0.8"/><circle cx="122.3" cy="507" r="0.8" fill="#dc7e3c" fill-opacity="0.8"/><circle cx="123.1" cy="461.5" r="0.7" fill="#dc7e3c" fill-opacity="0.8"/><circle cx="122.2" cy="578.5" r="0.8" fill="#dc7e3c" fill-opacity="0.8"/><circle cx="120.8" cy="477.5" r="0.7" fill="#dc7e3c" fill-opacity="0.8"/><circle cx="112.4" cy="577.3" r="0.5" fill="#dc7e3c" fill-opacity="0.8"/><circle cx="117" cy="538" r="0.5" fill="#dc7e3c" fill-opacity="0.8"/><circle cx="128.5" cy="636.3" r="0.7" fill="#dc7e3c" fill-opacity="0.8"/><circle cx="127.1" cy="564.5" r="0.6" fill="#dc7e3c" fill-opacity="0.8"/><circle cx="138.3" cy="533.6" r="0.5" fill="#dc7e3c" fill-opacity="0.8"/><circle cx="126.7" cy="613.2" r="0.6" fill="#dc7e3c" fill-opacity="0.8"/><circle cx="126.3" cy="485.9" r="0.8" fill="#dc7e3c" fill-opacity="0.8"/><circle cx="127.3" cy="627.1" r="0.6" fill="#dc7e3c" fill-opacity="0.8"/><circle cx="117.5" cy="520.9" r="0.5" fill="#dc7e3c" fill-opacity="0.8"/><circle cx="98.3" cy="606.9" r="0.6" fill="#dc7e3c" fill-opacity="0.8"/><circle cx="119.7" cy="575.3" r="0.6" fill="#dc7e3c" fill-opacity="0.8"/><circle cx="135.4" cy="590" r="0.5" fill="#dc7e3c" fill-opacity="0.8"/><circle cx="127.1" cy="463.9" r="0.6" fill="#dc7e3c" fill-opacity="0.8"/><circle cx="103.9" cy="627.8" r="0.5" fill="#dc7e3c" fill-opacity="0.8"/><circle cx="131.4" cy="597.4" r="0.5" fill="#dc7e3c" fill-opacity="0.8"/><circle cx="100.8" cy="556.2" r="0.8" fill="#dc7e3c" fill-opacity="0.8"/><circle cx="94.4" cy="542.6" r="0.8" fill="#dc7e3c" fill-opacity="0.8"/><circle cx="94.9" cy="610" r="0.7" fill="#dc7e3c" fill-opacity="0.8"/><circle cx="137.8" cy="521" r="0.7" fill="#dc7e3c" fill-opacity="0.8"/><circle cx="120.4" cy="474.3" r="0.7" fill="#dc7e3c" fill-opacity="0.8"/><circle cx="127.2" cy="481.1" r="0.8" fill="#dc7e3c" fill-opacity="0.8"/><circle cx="127.9" cy="575.6" r="0.5" fill="#dc7e3c" fill-opacity="0.8"/><circle cx="139.9" cy="585.5" r="0.6" fill="#dc7e3c" fill-opacity="0.8"/><circle cx="98.2" cy="601.8" r="0.7" fill="#dc7e3c" fill-opacity="0.8"/><circle cx="108.6" cy="540.2" r="0.5" fill="#dc7e3c" fill-opacity="0.8"/><circle cx="118" cy="619.1" r="0.6" fill="#dc7e3c" fill-opacity="0.8"/><circle cx="109.7" cy="584.2" r="0.8" fill="#dc7e3c" fill-opacity="0.8"/><circle cx="95.7" cy="560.4" r="0.8" fill="#dc7e3c" fill-opacity="0.8"/><circle cx="121.1" cy="501.8" r="0.5" fill="#dc7e3c" fill-opacity="0.8"/><circle cx="131.6" cy="562.7" r="0.5" fill="#dc7e3c" fill-opacity="0.8"/><circle cx="121" cy="538.5" r="0.6" fill="#dc7e3c" fill-opacity="0.8"/><circle cx="99.9" cy="565.9" r="0.7" fill="#dc7e3c" fill-opacity="0.8"/><circle cx="108.8" cy="542.2" r="0.7" fill="#dc7e3c" fill-opacity="0.8"/><circle cx="108.2" cy="599.1" r="0.5" fill="#dc7e3c" fill-opacity="0.8"/><circle cx="101.2" cy="563.4" r="0.5" fill="#dc7e3c" fill-opacity="0.8"/><circle cx="121.7" cy="576.9" r="0.7" fill="#dc7e3c" fill-opacity="0.8"/><circle cx="105.2" cy="623.1" r="0.8" fill="#dc7e3c" fill-opacity="0.8"/><circle cx="132.8" cy="585.1" r="0.7" fill="#dc7e3c" fill-opacity="0.8"/><circle cx="90.5" cy="588.3" r="0.5" fill="#dc7e3c" fill-opacity="0.8"/>
<polyline points="119,460 124,459 128,463 133,478 137,492 140,500 142.2,521.6 145.4,554 151.9,582.2 149.7,590.8 145.4,608 142.2,629.7 141,640" fill="none" stroke="#eca060" stroke-width="1" opacity="0.6"/>
<polyline points="89.7,589 83,545 90,522 98,500 107,477 119,460" fill="none" stroke="#eca060" stroke-width="1" opacity="0.5"/>
<polygon points="82.8,544 86,562 89.5,589 91,640 55.2,640 63,610 72,580 78,558" fill="#da863a"/>
<circle cx="83.6" cy="622.9" r="1.1" fill="#f8cc70" fill-opacity="0.9"/><circle cx="78.9" cy="589.1" r="1.3" fill="#f8cc70" fill-opacity="0.9"/><circle cx="68.6" cy="617.9" r="1" fill="#f8cc70" fill-opacity="0.9"/><circle cx="83.9" cy="614.1" r="1.1" fill="#f8cc70" fill-opacity="0.9"/><circle cx="74.5" cy="609.5" r="1" fill="#f8cc70" fill-opacity="0.9"/><circle cx="75" cy="621.3" r="1" fill="#f8cc70" fill-opacity="0.9"/><circle cx="84" cy="609.8" r="1.3" fill="#f8cc70" fill-opacity="0.9"/><circle cx="83.9" cy="621.3" r="1.1" fill="#f8cc70" fill-opacity="0.9"/><circle cx="77.9" cy="572" r="1.4" fill="#f8cc70" fill-opacity="0.9"/><circle cx="78.7" cy="578.6" r="1.4" fill="#f8cc70" fill-opacity="0.9"/><circle cx="87.8" cy="593.4" r="1.2" fill="#f8cc70" fill-opacity="0.9"/><circle cx="80.2" cy="621.3" r="1.4" fill="#f8cc70" fill-opacity="0.9"/><circle cx="76.7" cy="573.2" r="1.2" fill="#f8cc70" fill-opacity="0.9"/><circle cx="58.4" cy="628.5" r="1.2" fill="#f8cc70" fill-opacity="0.9"/><circle cx="62.7" cy="627.1" r="1.2" fill="#f8cc70" fill-opacity="0.9"/><circle cx="87.6" cy="603.5" r="1.1" fill="#f8cc70" fill-opacity="0.9"/><circle cx="59.7" cy="640" r="0.9" fill="#f8cc70" fill-opacity="0.9"/><circle cx="70.3" cy="615.6" r="1.1" fill="#f8cc70" fill-opacity="0.9"/><circle cx="90.3" cy="629.7" r="1.2" fill="#f8cc70" fill-opacity="0.9"/><circle cx="87" cy="586.9" r="1.3" fill="#f8cc70" fill-opacity="0.9"/><circle cx="83.7" cy="593.6" r="1.1" fill="#f8cc70" fill-opacity="0.9"/><circle cx="80.5" cy="583.3" r="0.9" fill="#f8cc70" fill-opacity="0.9"/><circle cx="81.9" cy="569.5" r="1.1" fill="#f8cc70" fill-opacity="0.9"/><circle cx="83.3" cy="560.5" r="0.9" fill="#f8cc70" fill-opacity="0.9"/><circle cx="71.4" cy="633" r="1" fill="#f8cc70" fill-opacity="0.9"/><circle cx="69.9" cy="628.4" r="1.2" fill="#f8cc70" fill-opacity="0.9"/><circle cx="84" cy="575" r="1.2" fill="#f8cc70" fill-opacity="0.9"/><circle cx="90" cy="632.6" r="1.1" fill="#f8cc70" fill-opacity="0.9"/><circle cx="76.8" cy="574.7" r="1.1" fill="#f8cc70" fill-opacity="0.9"/><circle cx="72.7" cy="620.2" r="1.4" fill="#f8cc70" fill-opacity="0.9"/><circle cx="68.2" cy="634.1" r="1.3" fill="#f8cc70" fill-opacity="0.9"/><circle cx="89.1" cy="602.9" r="1.1" fill="#f8cc70" fill-opacity="0.9"/><circle cx="83.2" cy="622.1" r="1.1" fill="#f8cc70" fill-opacity="0.9"/><circle cx="77.6" cy="602.2" r="1" fill="#f8cc70" fill-opacity="0.9"/><circle cx="71.8" cy="630.4" r="1.2" fill="#f8cc70" fill-opacity="0.9"/><circle cx="80.3" cy="556.2" r="1.3" fill="#f8cc70" fill-opacity="0.9"/><circle cx="87.8" cy="631.1" r="1.3" fill="#f8cc70" fill-opacity="0.9"/><circle cx="71.4" cy="610.6" r="1.3" fill="#f8cc70" fill-opacity="0.9"/><circle cx="60.1" cy="634.6" r="1.4" fill="#f8cc70" fill-opacity="0.9"/><circle cx="71" cy="618.7" r="1.1" fill="#f8cc70" fill-opacity="0.9"/><circle cx="65.1" cy="612.4" r="0.9" fill="#f8cc70" fill-opacity="0.9"/><circle cx="83.8" cy="637.9" r="1" fill="#f8cc70" fill-opacity="0.9"/><circle cx="85.9" cy="570.9" r="1.4" fill="#f8cc70" fill-opacity="0.9"/><circle cx="70.6" cy="632.5" r="0.9" fill="#f8cc70" fill-opacity="0.9"/><circle cx="78.1" cy="595.4" r="0.9" fill="#f8cc70" fill-opacity="0.9"/><circle cx="57.1" cy="639.3" r="1.3" fill="#f8cc70" fill-opacity="0.9"/><circle cx="89.2" cy="611.3" r="1.1" fill="#f8cc70" fill-opacity="0.9"/><circle cx="71.8" cy="591.5" r="0.9" fill="#f8cc70" fill-opacity="0.9"/><circle cx="87.8" cy="584.2" r="1" fill="#f8cc70" fill-opacity="0.9"/><circle cx="75.7" cy="619.5" r="1.2" fill="#f8cc70" fill-opacity="0.9"/><circle cx="69.4" cy="639.8" r="1.2" fill="#f8cc70" fill-opacity="0.9"/><circle cx="78.9" cy="612.8" r="1.2" fill="#f8cc70" fill-opacity="0.9"/><circle cx="84" cy="579.7" r="1.2" fill="#f8cc70" fill-opacity="0.9"/><circle cx="77.6" cy="580.9" r="0.9" fill="#f8cc70" fill-opacity="0.9"/><circle cx="83.4" cy="565.7" r="1.2" fill="#f8cc70" fill-opacity="0.9"/><circle cx="72.1" cy="613.5" r="1.3" fill="#f8cc70" fill-opacity="0.9"/><circle cx="88.1" cy="616" r="1.2" fill="#f8cc70" fill-opacity="0.9"/><circle cx="81.3" cy="606.5" r="1" fill="#f8cc70" fill-opacity="0.9"/><circle cx="86" cy="618.8" r="1.3" fill="#f8cc70" fill-opacity="0.9"/><circle cx="64.3" cy="619.9" r="1.3" fill="#f8cc70" fill-opacity="0.9"/><circle cx="79.7" cy="618.6" r="0.9" fill="#f8cc70" fill-opacity="0.9"/><circle cx="88.2" cy="635" r="1.1" fill="#f8cc70" fill-opacity="0.9"/><circle cx="76.3" cy="570.2" r="1" fill="#f8cc70" fill-opacity="0.9"/><circle cx="76.5" cy="598.1" r="1.2" fill="#f8cc70" fill-opacity="0.9"/><circle cx="60.1" cy="629.3" r="1" fill="#f8cc70" fill-opacity="0.9"/><circle cx="71.3" cy="621.6" r="1.2" fill="#f8cc70" fill-opacity="0.9"/><circle cx="89.1" cy="621.7" r="1.2" fill="#f8cc70" fill-opacity="0.9"/><circle cx="72.2" cy="626.7" r="1.2" fill="#f8cc70" fill-opacity="0.9"/><circle cx="80.1" cy="621.9" r="1.1" fill="#f8cc70" fill-opacity="0.9"/><circle cx="85.3" cy="630.3" r="1" fill="#f8cc70" fill-opacity="0.9"/><circle cx="88.1" cy="627.5" r="1.3" fill="#f8cc70" fill-opacity="0.9"/><circle cx="85.8" cy="578.8" r="0.9" fill="#f8cc70" fill-opacity="0.9"/><circle cx="77.5" cy="617.8" r="1.4" fill="#f8cc70" fill-opacity="0.9"/><circle cx="59.7" cy="631.4" r="1.3" fill="#f8cc70" fill-opacity="0.9"/><circle cx="73.8" cy="635.6" r="1.2" fill="#f8cc70" fill-opacity="0.9"/><circle cx="83" cy="590.9" r="1.1" fill="#f8cc70" fill-opacity="0.9"/><circle cx="76.4" cy="627.3" r="1.2" fill="#f8cc70" fill-opacity="0.9"/><circle cx="83.8" cy="550.4" r="1" fill="#f8cc70" fill-opacity="0.9"/><circle cx="81" cy="558.9" r="1.2" fill="#f8cc70" fill-opacity="0.9"/><circle cx="83.1" cy="552.3" r="1.4" fill="#f8cc70" fill-opacity="0.9"/><circle cx="79" cy="556" r="1.1" fill="#f8cc70" fill-opacity="0.9"/><circle cx="86" cy="614.9" r="1.1" fill="#f8cc70" fill-opacity="0.9"/><circle cx="71.5" cy="621.2" r="1.2" fill="#f8cc70" fill-opacity="0.9"/><circle cx="81.5" cy="637.2" r="1.2" fill="#f8cc70" fill-opacity="0.9"/><circle cx="56.3" cy="639.4" r="1.1" fill="#f8cc70" fill-opacity="0.9"/><circle cx="81" cy="580.9" r="1.2" fill="#f8cc70" fill-opacity="0.9"/><circle cx="68.6" cy="623.9" r="1" fill="#f8cc70" fill-opacity="0.9"/><circle cx="79.1" cy="589" r="1.1" fill="#f8cc70" fill-opacity="0.9"/><circle cx="90.8" cy="637.1" r="1.2" fill="#f8cc70" fill-opacity="0.9"/><circle cx="83.6" cy="639" r="1.3" fill="#f8cc70" fill-opacity="0.9"/><circle cx="74.6" cy="577.2" r="1.2" fill="#f8cc70" fill-opacity="0.9"/><circle cx="86.8" cy="587.5" r="1.4" fill="#f8cc70" fill-opacity="0.9"/><circle cx="81.9" cy="607.5" r="1.2" fill="#f8cc70" fill-opacity="0.9"/><circle cx="72.9" cy="595.5" r="1" fill="#f8cc70" fill-opacity="0.9"/><circle cx="81.2" cy="611.4" r="1.3" fill="#f8cc70" fill-opacity="0.9"/><circle cx="63" cy="613.9" r="1.2" fill="#f8cc70" fill-opacity="0.9"/><circle cx="58.4" cy="628" r="1.1" fill="#f8cc70" fill-opacity="0.9"/><circle cx="69" cy="596.5" r="1.1" fill="#f8cc70" fill-opacity="0.9"/><circle cx="70.6" cy="600.1" r="1.2" fill="#f8cc70" fill-opacity="0.9"/><circle cx="77" cy="569.8" r="1.2" fill="#f8cc70" fill-opacity="0.9"/><circle cx="78.3" cy="624.3" r="1" fill="#f8cc70" fill-opacity="0.9"/><circle cx="64.7" cy="637.1" r="1.1" fill="#f8cc70" fill-opacity="0.9"/><circle cx="65.1" cy="606.4" r="1.1" fill="#f8cc70" fill-opacity="0.9"/><circle cx="78.9" cy="592.7" r="0.9" fill="#f8cc70" fill-opacity="0.9"/><circle cx="69.1" cy="600.9" r="1.3" fill="#f8cc70" fill-opacity="0.9"/><circle cx="80.9" cy="615.1" r="1" fill="#f8cc70" fill-opacity="0.9"/><circle cx="72.9" cy="613.8" r="1.3" fill="#f8cc70" fill-opacity="0.9"/><circle cx="83.3" cy="605.5" r="1.3" fill="#f8cc70" fill-opacity="0.9"/><circle cx="83.6" cy="557" r="1" fill="#f8cc70" fill-opacity="0.9"/><circle cx="69.5" cy="590.9" r="0.9" fill="#f8cc70" fill-opacity="0.9"/>
</g>
<polyline points="82.8,544 78,558 72,580 63,610 56,638" fill="none" stroke="#f6c890" stroke-width="0.8" opacity="0.7"/>
<line x1="77" y1="494" x2="162" y2="494" stroke="#f0d8c8" stroke-width="0.6" opacity="0.7"/>
<polyline points="77,494 90,492.5 98,492 100.5,489 102,457 103.3,478 104,481 106,480 108,481.5 110,480 112,481 115,480.5 118,481.5 120,481 123,482 125,481.5 128,483 130,483.5 133,484.5 136,485 138,484 140,484 144,483 147,482 150,481.5 153,482.5 156,481 159,482 162,483" fill="none" stroke="#f6ece4" stroke-width="0.9" stroke-linejoin="round" />
<line x1="38.6" y1="629.7" x2="122.5" y2="629.7" stroke="#f0d8c8" stroke-width="0.6" opacity="0.6"/>
<polyline points="38.6,629.7 55,629.3 60.4,629 61.3,536 62.6,560 63.6,590 65.4,594.4 70,594 74,595 77.2,594.4 80,595.5 84,596 87,597.5 90.6,597.8 94,598.5 100,599 104,600.5 110.7,601 113,600 116,600.5 119,599.5 122.5,599.5" fill="none" stroke="#f6ece4" stroke-width="0.9" stroke-linejoin="round" />
<line x1="33" y1="563" x2="37.3" y2="623.5" stroke="#f8f0e0" stroke-width="0.9" stroke-dasharray="2 1" opacity="0.9"/>
<line x1="107" y1="465.4" x2="122" y2="465.4" stroke="#40c040" stroke-width="1.6"/>
<line x1="66.3" y1="578" x2="82.8" y2="578" stroke="#40c040" stroke-width="1.6"/>
<text x="152" y="493" font-family="Liberation Sans" font-size="10" letter-spacing="1.2" fill="#fbf1e8">4.5 nm</text>
<text x="85.4" y="625.2" font-family="Liberation Sans" font-size="11" letter-spacing="0.3" fill="#fbf1e8">12.3 nM</text>
<text x="146.2" y="631.2" font-family="Liberation Sans" font-size="11" letter-spacing="1" fill="#fbf1e8">10 μM</text>
<rect x="138" y="634.3" width="54.5" height="1.6" fill="#fff"/>
<text x="9.3" y="471.3" font-family="Liberation Serif" font-size="18.6" fill="#f6e2d2">(d)</text>
</g>
<rect x="196.8" y="453.4" width="6.6" height="185.6" fill="none" stroke="#ddd" stroke-width="0.8"/>
<rect x="197.6" y="454" width="5.1" height="184.6" fill="url(#cbar)"/>
<text x="203.6" y="457.1" font-family="Liberation Sans" font-weight="bold" font-size="5" fill="#444">30.0 nm</text>
<text x="203.6" y="485.6" font-family="Liberation Sans" font-weight="bold" font-size="5" fill="#444">30.0</text>
<text x="203.6" y="510.5" font-family="Liberation Sans" font-weight="bold" font-size="5" fill="#444">25.0</text>
<text x="203.6" y="538.4" font-family="Liberation Sans" font-weight="bold" font-size="5" fill="#444">20.0</text>
<text x="203.6" y="563.4" font-family="Liberation Sans" font-weight="bold" font-size="5" fill="#444">15.0</text>
<text x="203.6" y="589.2" font-family="Liberation Sans" font-weight="bold" font-size="5" fill="#444">10.0</text>
<text x="203.6" y="616.3" font-family="Liberation Sans" font-weight="bold" font-size="5" fill="#444">5.0</text>
<text x="203.6" y="637.4" font-family="Liberation Sans" font-weight="bold" font-size="5" fill="#444">0.0</text>
<clipPath id="clipe"><rect x="221.6" y="453.4" width="185.6" height="185.2"/></clipPath>
<linearGradient id="ebg" x1="0" y1="0" x2="1" y2="0"><stop offset="0" stop-color="#b8481c"/><stop offset="0.1" stop-color="#c0521e"/><stop offset="0.17" stop-color="#c86428"/><stop offset="0.3" stop-color="#d4803a"/><stop offset="0.4" stop-color="#d27836"/><stop offset="0.55" stop-color="#c86428"/><stop offset="0.8" stop-color="#be521e"/><stop offset="1" stop-color="#b4461a"/></linearGradient>
<g clip-path="url(#clipe)"><g filter="url(#afmNoise2)">
<rect x="219.6" y="451.4" width="189.6" height="189.2" fill="url(#ebg)"/>
<ellipse cx="395" cy="470" rx="25" ry="30" fill="#a83c14" opacity="0.5" filter="url(#blur6)"/>
<ellipse cx="300" cy="575" rx="9" ry="28" fill="#9a2c0a" opacity="0.75" filter="url(#blur6)"/>
<rect x="221" y="545" width="80" height="95" fill="#c05020" opacity="0.5" filter="url(#blur6)"/>
<polygon points="260.9,533.9 265,548 271.1,566.4 282.2,612.8 287.8,640 241.4,640 248.8,590.5 255,560" fill="#d27636"/>
<linearGradient id="ebfl" x1="0" y1="0" x2="0" y2="1"><stop offset="0" stop-color="#da8038"/><stop offset="0.45" stop-color="#d07230"/><stop offset="1" stop-color="#ca6a2c"/></linearGradient>
<polygon points="353.7,459.4 356.6,458.8 366.7,479 376.8,510.8 384,545.4 388.3,568.6 378.2,597.4 366.7,626.3 362.3,640 330,640 319,545.4 326.2,519.4 337.8,487.7 347.9,464.6" fill="url(#ebfl)"/>
<line x1="344" y1="505" x2="346" y2="640" stroke="#c05a24" stroke-width="1.5" opacity="0.6"/>
<circle cx="334.7" cy="633.2" r="0.4" fill="#dc8442" fill-opacity="0.7"/><circle cx="336.1" cy="639.8" r="0.5" fill="#dc8442" fill-opacity="0.7"/><circle cx="363.5" cy="542" r="0.5" fill="#dc8442" fill-opacity="0.7"/><circle cx="353.3" cy="493.6" r="0.6" fill="#dc8442" fill-opacity="0.7"/><circle cx="347.3" cy="622.3" r="0.5" fill="#dc8442" fill-opacity="0.7"/><circle cx="362" cy="527.1" r="0.6" fill="#dc8442" fill-opacity="0.7"/><circle cx="342.5" cy="584.1" r="0.5" fill="#dc8442" fill-opacity="0.7"/><circle cx="364" cy="622.1" r="0.6" fill="#dc8442" fill-opacity="0.7"/><circle cx="332.4" cy="630.2" r="0.6" fill="#dc8442" fill-opacity="0.7"/><circle cx="369.5" cy="618.4" r="0.5" fill="#dc8442" fill-opacity="0.7"/><circle cx="343.7" cy="617.9" r="0.4" fill="#dc8442" fill-opacity="0.7"/><circle cx="366.8" cy="586" r="0.7" fill="#dc8442" fill-opacity="0.7"/><circle cx="377.5" cy="550.1" r="0.5" fill="#dc8442" fill-opacity="0.7"/><circle cx="329.4" cy="554.6" r="0.6" fill="#dc8442" fill-opacity="0.7"/><circle cx="354.2" cy="585.9" r="0.5" fill="#dc8442" fill-opacity="0.7"/><circle cx="342.8" cy="507.2" r="0.5" fill="#dc8442" fill-opacity="0.7"/><circle cx="345.1" cy="610" r="0.7" fill="#dc8442" fill-opacity="0.7"/><circle cx="331.1" cy="530.6" r="0.4" fill="#dc8442" fill-opacity="0.7"/><circle cx="333" cy="597.7" r="0.5" fill="#dc8442" fill-opacity="0.7"/><circle cx="342.7" cy="489.6" r="0.5" fill="#dc8442" fill-opacity="0.7"/><circle cx="335.1" cy="533.1" r="0.5" fill="#dc8442" fill-opacity="0.7"/><circle cx="348" cy="565.4" r="0.5" fill="#dc8442" fill-opacity="0.7"/><circle cx="326.4" cy="553.2" r="0.5" fill="#dc8442" fill-opacity="0.7"/><circle cx="375" cy="550.3" r="0.6" fill="#dc8442" fill-opacity="0.7"/><circle cx="345.8" cy="562.7" r="0.6" fill="#dc8442" fill-opacity="0.7"/><circle cx="343.4" cy="633.7" r="0.4" fill="#dc8442" fill-opacity="0.7"/><circle cx="331.3" cy="634.5" r="0.5" fill="#dc8442" fill-opacity="0.7"/><circle cx="324.8" cy="568.5" r="0.5" fill="#dc8442" fill-opacity="0.7"/><circle cx="351.8" cy="486.8" r="0.4" fill="#dc8442" fill-opacity="0.7"/><circle cx="359.2" cy="540.8" r="0.4" fill="#dc8442" fill-opacity="0.7"/><circle cx="349.5" cy="590.3" r="0.6" fill="#dc8442" fill-opacity="0.7"/><circle cx="351.7" cy="530.1" r="0.5" fill="#dc8442" fill-opacity="0.7"/><circle cx="349.9" cy="478.4" r="0.6" fill="#dc8442" fill-opacity="0.7"/><circle cx="368.1" cy="569.6" r="0.4" fill="#dc8442" fill-opacity="0.7"/><circle cx="344.2" cy="537.2" r="0.4" fill="#dc8442" fill-opacity="0.7"/><circle cx="353.8" cy="586.6" r="0.5" fill="#dc8442" fill-opacity="0.7"/><circle cx="334.9" cy="554.1" r="0.6" fill="#dc8442" fill-opacity="0.7"/><circle cx="361.5" cy="623.5" r="0.6" fill="#dc8442" fill-opacity="0.7"/><circle cx="334.5" cy="512.5" r="0.6" fill="#dc8442" fill-opacity="0.7"/><circle cx="354.8" cy="572.1" r="0.7" fill="#dc8442" fill-opacity="0.7"/><circle cx="373.3" cy="512.4" r="0.7" fill="#dc8442" fill-opacity="0.7"/><circle cx="332.6" cy="525.8" r="0.7" fill="#dc8442" fill-opacity="0.7"/><circle cx="377.7" cy="515.3" r="0.5" fill="#dc8442" fill-opacity="0.7"/><circle cx="361.5" cy="611.5" r="0.6" fill="#dc8442" fill-opacity="0.7"/><circle cx="375.9" cy="568.4" r="0.5" fill="#dc8442" fill-opacity="0.7"/><circle cx="348.6" cy="547.6" r="0.6" fill="#dc8442" fill-opacity="0.7"/><circle cx="337.8" cy="534.9" r="0.4" fill="#dc8442" fill-opacity="0.7"/><circle cx="339.2" cy="604.5" r="0.6" fill="#dc8442" fill-opacity="0.7"/><circle cx="338.2" cy="619.8" r="0.5" fill="#dc8442" fill-opacity="0.7"/><circle cx="344" cy="633.7" r="0.6" fill="#dc8442" fill-opacity="0.7"/><circle cx="370.8" cy="504.1" r="0.6" fill="#dc8442" fill-opacity="0.7"/><circle cx="360.3" cy="609.1" r="0.5" fill="#dc8442" fill-opacity="0.7"/><circle cx="373.1" cy="602.6" r="0.5" fill="#dc8442" fill-opacity="0.7"/><circle cx="364.4" cy="600.2" r="0.7" fill="#dc8442" fill-opacity="0.7"/><circle cx="328.5" cy="569.4" r="0.6" fill="#dc8442" fill-opacity="0.7"/><circle cx="325" cy="542.6" r="0.7" fill="#dc8442" fill-opacity="0.7"/><circle cx="325.4" cy="568.8" r="0.7" fill="#dc8442" fill-opacity="0.7"/><circle cx="364.2" cy="516.8" r="0.4" fill="#dc8442" fill-opacity="0.7"/><circle cx="364.3" cy="525.2" r="0.6" fill="#dc8442" fill-opacity="0.7"/><circle cx="375.5" cy="590.1" r="0.6" fill="#dc8442" fill-opacity="0.7"/><circle cx="341.1" cy="512.5" r="0.5" fill="#dc8442" fill-opacity="0.7"/><circle cx="341.6" cy="553" r="0.4" fill="#dc8442" fill-opacity="0.7"/><circle cx="369" cy="521.9" r="0.4" fill="#dc8442" fill-opacity="0.7"/><circle cx="336.7" cy="529.3" r="0.5" fill="#dc8442" fill-opacity="0.7"/><circle cx="334.4" cy="511.9" r="0.5" fill="#dc8442" fill-opacity="0.7"/><circle cx="322.5" cy="559.5" r="0.6" fill="#dc8442" fill-opacity="0.7"/><circle cx="376.2" cy="560.2" r="0.5" fill="#dc8442" fill-opacity="0.7"/><circle cx="352.2" cy="560.8" r="0.7" fill="#dc8442" fill-opacity="0.7"/><circle cx="328.2" cy="518" r="0.5" fill="#dc8442" fill-opacity="0.7"/><circle cx="330.7" cy="596.9" r="0.4" fill="#dc8442" fill-opacity="0.7"/><circle cx="380.5" cy="564.9" r="0.6" fill="#dc8442" fill-opacity="0.7"/><circle cx="347.7" cy="628.5" r="0.6" fill="#dc8442" fill-opacity="0.7"/><circle cx="352.9" cy="525.2" r="0.7" fill="#dc8442" fill-opacity="0.7"/><circle cx="355.6" cy="514.8" r="0.6" fill="#dc8442" fill-opacity="0.7"/><circle cx="352" cy="482" r="0.7" fill="#dc8442" fill-opacity="0.7"/><circle cx="353.6" cy="634.8" r="0.6" fill="#dc8442" fill-opacity="0.7"/><circle cx="334.1" cy="554.2" r="0.6" fill="#dc8442" fill-opacity="0.7"/><circle cx="376.2" cy="576.1" r="0.4" fill="#dc8442" fill-opacity="0.7"/><circle cx="344.7" cy="630" r="0.5" fill="#dc8442" fill-opacity="0.7"/><circle cx="367.4" cy="571.4" r="0.4" fill="#dc8442" fill-opacity="0.7"/><circle cx="331.8" cy="563.9" r="0.4" fill="#dc8442" fill-opacity="0.7"/><circle cx="362.7" cy="633.7" r="0.4" fill="#dc8442" fill-opacity="0.7"/><circle cx="360.7" cy="577.7" r="0.7" fill="#dc8442" fill-opacity="0.7"/><circle cx="343.8" cy="630.4" r="0.6" fill="#dc8442" fill-opacity="0.7"/><circle cx="352" cy="489.6" r="0.5" fill="#dc8442" fill-opacity="0.7"/><circle cx="344.3" cy="521.5" r="0.5" fill="#dc8442" fill-opacity="0.7"/><circle cx="375" cy="526.7" r="0.6" fill="#dc8442" fill-opacity="0.7"/><circle cx="368.2" cy="620.2" r="0.5" fill="#dc8442" fill-opacity="0.7"/><circle cx="344" cy="525.2" r="0.6" fill="#dc8442" fill-opacity="0.7"/><circle cx="339.9" cy="576" r="0.6" fill="#dc8442" fill-opacity="0.7"/><circle cx="373.3" cy="593.1" r="0.6" fill="#dc8442" fill-opacity="0.7"/><circle cx="337.1" cy="611.3" r="0.5" fill="#dc8442" fill-opacity="0.7"/><circle cx="378.6" cy="539.8" r="0.6" fill="#dc8442" fill-opacity="0.7"/><circle cx="353.6" cy="577.3" r="0.5" fill="#dc8442" fill-opacity="0.7"/><circle cx="359.1" cy="592.3" r="0.5" fill="#dc8442" fill-opacity="0.7"/><circle cx="360.6" cy="541.5" r="0.5" fill="#dc8442" fill-opacity="0.7"/><circle cx="345.6" cy="557.8" r="0.6" fill="#dc8442" fill-opacity="0.7"/><circle cx="374" cy="596.3" r="0.5" fill="#dc8442" fill-opacity="0.7"/><circle cx="363.1" cy="504.7" r="0.7" fill="#dc8442" fill-opacity="0.7"/><circle cx="333.7" cy="515.8" r="0.7" fill="#dc8442" fill-opacity="0.7"/><circle cx="370" cy="592.5" r="0.6" fill="#dc8442" fill-opacity="0.7"/><circle cx="375.3" cy="518.4" r="0.7" fill="#dc8442" fill-opacity="0.7"/><circle cx="347.7" cy="623.9" r="0.4" fill="#dc8442" fill-opacity="0.7"/><circle cx="354.4" cy="546.1" r="0.7" fill="#dc8442" fill-opacity="0.7"/><circle cx="381.8" cy="535.8" r="0.4" fill="#dc8442" fill-opacity="0.7"/><circle cx="329.1" cy="587.3" r="0.7" fill="#dc8442" fill-opacity="0.7"/><circle cx="365.1" cy="521.5" r="0.6" fill="#dc8442" fill-opacity="0.7"/><circle cx="364.5" cy="504.6" r="0.6" fill="#dc8442" fill-opacity="0.7"/><circle cx="323.5" cy="547.3" r="0.6" fill="#dc8442" fill-opacity="0.7"/><circle cx="334.6" cy="530.7" r="0.6" fill="#dc8442" fill-opacity="0.7"/><circle cx="337.2" cy="553.4" r="0.6" fill="#dc8442" fill-opacity="0.7"/><circle cx="347.1" cy="496.6" r="0.6" fill="#dc8442" fill-opacity="0.7"/><circle cx="367.6" cy="493" r="0.6" fill="#dc8442" fill-opacity="0.7"/><circle cx="364.4" cy="615.8" r="0.6" fill="#dc8442" fill-opacity="0.7"/><circle cx="353.3" cy="588.5" r="0.5" fill="#dc8442" fill-opacity="0.7"/><circle cx="343" cy="550.5" r="0.7" fill="#dc8442" fill-opacity="0.7"/><circle cx="366.4" cy="623.5" r="0.7" fill="#dc8442" fill-opacity="0.7"/><circle cx="386.3" cy="570.7" r="0.6" fill="#dc8442" fill-opacity="0.7"/><circle cx="351.5" cy="498.9" r="0.6" fill="#dc8442" fill-opacity="0.7"/><circle cx="361.3" cy="488.1" r="0.5" fill="#dc8442" fill-opacity="0.7"/>
<polyline points="356.6,458.8 366.7,479 376.8,510.8 384,545.4 388.3,568.6 378.2,597.4 366.7,626.3 362.3,640" fill="none" stroke="#e89a5a" stroke-width="1" opacity="0.5"/>
<polyline points="319,545.4 326.2,519.4 337.8,487.7 347.9,464.6 353.7,459.4" fill="none" stroke="#f0b070" stroke-width="1" opacity="0.35"/>
<linearGradient id="ebf" x1="0" y1="0" x2="1" y2="0"><stop offset="0" stop-color="#f2c460"/><stop offset="0.6" stop-color="#eeb658"/><stop offset="1" stop-color="#dc9046"/></linearGradient>
<polygon points="319.3,542.3 323.3,574.3 329.1,603.2 333.4,640 291.5,640 297.3,606 308.9,568.6" fill="url(#ebf)"/>
</g>
<rect x="221.6" y="542.2" width="78" height="1.3" fill="#eaa058" opacity="0.75"/>
<rect x="262" y="543.6" width="145.2" height="1.2" fill="#7a2406" opacity="0.7"/>
<rect x="340" y="542.2" width="67.2" height="1.2" fill="#e89a50" opacity="0.5"/>
<line x1="269.2" y1="559" x2="280.4" y2="622" stroke="#f8e8d0" stroke-width="0.8" stroke-dasharray="1.5 1.2"/>
<circle cx="321" cy="541" r="1" fill="#fff4e0"/>
<circle cx="324" cy="539" r="1" fill="#fff4e0"/>
<circle cx="327" cy="538" r="1" fill="#fff4e0"/>
<circle cx="330" cy="536" r="1" fill="#fff4e0"/>
<circle cx="333" cy="535" r="1" fill="#fff4e0"/>
<circle cx="325" cy="534" r="1" fill="#fff4e0"/>
<circle cx="318" cy="543" r="1" fill="#fff4e0"/>
<circle cx="335" cy="528" r="1" fill="#fff4e0"/>
<circle cx="337" cy="524" r="1" fill="#fff4e0"/>
<polyline points="319.3,542.3 308.9,568.6 297.3,606 291.5,638" fill="none" stroke="#fce0a8" stroke-width="0.8" opacity="0.7"/>
<line x1="333.4" y1="497.8" x2="384" y2="497.8" stroke="#f0d8c8" stroke-width="0.6" opacity="0.7"/>
<polyline points="304.6,499.2 315,498 325,497 333.4,496.3 336,494 336.8,460.2 338,478 339.2,480.4 341,479 343,480 345,478.5 347,478.5 349,480 352,479 354,480.5 356,480 358,481.5 360,481 363,480 365,480.5 368,482 370,482 372,480.5 375,481.5 378,482.5 380,483 384,483.3" fill="none" stroke="#f6ece4" stroke-width="0.9" stroke-linejoin="round" />
<line x1="280" y1="635" x2="337.8" y2="635" stroke="#f0d8c8" stroke-width="0.8" opacity="0.7"/>
<polyline points="292.8,633 293.2,535.3 294.4,550 295.9,562.8 298,566.5 300.2,568.6 304,571 307.4,573 310,574.5 312,573 314,575 316,575 318,573.5 320,574.5 322,576.5 325,575.5 327,574 330,575 333,577 336,577 339,578.5 342,579 345,579.5 348,580.5 352.2,581.6" fill="none" stroke="#f6ece4" stroke-width="0.9" stroke-linejoin="round" />
<line x1="339.2" y1="466.6" x2="353.7" y2="466.6" stroke="#40c040" stroke-width="1.6"/>
<line x1="306" y1="571.4" x2="320.4" y2="571.4" stroke="#40c040" stroke-width="1.6"/>
<text x="353.3" y="493.5" font-family="Liberation Sans" font-size="10.5" letter-spacing="1" fill="#fbf1e8">8.2 nM</text>
<text x="310.3" y="614.5" font-family="Liberation Sans" font-size="11.5" letter-spacing="0.4" fill="#fbf1e8">24.7 nM</text>
<text x="359.4" y="631.8" font-family="Liberation Sans" font-size="11" letter-spacing="1" fill="#fbf1e8">10 μM</text>
<rect x="350.8" y="635.6" width="53.4" height="1.6" fill="#fff"/>
<text x="222.3" y="469.6" font-family="Liberation Serif" font-size="19.5" fill="#f4dcc8">(e)</text>
</g>
<rect x="408.9" y="453.4" width="7" height="185.6" fill="none" stroke="#ddd" stroke-width="0.8"/>
<rect x="409.7" y="454" width="5.5" height="184.6" fill="url(#cbar)"/>
<text x="416" y="457.1" font-family="Liberation Sans" font-weight="bold" font-size="5" fill="#444">50.0 nm</text>
<text x="416" y="475.1" font-family="Liberation Sans" font-weight="bold" font-size="5" fill="#444">45.0</text>
<text x="416" y="493.2" font-family="Liberation Sans" font-weight="bold" font-size="5" fill="#444">40.0</text>
<text x="416" y="511.2" font-family="Liberation Sans" font-weight="bold" font-size="5" fill="#444">35.0</text>
<text x="416" y="529.2" font-family="Liberation Sans" font-weight="bold" font-size="5" fill="#444">30.0</text>
<text x="416" y="547.2" font-family="Liberation Sans" font-weight="bold" font-size="5" fill="#444">25.0</text>
<text x="416" y="565.3" font-family="Liberation Sans" font-weight="bold" font-size="5" fill="#444">20.0</text>
<text x="416" y="583.3" font-family="Liberation Sans" font-weight="bold" font-size="5" fill="#444">15.0</text>
<text x="416" y="601.3" font-family="Liberation Sans" font-weight="bold" font-size="5" fill="#444">10.0</text>
<text x="416" y="619.4" font-family="Liberation Sans" font-weight="bold" font-size="5" fill="#444">5.0</text>
<text x="416" y="637.4" font-family="Liberation Sans" font-weight="bold" font-size="5" fill="#444">0.0</text>
</g></svg></body></html>
